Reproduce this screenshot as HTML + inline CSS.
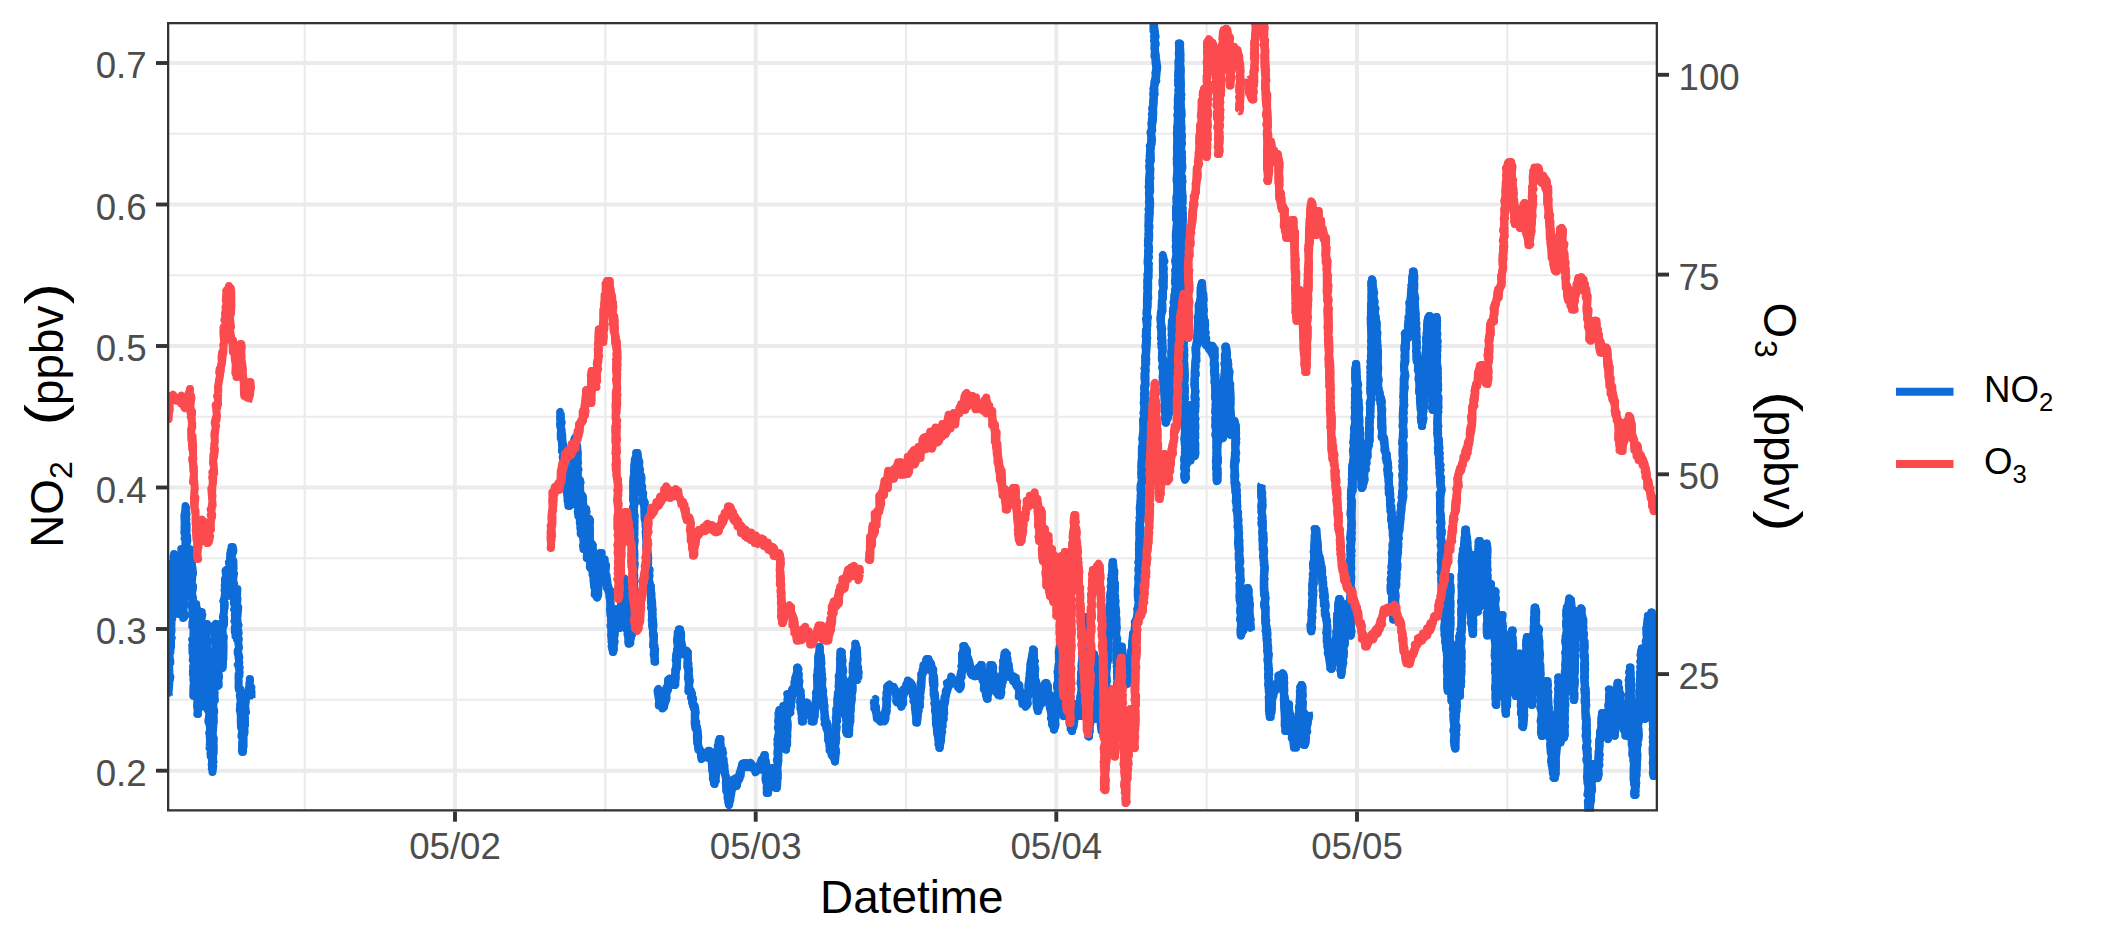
<!DOCTYPE html><html><head><meta charset="utf-8"><title>NO2 / O3 time series</title><style>html,body{margin:0;padding:0;background:#fff}svg{display:block}text{font-family:"Liberation Sans",sans-serif}</style></head><body>
<svg width="2125" height="944" viewBox="0 0 2125 944">
<rect width="2125" height="944" fill="#fff"/>
<defs><clipPath id="cp"><rect x="167" y="22" width="1491" height="789.5"/></clipPath></defs>
<g clip-path="url(#cp)">
<g stroke="#EBEBEB" fill="none">
<line x1="167" x2="1658" y1="133.8" y2="133.8" stroke-width="2.1"/>
<line x1="167" x2="1658" y1="275.2" y2="275.2" stroke-width="2.1"/>
<line x1="167" x2="1658" y1="416.8" y2="416.8" stroke-width="2.1"/>
<line x1="167" x2="1658" y1="558.2" y2="558.2" stroke-width="2.1"/>
<line x1="167" x2="1658" y1="699.8" y2="699.8" stroke-width="2.1"/>
<line y1="22" y2="811.5" x1="304.7" x2="304.7" stroke-width="2.1"/>
<line y1="22" y2="811.5" x1="605.3" x2="605.3" stroke-width="2.1"/>
<line y1="22" y2="811.5" x1="906" x2="906" stroke-width="2.1"/>
<line y1="22" y2="811.5" x1="1206.6" x2="1206.6" stroke-width="2.1"/>
<line y1="22" y2="811.5" x1="1507.3" x2="1507.3" stroke-width="2.1"/>
<line x1="167" x2="1658" y1="63" y2="63" stroke-width="3.9"/>
<line x1="167" x2="1658" y1="204.5" y2="204.5" stroke-width="3.9"/>
<line x1="167" x2="1658" y1="346" y2="346" stroke-width="3.9"/>
<line x1="167" x2="1658" y1="487.5" y2="487.5" stroke-width="3.9"/>
<line x1="167" x2="1658" y1="629" y2="629" stroke-width="3.9"/>
<line x1="167" x2="1658" y1="770.7" y2="770.7" stroke-width="3.9"/>
<line y1="22" y2="811.5" x1="455" x2="455" stroke-width="3.9"/>
<line y1="22" y2="811.5" x1="755.7" x2="755.7" stroke-width="3.9"/>
<line y1="22" y2="811.5" x1="1056.3" x2="1056.3" stroke-width="3.9"/>
<line y1="22" y2="811.5" x1="1357" x2="1357" stroke-width="3.9"/>
</g>
<g fill="none" stroke-width="8.0" stroke-linejoin="round" stroke-linecap="butt">
<g stroke="#0E6CD9">
<path d="M169 696l-0.6 -3.8 0 0.7 0.5 -3.3 0.4 -6.6 -0.1 -2.4 -0.6 -2 1.4 1 -1 -5 1.4 2.3 -1 -2.7 -0.5 1.3 0.5 -3.3 -0.3 -8.7 1.3 -0.7 -0.3 -3.4 -0.1 0.6 -0.1 -1 -0.5 -3 0.4 -6.6 0.5 3.3 0.4 -5.5 -0.4 -1 0.8 0.9 -0.1 -7.2 0 0.1 0.7 -2 -1 -0.3 -0.3 0 1.2 -7.2 -0.4 -4.6 0.3 -3.2 -0.1 4.3 -0.4 -1.2 0.5 -3.8 -0.2 -3.3 0.9 0.2 -0.4 -5.5 0.1 -6 0.5 3.1 -1.2 -0.6 0.7 -6.1 -0.3 -5.5 -0.6 -0.9 1.2 -3.2 -0.9 -1.5 1.2 0.1 -0.7 -5 0.8 2 0 0.3 -0.6 -5.1 0 -4.2 1 -1.5 -1.2 3.2 0.3 -9.3 0.6 -1.7 -0.3 1 0.5 -7.5 0.4 1.1 0.3 3 0 -6.1 -0.8 -0.8 1.4 -0.2 0.2 -2.4 -0.4 -5.6 -0.1 1.2 0.5 -0.4 -0.9 1.8 0.3 3.5 -0.1 3.4 0.2 -0.9 0.5 3.1 1 1.6 -1.2 7.4 0.5 -1 -0.3 3.2 1.6 6.5 -0.8 -1.2 -0.6 -1.3 0.4 4.5 -0.1 6.6 1.5 -5.1 -1.3 6.8 -0.1 2.3 1.8 2.1 -0.8 1.9 0.7 5.6 -0.3 -3.1 1.1 1.5 0.3 5.6 -0.6 0.5 0.8 3.9 1 0 -0.3 -1.1 0 -2.5 -0.3 -7.5 -0.8 -1 0.5 -5.1 0.8 -0.1 -0.4 4.1 1.1 -2.3 -1 -2 -0.2 -8.8 0 -2.3 1.4 1.6 -0.7 -0.2 0.6 -3.8 -0.1 -7.3 0.3 5.3 -0.5 -3.6 0.6 -7.3 0.1 -0.8 -0.6 3.6 1.1 -7.3 -1.4 0.7 0.1 -7.3 0.7 1 1 1 0.4 -8.6 0.1 5.3 0.2 -7.8 0.3 -0.9 -0.8 0 1.2 8.7 0.5 -1.8 0 1.4 -1.2 5.8 0.2 -3 0.6 2.1 -0.3 2.4 1 1.1 -0.8 4.2 0.9 4.3 0 0.8 -0.6 3 -0.9 2.4 0.4 1.4 1.1 -1.7 -0.5 3.8 0.2 7.2 0 -1.4 0.5 4.3 -0.4 -1.8 -0.4 3.5 0.4 6.9 0.5 0.4 -0.5 5.4 0.2 -0.5 0.4 1.3 -0.3 1.7 0.8 2.5 -0.1 4.2 -0.6 0.4 -0.4 0 1.3 -3.9 -1.4 0.4 0.6 -8.7 -0.4 -2.6 0.8 -2.2 0.5 4.2 -0.3 -7.9 -1 2.4 1.5 -0.2 0 -8.2 -0.8 -0.6 0.7 3.2 -0.7 -9.7 -0.1 1 0 -5.1 -0.5 2.6 0.8 -3.7 -0.2 -7.1 0.4 3.3 0.9 -7.2 0 4.3 -1.2 -8.4 0.9 -2.7 -1.1 -0.2 1.5 -0.8 -1.2 1.4 1.3 -8.2 -0.4 1.5 -1.1 -6.5 0.7 3.2 0.9 -7.7 -0.2 2.8 0.2 -7.1 0 -2.4 -0.9 1.3 1.1 -1.3 -1.4 -4.7 0.3 0.1 -0.1 -6 0.1 -2.7 0.2 0.2 0 1.8 -0.2 -4.5 -0.2 -3.6 0 -3.1 1 2.2 -0.1 -7.1 -0.6 4.5 0.6 -3.2 0.2 -5.1 0.7 2.1 -0.6 1.3 0.9 4.8 -0.2 -1 -0.3 5.5 -0.4 -0.6 -0.3 -1 1.1 2.3 -1 3.8 1.3 0.7 -0.2 9.2 -0.7 -3.1 0.4 2.2 0 1 1 3.1 -0.7 8.5 0.9 -4.4 -1.1 2.8 0.1 -0.7 0.3 6.5 0.1 -0.3 -0.4 0.4 0.3 2.9 -0.6 1.7 0.9 6.3 -0.4 0.5 0.7 4.8 0.4 3.7 0.5 1.9 -0.9 -0.6 -0.2 7.6 1 -0.1 0.5 -3.9 -0.2 9.9 0.4 0.8 -0.4 -3.1 0.7 5.5 0.1 5 0.3 0.3 -0.3 3.1 -0.2 0.6 -0.8 -4.7 0.6 -3.1 0.9 -2.5 -0.3 1.9 0.2 -1.7 -1.2 -3.4 1.4 0.5 -0.4 -4.9 -0.8 -0.8 0.4 -1.5 0.1 -8.2 -0.1 3.6 1.5 -2.1 -1 -4.5 0.5 -2.4 0 0.4 -1 -3.4 0.4 -6.7 0.2 3.2 -0.5 -3.9 0.9 -2.8 -0.1 0 1.1 5.9 -0.4 2.2 0.7 0.7 -0.3 1.7 1 2.5 -0.5 5.8 1.3 3 -0.8 -6.5 1 9.5 -1.3 -1.1 1.3 0.1 -0.7 2.2 0 1.6 -0.7 9.5 0.7 1.1 0.4 2.8 0.4 -3.7 -1.6 4.5 0.9 -2.1 -0.3 6.3 0.1 -0.6 0.9 3.8 -0.1 -0.6 -1.1 9.8 1.1 3 -0.8 2 0.2 -2.5 0.4 7.8 -0.2 -3.5 -0.7 1.5 1.4 0.7 0.3 3.8 -1.2 1.9 -0.1 4.6 1.4 1 -0.3 6.8 0.3 0 -0.7 5 -0.8 0.2 0.8 0.3 0 4.3 0.3 2.5 -1 -2 0.2 8 0.4 -1.9 0.8 0.7 -0.9 8.4 0.2 -0.7 0.2 1.4 -0.4 -1.3 1.4 2.6 -1.2 4.9 1.4 5.9 -1.5 -1.9 0 -0.1 0 3.6 0.3 1.3 1.2 5.2 -0.8 3.9 0.2 -0.8 -0.3 1.9 0 -0.6 -0.3 10.4 1 -1.9 -0.2 2.2 -0.5 0 0.1 -6.4 0.4 -1.1 0.7 2.8 -1.4 -2.9 1.2 -9.8 -0.4 5.6 -0.8 -4.9 1.7 -4 -0.1 1.7 -1.1 -0.8 -0.1 -10 0.9 1.5 0.1 1.6 0.1 -4.8 -0.3 -3.9 0.4 -6 0.3 -0.4 -1.1 1.5 -0.1 -6.9 0.9 2.4 -1.1 -6.9 0.9 1.5 -0.6 -3.4 -0.4 -0.3 0.8 -4.8 0.4 3.7 -0.3 -2.9 -0.4 -8 0.9 4.3 -1.2 -8 1.2 -0.5 -0.8 -2.9 1.3 0 -1.6 -6.1 0.7 -1.2 -0.4 0.9 1 -1.2 -0.9 -4.8 0.2 2 -0.1 -3.5 0.5 -5.1 1.2 0 0.3 5 0.8 0.3 -1.3 4 0.4 -0.2 1 6.1 -1 -2.4 1 2.8 -1.6 1.5 0.6 1.5 0.9 9.7 0.2 0.7 -1.2 4 1.1 -4.6 -1.6 7.3 0.7 1.4 -0.1 -0.4 -0.6 0.4 0.7 3.1 -0.4 8.3 0.1 2.3 1.1 -3.3 -0.6 6.4 0 -4.8 0.9 5.1 -1 0.6 -0.6 8.5 1.4 -2.2 -1.4 5.4 0.1 -4.4 0.4 10.2 1.1 0.6 -1.1 -1.5 0.6 7.8 0.2 -4.1 -0.7 2.7 0.8 -0.6 -0.2 9.8 -0.2 -1 -0.8 6.2 0.9 -4.2 1 8.7 -1.2 -3 0.5 2.6 -0.4 6.6 1.1 1.1 0.1 2.4 -0.7 0.2 0.2 -0.4 0.3 3.8 -0.7 0 1.3 -7.1 -1.2 -1.7 0.9 -4.1 0.9 0.4 0 2.9 -1.5 -7.8 0.8 -3.6 -0.1 3.3 0 -6.5 0.6 1.3 0.3 -1 -1.2 -2.9 0.4 -0.6 0.2 -4.6 -0.3 -0.7 0.1 -6.6 1.3 -3 -1 1.7 1.3 -3.9 -1.3 -1.1 0.8 0.5 -1 -0.5 1.4 -6.9 0.2 1.2 -1 -9.4 -0.2 -1.5 0.8 5.5 -0.3 -2.5 0.2 -2.8 0.6 -7.6 -1.1 4 1 -5.4 -0.2 -3 -0.1 -4.7 -0.2 -2.8 0.8 -1.2 -0.6 1.4 0.4 -7.9 -0.2 3.9 0.2 -5.5 0.7 2.2 -0.7 -8.7 0.9 0.8 -0.7 0.1 1.2 -5.6 -0.2 0 -0.3 1.4 1.2 1.3 -0.6 2.2 -0.3 2.6 1.1 6.7 -1.4 -2.3 0.1 5.5 1.3 -4.3 -0.1 6 0.2 2 -1.3 2.7 0.8 -1.8 0.7 7.8 -0.5 -2.8 -0.2 4.7 -0.3 0.2 1.2 5.6 -0.7 -1.5 0.9 8.4 -1.5 -3.3 1.6 9 -1.6 -2 0.6 6.2 0.5 2 -0.8 1.5 0.2 1.8 1.1 -1.2 -1.1 6 0.4 -3.3 0 4.9 0.3 2 -0.3 -1 1.3 7.5 -0.4 -3.9 -0.8 8.7 0.3 3 1 0.1 -0.3 2.5 0.7 0.4 0.3 2.3 -0.2 2.4 0.4 -1.5 0 6.5 -0.4 -2.3 1 0.2 -1.1 -5 -0.1 -2.1 0.6 -5.3 0.1 -2.6 -0.7 1.6 0.1 -1.1 1.3 -1.4 -1.3 -4.2 0.6 -2.3 -0.4 1.8 1.6 -3.1 -0.3 -3.4 0.4 -7.1 0 0.5 -1.4 1.6 1.4 -3.4 -1 -8.7 -0.3 3.9 0.2 -0.9 -0.2 -3 1.4 -5 -1.1 -4.9 0.1 0.4 -0.2 -6.4 1.4 -1.1 -0.1 2.4 -0.1 -6.8 -0.5 0.7 0.2 -5.8 -0.2 2.5 0.5 -0.2 0.8 -4.9 0.3 -6.6 -0.9 2.5 0.3 -3.5 -0.4 4.9 0.6 3.9 0.4 -3.5 -1.1 2.9 -0.2 4.8 0.4 2.9 1.4 0.6 -0.6 1.6 -1.1 -0.2 0.3 -0.4 0.5 7.4 0.9 1.3 -1.2 -1.3 -0.4 6.9 0.7 -3.7 0 3.1 0.4 3.2 -0.6 5.5 0.5 2.5 0.9 -2.3 -1.4 3.2 0.9 0.8 0.3 9.2 -0.9 -2.1 0.7 -1.3 -0.5 7.1 0.2 2.9 0.5 4.8 0.4 -4 -0.7 0.3 -0.5 5.5 1 -1 -0.4 1.8 -0.7 9.7 0.7 -1 0.3 -0.5 0.2 5 -0.8 5 0.4 -2.3 1.2 -0.2 -0.2 8.9 0.3 -4.8 -0.6 8.9 0.1 2.2 -0.5 -2.4 0 2.2 1.4 3.2 0.3 5.4 -1 2.4 0.5 0.8 0.2 4.4 0.3 -2.5 -0.1 4.3 -0.3 6.3 -0.2 1.4 0.5 -3.5 1.5 6.5 -1 2.2 0.2 3.3 1.2 -3.6 -0.2 5.6 0.7 2.5 -0.1 0.4 0.2 4.1 -0.1 -0.2 -0.6 3.4 0.8 -1.1 -0.1 4.7 0.8 -6 -1.6 -1.6 1.7 -2.5 -1.4 0 -0.1 -5.1 1.1 3.8 0.2 -2.1 -0.2 -7.9 0.5 0.5 0.2 2 0 -9 0.1 5.4 -1.2 -9.4 -0.3 -2.1 1.4 4.4 0.1 -4.1 -0.9 -2.2 -0.3 -7 0.2 3.8 0.5 -6.2 -0.3 -4.8 0.9 0.1 -0.7 -1.4 0.4 3.2 0.2 -3.2 -0.3 -9.5 0.7 1.4 -0.1 -3 -0.8 -0.4 -0.2 0.7 0.2 -2.6 0.1 -8.2 0.6 1 0.9 0.2 -0.8 -9 0.6 2.2 -0.5 -4.9 0.6 -0.7 0.3 -3 -1.3 -1.9 0.5 1.5 0.3 -7.5 0.3 -2.4 0.1 3.4 -0.7 -2.8 0.1 -4.2 -0.5 2.2 -0.1 -2.2 0.5 -8.3 0.4 4.1 0.8 -6.9 -0.8 -3.5 0.6 0.6 -0.1 -0.2 -0.6 -5.8 1 -3.9 -0.1 2.3 -0.5 -6.6 0.3 3.3 -0.2 -8 -0.4 4.7 0.2 -8.4 1 2.4 -1.2 -7.1 0.4 -1.4 -0.3 0.3 0.1 -3.9 0.6 -0.6 0.5 6.5 0.5 -5.6 -0.9 2.3 0.8 10.2 -0.5 -0.1 0.4 -2.5 -0.7 1.4 -0.2 4.8 1.5 2.3 -0.5 4.9 0.1 1.7 0.3 -2.1 0.4 4.6 -0.5 6.8 0.7 -0.8 -0.4 1.6 -0.4 1.5 1.3 4.8 -0.3 2.7 0.1 2.8 -0.4 0.3 0.4 -0.8 -0.3 0.2 0.7 8.4 -0.8 0.8 0.5 0.3 0 3.9 0.2 1.1 0.8 -0.6 -0.4 -6.7 -0.4 3.2 1.1 -4.8 -0.8 -6.3 0.5 -1.1 -0.4 4.8 0.2 -9.8 0.3 1.7 -0.1 -2.4 -0.2 0.6 0.8 -6 -0.4 -4 0.2 -0.6 0.5 -4.6 -1.6 -0.1 0.6 -3 0.1 -4.5 0.6 1.4 -0.8 -2.8 1 -3.4 -0.4 4.2 0.6 -8.7 -1 -0.6 1 -4.6 -0.2 3.9 0 -5.3 -0.1 -1.9 1 0 -0.3 3.2 0.5 6.5 -0.7 -0.8 -0.1 3 0.6 4.8 0.5 -0.7 -0.3 5.3 0.1 -2.1 0 2.6 1.1 -1.7 -0.8 4.7 0.6 2.3 0.4 3.3 -0.4 4.3 1 4.5 0 -5.6 0.1 9.7 0.2 -4.7 -0.5 5.4 -0.8 -1 1.7 -7.8 -1.2 3.6 -0.1 -7.2 1.1 -1 -1 -1.1 1.2 2.8 0.2 -8.8 -0.2 1.7 0.3 -1.6 -0.1 -1.1 -0.2 -7.5 0.2 0.8 0.3 -3.1 -1.1 -1.1 -0.2 -5.1 -0.1 0.1 0.2 -2.4 0.7 -2 0.7 -1.7 0 -7 -0.4 2 0.5 -0.5 -0.7 -4.8 -0.6 3.1 1.1 -5.1 0 -7.7 0.6 3.7 0.2 -5.3 -0.9 -0.6 0.1 -2.3 -0.7 1 1.2 -3.3 0.6 -5.6 -0.6 -1.9 0.7 -0.7 -0.5 -5 0.4 -0.2 -0.3 1.5 0.3 -2.1 -0.1 -5.1 1.4 -2.1 -0.2 -0.8 -0.7 -5.1 0.5 -0.6 0.3 0.4 0.5 5.1 0.1 -3.1 -0.2 9.7 -0.2 -5.3 -0.1 1.8 1 10.4 0.5 -0.2 -0.2 4.4 0.2 -0.5 0.1 2.9 0 0.4 -0.4 -0.6 0.6 -2.4 -0.5 -1.4 0 -7.5 1.7 3.1 -0.9 -3.3 0.9 -0.7 -0.8 -4.6 0.4 -4.6 0.1 -2.1 1.1 0.6 -0.6 -7.5 -0.7 -2.4 1 4.7 -0.1 -1.3 0.2 -6 0.2 -6.5 1.4 3 -0.5 1.3 -0.3 -7.3 0.6 0 0.9 -3.5 -0.8 0 1.3 0 0.6 3.2 -0.2 1.9 -1.4 2.6 0.5 7.5 -0.1 2.4 1.2 -4 0.2 8.2 -1.3 2.4 1.2 1.2 0.4 0.7 0.2 0.4 -1.7 6.4 1.2 -4.1 -0.9 9.4 1.2 -2.4 0.3 0.9 -1.3 5.1 1 1.2 0.2 2.8 0.3 -0.4 -0.2 4.2 -0.2 3.4 -0.1 3.4 0.8 0.1 0.1 7.3 -0.8 -1.2 1.3 -2.3 -0.1 8 -0.4 -1.1 0.5 8.1 -0.8 -1.1 1.1 0.7 -0.2 1.7 0.4 4.3 -1 4.1 0.1 -5 0.7 6.1 -0.1 2.9 0.8 0 -0.1 -8.6 0.2 4.7 -1 -4.4 1 0.3 0.3 -3.8 -1.4 -5.2 1.3 -0.4 0 -5.4 -0.9 4.3 0.9 -5.2 -0.8 -3.5 1.1 -4.1 -0.5 2.6 0.7 -8.6 -0.9 3.9 1.2 -3.9 -0.6 0.5 0.2 -5.9 -0.6 -4.3 0.6 0 0.4 0 -0.2 3.2 0 2.6 -0.8 -0.1 0.6 9.9 0.5 -5.8 -0.8 8.3 0.4 0.5 -0.6 1.5 1.8 -2.1 -0.8 9.7 -0.4 -0.5 0.3 4.1 0.7 3.8 0.4 1 -1.6 -2.8 0.3 1.7 -0.2 1.2 1.5 6.4 0.2 1.4 -1.6 6.3 0.7 -0.6 0.2 1.3 0.9 -1 -0.7 3.2 0.8 5.6 -0.9 2.4 -0.4 0.2 1.6 6.8 -1.7 -4.5 0.7 2.5 1 8 -1.5 1.6 1.3 1.7 0.6 0.9 -1.5 -3.1 1.5 8.4 -1.1 1.5 0.9 1.4 -0.7 -2.2 -0.3 3.5 0.1 4.2 0.1 0 -0.2 6.2 0.4 2.5 0.6 0.2 0.9 -1 0.1 2.8 0 7.9 -0.7 -4.4 1 1.8 -0.4 8.8 -0.4 -1.3 0.3 5.5 -0.5 0.3 0 -1.5 1 6.6 0.7 -3 -0.8 3.3 0.3 4.2 -0.3 -1 0.3 8.3 0.4 -3.9 0.9 3.5 0.2 0.3 0 1.6 -1.1 7.6 0.3 0.5 0 0.1 1.5 3.1 0 7.8 -1 -5.9 -0.3 9.3 0.6 0.6 0.5 0.1 -0.7 0 0.7 -1.5 -0.5 -8.1 1.1 4.1 0 -8 -0.3 4.4 0 -5.2 1.3 -5.6 -0.9 2.6 -0.1 -7.8 0.9 2.6 -0.4 -5.1 1 0.9 -0.1 -0.4 0 -4.9 -0.7 -4.8 0.7 2.6 -0.6 -2.3 0.6 -1.4 1.1 -1.9 -1.5 -5.3 0.9 1.6 -0.3 -2.5 1.1 -8.3 -1.1 -0.6 0.9 -2.1 -0.1 -1 1 -1.6 1 3.6 0.3 -2.6 0.5 -5.1 0.5 4.2 0 -6.6 0.3 -1.6 0.4 -5 -0.4 5.9 0.2 -6.2 0.2 2.2 -0.7 2.4 0.6 5.9 -0.1 -4.9 1.5 2.7 -1.1 0.1 0.4 8.2 0.9 -4.1 0 6.5"/>
<path d="M560.7 413l0.1 2.8 -0.7 3.2 1.1 3.7 -1 -5.3 0.7 6.1 -0.7 0.2 0.1 3.2 1.3 3.8 -0.6 1.3 0.3 -1 -0.5 7.5 1.6 2.9 -0.7 -1.8 0.4 6.2 1 -1.8 -0.9 5.6 0.2 -2.7 1.4 3.9 0.1 5.5 0.1 2.2 -0.4 -4.7 0.2 6.2 1.1 6.3 -0.7 -4.2 0.2 5.6 -0.2 1.3 1.1 1.3 -0.4 -1.5 1.4 10.7 0.1 1.9 0.7 1 -1.2 2.6 1.1 -1 -0.3 3.4 0.2 2.4 1.3 0.9 -1 2.8 0.4 1.2 -0.1 6 0.8 -3.8 0.1 0.5 0 8.6 0.1 -1 1 0.7 0.1 -4.3 -0.4 0.3 0.1 -5.9 0.6 -0.6 -0.1 -2.3 0.7 -3.9 0.2 4.6 0.3 -4.6 0.2 -5 -0.2 0 0.4 2 0.1 3.8 -0.1 -0.3 0.8 1.6 0.3 4.9 0.2 -3.3 -0.3 -5.5 -0.2 5.4 0.5 -5 1 -4.6 -0.3 -2.1 -1.2 -3.5 0.7 4.2 0 -9.5 0.7 1.2 -0.9 -5.2 1 5.4 -0.6 -9.4 0.6 -0.5 0.4 0.2 -0.5 -0.4 0.4 -2.9 -0.4 -2.1 0.5 -2 -1 -1 -0.1 -2.6 1.1 -3.2 -0.1 -4.6 1.3 -1.9 -0.5 -1.3 1.2 0.1 -0.2 -4.5 0 3.2 0.3 0.8 0 4.6 0.6 -0.8 -0.2 2.2 1.2 5.8 -0.5 -0.4 0.3 2.2 -0.3 -0.7 0.5 1.9 -0.8 6.1 0.4 5.2 1 1.5 -1.1 3.2 1.3 -2.6 -1.5 -1.6 0.8 7.2 0.5 5.4 0.5 -1.3 -0.8 2 -0.2 3.7 0.4 -0.8 0.6 2.1 -0.7 5.1 -0.2 -3 0.4 4.9 0.6 3.8 -0.7 5.7 0.3 -2.6 -0.5 7.2 0.9 -2 -0.9 -1.1 1 9.5 -1.3 -2 1.1 4.2 -0.3 0 1 0 -1 -1 -0.2 -8.8 0.5 0.9 -0.5 -5.2 0.8 1.8 0.8 -4.8 -1.6 0.3 1.4 -4.2 -0.1 -3.2 -0.6 -5 0.6 5.3 -0.7 -3.8 0.7 -3.8 0.3 -4.4 -0.2 -0.1 0.9 2.4 -1 2.6 -0.4 -1.9 0 7.9 0.2 -3.8 1.2 6 0 2.9 -1.4 -2.8 0.6 8.6 0.2 1.6 -0.1 -2.7 1.2 1.5 -1 6.5 0.1 1 1 -1.4 0.2 6.9 -0.6 0.9 -1 0.4 1.5 8.3 0.2 -3.4 -1.1 6.7 1.3 0.2 0 1.2 -1 -0.1 0.3 4.5 -0.4 -0.3 1.3 -5.9 -0.1 -0.6 -1 -4.5 0.1 -1.2 0.3 3.3 -0.3 -5.9 0.6 -2.5 -0.5 -3.4 1.5 -4.7 -1 -0.2 0.2 -3.7 -0.4 -1.8 0.6 1.6 0.8 -6.8 -0.7 -1.4 0.5 0 -0.6 5.2 1.3 -1.3 -1.1 5.5 1.1 -1.9 0.4 2.4 0.1 0.7 -1.3 4.9 -0.1 1.7 0.3 4.5 0.7 4 -0.6 -2.6 0 4.4 -0.1 4.6 0.9 -1.1 0.4 0.1 -0.1 3.2 -0.6 3.9 -0.3 0.6 1.4 0.3 -0.3 3.5 -0.1 0.3 0 4.4 -0.7 1.7 0.8 4 -0.4 -3.9 1 -3.9 -0.4 -0.8 0.7 3.4 0.3 -2.5 -0.9 -8.9 0.8 -3.2 -0.5 3.5 0.7 -4.5 -0.6 0.4 0.3 -0.9 -0.2 -4.2 1.4 -6.9 -0.3 3.4 -1.1 -8.5 0.4 -1.1 0.5 -1 0.3 -0.4 -0.3 0 -0.1 5.7 0.7 4 -0.5 1.2 0.9 -0.3 -1.2 1.4 1.5 6.6 -1.3 -2.7 1.1 7.3 -0.6 -5 1.1 2.8 0.3 3.1 -1.5 7.1 0.7 1.7 0.8 2.7 -1.2 -1.9 0.6 8.2 0.6 2.1 0.3 0.5 -0.6 1.2 0.5 -2.9 -0.3 6.2 0.1 -2.8 -0.6 2.3 0 -3.6 1.5 -2.7 -0.4 -6.2 0.2 4.2 -0.6 -6 0.3 -6.5 -0.1 1 -0.1 -3.1 1.1 1.4 -0.7 -6.4 0.5 0.4 -0.1 1.6 1.1 -7.9 -0.5 -3.6 0.6 -0.4 -0.5 -0.7 0.5 2.7 -0.1 -1.2 -0.3 6.1 0.7 3.7 -0.9 -3.6 -0.1 4.4 0.2 -0.5 0.8 3.5 -1 4.5 0.7 1.1 -0.5 2.6 -0.2 -0.4 1.4 10.5 0 -6 -0.3 10.3 0 -5.6 -0.5 5.2 -0.3 3.2 1.2 5.6 0.6 -0.4 -1.2 2.4 0.5 0.9 -0.5 -4.5 1.3 -4.1 -0.8 5.1 0.8 -8.1 0.6 3.8 -0.1 -8.3 0.1 3.8 -0.9 -6.7 0.4 2.3 0.6 -6.3 0 -1 0.7 1 -1.3 1.1 1.1 5.1 0.3 4.5 0.5 3 -0.7 -1.5 -0.2 -0.8 -0.3 6 0.2 3.2 1.6 0 -1.6 -1 0.4 5.4 -0.2 4.7 1.6 3.3 -0.7 1.7 0.6 -2.3 -0.4 4.3 0.2 0.6 0.2 3.7 1.2 3.8 -0.6 4.4 1.1 -3.1 0.4 4.7 0.9 1.7 -0.6 -4.9 0.8 -0.9 0.9 3.7 0.2 -3.1 -0.5 -1.2 -0.9 -3.5 1.1 -3.3 0.1 -5.5 -0.1 3.7 -0.2 -4.8 1.2 -4.9 -1.2 -3.8 0.7 1 0.1 -0.5 0.7 -7.5 0.1 0.5 0.1 -1.8 0 -0.7 -0.2 -6.2 0.9 4.8 0.2 -5.6 1.4 0 -0.7 2.4 1.4 4.6 0.4 1.9 1.4 1.3 0.7 1.8 0.3 -0.2 0.1 1.2 -0.6 6.6 0.2 0.6 1.7 2.6 -0.1 3.2 -0.9 4.1 1.3 4.4 0.4 -5.7 -0.4 5.8 0.4 0 1.7 6 0.9 -3.2 -0.6 4.7 0 2.2 0.6 -2.7 0.5 0.2 -0.4 4 0.3 6.7 0.4 3.8 0 2 0.6 2.7 -0.1 -4.6 0.1 3.8 0.2 5.2 -0.7 -2.8 1.1 7.7 -1.6 2.1 0.2 1.1 1.4 1.7 -0.5 1.8 0.9 -1 -1 7 0.5 -2.2 0.3 8 -0.8 -4.3 1.5 2.2 -0.3 2.9 0.4 3.1 -0.8 3 0.8 3.3 0.2 0 0.7 -2.6 -1.3 0.2 0.4 -7.6 1.5 -0.7 -1.3 0.6 1.5 -7.7 -0.6 2.3 -0.2 -3.9 0.6 1.2 0.5 -1.9 -0.3 -9.3 1.2 -0.9 -1.4 1.2 1 -2.9 0 -5.2 0.7 0.5 -0.1 -2.9 0.7 -3.4 0.2 0 -0.6 0.6 2 3.3 -1.2 -1.7 0.5 7.8 0.7 -1.5 0.4 2 1 4.5 -1.4 4 1.1 0 0.7 -1.6 0.2 0.6 -0.1 -4.3 -0.4 -4.5 1.2 1.7 -0.1 -0.9 0.3 -7.8 -0.2 1.7 -0.1 -3.1 0.3 -2.9 0 -6.5 1.4 0.2 -0.7 -0.6 0 -2.3 -0.1 -4.3 0 -1.2 1.6 -5.2 -0.6 1.8 -0.1 -1.1 -0.2 -5.7 0.7 -1 0.6 1.7 0.1 -4.2 -0.1 6.1 0.5 2 -0.5 -5.4 1.6 6.6 -0.3 0.1 0.3 2.8 -0.5 -1.1 -0.2 9.7 -0.3 -3.7 0.6 1.4 0 7 0.1 -0.6 1.4 3.9 -1.1 2.6 1.5 2.9 -1.4 1 0.9 1.2 0.9 5 -1.2 -2 0.9 0.8 0.4 8.4 -0.6 2.6 1.2 -3.2 -0.4 5.1 0 2.5 0.4 -3.4 0.6 2.1 -0.1 4.8 -0.2 4.6 0.6 1.3 -0.3 -2.5 1.7 2 -0.3 -1.6 1.4 -6.5 0.9 -1 -0.7 -4.5 0.5 -3.6 0.4 3.5 1.2 -4.4 -0.1 0.6 0.3 -4.6 0.1 -2.1 -0.6 -1.8 -0.1 -0.9 0.9 -2.5 -0.8 -1.6 1.2 -2.2 -1.3 -5.1 1.2 -1.5 -1.7 -5.7 1.2 0.9 -0.5 0.5 -0.3 -0.3 -0.2 -4.3 0 -8.7 0.7 -1.9 -0.6 2.2 0.4 1.3 -0.4 -9.3 1.4 3.1 -1.6 -7.4 0.3 3.4 0.5 -0.4 -0.3 -5.3 0.2 -0.7 0.8 -6.5 -0.3 -4.1 -0.1 -2.6 0.4 0.8 -0.6 -5.2 0.7 0.9 -0.6 2.7 -0.6 -8.7 0.3 -1.9 -0.4 -2.4 0.8 2.5 0.6 -6.3 -0.8 -3 0.6 -2.7 -1.1 4.2 1 -3.2 -0.9 -6.4 1 -0.4 -0.4 -5.1 -0.4 1.7 0.8 -2.3 0 -5.5 -0.2 -0.9 -1.1 2.4 1.5 -2.2 -0.9 -5.5 -0.8 -4 1.7 -3.9 -0.1 -3.1 -0.3 -0.9 -1 -2.7 -0.2 3.1 1.5 -5.3 0 1.2 -1.5 0.2 1.3 -8.9 -1.3 1.9 0.4 -3.9 -0.3 -2.9 1.6 -5.8 -0.2 0.4 -0.6 -3.9 -0.1 -2 0.1 1 0.7 -4.9 0.4 -2.4 -0.8 1.1 1 -3.3 0.1 3 1.4 -8.4 -0.1 4 -0.6 -7.6 0.9 0 -0.5 0 1.1 0.1 0.4 5.4 -0.6 1.8 1.4 5 0.2 0.8 1.1 3.5 -0.6 0.4 0.7 5.6 -0.5 -2.1 1.5 2.3 -0.8 1.9 -0.2 2.4 0.1 7.5 1.9 -1.3 -0.5 1.2 0.5 -0.1 -0.4 3.3 0.1 0.5 1.5 7.9 -1 2.8 0.8 0.2 0.7 1.7 1 -0.9 -0.1 -0.7 -0.1 9.8 0.3 -1 1 3.1 -0.5 -1 -0.4 6.8 0.2 1.9 0.5 0.6 -0.4 3.5 0.5 1.8 0.3 -1.4 0.6 2.6 -0.2 4.1 -0.3 2.7 -0.5 -0.5 0.8 8.6 0.1 -1.4 -0.4 4.8 1.2 -3.6 -0.2 4.9 0.6 5.5 -1.4 2.6 1.5 -2.2 -1.2 6.2 0.4 -3.8 0.3 1.8 0.4 8.5 0.1 -0.5 -0.5 1.8 1.9 1.8 -0.7 4.9 0.9 0.3 -0.9 4.8 0.7 1.5 0.1 0.8 0.4 0.9 -0.3 2.4 1.3 0.6 -0.5 1 0.9 6.2 -0.3 4.1 0 -1.4 -0.1 6.7 1.4 0.4 -0.6 -1.8 0.4 7.5 -0.9 -1.7 0.7 2.8 -0.1 4.6 0.8 -0.6 -0.5 5.8 0.5 -1.7 -0.6 7 1.1 2.5 0 -3.2 -1 1.7 0.9 3.7 -0.1 4.6 0.4 0.2 0.6 5.6 -0.2 -5.6 -0.1 6.2 0 5.7 1 -1.1 -0.5 2 0.7 2.9 0 3.7 -1.2 -0.2 1.1 4.8 0.5 3.1 -0.8 -3.6 0.6 5.7"/>
<path d="M657.5 690l0.9 -1 -0.9 1.7 1.2 8 0.6 -4.1 0 8 0.7 -3.7 0 6.1 1.2 -0.2 1.4 3.8 -0.2 0 1.6 -1.6 0.4 -3.7 1.2 -5.2 -0.9 0.1 0.4 -1.9 0.9 2.7 0.1 -5.4 0.2 -5.6 0.7 1 1.1 1 -0.3 -1.9 0.2 -8 1.2 1 0.8 -2.4 1.2 1.3 1.3 2 1 2.3 1.5 0.7 -0.4 0 0.8 -0.6 -0.4 -10 0.3 2.1 0 -1.9 1 -4.8 0 -2 -0.1 2.4 0.7 -5.3 0 -2.3 -0.6 -5.6 -0.6 3 0.2 -0.2 0.3 -4.6 0.8 0.8 0 -6 0.2 0.4 0.6 -3.4 -0.7 -5.7 0.2 2.6 0.3 -1.6 0 -9.6 1.8 3.8 -0.3 -5.6 -0.1 -1.5 1.1 0 -0.9 5.9 1.4 -3.5 0.6 2 -0.2 6.2 -0.1 0.3 0.6 4.8 0.1 2 0.7 4.9 0.7 -1 0.3 3.4 2.4 -0.1 -0.7 -3.4 2 0.2 0.7 1.4 0.2 -0.3 -0.1 1 0 7.8 -0.4 1.8 0.1 3.5 1.6 3 -0.7 2.3 -0.3 -3.7 0.4 6.3 -0.6 3.8 1.4 -1.8 -0.5 3.2 -0.6 -2.5 1.5 3.9 -1.2 7.3 -0.2 2.9 1.8 -0.8 -0.8 1.3 1.9 -0.2 0.3 2.6 -0.5 3.5 1 -0.9 0.8 1.2 0.4 1.4 -1.1 3.1 1.1 3.8 1.3 0 -0.6 2.6 1.3 2.1 -0.4 2.5 0.2 -3 0.3 2.7 0 2.4 -0.3 4.1 -0.2 4.9 1.5 -2.4 -0.7 5.1 1.4 -0.2 0.2 2.9 0.1 5.6 -0.5 -4.3 0.1 8.7 0.9 -1.2 0.1 -1.2 0.2 2.6 -0.1 5.3 0.2 -0.5 0.3 4.9 0.2 -0.5 2.1 2.4 0.2 4.5 1.6 0.5 1.1 -3.8 0.1 4.8 1.6 -0.9 0.9 -0.1 0.7 -1.5 1.4 -3 0.1 -1.2 1.2 -0.1 0.8 2.3 1.3 -0.7 -0.6 5.8 0.5 -0.6 1.2 2.5 -1.1 3.3 1.1 -2 -0.8 8.9 1.3 -1 -0.4 4 0.4 2.3 -0.6 3.2 0.9 2.5 -0.4 -2.6 1.3 0.8 -0.2 4.6 -0.4 -0.6 0.1 -5.2 0.4 -3.5 1.5 -0.9 -0.1 3.8 -0.4 -6.9 1 0.5 -0.3 -2.4 0.1 -7.1 0.5 3.6 -0.3 -5.3 0.7 -5.8 -0.7 0.2 1.3 3.5 -0.7 -4.1 1.8 -1.3 0 -1.5 0.4 -2.7 -0.4 -4.3 1 0 -0.2 -5 0 5.5 0.8 3 -0.4 2.1 1.6 1.4 -0.2 -1 1 0.1 -0.8 2.2 0.4 4.3 1.6 2.7 0 4 0 0.7 0.8 1.3 0.1 5.8 0.5 3.6 -1 -2.5 1.6 4.4 -0.1 -0.5 0.6 6.7 -0.2 -0.8 0.3 -1 -0.5 0.8 0.9 9.3 0.3 0.2 -0.2 -0.3 1.5 2.2 -0.8 4.5 0.3 -2.7 0.6 7.6 0.9 1.8 -0.3 0.6 0.6 -5.6 0.6 -2.8 -0.8 -0.9 0.5 4.8 1.2 -8.7 0.3 1.3 -0.4 -3.1 0.4 -3 0.4 3.1 -0.2 -1.7 0.4 -3.4 1 -5 0.1 1.6 2.7 -1.9 0.8 3.9 0.4 1.7 0.4 -4.7 1 -3.6 0.6 1 0.5 1 1.3 -6.4 0 2.6 0.2 -5.7 1.2 -5.3 1.6 1.8 0.2 -1 1.2 -1.3 0.3 2.3 1.4 -1.1 0.6 -0.3 0.9 2.4 1.7 -3.3 0.6 -0.7 0.3 2.4 1.1 2.5 1.4 -1.2 0.5 1.4 1.4 4.2 -0.2 -0.7 1.8 -1.6 0.6 -1.8 1.9 1.4 1.2 0 0 -7 -0.5 1.9 1.7 -3.6 0.1 -0.9 0.5 -0.4 1 -0.6 1.3 -4 0 2.6 0.6 6.2 0.2 0.7 0.6 -1.6 -0.3 5.2 -0.8 -1.7 1.4 4.9 -0.8 4.2 0.5 -3.6 -0.5 8.8 0.2 1 -0.1 -1.6 0.8 2.1 1.2 8.3 -1 -4.8 -0.1 7.3 0.7 0 0.3 -3.8 0.1 -4.1 0.7 0.4 0.2 3 1.6 -9 -0.3 0.5 1.1 -2.4 0.3 -0.4 -0.7 -4.9 1 2 0.9 -3.8 0.1 -2.5 0.1 4.3 1.6 -1.5 -0.7 3.5 0.4 2.9 0.9 0.8 -0.5 4.4 1.3 2.5 1 -2.2 -0.9 1.2 0.8 4.1 0.2 -6.1 0.3 3.9 0.2 -5.3 -0.8 -5 1.3 2.6 -0.5 -2.4 -0.4 -1 0.7 -0.7 -0.6 -7.7 0 2 1 -7.9 -0.6 0.9 0.8 -1 -1 -7.1 0.2 -2.9 0.9 1.7 -0.5 -0.7 0.1 -4.7 0.6 -3.4 -0.6 -0.2 0.7 0.4 -0.2 -7.9 -0.2 3.2 0.8 -0.9 0 -3.6 0.2 -3.1 -0.2 -6.8 -0.1 2.9 -0.9 -6 1.5 0.7 -1 -5.1 -0.1 -2.7 1.7 1.9 -1.1 -1.1 0.4 -4.9 -0.1 3.8 1 3.2 1.2 -5.5 0.4 6.5 -0.1 -5.3 0.7 -2.7 1 2.5 0.3 -6.5 -0.7 0 0.8 0 -0.2 3.3 0.5 -0.5 0.5 1.2 0.2 2.1 -0.4 7.6 0.5 -4.8 -0.4 2.1 -0.7 5.8 1.3 4 -0.5 1.8 0.5 1.5 0.6 -0.4 -0.1 9.1 -0.7 1.9 -0.4 2.4 0.2 -2.4 1.1 1.9 -0.3 4.5 -0.4 -1.1 0.7 3.6 -0.3 -3.1 0.9 -4.1 -0.5 0.7 0.6 -5.1 -0.7 -2.2 0.8 1 0.2 1.5 0.4 -2.5 -0.3 -4.2 -0.8 -8.2 1.2 -2.6 -0.3 4.1 -0.4 -6.3 0.6 -3.2 -0.5 5.3 -0.2 -10.8 1.4 0.6 -0.7 1.8 -0.6 -8.5 1.3 -1.8 0.5 0.6 -0.3 1.8 0.1 -6.2 -1.2 -4.2 0.8 0 0.3 2.9 -0.2 -0.9 1.4 0.6 0.3 8.5 -0.7 4.8 0.2 0.1 1.1 2.5 -0.4 0 -0.7 -5.5 1.3 -1.6 -0.9 -0.7 1.6 1.8 -1.1 -5.6 1.1 1.6 -0.2 -9.6 1.2 2.7 -0.2 -3.5 -0.1 -2.1 0.5 -1.3 1.5 3.9 0.1 0 0.7 -8.1 -0.4 -2.1 1 0.7 0.5 -0.6 -0.8 -4.1 0.3 0.3 0.9 -4.5 0.9 -0.5 0.2 -6.1 0 0 0.1 4 1 -2.7 -1.4 6.3 1.8 -1 -0.9 2.2 0.9 7.2 0.1 0.9 -1.1 -3.1 1.5 9.6 -0.4 -1 -0.3 -1 2.1 2.3 -0.2 4.1 0.4 -0.3 0.1 8.5 -0.6 2.1 -0.3 -4.7 0.3 7.6 1.2 4.2 0.3 -4.9 -0.4 1.9 0.6 1.7 0.3 9.2 0 -5.8 -0.5 6.7 0.9 -1.6 -0.1 -2.5 0.7 -1.3 -1.1 -6.7 0.8 2.1 -0.2 -3.4 0.3 1.1 1.2 -4.3 1.8 1.8 0.7 -4.2 -0.2 1.7 0.7 3.8 0.3 0.1 1.3 7 -0.3 -3.6 1.2 3.4 1.7 4.3 -0.2 2.3 1.8 0 -0.1 -3.3 -0.1 1.5 1.7 -3.5 -1.5 -0.6 0.4 -8.3 1.1 3.5 -0.1 -3.6 0.3 -2.3 0.6 -3.2 0.9 -0.3 0.2 -1.6 -0.2 -4.5 0.7 1 -1.3 -3.4 1.7 -2.6 0.1 -4.4 0.3 -4.5 -0.3 0.2 -0.6 -3.9 0.2 -1.4 0.4 -4.4 0.5 5.7 0.3 -2.6 0.6 -3.1 -1.2 -2.9 0.4 -6.8 -0.2 -4.2 1.4 5.6 -0.1 -7.2 0.3 1.8 -0.5 -2 0.7 -8.5 -0.2 -0.3 -0.1 -0.5 0.2 1.1 -0.5 7.7 1 -1.6 0.6 2.3 0.1 1.2 0.3 4.8 -1.2 -3.1 1.4 4.1 -1.1 -0.2 0.6 6.7 1 4.2 -0.8 -2.6 0.6 6.9 0.3 2.8 -0.7 -2.2 0.9 0.3 -0.6 3.9 0.9 9.1 0.2 -1.1 0.2 2.3 -0.2 1.4 -0.6 0.4 0.2 0 0.4 4.8 0.9 -0.1 0.6 9.9 0.3 -4.1 -1 1.3 0.8 3.3 0.3 5.6 -0.4 2.5 0.7 4 -0.4 1.2 1.1 -0.8 0.5 5 1.4 -1 0.9 5.4 -0.7 0.6 0.2 -3.7 0.3 10.3 1.1 0.1 -0.5 2.3 0.2 -2.5 0.8 9.8 0.7 -0.7 0.2 0.9 -0.1 -0.7 2.2 0 0.1 6.2 1.5 -1 0.2 4.1 0.3 3.4 0.6 -5.5 -0.7 -1.2 -0.3 0.2 1.3 -4.7 -0.7 -1.9 -0.2 2.1 0.1 -7.4 0.3 -0.5 0.3 0.1 -0.7 -0.2 1.5 -4 -1.3 -6.1 0.2 -0.4 1.1 -2.1 -0.9 -5.5 0.1 1.2 0.6 -4.4 -0.6 -3.3 0.8 0 0.3 2.9 -0.5 -10 0.6 3.9 0.8 -1.1 -0.7 -5.6 -0.5 1 1 -1.5 -0.3 -8.6 0.3 3.4 0.3 -9.3 0.6 5.3 -0.4 -4 1 -4.3 -0.2 -2.7 0.7 -4.5 -0.8 -0.8 0.7 3.3 -0.7 -9.4 1 2 0.1 -8 0.2 4.2 0.1 -6.8 0.3 1.1 0.4 -6.4 0 5 -0.5 -3.1 -0.2 -1.8 0.8 -8.4 -0.8 3.9 0.9 -5.9 -0.7 0 0.4 3.8 1.2 0 0.5 5.7 -0.3 0.5 0.6 -1.3 -0.7 4.1 1 4.7 0.3 2 -1.3 3.4 0.2 4.1 0.6 2.3 0.2 -1 1 -0.2 -0.8 3.2 0.7 2.5 -0.3 -0.6 1 3.6 -0.2 0.8 -0.1 4.6 0.7 5.1 -0.7 -1.6 0.7 5.6 1 -1 -1.4 2.2 1 5.6 -0.8 5.5 0.3 -3.7 0.7 5.3 0.9 0.6 0.1 4.5 -0.9 4.8 0.4 2.1 1 -5.8 -1.5 2.7 0.7 3.8 0.5 4.1 1.3 0.2 0.9 0 -0.5 -5 0.7 1.8 -0.3 -3.8 -0.3 -7 0.8 2.8 0.7 -0.8 -1 -0.6 0.7 -6.3 0.9 -6 -1.2 2.3 0.3 -1.1 0.4 -6.3 0.7 0.4 0.3 -6.2 -0.4 2.8 0.8 -1.8 -0.4 -3.7 0.1 -6.6 0.6 3.9 -0.8 -2.5 1.2 0.6 -0.5 -8.7 -0.2 4.4 1.5 -7.1 -1.2 2.2 0.4 -3.6 0.9 -2.8 -0.8 -7 0.2 -1.4 -0.1 -2.8 0.8 1 0 -3 0.5 -5.1 0.2 5.7 0.4 -7.4 -0.7 -1.4 -0.1 -1.7 0.4 -0.4 1.7 -4.9 -0.1 1.4 -0.4 -4.5 0.5 3.6 0.8 2.9 -0.1 -2.2 -0.7 3.2 0.8 7 0.7 2.6 -0.4 -0.8 -0.4 2.9 0.8 -3 -0.3 8.5 -0.3 -3.8 1.4 3 -0.6 0.6 1 4.5 -1 7.3 1 -1"/>
<path d="M874.3 700l1.1 -1 -1.2 9.2 1 -3.7 0.1 1.9 0 3.4 0.7 2.2 0 -1 0.8 2 1.8 6.1 0.4 0.9 1.5 -2.3 0.2 4.1 1.3 -2.2 0.6 -0.4 1.8 2 1 -2.6 -0.5 -6.2 0.6 3.6 -0.1 -2 1.2 -1.4 -0.2 -8.5 0.3 -1.3 0.3 3.3 -1.1 -7.3 1.1 1.7 -0.6 -6.9 0.1 1.8 0.4 -1.7 0.4 -5.5 0.7 0.3 -0.2 -2.5 1.5 -1.6 0.3 0.4 1.4 3.2 1.3 1.8 1.4 0.2 0 -3.2 1.3 3.2 0.1 3.5 0.4 -2.6 1.6 7.5 0.7 1.5 -0.6 2.7 0.8 -0.6 1.5 -0.1 0.9 -0.8 0.9 5.5 -0.4 -6 0.7 1.5 1.7 1.4 -0.8 -6.5 1 -2 0.6 -5.6 0.4 1.4 0.9 -0.5 0.6 -4.1 0.3 1.5 1.5 -7.2 1.2 2.9 0.4 0.6 0.8 2.3 1.4 -2.4 0.9 2.3 0.8 4 -0.3 -1 1.1 7.1 -1.2 -0.7 1.2 0.6 -0.8 0.5 1.9 8.4 -0.5 -5.5 0.3 5.4 -0.1 3.3 1.1 -2.8 -0.4 8.5 0.2 -4 1.3 2.3 -1 1.8 0 8.4 0.9 0 -0.5 -5.8 1.1 -1.7 -0.4 3.7 1.3 -8.1 -0.5 0 0 -5 0.1 5.4 1.3 -8.7 0.6 3.5 -0.5 -5.8 1 -2.5 -0.9 -1 1 -3.5 -0.9 0.2 1.8 -7 -0.1 -3 -0.8 -0.2 0.7 -2.9 -0.4 4.4 0.6 -3.5 0.5 -5.4 1 -5.1 -0.4 -0.6 1.8 -1.4 0.1 1.9 0.5 -5.4 1.6 -6 1.4 3 0.4 -3 0.6 5.7 1.7 0.3 0.3 -1 0.2 -0.1 0.3 3 0 2 1.8 0.6 -0.3 4.5 0.4 1.4 0.4 6.4 0.4 -3.6 0.3 7.2 -0.3 1.4 -0.7 3 0.4 0.7 -0.3 3.8 0.5 -0.5 0.2 4.7 1.1 2.3 -1.2 2.5 1.3 2.7 0 -0.2 0.5 -3.5 -0.6 6.7 0.8 0.2 0.3 6.2 -0.5 -0.4 -0.1 -0.4 -0.2 2.5 0.1 2.9 0.6 6.5 0 -4.4 0.5 8.3 0.6 -0.3 1.2 5.2 -0.4 -2.2 0 7.5 0.7 2.2 0.5 -3.1 -1.2 4.6 1.6 2.3 -0.4 1.4 0.2 -2 0.9 -3.1 -0.9 0.1 0.5 -4.9 0.8 3.3 0.6 -9.7 -0.3 -3 0.4 1.5 -0.9 -2.2 1.6 -1.3 -0.6 0.2 0.9 -7.2 -0.2 0.3 -0.3 0.5 1.7 -1.4 -0.9 -6.3 1.3 0.3 -0.9 -6.7 1 -1.1 0 -3.5 0.4 0.7 0.8 -5.4 -0.5 5.5 -0.4 -4.1 0.9 -1.1 0.2 -5.9 1.3 0.4 0.7 -5.4 -0.9 -3.3 2.2 0.7 -0.1 -1.9 1.8 2.3 1 -4.9 0.2 -1.4 0.4 1.8 2.1 1.9 0.7 -0.6 0.8 1.9 0.6 -1 1.4 2.5 0.3 1.6 1.7 1.4 -0.1 -6.7 0.9 4.2 -0.6 -6.6 0 0.3 1.5 -1.5 -0.3 -5.9 0.4 2.4 0.2 -2.3 0.4 -6.2 -0.4 -0.2 -0.6 1 0.9 -1.2 -0.4 -9.9 1.3 4.3 -0.2 -8 1.2 2.4 -0.2 -4.9 -0.8 -2.7 0.8 0 0.4 0 0.4 5.1 0.5 -2.1 0.5 1.3 1.2 5.7 0.5 0.7 0.5 1.1 1.5 4.7 0.5 2.7 -0.3 2.5 0.2 2.2 0.7 3.5 1.4 1.6 0.5 -2.4 2 3.6 1.8 -0.2 -0.1 -4.8 1.3 -1.2 0.8 -2.3 1.2 0.7 1.3 -3.4 1 0 -1.2 4.8 1.7 4.5 0.2 -2.3 -0.1 7.1 0.2 -2.3 1 3.2 0.9 3.6 -0.5 0 0.2 -1 1.2 8.5 0.2 -0.2 0.9 -0.1 -0.5 4 -0.1 -1.1 1.1 5 0.8 0 -0.7 -8.4 0.6 2 0.9 -3.1 -0.4 -2.2 0.4 3.1 -0.3 -6.2 0.7 -2.8 0 -1.1 -0.2 0.4 0.4 -5.9 1.1 -2.2 -0.9 -0.5 1.2 -4 -0.1 -2.8 -0.1 0 0.1 0 1.8 0 -0.4 2.8 1.1 5.2 0 -1 1.2 7.3 0.8 3.8 0.4 -1.2 -0.4 1.7 1.4 -1 -0.7 4.6 1.8 4.9 0 -0.1 0.5 0.7 2 2.8 0.7 0 0.7 -3.4 -1.4 -7.2 0.2 -1.3 1.4 3.1 -0.6 -7.5 1.1 -1.5 0.9 2.3 0.3 -5 -0.8 -1.5 0.5 -1.5 -0.2 -4.4 1.6 4.4 -1.2 -4.6 0.3 -6.9 1.3 -0.6 -0.1 -4.8 -0.6 3.4 1.6 -4.3 -0.2 -1.6 0.2 2.7 0.6 4.9 0 -2.9 1.2 7.6 -0.2 1.1 0.2 -1 -0.3 -1 1.3 4 0.5 -1.4 -0.2 9.1 0.8 -5 -0.2 6.4 1.2 -0.8 0.9 1.4 0.5 -0.7 1.8 -0.6 1 5.2 0.2 -3.9 0.4 3.1 0.7 0 1.7 6.2 0.2 -1 1.1 4.6 0.3 3.8 0.6 -4 0.3 1.5 0.3 4.1 1.5 -1 -0.2 4.4 0.5 4.6 1.6 -1 1.5 3.6 1 -5.4 0.5 3.8 0.9 -1.5 -0.6 -2 -0.4 1 0.2 -3.6 0.3 -6.6 0.8 3.2 -0.1 -3.5 0.9 -2.1 -0.1 -7.8 -0.3 3.5 0.4 -2.8 1.3 -4.7 0.4 3 -0.7 -6.1 0.4 -2.8 0.6 1.3 0.4 -5.3 0.4 -2.6 -1.2 -1.5 0.3 0.3 0 -2.7 1.2 0.6 -0.5 -4.3 0.7 -3.1 1 -5.5 -0.3 0 0.1 0 0.9 0.7 -1.3 9.4 1 -1.7 0.6 4.5 0.6 -1.2 -1.3 0.8 0.1 7.8 0.9 -3.5 -0.4 3.6 0.7 7.5 -0.2 0.9 0.1 2.8 0.7 -1 0.4 5.9 0.4 2.8 -0.2 -0.9 0 4.3 1 -4.6 -0.2 8.5 -0.6 1.7 1.2 -0.3 0.4 6.7 -0.3 -5 -0.3 5.7 -0.3 -1.2 0.8 4.9 0.2 2.5 0.3 -4.4 1.3 0.3 -0.5 -2 0.9 0.4 1.7 -1.6 -0.1 -9.7 0.4 1 0.5 1 0.7 -4.6 0.5 -6.6 0.9 -1.2 1.3 2.6 0.6 -3.2 0.7 6.2 0.8 -3 -0.4 4.6 0.6 4.3 0.2 -2.4 1 1.7 0.4 1.7 -1.4 0.6 0.7 6.6 0.9 1.7 -0.3 2.3 1.3 5.2 0.9 0.8 -0.1 5 -0.9 -0.2 1.1 -3.8 0.2 10.5 -0.2 -1.4 2 0.9 0.2 3.8 -0.2 1.4 -0.3 -6.7 1.4 -0.7 0.4 -3 0.1 -0.8 -0.8 0 0.4 1.8 -0.4 -4.7 1.9 -1.1 -0.2 -8.7 -0.8 -0.9 1.1 -1.4 0.9 3.1 -0.7 -6.4 0.3 1 -0.7 -3.9 0.9 -1.5 0.7 -5.5 -1.2 -3.1 0.1 -3 1.3 1.7 -0.4 -6 0.2 1.5 0.1 -3.6 -0.8 -5.7 0.5 1.5 0.1 0.8 0.1 -1.5 0.6 -8.8 -0.2 0.5 -0.1 1.3 1.3 -3 -0.5 -4.2 0.3 2.1 -0.9 -8.8 0.6 -3.1 0.7 -2.1 -0.5 0.9 0.5 -1.5 0.9 2.3 -1.4 -0.2 0.4 2.8 0.8 7.7 -0.9 -2.1 0 -1.3 1 9.5 0.1 -4 -0.2 1.3 -0.6 4.7 1.2 5.9 -0.9 0.1 0.5 3.7 -0.5 2.1 -0.1 4.4 0.8 -3.9 -0.5 2 1.7 6.6 -1.2 -0.9 0 5.2 0.6 0.7 0.5 1.2 -0.7 2.4 0.9 -1.1 0.9 10.4 -0.6 -5.9 -0.3 5.7 0.8 3.7 -0.2 3.4 1.1 3.3 -1 -2.1 0.9 2.4 0 -2.1 1.7 -0.2 1.2 -3 0.2 -6.7 -0.5 4.7 1.4 -4.7 -0.5 0.6 1.6 4.6 0.3 0.2 0.3 2.4 0.8 1.4 -1.4 3.7 1.6 -0.8 0.2 9.2 0.8 -4.2 -1.1 7.4 1.4 -0.8 0 3.3 -0.5 -6.7 1.8 0.9 -0.6 3.5 1.1 -3 0 -2.7 0.5 -1.3 0.2 -2.4 0.2 -9 0 0.3 0.7 -3.2 -0.2 -0.4 0.8 -3 0.7 0 0.5 4 0.2 3.5 0.9 0.8 1.4 3.7 0.3 0 0.1 0 0.8 -6.7 -0.9 0.2 0.2 -4.2 0.8 1.6 -0.1 -4.3 -0.4 -4.6 -0.1 -0.9 0.9 -2.2 -0.9 1.2 1.1 -6.7 -0.1 1.6 0.1 -2.4 -1 -5.4 0 -1.5 1 3.3 0.9 -4.9 -1.3 -1 -0.1 -6.4 1.2 2 -0.6 -5 0.3 -4.2 0.9 1.8 0 -1 -0.7 -5.8 1.1 -3.4 -1.4 -3.3 1.4 -1.4 -0.9 3 1.1 -2.2 -1.2 -6.1 0.4 1 1.1 -8.1 -0.9 0.7 -0.1 -0.8 0.3 -7.4 -0.6 1 1.4 -2.3 0 -2.5 -0.8 0.4 1 -7.6 -0.6 3.1 1.1 -5.9 -1.1 4.2 0.6 -5.9 0.2 3 -0.9 -0.2 1.2 2.2 -0.2 4.7 -0.5 -2.2 0.4 3.9 1 2.7 0.2 -0.1 -0.2 3.3 -0.4 2.2 -0.9 3.4 1.4 6 0.1 -2.6 0.4 4.1 -1 -1.6 0.5 3.7 0.4 7.1 -0.7 0.2 -0.5 4.4 1.3 -2.7 0.5 3.8 -0.9 -0.9 -0.8 3.2 0.2 1.2 0.7 4.6 -0.2 3.5 0.5 3.9 -0.6 4.7 0.7 -2.1 0.7 1 0.1 0.7 -0.9 3.5 0.5 4.5 -0.8 -0.8 0.6 8.2 0.6 -5.3 -0.6 5.9 0.4 1.9 0.8 0.6 -0.7 2.2 0.1 7.7 -0.2 -2.8 1 4.5 -0.3 0.2 0.9 0.2 0.2 4.1 -0.1 1.4 -0.7 -0.9 0.9 10.5 -0.1 -0.4 -0.4 0.3 0.9 -0.6 -0.5 6.9 -0.1 1.7 0.8 0.8 -0.4 -1.1 0.4 -3.1 -0.2 -1.8 1 -2.7 -0.4 -5.3 0.6 2.8 0.5 -2.7 -0.8 -2.6 1.2 -3.3 0 -1 -0.4 -4 0.8 3.3 -1.1 -5 0 -2.5 1.9 0.8 -1.2 -4 0.6 -4.2 -0.5 0.9 0.8 -2.3 0.8 -9.5 0 1.6 -0.4 0 -0.5 -0.6 0.3 -1.8 0.2 -10.1 -0.4 -1.8 0.2 2.8 0.4 -6.4 1.3 -1.1 0 3.5 -0.6 -1.5 -0.2 -3.9 1.1 -1 -1 -3.9 1.4 -8 -0.4 2 -0.8 0.5 0.8 -5.4 0 4 0.1 2.9 1 -3.1 -0.3 2.9 -0.8 7.1 0.3 1 -0.2 -2.1 0.3 8.7 0.4 -1.8 0.5 -2.2 0.3 8.6 -1.1 -1.3 1 2.1 -0.5 5 -0.4 0.9 0.7 5.7 0.6 -1.5 0 -0.6 0.2 3.5 -0.8 -0.1 0.4 7 0.3 -0.1 -0.2 0.7 0.7 0.2 0.2 4.5 -0.4 4.8 -0.7 2.8 0.4 3.6 0.9 1.8 -0.4 0 0.9 -0.5 0.1 -4.4 -0.5 2.5 0.8 -9.8 -0.1 1.6 1.6 -4.4 -0.3 0 -0.4 1.2 1 0.4 0.1 2.4 0.2 5.3 1 2 0.4 -2.1 -1.4 3.8 1.2 7.4 -0.4 0.2 0.5 4.4 0.1 1.8 0.7 0.2 0.5 -1.6 -0.1 -4 0.5 -5 -0.7 3.5 1.3 -3.5 0.4 -6.3 -1.2 4.7 0.3 -7.8 0.2 -2.2 0.5 0 0.6 -4 0.8 -1.5 -1 0.9 0.9 -4.2 -0.8 -4.7 0.3 -1.3 1.3 1.1 -0.9 0.5 1.1 -10.9 0.4 1.2 -1 -2.4 1.3 -5.1 -0.8 1.7 0.7 -2.9 -0.4 1.3 0 -8.1 0.1 4.2 0.4 -4.3 0.1 -4 0.1 -4.1 -0.8 3.3 1.6 -6.7 -1.5 3.3 1.3 -5.4 -0.2 -0.3 -0.2 -8.6 0.9 3 -0.1 -6.8 0.2 1.9 -0.3 -6.9 0.2 1 0.3 -3.8 -0.7 -2.1 0.4 0.8 0.2 -1.2 1 -4.4 0 -6.1 0.6 -2.6 -0.3 -2.7 -0.8 0.9 0.7 -2 -0.6 -2 0.5 -1.3 0.3 1.8 -0.1 -7 0.3 2.6 1 -5.1 0 -4.5 -0.3 -1.3 -0.6 -4.2 0.8 -4.4 -0.3 5.3 1.2 -6.2 -1 -3.7 0.6 0 1 1.5 -0.4 -8.5 -0.8 -0.7 1.7 -2 -0.4 -3.5 -0.8 1.5 0.2 -0.3 1.2 -7.9 -0.4 -4.8 0.3 -0.1 0.2 0 -0.5 0 0 2 0.3 1 0 6.1 0.6 5 -0.2 -2.9 -0.2 7.5 0.2 1.4 0.7 4 0.9 -0.9 -1.3 -2.2 1.1 7.6 -0.5 2.4 0 0.3 0.3 1.7 0.1 3.5 0.5 1.5 0.3 0.2 0.4 0.5 -0.9 5.9 0.5 -1.2 0.5 5.7 -0.5 1.1 -0.1 6.9 1.2 3 0.1 2.3 -0.1 -4.4 -1 5.5 0.9 5.6 -0.1 0.6 0.6 -4.4 -1 3.1 0 6.2 1 0.8 -0.3 2.6 0.4 -1 -0.3 1.8 0.4 7.1 -0.8 -3.3 0.4 10.4 0.1 -2.6 0.7 4.6 -0.6 1.7 0.3 1.5 0.9 -1.3 -0.3 9.2 -0.5 2.4 -0.3 0.8 0.9 1.3 0.3 4 -1 1.6 0.5 1.3 -0.2 -2.1 1 6.6 -0.3 2.6 -0.9 -3.9 0.2 5.7 0.6 1.6 -0.2 0.5 1.6 0.4 0.1 5.1 0.7 -4.7 0.1 -1.3 -0.9 -2.5 -0.4 -1.4 0.7 -1.9 1 -6.1 -1.5 1.1 0.5 3 -0.2 -8.6 1.3 -3.7 -0.3 2.1 -0.3 -5.2 0.3 4.2 1 -2 0 -10.1 -0.2 -3.1 0.1 4.8 0.3 -4.6 -0.4 -5.8 -0.2 -1.2 0.7 -2.4 -0.3 0 0.8 3 0 2.8 0.7 4.9 -0.6 -0.9 0.4 5.6 0.3 -5.2 1.4 7.8 -0.5 0.4 0.7 3.5 0.7 4.7 -0.2 -2.3 0.2 5 1 -3.7 -0.3 8.4 0.9 -0.6 1.5 1.7 0 -1.7 -0.4 -5.6 0.6 1.1 1.4 1.9 -0.1 -6.8 -0.9 -0.6 0.3 0.9 0.7 -10.3 0.3 -2.8 1.1 1.3 0.1 -2.2 -0.2 1.1 -0.3 -7.1 0.6 0.1 0.1 -2.2 0.6 -0.7 0.5 -5 -0.4 4 0 -8.1 0.4 -4.3 1.7 0.9 0.6 0.4 -0.4 -0.9 0.2 -5.1 -0.5 -1.4 0.7 -3.9 0 0.1 0.9 -2.9 0.4 -2.5 0.9 -5.6 0.1 4.1 0.3 -7.9 0.2 1 0.9 1 -1.6 -3 1.2 -1.1 0.5 -7.5 0 2.7 -0.5 -7.3 -0.5 -1 0.6 1.3 0 -6 0 3.2 0.1 -2.3 -0.9 -1.5 1 -6.9 0.8 0.2 -0.9 -3.1 0.2 -2 0.8 -1.5 -1.1 -7.2 0.4 1 -0.7 1 0 -2.7 1.4 -3.4 -0.7 -5.8 0.6 -2.3 -0.1 0.6 0 -4 0.4 3.5 -0.9 -2.1 0.3 -6.1 0.8 -3.7 -0.4 -3.6 0.7 3.2 -0.7 -4.6 -0.4 -6.6 1.3 2 -0.1 -5.2 -0.5 -0.1 -0.8 2.5 0.2 -7.6 0.3 -4 0.6 2.8 0.4 -7.5 -1.1 1.3 1.3 0.5 0.3 -7.6 -1.3 3 1.2 -9.5 -1.3 5.2 1.3 -2.8 0.1 -3.4 -0.5 -3.5 -0.2 1 1.1 -2.4 -0.3 -6.9 0.4 1.1 -1 -3.2 0.6 -5.1 0.6 -3.2 -1 4.5 0.9 -3.9 0.3 -7.4 -0.8 3.6 0 -8.2 0.5 3.8 -0.5 -1.8 0.4 -8.6 -0.2 4.8 1.1 -9.5 0 -2 -0.7 -2.3 1.2 3 -0.7 -4.5 -0.1 -5.6 0.9 -0.3 0.1 2 -0.1 -3.8 -0.5 -5.9 -0.1 -0.7 0 1.8 0.2 -5.9 0.7 2.6 -0.3 -5.6 1 1.7 -0.5 -6.4 -0.5 1.5 -0.2 -7.7 0.8 0 0.6 -2.2 -0.6 -5.3 0.2 5.3 0.7 -7.6 -0.8 2.4 0.6 -9.2 0.5 3.4 -1 -2.9 0 -3.5 0.4 -2.8 0.9 2 -0.7 -2.1 -0.5 -1.9 0.9 -2.5 -0.3 -2.7 -0.6 -1.1 1.5 -3.5 0 -6.5 0 -3.6 -0.6 0.1 0.8 -4.6 -1.2 2.6 0.8 -4.3 -0.4 1 0.4 -6.5 0.9 -0.4 -0.4 1.1 -0.9 -7.5 0.8 -4.8 0 2.4 0 1.4 0.1 -7.9 1 -3.8 -0.7 1.5 -0.4 -3.7 0.5 -3.2 0.9 -1 -1.3 -1.2 0 -6.8 1.1 0.5 -0.9 2.7 0.5 -3.2 0.2 -4.4 -0.8 -6.7 1.2 3.4 0.5 -4.8 -1.1 1.8 0.6 -9 -0.6 3.1 0.6 -7.7 0.5 -2.3 -0.8 3.1 0 -3.8 0 -4.6 0.5 3.5 -0.1 -3.1 0.5 -1.4 -0.3 -3.6 0.3 -3.6 -0.5 -1.7 0.9 1.5 0 -6.2 -0.5 -6.1 0.9 -1 -0.6 -4.2 0.6 5.5 -0.8 -3.6 0.8 -6.6 0 -1.6 0.2 -1.8 0.1 -0.2 -0.7 1.5 -0.7 -2.2 0.1 -3.2 0.7 -5.2 -0.1 -0.2 0.9 -7.3 0 0.8 -1.2 -2.7 0.3 0.3 -0.3 -4.9 1.2 -4.2 0 2.3 0.2 -5.1 -0.9 -0.2 0.6 -3.7 0.2 -1.9 -0.7 -0.4 0.3 -6 0 -4.1 0.5 3.5 0.3 -7.2 0 -2.7 -1.1 -2 0.8 -1.2 0.7 -2.1 -1.1 3.8 0.8 -3.9 -0.8 -3.8 1.3 1.2 -1.1 -10.6 -0.2 0.6 1.3 -1.2 -0.1 -5.9 -1.5 0.4 0.5 3.1 -0.2 -8.4 0 -0.8 0.3 -3.9 0.3 1.4 0.2 -4.7 0.4 2.1 0.4 -6.1 -0.6 1.8 -0.4 -5 0.3 -2 0.8 -5.5 -1.3 2.1 1.6 0.6 -0.3 -10.2 -0.1 -0.4 -0.2 3.2 0.6 -5.2 0.1 -5 0.7 -0.1 -0.7 -1.5 0.5 -5 -0.7 -3.4 -0.1 -1.5 0.2 1.5 -0.1 0.3 1.5 -3.7 -1 -6.7 0.6 3.6 -0.2 -0.6 1.3 -7 0.1 -2.7 -1.3 2.8 1.5 -5.3 -0.1 -6 0 3.8 -1.1 -3.7 0.1 1 1.2 -3.7 0.1 -6.4 0.2 -1.3 0.5 -4.5 -0.7 1 0.8 -3.1 0.2 -1.3 -0.3 -3.6 0.1 -4.6 0.9 -1.5 -0.5 3.3 0.3 -3.7 1.1 1 -1.2 -0.9 1.5 -4.3 -0.9 -2.8 1.1 0.8 0.4 -5.8 0.3 -1.4 -1.6 -5.1 0.1 3.6 -0.5 -10.2 0.9 6.3 -1.3 -9.3 0.6 3.9 -0.5 -5.8 -0.7 -1.5 1.3 -3.7 -1 -5.9 1 -1.8 -0.2 -1.8 -0.5 4.4 -0.1 -9.4 -0.5 1.9 0 -5.4 -0.8 3.7 0.4 -1.6 -0.4 -7.7 0.7 -0.5 0.3 -1.2 -0.7 -2.7 -0.6 2 0.1 -9.8 0.2 1"/>
<path d="M1163.7 256l-0.7 0.6 -0.2 3.2 0.7 6.8 0.4 1.9 0 0.9 -0.1 -1.6 -0.3 1.4 0.3 5.8 -0.8 -1.6 0.8 8.2 -1.3 3.6 -0.1 -4.6 1.1 6.9 0 1.6 -0.5 0.9 0 2.3 0 5.8 -0.2 -0.3 0.1 0.7 -1.2 2.8 0.4 0.8 0.1 2.2 -0.5 1.5 -0.1 2.7 -0.7 7.1 1 -6.5 -0.6 5.6 -0.3 3.9 -0.7 -1.1 0.7 4.5 0.9 5.5 -0.8 -3.1 -0.6 2.5 1.5 7.3 -1 -3.7 1.1 6.2 -0.7 0.1 0.9 0.1 0.2 7.8 -0.4 -4.6 0.3 10 -0.9 -2.6 1.1 -1.4 0.2 2.2 -0.5 7.6 0.9 4.2 -1.4 -0.3 0.7 1.9 1 -0.9 -1.4 6.5 0.5 -2.4 0.4 4.6 -0.2 2.9 1 1 0 -0.1 0.5 3.5 -1 7.8 -0.3 -0.8 1.1 0.4 -0.4 4.3 -0.3 -3.2 0.3 6.9 0.9 -0.1 -0.1 7.6 0.3 -3.6 0.5 2.4 -0.9 1.2 1.3 4.7 -1.1 -0.2 0.1 1.9 0.5 4 0.1 6.1 0.1 -0.4 1.1 4.9 0.1 -0.9 -0.6 2.9 1.4 -4.4 -0.1 0.4 -0.2 -3.4 1.6 -4.4 0.2 0 0.1 -0.9 0.2 -2.6 -0.4 -4.6 1.1 -1.1 -1.1 -0.4 1 -0.8 -0.1 -8 1.2 -1 -0.8 0.8 0.2 -5 0.2 -2 0.5 -0.3 0.6 0.4 0.2 -3 -1.3 -2.5 0.1 -7.7 0.7 -0.2 0.2 2.9 -0.6 -5.7 1 2.8 -1.3 -8 0.5 3.6 -0.2 -3.4 0.5 -3.9 -0.1 0 -0.1 -9.3 1.4 4.2 -0.4 -3.7 -0.7 -5.4 1.3 -3.9 -0.6 -2.6 -0.7 0.6 1.4 -1.4 -1.4 -3.9 1 1.3 -0.8 -3.2 -0.1 1.1 0.3 -8.5 0.5 0.9 0.5 -1.8 -0.4 -2.7 0.1 1 0.9 -9.4 -0.7 -2.3 0.7 -1 -0.6 3.6 1.5 -6.6 -1.2 1.5 1.5 -2.2 -1 -4.6 0.5 0.1 0 -6.9 0.1 0.3 1 -2.3 -0.1 -0.6 0.4 -2.6 -0.7 0.5 1.5 -6.4 0.1 2.6 -0.7 -3.1 0.1 -2 -0.5 -8.2 1.1 -2.4 -0.8 -0.2 -0.5 -0.2 1.3 -0.7 0.2 -1.4 -1.3 -6.5 1 1.8 -0.6 -5.7 0.9 -4.1 0 0.5 -0.8 -3.3 0.8 -0.6 -0.7 1.1 0.1 -3.9 0.7 -0.6 -0.7 -5 1 -4.7 -1 2.5 -0.2 -8.6 -0.2 5.7 0.9 -3.6 0 -4.5 0.1 -3.5 0.7 -5 -1.4 -2.1 0.9 2.9 0.2 -1 -1.1 -1.1 0.3 -10.4 -0.1 4.7 1.2 -4.4 -0.5 -5.6 0.5 4.5 -0.5 -6.7 0.1 -1.3 0.9 -4.2 -0.5 2.3 0.1 -6.5 0.1 -0.6 0.2 -3.3 -0.7 0.6 0.6 -3.3 0.4 -2.5 -0.1 -6.9 -0.7 4.1 -0.6 -1 1 -6.8 -0.6 2.1 0.6 -0.7 -1 -10.7 0.9 -2 -0.6 0 -0.3 -1.1 1.4 2 -0.6 -5.4 0.3 -4.5 0.7 -1.9 -0.5 3.3 -1.1 -3.4 0.5 -8.5 0.2 -2.2 0.8 5.5 -1.1 -2.5 -0.4 -8.8 0.1 -1.8 0.5 0.1 0.5 -0.9 -0.4 -3 0.7 -0.9 -0.4 -2.4 0.1 -4.2 -0.3 -2.5 0.3 -6 -0.4 3 1.3 0 -0.1 -2.2 -1.1 -5.5 1 -4.1 -1 4.2 0.4 -11 0.5 0.9 0.5 -4.3 0.2 -0.2 -1.1 -2.2 1.3 -3.6 -0.2 1.6 -0.5 -7 0.8 3.9 -1.5 -0.4 1.7 -7.2 -0.1 -0.7 -1.6 -4.8 0.5 4.1 0.2 -5.7 1.1 -2 -0.1 1.2 0 -8.4 -0.7 -4.4 -0.3 6.2 0.7 -7.4 0.2 -3.4 -1 1.6 0 0.2 0.5 -4.2 -0.4 -6.1 0.8 0 0.6 6.7 0 -2.7 0.3 6.8 -1.1 -1.8 1.3 2.1 -0.6 4.1 -0.4 3.2 0.8 -0.4 0.1 -1.1 -0.5 0.7 -0.7 7.1 0.6 5.3 0 -4.5 0 5.9 -0.5 -3.1 0.1 8.5 1.2 -1.9 0.2 7.6 -1.5 -4 1.1 7.4 -1 -1.3 0.4 2.8 1.4 3.6 -1.6 -1.2 0.1 6.5 0.6 -2 -0.1 9 0.3 -3.8 -0.1 0.8 -0.1 7 -0.2 3 0.8 -4 0.6 5.3 -0.3 -0.9 -0.4 5.7 -0.2 3.7 0.5 -2.6 -0.3 7.8 0.4 -0.3 -0.4 3.4 0.1 -1.6 0.8 5.5 -0.6 6.2 -0.6 -3.8 1 4.9 -0.1 -1.2 -0.5 8.9 0.1 1.7 0.8 -0.4 -0.9 -1.8 -0.5 9.2 0.8 -3.9 0.3 6.2 0.1 3.8 -1.1 -6.1 0.7 2.5 0.2 2.1 -0.6 7.7 0.5 4.2 -0.1 3.1 0.3 -0.8 0.5 -1 -0.9 -0.2 1.1 5.1 -1.5 3.8 1.1 0.4 -0.9 6.8 0.5 1.9 0.1 -0.1 1.1 1.5 -0.1 6.5 -0.4 0.5 -1.2 -3.1 1.2 8.4 -0.6 0.4 1.1 -1.1 -1.6 4.6 0.6 0.5 1.2 -0.2 -0.3 9.7 -0.7 -5.9 0.6 3.2 0.1 8.4 -1.1 2.1 -0.1 -4.8 1.4 9.7 -1.1 -0.8 -0.1 5.3 -0.2 -2.6 0.7 8.1 0.8 0.3 0.3 0.5 -0.1 4 -0.7 -0.3 -0.7 6.4 0.3 0.3 0.2 -1.6 -0.5 8.2 0.2 -2.8 0.6 7.3 0.1 -0.4 -0.3 2.8 0.8 -1 0.3 4.9 -0.1 -1.4 -0.5 6.1 0.1 -0.7 -0.9 -0.8 0.1 4.4 1.1 -0.2 -0.2 8.4 0.3 -2.5 -0.2 7.8 -0.1 -3.2 -0.5 3.7 1.1 0 0.2 6.6 -1.2 -1.9 -0.4 5.3 0.9 0.3 0.7 3.9 -0.4 3 0.3 2.3 -1.4 0.3 1.4 7.7 -1.2 -5.4 1 3.1 -1.1 1.4 0 5.5 0.7 0.1 -0.6 1.7 0.4 2.7 0.3 2.8 -0.1 2.6 1 -0.9 -0.6 8.7 0 0.1 -0.4 -1 0.4 9 0.7 -4.1 -1.2 8.4 0.8 -1.4 -0.4 -1.2 0.6 6.7 0 2.2 -1 0 1.4 -1.1 0.2 9.8 -0.2 -4.9 -0.8 3 1 2.5 0 7.7 0.2 -1.7 -0.6 1.1 -0.6 5.9 -0.2 -0.5 0.2 5.9 0.2 -3.7 0.7 6.7 0.4 1.1 -1.1 4.3 -0.1 0.2 0 -0.4 0.4 0.7 0.6 9.4 -0.8 -5 0.6 6.7 -0.7 -2.9 0.9 7.1 0.4 -2.2 -0.3 3.6 -0.4 4.8 0.1 5.9 0.3 -2.5 0.8 5.9 -0.8 1.6 0.3 1.7 0.6 4.4 -1.3 0.4 0.5 -0.2 -0.1 2.8 0.6 -0.8 -0.1 2.2 -0.5 4.6 0.5 4.2 0.5 4.8 -1.3 0.5 0.4 1 -0.1 4.7 -0.8 -3 1 3.2 -0.8 0.8 -0.1 3.8 0.7 -0.6 0.1 3.8 -0.2 3.9 -0.7 -1.3 0.9 5.5 1 -1.7 -1 -4.7 0.9 -1.9 0.3 -0.7 -1.1 -6.6 0.6 -0.4 0.2 -0.5 0.2 2.9 1.1 -5.7 -0.5 -1.7 -0.3 -0.5 1.3 -9.4 -0.5 2.3 0.4 -6.5 0 0.6 -0.1 -1.1 1.1 0.1 -0.9 2.8 0.2 6.8 0.8 -3.5 -0.3 8.4 1.5 -4.8 -0.4 0.8 0.5 5.9 0.4 0 -1 -1.8 0.5 -1.4 0.2 -2.9 0.1 -1.5 -0.6 -7.9 -0.1 -0.1 1.5 -5.2 0 1.5 -0.6 -6 -0.7 0.6 1.5 -4.1 -0.7 2 0.7 -3.3 -0.4 0.9 0.5 -10.4 -1.1 -1.2 0.5 -2.4 0 1.8 -0.5 -3.3 0.7 0 0.6 -5.9 0.2 3.5 -1.5 -1.8 0.8 -6.6 0.1 1.2 0.7 1 -1 8.1 1.7 -1.4 -0.8 5.7 0.2 -4.9 0.7 6 -0.7 -0.8 -0.3 9.4 0.3 -1.1 0.7 3.4 -0.2 3.8 0.2 1.8 -0.1 -5.2 0.7 2.4 0.1 10.3 -0.4 -0.1 1.1 0.5 0.2 -1.6 -0.3 5.4 0.8 5.6 -0.9 -4.1 0.9 5.6 -0.4 -6.2 1.3 3 -0.2 0.8 -0.1 -9.9 -0.6 3.6 0.2 -0.1 -0.7 -10.2 0.8 -2.1 0.4 2.3 -1.5 -7.8 0.5 6.5 1.1 -8.6 -0.2 -3.6 -0.4 4.8 -1 -4.8 1.1 -2.2 -0.1 -0.8 -0.6 -8.1 -0.2 2.6 0.3 -7.1 0.5 4 0.8 -6.2 -1.3 -0.2 1.1 -2.3 -0.7 -4 1 -0.4 -1.5 -1.6 0.3 -2.8 0.7 -3.2 -0.4 -6.3 0.2 0.5 -0.2 2.3 -0.3 -3.9 0.4 -5.6 -0.5 0.3 0.5 -0.2 -0.5 -5.9 1.2 2.1 -0.7 -5.2 -0.3 1 0.8 -9.4 0.6 -2.7 -0.8 3.6 0.7 -4.4 -0.4 -4.8 0.4 0.8 0.5 0.4 -0.9 -3.9 0.5 -5.5 0.9 -3.8 0.7 2.7 0.1 -2.3 -0.5 -2.9 0.1 -3.8 0.2 3.7 0 -9.2 0.4 1 0.4 -5 -0.2 0.5 0.7 1.5 -1.2 -9.8 1.2 3.2 -0.1 -2.7 0.1 -7.8 0.4 4.9 -0.7 -9.4 0.8 5.5 0.1 -5.9 0.6 -5.2 0.6 4.6 0.1 -4.7 -0.4 -7.2 0.1 4.3 1.2 -8.2 -1.3 2.8 1.2 -7.9 0.4 5.8 0 -6.3 -0.6 5.6 0.2 -0.6 0.1 0 -0.1 3.3 1.2 3.9 0.3 4.4 0.3 -5.3 0.3 6.4 -1.5 1.7 0.3 4.1 0.8 4.7 0 1.4 0.4 -3 -0.2 5.6 0 -1.7 -0.2 6.1 0.6 -2.8 0.1 5.2 -0.5 3.6 1.8 -1.4 -0.1 2.1 -1 2.5 1.6 3.8 -1.2 4.8 1.3 1.4 0.3 0.2 -0.6 2.5 0.1 3.7 0.9 0.4 1.8 -0.2 0.5 3.7 1.1 0.9 0.9 1.9 1.1 -2.9 0.6 -3.3 1.2 4.3 1 -1 -0.5 9 0.4 -4.5 0 3.3 -0.2 5.5 -0.5 3 0.6 3 0.6 1.5 -0.7 -2.3 -0.5 3.1 1.2 6.8 -0.1 -1.2 -0.8 5.7 1.2 -2.6 -0.2 3.8 0.1 1.9 -0.5 0 0.3 5.9 1 4.6 -1.1 2.5 -0.2 -2 0 0.8 1.6 3.5 -1.1 4.5 1.1 -2.2 -0.1 0.2 -1.4 9.4 1.1 3 -0.4 -2.8 0.3 4.1 0.7 4.5 -1.6 -2.7 1.2 6.3 -1 1.1 1.5 -3.1 -0.7 4.8 -0.5 7.7 -0.2 -0.9 1.3 1.5 0 -1.4 0.2 9.5 0.3 0.5 -0.7 1.6 0.5 3.1 -0.2 0.4 -0.6 -1.8 1 3.5 -1 6.3 -0.4 4 0.5 -6.2 1.2 2.4 -1 4.7 0.3 6.6 -0.1 0.2 0.9 0.6 -0.7 0.6 -0.7 4 0.7 -0.8 -0.1 7.5 0.2 0 0.8 -6.2 0 -1.5 -0.4 -3.1 -0.7 -1.3 1 0.3 -0.6 -2.1 0.2 -2.6 0.8 -3.3 -1.4 -3 0.4 1 -0.5 -0.7 0.6 -2.6 0 0 0 -6.7 0 -1.3 0.3 -1 -0.2 -1.9 0.5 -4.4 0.2 0.1 -0.9 -4.8 0.1 -5.1 0.1 -1.6 0.3 2.1 -0.1 0 -0.1 -8.2 1 -3.2 -0.8 1.7 0.8 -0.1 0 -5.7 -0.3 -0.1 -0.1 -7.4 0.1 5.5 -0.5 -5 1.4 -1 -0.8 -5.8 -0.2 -1 -0.2 -4.9 0.7 2 0.9 0.2 -0.8 -6.3 1.6 1 -0.9 -2.5 2.5 -7.5 -0.1 0 0.3 5.6 -0.3 -0.1 -0.5 0.4 0.3 3.3 1.1 -1.6 0.1 6.3 -0.5 -0.4 0.5 2.1 -0.3 1.6 -0.5 5.3 0.3 -2.1 0.7 6.2 -1.1 -0.7 1.2 3.1 -0.3 1.6 -0.9 0.4 0.8 8.3 0 -3.2 -0.1 9.7 0.1 -1.3 -0.6 1.7 1 5.6 -0.5 -2.6 1.2 0.8 -0.7 5 -0.2 0 0.4 -3.4 -0.8 -5.8 0.2 2.6 -0.1 -3.7 0.3 -7.1 0.9 3.5 0.1 0.9 -1.1 -6.4 0.9 1.7 -0.7 -3 0.8 -2.4 0 -7.8 0.3 -3.4 0.3 -0.9 0.1 -2.6 0.1 1.8 -0.7 0.8 0.2 -4.5 0.9 -0.3 -0.4 -3.4 0.6 -6.7 0.2 4.2 -0.2 -7.8 0.1 0.8 -0.6 -1 0.7 -5.9 -0.4 0.2 -0.9 -0.2 0.9 -9.9 0.7 -1.5 0.1 -2.2 -1.2 -1 1 2.6 -0.1 -5.3 0.7 -0.9 -0.7 -2.5 -0.1 -2.6 -0.5 -0.2 1.5 -2.1 -0.6 -1.6 0 -4.5 -0.5 0.8 1 -0.2 0.8 9.2 0 -4.1 -0.2 7.8 -0.3 2.6 0.8 -2.6 0.1 5.7 1 -1.7 -0.6 2.9 0.3 0.6 0 6.5 0.5 1.8 1 -3.7 -0.5 4.6 -0.4 8.2 0.2 -6 0.8 6.1 0.7 -0.9 -1.4 5.4 0.9 0 -0.3 1.3 0.3 8.7 0.3 -3.9 -0.1 1.1 -0.7 7 0.5 1.3 0.6 3.9 0 3.7 -0.7 -4.4 1.2 6.9 -0.7 -3.6 0.2 4.2 0.2 7.4 0.4 1.1 -0.2 -2.1 -0.2 3.1 0.4 3.6 0.4 -1.1 -0.9 2.1 0.4 5.2 1.4 0 0.4 -5.2 0.5 -5 -1.1 -0.5 0.7 3.1 0.2 -2.1 1.4 -4.3 -0.1 0 0.4 0.9 0.7 4.7 0.6 3.6 -1.3 5.5 1.5 2.9 -0.4 -0.8 0.1 1.7 -0.4 -0.8 -0.4 2.6 0.1 5.7 0.4 3.6 -1 2.7 0.6 2.3 -0.6 0.3 0.2 2.7 0.2 2.4 -0.6 -3 -0.6 7.6 0.8 1.1 -0.2 1 -0.2 4.1 0.4 0 -0.5 4.6 0.4 0 0.2 2.9 0.1 -1.3 0.3 8.3 0.9 2 -0.2 -3.3 0.8 -0.2 -1.3 7.7 0.8 1.2 -0.2 3.5 0.7 4.3 0.5 -5.4 -0.8 9.5 1.1 0.6 -1.2 3.6 0.4 1.8 1 1.8 0.5 -0.9 -0.6 2.5 1 5 -0.7 3.6 0.3 0.2 -0.2 -0.8 -0.5 3.2 1.3 0 -0.2 7.5 -0.3 0.8 0.4 1.2 -0.3 -2.9 -0.4 10.9 -0.1 -2.3 1.4 0.3 0.1 0.2 0.2 9.1 0.2 -2.6 -0.8 3.2 0.3 7.5 -0.7 -0.2 0.4 -3.9 1 3.1 0.4 3.5 -1.3 6.1 0.3 2.5 -0.3 0.6 1.3 5 -0.4 -0.8 0.4 2.9 -1 0 1.1 2 -1 4.3 0.6 -0.7 -0.7 0.1 0.2 6.1 0 6.1 1.3 0.9 -0.5 -1.8 0.2 8.3 0.7 -3.3 0 1 -0.9 2.6 0.4 2.3 0.1 7.2 0.6 -4.1 -0.8 7 -0.7 3.3 1.2 -0.1 -0.1 3.8 -0.4 -4.3 0.3 4 -0.2 3.3 0.3 3.5 -0.6 5.3 -0.1 -3.4 0.6 4.2 1 -5.6 -0.9 5.2 1.8 -7.2 0.6 2.5 -0.5 -5.4 -0.1 1 0.1 -9.4 -0.1 1.7 1.1 -4.5 -0.4 1.6 0.6 -7.3 -0.1 -2.1 0.9 1 0.8 -5.7 -1.1 4.9 1.8 -2.8 -0.7 -3.5 -0.2 -0.6 1.9 -9 0.2 -0.6 -1.3 2.7 1.1 -4.4 0.5 0 0.2 1.1 -0.6 6.8 0.1 0.4 1 5.7 0.1 0.5 0.7 -3.6 -0.5 6.1 0.2 4.8 0.1 0.6 0.2 3.7 0.1 -2 -0.7 1.7 1.7 5 -1 4.1 0.8 0.4 -0.1 2.9 0.6 1.6 -0.2 2.2"/>
<path d="M1261.5 485l0.1 5.6 0.3 1.3 -0.7 -3.8 0.2 4 -0.1 3.8 0.8 6.7 0 -3.4 -1 7.1 1.5 -0.4 -0.1 -0.1 -1 6 0.9 -3.8 -0.8 4.7 0.7 2.6 0.4 5.7 -0.7 -1 -0.5 4.6 -0.2 -1.4 0.7 0.7 0.4 2 0.4 1.8 -0.6 4.7 0.3 4.6 1 -3.7 0.2 8.7 -1 -1.9 -0.1 5.8 1 4.6 -1 -1.5 0.8 -0.2 -0.4 8.4 0 -1.3 1.3 4.6 -0.3 -1 0.5 5 -0.9 -3.5 0.6 0.9 -0.6 2.6 1.4 3 -1.1 7.8 -0.2 3.8 0.4 -5.3 -0.4 8.2 0.8 2 -0.3 2.3 -0.4 -4.6 0.8 8.3 -0.5 2.5 0.1 -2.1 0.9 7.3 0.1 -4.1 -0.4 1.2 0.5 4.1 -0.1 6.4 -1.1 -2.5 0.9 4.9 0.5 3.4 0.4 -3.5 -0.7 10.1 0.6 -1.2 0.2 5.8 0.3 -1.6 -1.2 2 0.8 2.6 0.1 0.3 0 1.1 1.2 6.9 0.1 -0.5 -0.5 -0.8 0.6 7.7 -1 -1.1 1 7.3 -0.4 -0.6 0.6 -2.7 0.7 4.8 -0.1 4.5 0.1 1.3 -0.3 1.5 1 -1 -0.7 6.2 -0.8 -1.3 1.2 6.8 -0.8 1.9 1 0.6 0.3 3.6 -0.1 -2.8 -0.2 1.5 -1 7 1.2 1.1 -1 6.3 1.4 -1 0.2 -1.3 -0.9 9.6 -0.3 -4.4 0.6 2.3 1 6.6 0.1 0.9 -0.5 1 -0.3 -1.6 -0.5 2.4 0 9.3 0.9 -2.4 -0.9 4.3 1.3 -1.5 -1 4.8 0.8 3.1 0 -2.4 -0.3 2.4 0.3 -9.6 1.8 1.1 -1.2 -0.3 0.6 -4.3 0.9 1.6 -0.5 -5.6 0.7 -3.7 0.3 -2.8 0 -4.4 0.4 1 0.8 3.4 1.7 -5.3 0.9 1.7 0.6 -3.8 1 -3.1 0.4 -3.6 -0.2 -3.7 0.9 -0.5 0.9 0.9 0 1.8 1 1 2.4 0.3 0.1 -4.3 0.7 3.1 -0.6 5.1 -0.7 1.4 1.2 1.5 -0.8 2.2 0.7 -4.1 0.4 6.9 -0.1 -1.7 -0.5 9.2 1.3 0.9 -0.8 0.8 0.1 -0.1 -0.6 -0.5 0.2 3.6 0.5 7.7 0.4 1.9 0.7 2.4 -0.7 0.5 0.3 -2.1 0.5 2.8 -0.3 -0.2 -0.3 4.8 1.1 4 -1 6.1 1.1 0 -0.7 0 0.3 -2 0.6 -5.2 0.2 0.3 -0.1 1.7 0.1 -4.3 0 -7.3 -0.3 -2.9 0.6 6 0.3 -9.8 0.5 -3 -0.5 -0.5 0.7 0 1.1 3.6 0 -3.3 -0.1 7.4 -0.5 0.9 1.2 1.7 0.3 3.7 1.2 0.7 0 2.3 0.2 6.4 -0.2 -0.7 -0.4 5.4 0.1 -3.4 1.1 4.6 1.2 6.4 -0.5 -2.7 0.3 3 1.2 -1 -0.3 5 0.5 3.6 1.6 0 0.2 -4.9 -0.5 4.9 1.4 -8.5 0.4 -1.5 -1 -4.9 1.3 0.4 -0.1 -3.9 0.7 4.9 -1.5 -2.9 0.5 -5 0.3 -5.4 0.7 3.4 0.1 -4.2 -0.2 -5.5 1.3 -2.8 -0.6 4 1.1 -0.3 -1.1 -9 0.9 -2.3 -0.1 1.4 0.3 -0.5 0.4 -6.4 -0.9 3.6 0.3 -6.4 0.7 0.2 0.6 -1.4 0.1 -1.1 0.9 -5.5 -0.7 -3 -0.2 4.9 1.1 -4.1 0.1 1.8 -0.3 10.1 0 2.3 0 0.3 -0.8 -2.5 0.8 6.9 0.3 -3.4 -0.5 3.5 0.7 7.6 0.5 1.1 -0.6 -0.6 0 2.1 1 5.3 -0.6 -0.3 0.5 0.5 -1.1 1.5 1.6 6.5 0.5 -0.9 -1 5.7 1 2.7 0.3 -3.3 -1 4.9 0.6 1.8 -0.2 3.6 0.5 2 0.5 -6.2 0.4 3.7 0.5 -5.1 -1 -5.6 1 -2.2 -0.4 2.3 -0.1 -2.2 2 -5.7 -0.6 1 -0.5 1 1.1 -3.9 0.9 -3.3 0.4 -1.2 0.3 -1.8 -0.5 -3.8"/>
<path d="M1311 632l0.7 -5.7 0.2 -0.4 0.2 2.1 -0.9 -2.6 0.8 -4.3 -0.4 -6.4 0.5 2.4 -0.2 -4.3 -0.3 1.3 1.1 -2.7 -0.6 -5 0.6 -1.2 -0.9 -4.2 0.8 -1.1 0.7 -4.3 -0.4 0.9 -1.1 -3.1 0.9 -1.4 0.2 -3.2 0.8 -4.8 -0.8 2.4 -0.3 -7.2 0.8 0.7 -0.2 -3.6 0.2 -1.3 0 1.6 0.3 -1.5 0.1 -8.2 0.3 1.5 -0.6 1.9 -0.2 -2.9 -0.3 -3.9 1 -3.5 0 0.7 0.2 -5.5 -0.3 -3 0.8 0.7 -0.5 -8 0.1 5.7 0.6 -8 0.8 -1.5 -1.3 3.3 0.2 -9 0.3 -0.3 1.2 -0.1 -1.5 -6 1 0 -0.1 0 0.5 0.9 0.7 4.2 0.7 7.5 -0.3 -2.8 0.1 -0.5 0.8 8.9 -1.1 -4.6 1.2 8.4 -0.1 -1 -0.4 4.5 0.2 0.9 1.7 3.2 -1.1 -1.5 2.2 5.8 -0.8 1.2 1.1 -0.5 -0.5 8 1.5 -4.6 -0.7 4 0.9 1.1 -0.1 3.9 0.2 6.6 0.1 1.1 1 -1.6 0.1 7.2 0.4 -0.1 0.5 4.2 -0.8 -1.3 0.5 -2.4 -0.7 5.4 0.8 8 -0.3 1.7 1.6 -2.9 0.1 5.1 -0.1 0.7 -0.6 2.1 1.4 5.2 -0.3 -1 0.1 5.1 0.1 -0.8 0.6 4.5 0.2 -1.4 0 2.5 0.5 2.2 0 7.2 -0.7 -2.8 0.6 2.6 0.1 -1.4 -0.7 10.2 1 1.8 0.4 3.2 0.2 -0.4 -1 -0.5 1.5 6.1 -1 1 0.7 0.1 0.1 2.2 0.5 1 1.4 3.2 0.5 3.7 -0.9 4.8 0.9 0.9 0.7 0 0.4 -1.2 -0.2 -0.9 0.4 -2.6 0.5 -1.2 1.2 -3.3 -1.5 -5.4 1.2 3.4 0.9 -4.3 -0.5 0 0.3 -1.2 1 -4.4 -0.4 -5.4 0.1 -2.1 0.6 -0.9 0.8 -3 0.5 -5.5 -0.5 4.4 -0.3 -3.6 1.3 -1.2 -0.5 -5.7 -0.2 -3.7 0.9 3.5 0.3 -5.9 -1 -4.6 1.3 -0.7 0.1 -3.8 -0.2 -1 0.4 1.5 0.9 -2.3 -1.1 -5.5 1.2 1.9 0.1 -5.3 0.4 2.9 0.4 1.9 0.2 -2.7 -1 7.6 0.9 4.8 -1.5 -0.6 0.8 2.4 0.8 1.7 0 -1.8 -1 3.8 -0.2 -0.3 0.8 4.3 -0.6 8.2 0.4 -3.7 0 5.3 -0.3 2.5 0.8 -3.5 -0.7 8.3 1 -3.9 0.5 2.3 -1.4 7.8 -0.1 -0.3 0.6 -0.8 1 9.3 -0.4 1.1 -0.2 0.6 0 2.8 0.7 -0.1 -0.7 1.3 1 5.6 -0.9 -0.9 -0.4 2.7 1.1 1.8 -0.5 0.6 0.1 5 0.3 -4.2 -0.6 2.2 0.3 -4.8 1.1 -0.8 -0.6 -6 0.4 -1.5 1.2 3.1 -0.7 -3.1 -0.1 -5.3 1.5 -2.1 -0.8 -5.6 1 -1.3 -0.4 -1.2 0.5 -4.5 0.4 1.9 -0.3 -2.3 0.6 -0.2 -0.7 -6.4 -0.2 0.8 1.3 0.9 -0.5 -6.3 0.5 -5.9 -0.6 4 1.2 -8.3 0.3 1.2 0.5 -2.8 -1 1.9 0.6 -5.2 0.6 -3 0.2 0.1 -0.4 -6.3 0.1 0 0.4 2.6 0.7 -2.5 -0.9 6.2 1 5.9 0.6 1.2 0.6 1.2 -0.8 -2.8 0.8 3.2 -0.8 2.7 0.5 1.5 0.8 5.9 -0.5 1.6 0.7 2.8 0.7 2 -0.8 -5.9 0.6 -1.6 0.1 -2.1 0.5 -2.2 -0.8 4.2 1.2 -9.5 -0.6 -2 -0.3 3.8 -0.6 -1 1.3 -3.7 -0.1 -0.6 -0.6 -6.4 -0.2 1.5 -0.7 -7.5 0.2 -2.7 0.3 4.4 1.2 -7.4 -1 0.8 -0.1 -7.5 1 -0.5 0 -1 -1.6 -3.6 0 3.5 0.9 -3.2 0.5 -6.7 0.2 -0.9 -0.1 -1.1 -1 1.2 0.6 -4.4 -0.4 -3.9 -0.8 -0.8 1.3 -1.9 -1.2 -6.6 0.9 -3.3 0.6 -1.9 0.2 0.6 -1 0.7 0.1 -7.2 0.8 1.7 -1 0.4 0.7 -10.1 0 3.8 0.3 -1.1 0 -3.8 0.3 -6.7 -1.5 2.7 1 -6.7 0.5 -0.9 -0.8 -2.5 0.9 -0.1 -0.1 -4 -0.5 1.6 0.6 -0.2 -0.6 -4 -0.6 -8.5 -0.1 3.3 0.4 -2.3 0.9 -4.5 -0.1 1.9 -0.4 -5.7 0.7 2.7 -0.7 -6.6 -0.6 -1.2 0 0.5 1.2 -9.2 0.3 -1.5 -1 2.2 1.7 -0.1 0 -4.5 -0.8 -0.8 1 -2 -1.5 -3.3 1.3 -5.1 -0.9 -2.2 0.1 -1.4 0 -2 0.3 0.1 -0.1 -0.3 1.1 -4.9 0.1 -6 0.1 0.9 -0.2 -5.4 0.4 3.7 -0.1 -5.2 -0.2 -4.6 -0.4 3.5 1 -5.9 -0.8 -2.7 1.6 -5.2 -0.9 0.9 -0.3 -2.3 1.5 -5.6 -1 3.8 -0.1 -6.3 0.9 -2.2 0.1 1.6 1 -1.4 -0.8 -5.4 -0.8 -1.6 1.2 -6.2 0.4 -2.2 -1.5 -3 0.7 6.3 0.3 -6.2 -0.4 -6.2 0.8 0 -0.1 1.5 -0.4 -7.7 -0.5 4.4 0.8 -7.3 -1 3.5 0.8 -4.9 0.7 -3.7 -0.4 -6.2 0.3 -0.2 -0.5 1.3 0.6 -7.3 -0.3 2.7 0.7 -1.8 -0.4 -6.8 -0.8 2.8 0.1 -1.3 0.4 -5.9 0.3 6.4 0.6 2.4 -0.8 0.5 0.6 -0.7 -0.2 5.4 -0.3 3.1 0 -1.2 0.4 -0.9 0.7 1.2 -0.2 7.4 0.4 3.8 -0.7 1.3 0 -1 1.6 0.7 -0.4 2.1 0 5.5 0.4 1.1 0.4 6.6 0.4 3.1 0.1 -2.9 -1.1 5.4 0.5 -1.7 -0.6 6.9 1.1 2.6 -0.4 -0.5 0.1 0.3 0.2 5.2 0.9 2.2 -1.4 -3.5 0.4 9.9 0.5 1 -0.6 -3.1 1.2 4.1 -0.1 2.8 -0.8 -1 1.6 3.5 -1 6.4 0.4 -1 -0.2 5 0.5 -1 -0.1 1.2 0.3 6.8 -0.2 -4.1 -0.2 6.9 0.7 0.5 -0.6 2 -0.1 6.8 0.1 2.5 0.9 -0.9 0.2 0.9 -0.4 6.4 -0.2 -5.2 0.8 9.6 -0.3 1.1 0.7 -1.7 -0.3 3.8 1.1 -1.4 -0.7 -5.8 1.4 2.8 0.1 -4.1 0.1 -5.3 0.5 -0.1 -0.6 -2.3 1.3 -2.3 0 0 1 -0.2 -1.2 -4.8 0.6 1.5 0.7 -3 -0.5 -4.5 1.6 -4.1 0.5 0 -0.4 1 -0.6 -0.5 1.2 -7.4 0.9 -5.2 -0.2 -1.2 -0.1 -1.1 0.5 0 -0.3 -2.6 0.8 -4.9 -1 1.8 0.2 0.9 0.4 -9 0.5 -1 -0.6 2.6 1 -5.3 -0.4 -5.1 1.1 -0.6 -0.6 0.8 -0.2 -8.7 0.3 4.5 0.4 -6.1 -0.1 -1.3 0.3 -6.3 -0.9 3.6 1.3 -4.7 -0.5 -3.6 0.1 -1.4 -0.4 -1.8 0.7 2.6 -0.6 -1.5 0 -7 0.1 1.4 -0.3 -3.9 0.2 -3.5 0.2 1.2 0.4 -1.9 0 -7.7 0.3 3.1 -0.2 -3.1 -0.8 -4.1 1 -0.3 -0.6 -3.8 0.4 -1.2 0.9 -6.2 -0.5 1.9 0 -1.6 0.5 -6.3 -0.5 2.5 -0.2 -6.5 0.7 -5.7 -0.5 4.9 0.4 -5.5 -0.5 -1.9 -0.2 -6.5 0.4 -0.1 0 -1.2 -0.3 2.7 -0.7 -9.2 0.9 4.4 -0.8 -5.7 -0.1 -5.2 0.2 4.9 0.7 -7.3 -0.4 0.1 0.8 -1.5 -1 0.9 0 -8.4 0.3 -2.2 1 -4.5 0 0.1 0.1 2.7 -0.4 -9.3 0.1 5.3 -0.3 -4.4 0.2 -0.2 -0.1 -6.4 -0.5 -1.1 1.2 -0.3 -1.5 -2.4 0.9 -3.5 0.7 1.4 -0.2 -0.1 0.2 7.2 -0.7 -0.9 0.5 5.7 0.9 1.3 -0.5 3.4 1.3 3.6 -0.2 -1 -0.4 5.6 0.6 0.9 0.7 2.1 0.7 -0.3 -0.7 2.5 -0.4 4.8 0.5 3.8 -0.1 2.2 1 -4.6 -0.1 3.4 0.7 1.9 0.1 7.1 -0.1 0.1 -0.7 -1 0.1 6.1 0.9 3.4 0.5 4.1 0.1 -0.3 -0.9 0.9 0.8 -1.8 0 7.6 -0.3 0.8 0 5.9 1.1 -4.9 -0.1 7.8 -0.7 4.2 0.2 -5.2 -0.2 5.2 -0.1 4.8 0 3.9 1.1 -4 -0.1 1.7 -0.5 2.6 -0.2 3.9 1.3 5.4 -1.3 3.1 0.5 -5.9 0.3 8.6 0.9 4.2 -1.3 -0.3 -0.3 -0.4 0.9 3.1 1.3 0.7 -0.2 1 1.4 3.3 0.8 2.6 -1.3 3.1 0.3 0.3 0.4 5.6 0.9 -1.1 -0.7 0.9 -0.2 8.4 0.7 -1.8 0.1 0.4 0.4 2.9 -0.1 3.5 0.1 2.3 -1 0.6 0.5 1.9 0.8 -0.9 -0.4 6.8 -0.7 3.8 0.9 0.4 0.9 -1 0.8 1.1 0.6 6.3 -0.5 5.3 0.6 -2.5 0.5 6 1.5 1.6 -0.4 2.4 0.5 -0.1 0.2 4.4 0 0.7 1.2 5.4 -0.6 -1 0.2 -2 -0.4 9.6 0.1 0.8 0.3 1.7 1 1.1 0.3 -2.8 -0.9 6.6 0.7 0.3 -0.5 6.1 0.3 -3.8 0.5 7.3 0.7 3.3 0 -1.3 0.2 0.2 -0.5 6.7 0.6 0.9 -0.5 3.6 0.9 4.9 0.4 1.7 0.3 -4.2 -0.4 5.7 0.8 2.9 -0.8 2 1.5 4.7 0.2 -2.6 -0.9 7.1 0 -5.1 0 4.9 1.2 -0.2 0 0.2 0.3 5.7 -0.2 0.8 -0.6 1.7 1 4.7 -0.4 5.5 0.9 -2.9 -0.8 2.9 -0.4 0.2 0.6 8.8 0.1 1.7 -1.7 -3 0.9 1.3 -0.6 5.9 -0.4 3.8 0.2 1.2 0.5 -1.9 0 2.6 -0.8 7.4 -0.6 -0.5 0.8 -0.6 -0.4 4.3 -0.7 2.2 0.8 0.3 -0.6 5.3 -0.5 1.6 0.2 6.2 0.2 -3.6 1.3 5.2 0.4 -2.5 0 8.3 -0.5 -0.3 -0.2 -0.8 0.2 9.3 1.2 2.5 -1.1 2.4 1.4 -2.3 -0.9 1.2 0.7 -0.4 -0.4 7 0.7 1.8 0.4 -4.4 0.4 -2.9 -0.6 4.1 0.4 -8.9 -0.7 -0.7 1 1.5 -0.5 -6.2 1.4 1.9 -0.5 -5.5 -0.1 -3.4 -0.1 1 0.5 -2 -0.6 -7.2 0.2 1.1 0.9 -1 0.6 -1.5 0 -2.3 -0.4 -3.2 0.8 -5.7 -0.4 5.1 0 -3.2 -0.6 -5.8 1.1 -1.8 0.5 0.5 0.2 -4.7 -1.6 -3.6 1.1 -1.7 -0.5 0.9 1 -9 0.4 -0.8 -1.2 1.1 1.2 -2.6 0.5 -4.9 -1.4 -3.8 1.1 2.6 -0.2 -3.1 1 -1.2 -1.4 -5.8 0.8 0.9 0.3 -3.5 0 2.2 0.8 -3.8 0.8 -5.9 -0.8 -2.4 0.9 -2.7 -0.4 2.3 0.7 -7.3 0.1 -0.2 -0.7 0.7 1.7 -7.6 -1.1 5.2 0.8 -7.9 0 3.3 -0.1 -1.1 0.1 -2.6 1.9 -4.9 0.1 -1 -0.5 -4.2 0.8 -3.5 -1.2 2.8 1.2 -3.4 -1 -7.2 0.3 2.8 -0.2 -0.9 -0.5 -6.4 1.3 -3.7 0 -2.3 -0.6 2.7 -1 -6.7 1.5 -3.9 0.2 5.4 0 -8.3 -1 -0.7 0.8 2 -1 -4.3 -0.2 -7.3 0 -0.8 0.3 0.6 1 -5.4 -1.6 -0.8 1 -5.4 0 -2 -0.2 -2.3 0.2 3.2 0.5 -5.8 0 4.6 0.2 -2.5 -0.7 -7.3 0.4 -1.8 -0.5 -1.4 -0.4 -5.2 0.6 0.3 -0.3 2.7 0.2 -11.1 -0.4 5.6 1 -5.4 -0.5 0.7 1.2 -4.3 -0.6 1.1 0.3 -8 0.1 1.4 -0.5 -2.8 0.1 -1.8 -0.4 -6.6 0.2 0.7 0.3 -4.6 0.3 -1.4 0.3 3.2 0 -6.5 -0.1 -1.8 0.8 -2.2 -0.5 -2.5 -0.6 -3.8 -0.1 -3.5 0 -1.6 1 -1 0.3 -5 -0.1 0.8 0.3 -2.4 -1.2 0 0.3 -3.4 0.3 -0.5 -0.6 -6.9 0.2 4.6 1.5 -8.8 -0.9 -4.1 0.6 1.2 0.6 0.9 -1.6 -6.4 0.8 -0.6 -0.1 0 2 1.3 0.6 3.7 -0.6 0 1.6 -6.6 -0.7 0.7 -0.5 -6.9 1.1 -0.9 0 -3.7 -0.8 4.6 0.9 -7 0.7 0.7 -0.3 -1.6 0.4 -5.3 0.7 -1.2 -0.4 -1.6 -0.1 -1 0.5 -3.8 0.8 -1.3 -0.8 -3.1 0.2 -3.9 0.8 3.8 -0.7 -6 0.5 -5.6 0.2 0.1 0.3 -3.7 -0.4 0.6 1.3 -1.4 -0.6 -6.4 0.7 -3.6 0.1 3.6 0.6 -3 0 -3 -0.7 0 1.6 4.5 -0.8 4 -0.4 -1.8 1.2 5.7 -1.2 -0.1 1.2 1.2 -0.4 6.7 0 3.2 -0.2 -5.5 0.9 10 -0.6 -5 0.4 5 0.9 -1.2 -1.1 6.8 0.6 -2.3 0.3 10.4 0.4 1.5 -0.6 -1 -0.7 3.7 1 -0.9 -0.5 3.2 1.2 -0.9 -0.9 7.7 1.1 0.5 -0.4 -0.7 0.6 3.1 0.2 7.3 -0.7 -1.5 -0.2 1.7 1.2 8 0 2.6 -0.4 -2.3 -0.3 6.1 0.7 1.8 -0.4 -1 0 0.3 -0.1 5.8 0.3 -1.7 1.5 0.9 0.1 10.2 0.1 -2.3 -0.3 3.9 -0.3 0.7 0.7 -0.3 0.5 4.5 0.4 0.9 -0.6 1.1 1.1 7.9 0.1 2.7 -0.4 -4.5 0.7 7.9 -0.5 -3.3 -0.7 5.4 1.5 -0.9 -0.4 6 0.2 1.3 -0.6 0.1 1.3 5.7 0.1 -0.6 0 5.7 0.6 2 0.1 -4.7 -0.2 5.9 -1 4.7 0.1 0.8 0.5 3.5 0 -1 0.8 5.4 -0.1 0 0.6 -4 0.2 -3.2 0.1 1.6 0.5 -2.1 -0.8 -1.5 0.4 -3.1 -0.3 -5 1 2.5 -0.1 -0.7 -0.4 -6.4 0.6 -0.3 0.4 -0.1 -0.7 -7.2 1 -5.3 -0.5 1.3 0.3 -5.6 -0.3 5.4 1 -3.5 -0.1 -3 0.3 -5.9 -0.2 0.1 0.9 -1.4 -1 -2.8 0.6 1.3 0.1 -7.2 -0.7 -3.9 0.6 4.4 -0.4 -2.9 0.1 -5.2 0.8 0.9 -0.3 -5.9 -0.3 -3.8 0.3 2.1 0.2 -7.4 1.2 0.9 -1 -2.7 0.7 3.1 -0.5 -6.8 -0.4 -4.3 1 0 -0.2 -5.4 0.3 -1.6 0.2 -0.6 -0.2 -0.8 0.2 0.2 -0.2 -5.9 1.4 -3.9 -0.5 3 1.8 -0.8 -0.3 -6.6 0.1 1 -0.3 5 0.8 -0.6 -0.5 3.3 -0.5 2.9 0.4 1.4 0.4 -0.5 0.1 7 0.3 0.4 0.6 1.5 -1.7 0.3 1.3 5.4 -0.5 0.5 -0.2 1.9 1.2 6.2 -0.5 -2.4 -0.7 3.9 0.8 4.6 0.7 4.5 -1.1 1.5 1 -5 -0.1 2.2 0 2.8 -1 1.1 0.8 9.6 0.9 -1.6 -1.3 5.2 0.3 1.5 0.3 0.4 -0.2 1.8 0.1 0 0 2.6 0.5 7.5 0.9 -0.6 -1.1 3.2 1.6 4.6 -1 1.1 0.7 2.1 -0.3 -5.1 0.5 8.2 0.5 4.3 0.5 0.3 -0.7 0 0.8 -3.6 -0.2 -5.3 -0.5 -1.4 -0.7 1 1.3 -0.4 -1 -5.9 0.6 2.7 -0.4 -8.9 0 6.1 0.3 -8.1 0.7 3.2 -0.2 -6.7 -1.1 -5.4 1.1 0.9 -1.1 -4.2 0.3 4.2 -0.1 -9.4 0.4 -2 0.7 2.3 -0.2 -4.8 0.1 -1.7 0.1 -4.2 0.6 -3.2 -0.7 -0.3 -0.1 -2.4 0.4 -1.5 0.4 2.5 -0.7 -0.5 -0.2 -6 0.4 -4.5 -0.8 3.9 0.8 -6.4 -0.1 0.1 0.1 -3.4 0.7 -1 0.1 -5.8 -0.4 -4.8 0.2 6 1.3 -6.7 0.7 -5.3 0.3 -0.6 -0.5 0 0.1 -1.5 -0.7 3.1 1.2 1.3 0 4.8 -1.1 1.2 0.8 -0.2 0.4 -1.2 -0.3 2.8 -0.7 3.7 0.9 8.3 0 0.2 0.5 0.7 -0.9 -2.3 0.4 3.6 0.6 3.8 -1.1 0.7 0.8 8.4 -0.6 -2.2 -0.3 4.9 0.1 2.1 -0.2 2.9 1.4 3.2 -1.2 -5.8 1.2 10.2 0 -3.4 -1 4.8 0.4 3.1 0.8 -2.7 -1.1 7.4 0.8 -0.4 -0.7 1.7 1.3 3.6 -1.3 -1.7 1.4 5.7 -1.8 6.7 0.3 -0.9 0 -1.7 1.6 4.8 -1.1 6.4 0.6 1.6 0.4 -5.2 0.2 3.9 -0.1 1 -0.7 5.6 0 -0.8 0.1 7.4 0 4.2 -0.7 1.5 0.9 0.7 -0.5 3.5 0.9 -1.6 -0.7 0.3 0.5 7.5 -1.1 -1 0.7 4.7 0.2 -0.2 -0.1 -0.2 1 1.2 0.3 8.1 -1.3 1.1 1.7 -0.1 -1.1 -1.7 -0.1 3.5 0.9 3.3 0.6 0.3 -1.1 5.4 0.7 -0.8 0.1 4.3 -0.1 0 -0.3 5.7 1.5 2.2 -1.2 2.9 0.1 2.5 0 -2.2 0.4 5.6 0 -0.1 0.2 7.3 0.8 -1 0.5 3.8 -0.5 0.3 0.3 1.2 -1.4 5.5 0 2.4 0 0.3 0.7 2.3 -0.6 4.5 0.1 -3.9 0.1 9.6 -0.2 -1 0.6 3.3 0.4 2.3 -0.3 5.1 -0.9 0.9 1.1 -2.7 0.4 5 -0.9 4 0.7 -3.3 -0.2 1.7 -0.1 3.7 0.5 5.6 -0.9 1.9 1.3 4.6 -0.1 1.9 -0.1 -1 0.7 3.5 -0.5 3.1 -1.1 -4.2 1.5 8.3 -1.1 -0.8 1.1 2.6 -1.3 5 0.2 -2.8 0.1 7.1 0.2 3.5 0 -4.1 0.9 1.7 -0.8 1.1 -0.7 5.4 1.7 0.7 -1 7.9 0.1 -1 0.9 5.5 -0.1 2 -0.2 -0.5 0.3 3.5 -0.6 4.5 1.2 1.4 0.4 -1.9 -0.7 0.7 1.3 4.8 -0.1 -0.9 0.3 5.9 -0.3 -1.1 0.6 7.1 -0.5 -1 0.7 3.9 -0.3 1.6 0 -1.8 0.9 9.2 -1 -6.2 1.1 3.9 0 1.6 -0.6 2.3 -0.3 9.2 0.4 -1.4 -0.2 3.7 0.4 1.5 0.3 4.7 -0.4 -0.5 1.2 4.6 0.3 2 0.2 -5.6 -0.9 5.1 0.7 3.2 0.4 0 -1 -5.8 0 0.5 0.1 -5.8 1.3 -2.9 0.6 -1.3 -0.3 -2.1 -0.2 1.9 -0.8 -3.4 0.7 -3.1 0.8 5.2 -1.3 -0.5 0.1 -1.8 0.1 10.2 0.4 -4 0.5 0 -0.8 8.9 1.1 -4.5 -0.3 9.2 0.4 -3.2 -1.6 6.1 1.2 5.3 0.3 -5 -0.4 6 -0.7 -2.9 -0.4 9.1 0.1 -3.2 0.2 5.7 0.6 4 0.8 2.2 -1.3 3.9 1.1 -3.2 0.3 1.9 -0.5 2.3 0.1 1.5 -0.5 2.4 0.8 6.2 -0.6 0.2 -0.6 -5.5 1.1 -1.5 0 1.9 -0.9 -1 -0.4 -5 1.1 -3.5 0.4 -3.1 -0.6 -2.6 -0.4 2 0.4 -2.4 -0.5 -7.8 1.3 3.2 0.1 -1.9 -0.2 -2.4 -0.3 -0.6 -0.7 -5 -0.1 -4.9 0.5 -3.4 0.4 -0.5 -0.5 2.6 1 -1.7 -0.4 -8.5 -0.9 -2.2 0.3 -2 -0.3 -4.1 1.5 5 -1.4 -1.8 1.4 -9.7 -0.9 0.9 0.4 0.7 -0.7 -5.5 1.1 -4.2 -1.2 4.9 0.9 -8.4 -0.1 -1.8 -0.3 -0.1 0.3 -5.7 -0.5 4.1 1.2 -4.7 -0.8 -1.9 0.3 -2.9 0.6 1 -0.8 -1.1 0.4 -6.9 0.4 0.9 -0.1 -4.9 -0.2 0.7 -0.3 -9.1 0 -1.3 0.9 4.3 0 -6.6 -0.1 4.9 -0.4 -0.3 0.4 5.5 0.6 -2.1 0.5 6.4 -1.1 -1.3 0.1 5.3 0.1 -3.4 -0.4 3.1 0.2 6.4 -0.1 0.9 0.9 -2.4 -0.2 8.2 -0.9 0.7 1.2 1.2 -0.4 4.8 -0.8 0.8 1.2 -3 -1 1.9 0.8 5.7 0.3 4.8 -1 4.4 -0.3 -4 0 3 0.8 7.9 -0.9 -2.1 0.4 6 -0.1 1 -0.1 -2.3 0.3 4.6 0.8 2.5 -1.1 -0.9 0.5 4.8 0 1.6 -0.4 -0.3 0.9 7.2 0 1.9 -0.8 0.6 0.6 5.9 -0.4 -1.9 1.3 1.4 -0.3 2.5 -0.4 -0.3 -0.6 3.5 0.3 2.5 0 5.3 -0.4 3.1 0.6 0 -0.1 0 0 -1.7 1 -7 -0.3 1.3 0 -3.2 0.1 1.7 -0.6 -2 1 -8.3 0 2.7 -0.8 -5.7 -0.3 2.4 0 -9.2 0.5 -0.9 0.1 -1.5 -0.1 -5.3 -0.5 2.1 1.6 -2.4 -0.7 -2 0.8 3.6 -0.7 4 -0.8 -5.3 1.4 7.2 -1.2 -0.1 0.8 6.1 -0.8 -0.4 0.9 2.9 0.6 3.6 -0.1 -3.5 -0.7 4.4 0.7 2.4 -1.3 3.1 0.2 2.5 -0.1 -2 0.7 5.5 -0.5 -1.2 0.7 10.3 0.1 2.9 0.3 1.9 -1.2 -2.9 1.4 0.1 -0.9 6.8 0.7 -2.3 -0.7 7.4 0.5 0 0.1 0 -0.6 -7.1 1.4 2.3 -1.2 -6.8 0 -2.8 0.4 -1.5 0.5 -2.1 -0.6 -2.2 -0.2 -0.7 -0.1 -5.5 1.1 -2.7 -0.3 -1.8 0.3 5.3 -0.3 -7.5 -0.1 -1.1 -0.3 -5.6 0.2 -1.5 -0.2 -0.5 0.3 0.3 0.9 -3.2 -0.3 -2.3 0.5 2.1 -0.5 4.8 -0.7 -3 0.6 6.5 -0.5 -1.4 1.5 1.1 -0.1 4.8 -1 5.6 1.2 -3.4 -0.5 2.2 -0.2 8.5 0.9 -2.4 -0.1 6.1 -1.2 0.8 -0.3 -3.8 0.9 10.1 0.8 1.8 0.1 -3.7 -1.4 2.5 1.5 2.2 -1.2 8.2 0.9 -2 0.2 5.1 -1.2 -1.8 1.3 3.5 -0.1 3.1 -0.6 -1.6 0.1 8.7 0.5 1 -0.2 -1 -0.4 4.4 0.7 0.7 0.3 5.4 -0.5 -2.5 -0.3 3.4 0.8 2.8 -0.5 -0.5 0.8 2.4 -1.3 6.4 0.4 -3.1 1.3 6.7 -1 0.1 0.9 3.7 0.2 -1.5 -0.5 -3.6 -0.1 -3 0.3 2 0.4 -3.1 -0.5 -6.6 1.1 1.8 -1.2 0 -0.1 -8.2 0.6 -2.8 1 2.5 -1.4 -3.4 0.1 -4.1 0.8 -3.1 -0.7 -0.2 1.3 -4.3 -0.5 1 -0.5 -5 -0.5 1.7 1.8 -3.2 -1.6 -2.4 1.3 -7.6 -0.6 -0.9 0.5 2 0.1 -5.5 -0.4 3.4 0.5 -6.9 0 2.1 -0.3 -5.6 0.7 6.2 -0.7 2.7 0.1 -0.1 0.4 -2.6 0.5 5.8 -0.3 0 1.2 -6.1 -0.3 3.9 0.1 -7.8 -1.4 -4.7 0.7 -2.2 0.9 -0.6 0.1 -0.3 -0.9 -1.8 -0.5 -3.5 1.7 -1.1 0 2.4 -0.9 -10 -0.4 4.5 0.1 -9.1 1 -2 0.5 3.5 -0.5 -8.1 -0.9 4.5 1.5 -8.6 -1.6 4.2 1.1 -7.6 -0.4 -1.5 0.2 0 -0.7 0 0.8 4.2 -0.9 5.4 0.2 -2.2 0.2 3.9 1.4 0.2 -0.5 5 -0.8 1.8 1.4 2.9 -0.2 -3.2 -1.1 4.4 1.2 5 -1.1 -2.2 0 5.1 1.5 2.3 -1 -2.2 -0.4 3.8 1.4 5.6 -0.7 1.1 0.6 4.2 -0.9 4.6 1.1 -4.9 0 6 -0.7 1.2 0.5 -5.4 -1.1 -2.5 0.4 -2.2 0.6 0.5 -0.4 2.5 0 -5.5 -0.2 -4 0 -5.6 1 4.3 -0.7 -2.6 -0.4 -4.7 1.5 -3.7 -1 0.9 0.1 -2.7 -0.1 -4.4 0.9 -1 -1.1 2 -0.1 -6.2 -0.1 2.3 -0.2 -6.5 0.9 -2.4 -0.6 -6.2 0.6 2.2 -0.7 -4 0.6 -2 0.4 -4.2 -0.1 -0.9 0 0 -0.9 4.1 1.2 0.2 0.1 5.7 0 1.7 0.3 -3.3 -0.6 6.9 -0.8 3.7 0.6 2 0.8 -1.1 -0.5 -1.2 -0.8 0.8 0.3 10.6 -0.1 -2.6 0.7 6.7 -0.4 1.5 0 -1.4 0.8 3.3 -0.2 2.1 0.7 -0.2 -1.4 -0.5 1.5 8 -1.3 3.8 0.4 1.2 0.1 0 0.3 -1.6 0.4 -1.7 -0.9 0.3 0 -2.3 -0.2 -4 0.2 -2.7 0.7 1.1 0.6 -7.7 -0.4 -4.7 -1.2 2.6 0.2 -3.9 0 2.7 0.8 -5.5 0.7 -6.8 -0.5 1.9 -0.8 -5 -0.2 -1.7 0.9 -3.3 0.5 -0.5 -1 -4.4 0.9 1.2 -0.8 -4.1 0.3 -3.9 0.8 0.1 -0.8 -3.4 -0.2 2.3 1.5 -8.6 -1.2 5.7 0.3 -7.8 0.1 -0.3 0.6 -4.8 -0.1 3.9 0.2 -6.5 -1.1 2.6 0 -4.6 1.1 0.7 0 -7.4 -1.2 -3.2 0.1 -0.2 1.4 -2.7 -1 -1.1 0.5 -5.4 0.7 0.5 -0.8 -5.3 -0.1 0.4 0.1 -4.6 -0.3 1.1 0.6 -4.2 -0.1 3.4 -0.7 -7.6 0.6 -0.6 0.2 -5.8 -0.1 2.3 0.5 -1.1 -1 -8.2 1 2 -0.6 -1.9 0.5 -2.7 0.7 -3.7 -0.1 -1.8 0.4 -3.7 -0.8 0 1.7 0.2 0.5 -0.2 -0.6 -4.8 0.7 -6.2 -0.4 -0.9 0.8 -5 0.5 3.1 -0.7 -6.4 0.8 0 -0.5 3.4 1.6 4.4 -1.1 -0.1 1.1 1.5 -0.1 0.3 0.6 4.4 -0.3 3.8 0.5 0.1 -0.2 2.7 -0.9 -0.5 0.4 4.4 0.1 5.9 0.4 1.1 0.4 -1 0.3 -0.6 0.8 3.4 -1.5 4.9 0.1 -0.5 0.9 3.9 0.4 0.6 0.4 3.4 -0.9 4.3 -0.3 3.6 0.1 -3.2 1 8.7 0.9 1.2 0 -4.5 -0.3 1.6 -0.4 9.2 0.8 3.1 -0.8 -1.3 0.5 2.2 -0.6 -0.9 1 5.5 0.2 -1 -0.3 1.1 -0.1 7.4 0.2 0.9 0.3 5.3 1.4 2.6 -1 2.4 -0.2 -0.4 1.3 4.7 -0.8 -6.3 0.5 2.8 1 9.6 0.2 -3.4 -0.4 3.7 0.1 -6.6 -0.8 1.2 1.1 2.6 -0.1 -1.5 -0.9 -5.6 1.4 -3.5 -0.4 -1.4 -0.5 -3.1 -0.2 -6.2 -0.2 -0.7 1.2 -3.4 -0.1 6.3 -0.8 -3.7 0.3 -2 -0.2 -2.1 0.5 -7.2 -0.5 -2.9 1 2.3 -0.2 0.2 -0.3 -7.9 0.2 -0.1 0 0.8 -0.1 -1.8 -0.8 -6.9 0.8 -3.2 0 -5.1 -0.3 -1.2 1.2 4.7 -0.6 -9.1 -0.9 1.1 0.9 -3.9 0 -1 0.1 -5.4 -0.7 2.7 1.4 -2.6 -0.8 -2.8 0.3 5.8 0.4 -1.1 0 1.6 -0.1 1.6 0.2 5.5 -0.3 1 0.7 0 -0.3 3.1 -0.2 1.7 1.2 4.4 -0.3 -1.6 0.1 5.3 -0.3 3.4 0.1 -3.6 0.6 6.8 0.2 5.9 -0.4 -0.2 -0.3 3.5 0.8 2.9 0.1 -1 0.7 1.9 1 3.1 -1.3 -1.5 0.7 6.6 0.9 1.5 0.9 -4.7 -1.2 0.5 -0.1 -3.6 -0.1 -3.3 1.1 4.4 -1.1 -7.8 1.4 3.3 0 -10.1 0.3 1.9 -1 -3.2 0.3 -6.1 0.6 -0.1 0 -2.4 -0.1 -1.2 0.2 1.2 -1 -3.4 -0.1 -5 0.1 -3.7 1 -0.3 -0.6 -5 -0.6 2.3 0.2 -0.5 -0.1 -1.8 0.3 -0.9 -0.2 -9.3 0 -1.2 1.5 -1.2 -1 -1.7 -0.6 1.2 1.5 -8.2 -1.2 0 0.6 -0.7 0.5 0 -0.5 8.6 0.1 -0.2 -0.2 -2.4 0 3.4 -0.2 6.2 1.2 -1.5 0.5 -1 -0.5 7.4 -0.8 -1.6 1.5 8 -0.2 -5.3 -1.3 3.9 0.1 5.7 1.4 4.4 -1.2 -2.9 1.2 4.3 0 -2.2 -0.6 3 -0.4 2.5 0.4 5.5 1.2 5.6 -0.6 0.5 -0.3 1.4 0.5 0.6 -0.2 1.7 1.1 6.1 -0.2 1.1 -1.3 -1.7 0.8 3.9 0.1 -4.7 0.5 2.7 0.1 -0.8 -1.2 -7.8 0.6 -0.5 1.1 1.3 -0.2 -5.2 -0.3 -0.5 0.8 -4.8 -0.6 1.1 -0.7 -0.5 0.8 -4.2 -0.7 -6.2 1.4 0.1 0.2 -5.8 -1.2 5.1 0.6 -6.1 -0.6 -4.1 1.6 -2.8 0.1 2.9 -0.8 -5.3 0 -6.1 1.1 2.5 -0.6 -6.8 0.7 -0.5 -0.8 0 0.4 0 -0.7 5.7 0.4 0.7 0.1 -0.3 0.6 1.2 -0.2 10.4 0.1 -2.9 0.5 -0.1 -1.1 7.2 0.2 -0.6 -0.1 5.1 0.2 3.8 0.3 1.9 1 -0.5 0.4 5.9 -0.2 -4.8 -0.9 4.7 1.5 2.5 -0.3 -1.7 0.4 6.9 -0.6 1.9 -0.4 -2.4 -0.2 1.2 0.4 -3.7 -0.1 -7.8 0 4.9 0.1 -1.5 -0.1 -2.1 0.9 -4.6 0.8 -2.8 0.2 -5.5 -0.3 0.9 0.4 -5 -0.8 2 0.8 -6.7 0.2 0.9 -0.3 0.7 -1 -3.6 1.1 -1.2 -1.1 -8.8 0.3 -2.2 1.1 3.8 -0.7 -2.8 -0.3 0 0.7 -6.1 -0.1 0 0.6 2.2 0 7.4 -0.3 -2.4 0 2.1 -0.7 4.1 1.2 5 -1.3 1.6 1.2 -2.7 -0.2 7.3 -0.3 3.4 0.1 -4.2 -0.1 2.9 -0.1 6.5 0.5 1.5 -0.1 -4 0.2 9.8 0 2 -1 3.5 0.3 -2.9 0.2 5.2 0.7 1.3 -0.1 -3.6 -0.6 5 0.7 5 0.1 -1.7 -1.1 1 1.6 9.5 0.1 2.7 -0.7 0.3 -0.1 0.3 0.8 5.9 -1.3 -2.4 0.4 3.1 0.9 4.7 -1.5 0.5 0.1 1.4 1.3 2.2 -0.6 3.4 0.8 -2.5 -0.7 7.5 0 0 0.4 -6.2 -0.4 0.9 -0.1 -2.5 0.7 -4.3 -0.3 1.2 0.2 -0.2 -0.3 -7.5 0.8 1.4 0.2 -1.6 0.2 -4.7 -0.9 -0.2 0.8 -6.3 0.6 4.3 -0.1 -2.5 -0.9 -4.3 0.5 -3 0.9 -4.1 -0.4 -2.5 -0.5 0.2 0.6 -6.2 1.3 3.8 -0.8 -7.2 0.9 0 -0.5 6.5 0.8 0.5 0.4 2.8 0.1 -4.8 -1.2 7.8 0.5 4.2 0.5 -2.2 0.2 3 0.6 -2.2 -1.3 6.3 0.3 2 1 1.5 -0.9 5.1 1.5 -2.1 -1.3 5.3 0.2 2 0.8 -2.7 -0.8 2.5 1.5 7.3 -0.3 -3.3 -1.1 2.8 0 1 1.6 8.6 -0.6 0.1 -0.5 -6.6 0.5 -2 -0.3 0.2 0 2.2 0.2 -3.9 0 -2 1.7 -6.4 -0.9 -1.6 1.1 1.3 -1.5 -3.3 1.1 -1.1 -0.4 -3 -0.5 -0.2 1 -4.7 0.5 1.1 -0.6 -8.3 0.1 0.9 1.2 -7 -1.4 1.2 0.7 -1.8 -0.9 0 0.3 8.1 1.5 -1 -0.7 4.1 0.2 -2.2 -0.8 6.9 0.4 -3 0.9 5.5 -1.1 2.2 -0.2 3.4 -0.3 -3.4 1.1 6.4 -0.1 1.2 -0.6 -0.3 0.4 5.7 1 1.5 -0.3 1.9 -0.5 -1.5 -0.5 2.1 0.4 3.4 1 2 -1.1 3.4 0.1 0.2 0.3 8.6 0.2 3.2 -0.3 -0.1 0 3.9 -0.4 -4.1 -0.2 8.2 1 -3.4 -0.3 6.7 0 1.9 -0.7 1.7 1.7 0.5 -1.1 3.7 1.1 2.6 -0.9 0.8 0.8 5.4 -0.3 -3.2 -0.6 2.9 0 6.7 0.3 3.2 -0.6 1.8 -0.2 -2 1.6 6.3 -0.8 -1.2 -0.1 6.6 -0.4 -3.8 1.2 7.7 -0.1 -1.3 -0.1 4.1 -0.3 0 0.3 -5.7 -0.2 4.6 0.4 -6.2 -0.7 -4.3 1.5 2.2 -0.5 -7.3 -1.1 1.3 0.6 -5.2 -0.2 2.5 0.9 -5 0.8 1.2 -1.4 -1.5 0.8 -4.7 0.1 -2.2 -0.6 -3.8 1.3 0.4 -0.4 -2.1 -0.6 0.3 1.1 -5.6 -1.4 -1.5 1.6 -3.5 -0.7 -5 0.2 4.8 0.3 -6.1 -0.1 -2.6 0.1 1 0.6 -1.7 -0.1 -6.6 -0.8 -3.1 0.1 -0.4 1.6 -3.9 -1 3.9 0.4 -9.3 -0.3 0.4 0.2 1 0.4 -4.5 -0.2 -1.2 1.5 -3.5 -0.5 -2.1 0.4 -5 1.6 0 0.7 0 -1 5.9 -0.1 4.2 1.1 -1.5 -1.1 3.1 0.2 -2.8 1.4 10.3 -1.5 -3.7 0.4 5.2 1.3 4.5 -0.2 1.2 0.2 2.1 -0.1 -1.4 0 -1.2 0.6 6.1 -0.9 5.2 0.3 1.5 -1 1.4 0.5 -1.4 1.3 6.5 -0.2 1.5 -1.1 2.2 0.9 -1.3 -0.2 6.7 -0.1 1.6 -0.3 -1.2 0.8 3 0.7 -0.5 -0.3 1.2 -0.3 6.6 0.9 0.9 -1.5 1.7 0.8 5.9 0.6 3.3 0.2 -1.1 -0.5 4.4 0.7 -2.1 -0.9 5.6 0.8 -1.4 0.3 1.6 -0.3 5 0.9 5.4 -0.1 -3.9 0.2 8.4 -0.1 0 -0.4 0 0.3 -6.9 -0.2 -2 0.7 -2 0.6 2.8 0.1 -9.2 -0.8 3.2 1.1 -7.8 -0.9 -1.1 1 -0.6 0.3 3.6 0 -3.1 -1.3 -5.6 0.3 -4.3 0 -3.2 0 -0.4 1.5 -2.4 -0.5 -2.7 -0.8 3.3 1 -5.3 0.2 -0.1 0.8 -8.4 -1.3 4.7 1 -0.6 -0.5 -5.1 1 -7.6 -0.8 4 0.9 -8.2 -0.3 0.3 0.5 2.9 0.4 -8.9 -0.1 3.3 0 -0.1 0.2 -6.2 -0.3 -1 0.9 -5.5 0.9 -1.2 0.5 -1.7 0.4 0 -0.7 0.4 -0.3 7 1.5 -0.1 -0.8 5.8 0.8 -2.9 -1.1 8.5 0.9 -1.8 -0.6 4.6 0.8 3.4 0.7 2 -0.4 1.2 -0.6 -1.3 1 2.9 -0.9 4.2 0.5 4.9 0.3 2.9 -0.4 0 0.3 4.5 -0.1 -0.6 -0.3 0.8 0.5 0.8 -0.4 5.6 0.9 -2.7 0.5 4.7 -0.7 -1.9 0.2 6.5 1.1 5 0.3 -2.3 0.6 3.3 -0.8 -3.2 0.6 -5.1 0 4.9 0.8 -7.5 0.3 1.4 -0.4 -5.7 0.9 -4.9 -0.8 1 0.5 -3.8 -0.2 -2.8 -0.1 -2.6 0.4 1.5 1.1 -6 -0.7 -2.7 -0.5 -0.1 0.9 -0.4 0.4 -4 0.2 1.4 0.9 -3.8 0.8 1.1 -0.8 4.5 0.7 -1.6 -0.9 8.7 0.3 1.5 -0.5 -1.1 0.4 0.1 1.2 1.8 -0.9 8.9 0.1 0.9 -0.2 0.2 0.7 5.2 0.6 -0.7 -0.5 1.6 0 3.9 -0.2 1 -0.1 -1.6 0.7 9.6 -0.6 -6.4 0.6 7.3 0.1 1.5 0.9 6.7 0 -6.1 0 10.5 -0.4 2 0.7 -0.7 0.2 3.8 -0.5 2.4 0.6 2.1 -0.3 3.7 1.1 -0.8 -0.1 3.4 -0.2 0 -0.5 -5.4 1 -0.7 0.1 -4.8 -0.8 -1.5 0.8 -0.8 0.8 1.7 -1.5 -6.6 1 3.4 0.3 -1.7 -0.5 -9.3 0.3 -1.4 0.8 -1.7 -1.1 3.3 1.5 -1.3 -0.1 -7.8 -0.2 2.8 0 -7.5 -0.5 1.4 -0.3 -4.8 1.3 -5.2 -0.4 0.9 0.5 -3.9 0.1 -1 -1 -3.5 0.4 1.3 0.4 -6.3 0.9 0.5 -0.7 -0.4 0.4 -4.4 -0.5 -5 1.3 2.1 -1.2 -2.1 1.1 1.1 -0.6 -8.8 0.8 -3.9 0.2 -0.5 0 2.4 -0.9 -3.6 0.8 -6.9 -0.1 -0.1 0.1 0 -0.5 4.6 0.8 -0.9 -0.5 -0.4 0 6.3 0.2 -2 1.3 9.2 -0.5 -5.2 -0.8 4.8 1.2 0.7 0.6 0.1 -1 4.5 -0.2 8.1 0.7 -5.2 -0.2 3.8 1.2 4.6 -1.5 0.6 1.5 1.8 -1.3 2.7 0.4 0.5 0.6 4.4 -0.1 0.9 1 5.2 -0.8 -3.4 1.6 9.3 -1.1 2 0.1 1.4 0.5 2.1 1.4 3.7 0 -1 0.6 4.8 -0.5 0 0.3 -0.9 0.1 -4.8 -0.3 -4.1 -0.6 -2.7 0.6 3 1 -6.3 -0.7 -1.5 -0.6 -0.4 1.1 2.3 -0.7 -3.1 1.1 -2 -1.3 -1.9 -0.1 -9.3 1.2 -2.8 -0.4 -2.5 0.5 0.5 0.1 -5 -0.7 6 0.8 -7.2 0.3 -3.1 -1.1 4.1 -0.1 -7 0.5 -1.4 0.7 1.6 -0.4 -6.5 0.7 1 -0.7 -2.5 -0.4 -3.7 1.6 -5.1 -1.3 3.5 0.6 -6.6 0.4 -1.1 0.6 -5.5 -0.1 -0.5 0.5 0.2 -0.6 -4.1 -0.5 0.1 1.1 -8.8 0 3.6 -0.9 -1.3 0.9 -1.5 0 -1.6 -0.8 -3 0.9 -5.5 0.2 0 -0.1 5.9 1.1 -3.2 0.1 2.2 -0.2 3.6 -0.7 5.4 0.2 -0.2 0.2 4.1 0.2 2.3 0.9 -1.7 0.6 3.5 -1.1 3.5 0.6 3 1.1 -0.4 0 -5.4 -0.1 -1.2 1 0.7 -1.6 2 1 -0.5 -0.4 7.8 0.3 0.4 -0.3 1.7 1 3.9 0.5 -2.4 -0.6 4.3 0.4 1.9 -0.1 3.9 0 2.2 1 -0.6 -1.1 5.3 0 6 0.4 1.7 0.3 -3.8 -0.5 3.7 1.4 7.4 -0.7 -1 0.6 2 -0.8 4 0.6 -2.6 0.3 2.7 -0.8 5.9 1.4 3.9 0 -0.5 -1.6 2 0.7 2.3 0.4 6.3 -0.6 2.7 -0.2 -3 1.3 -0.8 -0.8 2.1 1.3 5.8 -1.5 0.5 1.3 6.4 0.5 -2.8 0 8.7 -0.6 1.9 -0.7 1.1 0.5 1.7 0 -0.5 1 -0.1 -1.4 8.4 0.1 0 0.3 2.5 0.7 1.8 -0.2 0 0.1 -4.3 -0.3 1.2 0.5 -7.7 0.5 1.8 0 -1.2 0.4 -8.9 -0.4 -2.6 0.9 1.7 -0.5 -5.1 0.6 0.5 0.6 -2.6 -1 -5.3 1.5 -2.9 -1 3.5 0.8 -4.1 -0.1 -3.6 0.5 3.2 -0.3 -4 0.5 -8.2 0.7 3.3 0.9 0 0.6 -4 0.1 0.6 -0.4 -6.3 -0.1 0 0.5 1.1 -0.8 5.4 0.8 -1.6 0 7.1 0.5 0.7 0.3 4.2 -0.9 -0.3 -0.1 6.2 0.4 -3.8 0.8 5.7 0 -2.3 0.4 6.4 0.2 -2.3 -0.5 3.9 0.9 0.9 0.1 6.6 -0.5 1.1 -0.5 2.4 0.1 1.2 1.5 -0.5 -0.6 1.3 0.8 2.6 -1.1 10.7 1.8 -3.4 -1 1.2 1.3 8.9 -0.3 -3.2 -0.4 5.9 0.2 -4.9 1.2 8.4 -0.8 0 0.5 1.7 0.7 -1 -1.4 9.7 1 -1 0 -1 1.1 2.3 0 8.8 -0.3 2.9 0.6 -4.5 0 4.6 1.3 4.9 -0.1 0 -0.4 -4.1 0.4 -2.2 0.8 1.1 -1.1 0.5 0.6 -8.9 0.3 4.6 0.8 -4.3 -0.7 -4.5 0.5 0.6 -0.5 -0.2 0.5 -2.5 0.4 -3 0.5 -4.9 -1 -6.5 1.1 1.5 0 -4.9 -0.6 -3.1 0.8 1.2 0.3 -1.6 -0.7 -0.7 0.1 -3.7 0.3 -2.4 -0.3 1 0 -8.2 1.1 -1.6 -0.9 1.7 1.2 -4.5 -1.1 2.6 -0.2 -2.3 0.5 -1.7 -0.4 -2.6 1.7 -4.5 -0.6 -1 -0.5 -8.2 1.2 4.9 -0.8 -8.7 0 1.4 1.1 -5.8 -0.3 -3.1 -0.3 0.5 0.6 2 -1.2 -3.1 1.5 -1.9 -1 -9.3 1.3 4.3 -0.6 -4.3 0.8 2.5 -1.1 -1.9 1 8.8 -0.4 -3.2 0.4 4.1 -0.7 1.8 0.7 5.4 0.1 -1.4 -0.3 1.2 -0.3 1.5 -0.4 4.3 0.5 1.2 0.4 2.3 0.6 7.3 -1.2 -3.3 1.4 0.3 -0.2 8.2 -0.6 3.5 -0.5 -4.5 1.3 4.3 -0.6 -0.7 -0.3 2.1 0.8 6.4 -0.5 5.7 -0.4 -4.2 0 1.7 0.2 0.5 0.6 7 0.1 4 0.1 0 -0.6 -5.9 1.6 3.4 -1.2 -1.7 0.4 -5.7 -0.2 -1.4 -0.4 -4.6 1.8 4.3 -0.9 -1.2 -0.3 -4.8 -0.3 -7.3 1.6 -0.1 -1 -0.4 0.7 -2.6 -0.1 -4.7 0.1 4.5 0.5 -1.6 0.5 -8.7 -0.7 0 0 4 0.6 -2.3 -0.3 2.2 0.1 1.9 0.4 9.5 0.2 -1.8 0.1 3.5 -0.6 -1.1 1.5 5.1 -0.7 4.6 0.3 -3 0 0 1 8.9 -1.3 -4 0.7 5.9 0.3 -2.4 -0.9 2.2 0.7 -9.7 -0.7 3.7 1.3 -5.9 -0.9 -1.8 1.1 -5.4 -0.4 1.8 0.5 -0.6 -0.7 -4.8 -0.4 2.5 0.7 -3.5 -0.3 -4.4 0.2 1.5 -0.4 -7.8 1.4 2.9 -0.5 -5.7 -0.6 -6.2 -0.2 -0.1 1.5 -0.3 -0.5 -0.2 -0.4 0.2 0 -8.2 0.4 0.4 0.1 -6.5 0.7 5.4 0 -5.2 -0.6 -3.5 -0.5 -0.3 0.6 -3.1 0 -4.8 0.3 -3.3 -0.3 -2.7 0.2 -2.7 0.5 -1.9 0.1 -2.9 0.3 0.4 -1.5 -1.9 0.3 0.9 0.4 -0.9 0.3 -7.1 -0.6 -2.6 0 -2.9 0.5 1 -0.5 -4.7 0.5 -0.4 0.3 -0.5 0.2 -1.4 0.5 -4.1 -1 -5.1 1.2 -3.4 -0.8 5.7 0.3 -2.5 0.7 -1.4 -1.1 -7.6 1.3 -1.4 -1 -1.7 0.1 -5 0.3 1 0.4 1 1.3 -2.6 0.2 -0.8 0.1 -6.1 0.6 -0.1 1.4 0 0.6 6.1 -1.2 0.4 1.2 1.3 -0.6 -2.4 0 5 -0.1 -0.9 -0.2 5.3 0.8 5.2 -0.2 -2.4 0.7 2.5 -0.2 5.8 0.4 2.1 0.3 3.1 -1.1 1.8 0.2 -1.6 0.2 6.5 0.4 3 0.7 -4.7 -0.5 2.4 0.6 4.5 0.1 2.9 0.7 4.7 -0.8 -0.5 -0.1 3.3 -0.1 1 0.4 5.2 0.5 1 0.2 2.1 -0.3 0 -0.3 6.1 -0.3 1.6 1 -3.8 0.3 5.7 -1.3 2.6 1.2 -2.1 -1.2 3.3 1 4.7 -1.2 2.6 1.2 4 0.5 -1.9 -0.2 3.7 -0.8 -1.5 0.7 8.2 0.1 1.7 0.3 -3.9 -0.6 6.4 -0.4 -6.4 0.4 0.2 -0.1 -4.1 -0.1 -1.8 -0.4 -0.4 -0.1 1.9 1.6 -7.7 0.1 -0.4 -0.7 -3.1 -0.2 -0.2 0 1.9 0.2 -3.9 0.6 -6.3 -1.4 3 1.3 -5.2 -0.6 -3 -0.4 -0.4 0.1 -4.4 1.1 1.3 0 -6.4 -0.2 -0.9 0.2 -5 0.5 1.5 -1.1 -5.7 -0.2 2.4 1.1 -2.4 -0.2 -7.6 -0.8 -1.1 0.9 -1.7 -0.7 0.4 0.8 -1.8 0.2 -6.6 -0.4 0.7 -0.8 0.8 1 -5.8 -0.6 -6.3 0.1 2.6 0.8 -2.6 -0.2 -4.5 -0.4 0 -0.5 0.3 0.4 3.9 0.3 2.2 0.2 2.2 0.4 7.2 1 -2.7 -0.6 4.4 0.8 3.8 0.3 -4.6 0.2 7.1 0.5 1.2 -0.1 -0.1 1.3 -1.3 -1.3 -2.1 1.1 -5.7 -0.4 -2.5 0.1 -0.2 0.8 -6 0.1 5.4 0.8 -2.4 0.7 -5 -0.1 -2.7 0.3 -3.1 -0.3 -1.9 -0.6 5.7 0.4 2.8 0.3 -0.3 1 3.4 0.4 0 0.8 -1 0.2 2.9 -0.4 3.4 0.5 2.6 -0.3 1.3 -0.2 1 0 1 0.9 3.6 -0.8 0.9 0.8 5.3 0.3 6.5 0.4 -5.8 -0.4 8.3 -0.1 4.1 -0.9 -5.2 0.9 1.8 0.7 6.4 -1.3 -2.1 0.6 2.4 0.8 9.8 -0.3 -5.8 -0.6 3.5 0 3.4 0 2 0.7 2.7 0.3 4.2 -1.2 -0.3 0.6 4.8 0.2 -1 0.4 8.9 -1 0.1 0.9 0.3 0.4 2.6 0.2 5.1 0.5 -5.2 -0.3 1.9 0.3 6.3 -0.3 6.4 -0.1 -5.5 -0.3 2.5 -0.2 2.2 0.5 1.5 -0.4 2.6 0.1 8.3 1.1 0.4 0 2.7 -0.5 1 -0.4 6.1 1.4 -4.4 -1.1 8.8 -0.4 2.3 1.5 -4 0.1 1.1 -0.1 3.3 -0.4 1.4 0.1 6.3 -0.8 4.8 1.5 0.9 -1 0.6 0.4 4.7 0.7 -2.6 0.2 6.8 -1.4 -0.2 1 -2 0.2 2.4 0.4 3.1 -0.1 1.2 -0.3 6.6 1 -0.3 -0.8 4.5 -0.4 5.5 0.1 3.3 0.1 -6.2 0.6 5.2 0.7 -0.5 -0.3 8.6 -1.1 4.1 1.5 -0.5 -0.7 -2.4 1 2.4 -0.1 4.6 -0.4 0.3 -0.4 6.6 -0.3 -2.1 0.6 5.5 -0.1 -1.7 -0.3 3.3 0.8 3.8 -0.4 -1.3 0.5 -5.6 0.8 4.8 0.4 -9.2 -0.7 4.3 0.7 -3.4 0.7 -4.4 -0.3 -1.1 -0.1 0.2 -0.7 -9.3 1.1 1 0.1 -0.2 1.1 -0.7 -1.2 -7.8 -0.2 0.7 0.3 -6.4 0.8 -0.4 0.6 -3.1 0.4 2.9 0.1 -4.1 0.1 0.1 -0.1 -6.5 0 -0.5 0.4 4.9 0.4 -2.2 1.7 3.3 -0.1 2.9 0.7 0.6 1.8 -1 -0.1 5.5 1 -3.8 -0.6 1.5 0.3 -4.5 -0.7 0.7 0.2 -4.7 0.1 -5.4 1.4 3.2 -1.3 -5.5 0.4 -4.5 1.2 -0.5 -0.6 -0.9 -0.4 -1.3 0.6 -4.5 -0.1 -5 0.6 2.3 -0.8 -5 0.9 -0.1 -0.4 -1.6 1.7 -7.4 0.2 4.3 0 -5.9 0 2.5 -0.4 -9.6 0.5 0.8 -0.2 -0.4 0 -5.5 0.4 -0.6 0.1 -3.6 1.1 0 -0.2 5.2 1 -0.9 0.2 -2.1 -0.2 9 1.2 0.6 -0.4 1.5 0.9 1.7 0 2 1.1 1.7 0.6 5 -0.5 -0.5 1.3 2.8 -0.3 -5.1 -0.3 1.4 0.2 -4.5 0.2 -0.1 -0.2 0.4 1.3 -6.3 -0.6 2.1 1 -1.1 -0.9 -5.6 0.7 -5.5 0 -3.3 -0.8 -0.7 0.5 1.4 -0.4 -7.2 0.5 4.4 0.5 -2.2 -0.4 -9.2 -0.1 3.3 1.4 -6.4 -0.5 -0.4 0.6 -1.1 -1.6 -3.8 0.9 0 0.5 3.5 -0.8 3.8 0.8 -3.8 -0.4 3 0 0.9 0.4 4.7 0.1 -1.5 1.2 8.2 0.5 -1.1 -0.5 -0.5 -0.5 9.3 1 -1 0.3 -0.9 -0.5 4.2 1.6 6.7 -0.4 0 0.5 2 0 2.4 0.6 4.5 0.5 -2.9 0.1 4.7 0.1 0 0.2 -6 -0.5 1 0.5 -0.4 0.3 -6.5 -0.5 0.8 0.7 -7.4 0 -3.7 -0.3 -1.2 1.3 -0.1 -1 0 0.6 -2 0 -8 0.7 4.1 -1.3 0.1 1 -6.4 0 -2 1 -2.8 -0.4 -2.3 0.8 0.8 -0.4 -3.8 -0.1 -6.5 0.9 -0.7 -0.3 0 -0.4 3.8 1.6 1.4 -0.7 4.6 0.6 -2.1 1 2.7 0.1 6.1 -1.2 3.6 0.8 1.8 0.6 -4 0.1 4.4 -0.2 1.3 0.3 7.4 0.6 -5.8 1.1 8.9 -0.4 -1.1 1 -0.6 -0.7 7.8 0.8 -0.1 1.1 3.6 -0.8 -0.8 1.2 5.5 -0.7 -1.1 1.7 1.4 0 3.6 1.2 -2.3 1.3 3.4 -0.2 0 0.6 -7.9 0 2.8 -0.4 -0.3 0.2 -5.8 -0.1 0.9 0.1 -7.8 0.7 3 0.2 -8 -0.8 4.9 0.7 -4 -0.7 -3.8 1.2 -7.8 0 0.7 0.1 2.4 -0.6 -5.4 0.5 -0.1 0.4 -1.4 0 -1.2 0.1 -7.6 -1.2 -4.2 0.7 4.8 -0.3 -1.4 -0.3 -10.1 1.3 5.1 -0.3 -6.2 0.6 -5.7 -1.2 0 0.5 -0.3 0.5 -2.1 -0.3 -2.1 0.6 0 -0.6 2.9 0.6 7.4 0.2 0.7 -0.7 -0.5 1 3.1 -0.2 -0.9 0.5 4.9 0 4.4 -0.8 -0.5 -0.3 0.8 0 2.8 0.8 5.1 0.4 3.2 -0.4 4.3 0.1 -0.9 -0.3 0.9 0.1 0.8 0.3 4 0.4 2.6 -0.1 6.2 -0.4 2.2 0.6 -1.2 -0.2 0.8 1.1 0.3 -0.3 0.8 -0.7 5.9 0.3 2.4 0.9 0.4 -0.6 2.5 0.3 2.8 -0.1 3.5 -0.9 -1.9 0.1 7.1 0.6 0.9 0.2 4.2 -0.2 -4.1 1 4.7 0.4 5.6 -0.4 4.4 0.3 -6 0 4.9 -0.3 0.6 0.6 2.8 -0.4 8.5 0.5 -1.9 -0.4 4.5 0.7 -2.3 -0.2 2.6 0.2 5 -0.3 5.3 0.2 -4.7 0.9 8.3 -1.1 -5.3 1.2 3.7 -1 6.3 1.4 2.6 -0.6 0 -0.2 0 0 -1.6 -0.1 -1.3 0.3 -7.1 1 1.6 -0.3 -4.8 0.2 -4.4 0.3 -4.5 -0.4 5.9 0.4 -6.6 0.7 -3 -0.7 -3.8 0.5 2.1 -1 -5.7 0.1 1.2 -0.1 -1.1 1.6 -1.7 0.2 -5.6 -0.3 0.2 -0.2 -4.8 -0.6 -4.4 0.1 -3.6 1.2 2.8 -0.4 0.1 1 -7.5 0.3 1.6 0.1 -9.3 -0.2 1.4 -0.3 -4.1 0.4 2.6 -1 -2.8 0.9 -4 -0.7 1 1 -2.5 -0.5 -4 1.1 -0.6 0.4 -7.1 -0.1 -0.7 -0.7 -3.8 -0.5 -2.4 0.3 -2.8 0.7 1.2 0.9 -5.9 -0.7 2.6 0 -5.5 0.1 3.6 0.2 -5.9 0.9 -2.2 -0.1 -3.1 -0.1 -5.1 -0.7 -1.7 1.2 -2.5 -0.1 5.1 -1.1 -5.8 1.5 -1.9 -1.5 -0.4 1.8 0.2 -1.6 -5.8 1.2 -1 -0.3 -8.6 -0.6 -2 1.4 3.7 -1 -5.3 0.2 -2.7 0.2 0.4 0.5 -2.7 -0.8 5.9 1.1 -3.9 -0.9 4.2 0.4 1.7 0 6 0.8 0.8 -1.1 0.2 0.2 3.3 1.5 -0.4 0.1 1.6 -1.6 2.1 1.5 1.1 -0.9 10 0.1 -2.7 0 4.8 0.7 0.8 -0.9 0.5 1 5.6 -0.3 -3.6 0.3 9.8 0.8 0.7 -1 -2 0.2 4.9 0.9 -1 0.2 6 -0.7 2.7 0.1 2.5 0.8 0.3 -0.4 4.5 0.7 1.9 -0.6 1 1 0.9 -0.7 -2 1.3 -1.2 -0.6 -4.4 0.3 -0.1 0.5 1 -0.8 -4.8 0.6 -7.9 0.1 -0.7 0.3 1.7 -0.6 -7.6 -0.2 0.4 0.9 -3 -0.4 -0.4 0 -5.2 -0.7 2.4 0.3 -4.9 -0.3 -0.2 0.6 1.6 -0.6 -2.7 1.6 -3.7 -0.9 -5 -0.1 -0.6 1.1 -5.6 -0.7 1.4 0.6 -3.9 -0.9 0.4 0.3 -6.1 0.1 -4.5 0.5 -1.7 -0.6 -0.2 -0.1 -3.2 1.2 -2.1 -0.6 -0.2 0.8 -3.4 -1.4 0.3 -0.2 -1.5 1.3 0.7 -0.5 -9.3 0.2 0.4 0.7 1 -0.1 -2.7 0.3 -7.5 -0.7 1.3 0.9 -6.8 -0.1 5.6 -0.2 -4.7 0.9 -3.4 0.8 5.6 -0.2 -3.1 -0.4 6.1 -0.6 3.5 0.3 -3.2 1.2 7 0 -3.2 -0.1 4.7 0.1 1.3 -0.3 3.4 -0.1 0.4 1.2 4.6 -0.3 -1.5 0 4.6 -0.5 -3.2 -0.1 -5.2 0.3 3.9 0.8 -6.4 0.2 -3 -0.5 0.3 0.8 -0.4 -0.4 0.2 0.6 -3.8 -0.9 -4.1 0.8 -4.6 -0.5 -4.6 0.2 4.8 0.3 -4.6 0.6 -2.8 -0.2 2.4 0.2 -0.1 0.9 2.3 -1.5 3.9 0.1 4.7 1.2 2.3 -0.5 3.8 0.5 0.6 -0.3 2.8 0.3 2.9 -0.6 -2.4 1 6.4 0 -2 -0.4 6 -0.7 -1.9 0.8 1.8 -0.8 3.7 1 -0.6 -1.1 2.6 -0.2 5.3 0.3 1 0.7 6.3 -0.1 -1 0.7 -2.1 -1.5 10.5 1.4 -1.2 0.4 4.8 -0.1 2.7 0.2 -4.6 -0.6 9.7 -0.7 1.3 -0.2 -1.8 1.6 2.6 -1 4.3 -0.4 -1.3 0.2 3.2 0.5 2.8 0.1 1.4 -0.1 2.3 0.6 2.9 -0.4 5.8 -0.5 1 0 -3.1 0.9 2 -0.2 9.2 -0.9 -4.1 0.8 7.2 0.8 -3.4 0 7.6 -0.3 4.3 0.3 1.7 -1.1 -4.7 0.6 5.6 -0.7 -1.2 1.3 7.8 0 -0.5 0 5.8 -0.9 -3.9 0.8 6.4 -1.3 3.8 -0.1 0.8 0.1 -1.1 0.1 4 0.6 3.5 -0.2 3.6 -0.3 3.8 0.7 -5.9 0.7 6 -1.2 -2.1 0.5 4.2 0.4 7.4 -0.5 -3.1 0.4 6.8 -0.1 0 -0.2 -5.7 0.2 -2.9 -0.2 -0.3 1 -1.2 -1.4 -4.5 0.7 -1.7 0.9 0.5 -1.1 0.5 0.5 -7.6 -0.5 4.2 0.3 -2.8 1.1 -0.4 -0.3 -9.3 -0.7 1.6 1 -2.8 -0.6 -2.5 -0.9 -2.1 0.2 0.2 -0.2 -0.9 0.5 -5.1 0.7 -1.1 0.4 -1.7 -1.2 0 0.7 -8.9 -0.2 4.1 0.3 -8.7 -0.8 -1.2 0.8 2.3 -0.6 -1.9 0 -6.7 0.7 2.4 -0.7 -4.3 0.6 -3.7 -0.2 0.2 0.5 -4 -0.2 1 0.3 -5.2 -0.6 -3.7 1.6 -4.9 -0.5 6.2 -0.6 -9.7 -0.2 -0.5 0.5 -2 1.1 -2.3 0.4 -0.1 -1.6 -4.5 1.3 2 -0.6 -1.7 -0.4 -2.2 1.2 -3 -0.1 -3.6 -0.2 -3.1 0.4 -2.1 -0.4 1.2 0.1 -4.8 0.7 -5.6 0.4 -2.4 -0.6 1"/>
<path d="M560.7 413l-0.6 -1 0.5 7.4 0.2 -1.9 0.3 7.8 0.6 -3 -1.5 1.1 1.3 6.5 -0.7 2.7 0.2 -0.6 -0.3 3.8 1.5 -1.6 0.2 7.4 -0.2 -0.5 -0.3 0.4 0.8 7.3 -0.8 2.2 1.6 -2.6 0 6.8 -0.8 1.8 0 0.6 0 -0.1 1.1 2.5 -0.3 1.6 1.2 1.9 0.7 4.6 -0.8 4.5 0.5 -3.2 1.1 1.5 -0.1 7 -0.3 0.9 1.1 -1.2 0.7 0.5 -0.6 5.9 -0.4 -1 1.4 7.5 0.2 -3.3 -1.3 5.3 0.4 2.4 0.8 3 0.7 3.8 -0.3 2.4 0.5 0.9 -0.5 0 1 0.7 0.1 0 1 -0.4 -1.2 -8.8 0.8 1.5 0 -3.8 0.1 -4.1 0.7 1.3 -1 -1.2 0.8 -6.2 0.2 0 -0.1 4.9 0.2 2 1.4 -1.5 0.3 1.5 -0.3 5.1 -0.8 -1.8 1 -2.9 -0.2 -5.3 0.2 1 -0.1 1.7 -0.1 -2.4 -0.2 -3.6 1.2 -3.7 -1.2 0 0.2 -3 0.4 -0.2 -0.2 -3.2 0.7 -1 0.8 -9.2 -0.3 3 -0.8 -5.5 1.1 -0.4 -0.1 -1.3 -0.4 -8.3 0.2 -0.1 0.1 1.2 -0.4 -7 0.4 1 0.3 -3.8 0 -1.9 1 -1.9 0.5 0 -0.3 5.6 1 2.9 0.6 1.7 0.3 0.9 -0.3 -2.9 -0.6 3.7 1.1 1.5 -0.1 4.2 -0.7 -1 1.3 8.5 -1 -5.2 0.6 1.9 -0.6 11.1 0.5 -1.5 0.3 3.5 -0.8 2.2 1.2 4.4 -1.3 -5.6 1.4 8.5 0.3 -1.7 -0.7 4.4 0 -3.1 -0.1 5.2 0.8 1.9 -1.3 2.4 1.3 1.1 -0.8 4.5 1.2 5.5 -1.5 -2 0 1.3 1.1 7.2 -0.1 -2.8 0.7 6.9 -0.9 -3.9 0 6.4 0.1 0.9 0 -2 0.3 -3.3 -0.4 -2.4 0.9 -2.1 -0.5 -4.6 0.9 -1.5 -0.9 -4.3 0.7 6.4 0.1 -8.8 -1.1 0.1 0 -5.8 0.7 -0.6 1 3.9 -0.3 -6 0.3 -1.7 -0.5 -3.3 0.3 1 -0.7 0.8 0.4 2.6 0.4 2.4 -0.5 -0.1 0.9 7.2 -0.6 3.8 -0.6 0.7 1.2 4.9 -1 0.9 0.4 -1.2 0.9 6 0.4 -4 -1.4 2.6 0.6 5.3 -0.7 5.7 1.3 1.8 -1 -3.2 -0.2 5.7 0.2 -1.6 1.7 2.7 -0.8 6.6 0.2 0.4 0.4 3 -0.5 0 0.9 0 0.1 -5.9 -1.4 -3 -0.1 1.3 1.8 -0.2 -1.2 -2.9 -0.3 -4.7 1.5 -3 -1.1 -4.5 0.4 -0.8 0.1 -2.4 0.6 -4.6 0 1.6 0.7 -3.8 -0.6 1.8 0.6 -5.7 -0.5 -1.2 -0.1 1.6 -0.6 3.4 0.1 1.6 1.4 6 -1 -5 0.7 7.1 -0.2 -0.1 0 0.6 -0.5 0.6 0 3.9 0.3 2.2 0.8 3.3 0.3 7.9 -0.2 0.7 0.2 1.7 -0.4 -4.6 0.6 3.3 -0.4 4.3 1 0.4 -1.4 3.3 0.4 3 0.7 0.6 -1.1 4.4 0.9 2.8 -0.6 0 1.7 -1.1 -0.3 -5.1 -0.9 -7.1 1 4.8 -0.7 -8.3 1.1 -2.6 -0.7 2.9 0.4 -2.9 0.2 -5 0.4 -4.5 -0.9 6.4 0.9 -7 0.4 0 0.1 -5.4 0.2 -1.9 -0.3 -0.9 0 -2.3 -0.5 5.8 0.4 -1.4 0.8 -1.7 -1 3.5 1.1 1.7 -0.7 7.3 0.1 0.3 -0.5 2.3 1.7 0.3 -0.4 2.6 -0.3 4.9 0.5 2.2 0.2 1.8 -0.9 -0.2 1 3.6 -1.3 2.6 1.7 1.9 -0.5 -0.4 0 3.3 -0.3 6.5 0.2 -3.1 0.2 5.2 -0.8 0 0.5 -6.1 1.1 -0.6 -0.2 -1.4 0 -5.2 -0.3 2.5 1.2 -8.7 0.1 2.2 -1 -1.2 1.2 -6.1 -0.6 3.1 -0.4 -8.8 -0.2 1.4 0.7 -1.7 0.2 -4.6 0.8 4.6 -1 -3.3 0.5 -5.1 0 0 -0.4 8.4 1.2 -5.5 -0.6 1.6 0.2 11 -0.4 -6.6 0.7 8.9 -0.3 -3.7 -0.5 5.8 0.3 -1 1.2 4.7 0 1.6 -0.7 -0.6 -0.7 3.4 1.2 3.5 -0.7 5.1 0.8 3.3 0 3.5 0.2 -4.8 0.3 10 -1.3 -0.4 0.7 0.8 0.1 0 0.9 -2.3 -1.4 -6.8 1.6 4.3 -0.6 -9.8 0.4 4.7 0.8 -5.2 -0.9 -6.6 1.2 -1 -1.2 1.6 0.6 -2.9 0.9 5.5 0.1 -1.2 -0.3 -0.2 -0.8 9.2 1.2 -0.4 -0.9 3.6 -0.2 -2.1 1.5 3.3 0.1 0.4 -0.6 1.9 0.7 5.8 -0.7 4.7 0.8 -2.7 0.2 5.8 0.2 -2.5 -0.3 6.6 0.3 -1.6 0.1 -0.2 -0.3 6.1 1.1 1.6 -0.2 3.8 0.9 -0.1 0.2 0.6 1 5.6 -0.4 -0.9 0.7 0.4 -0.5 -7.5 0.5 -2.5 -0.1 -3.4 1.3 5.4 0.1 -2.6 0.2 -4 -0.9 -2.7 0.5 -6.3 0.7 5 -0.8 -2 0.2 -6.4 1.1 -0.5 0 -1.8 -0.3 -0.7 -0.1 -2.1 0.4 -2.6 0.9 -7.6 -0.1 3.1 0 -4.8 0.3 2.1 1.4 5.6 0.4 -0.7 1.4 3.2 0.8 -4.1 0.3 5.9 -0.4 5.4 1.5 -5 -0.4 4.2 -0.5 8.3 0 -1.6 1.6 5.6 0.1 -1.7 0.3 -0.3 0 7.7 -0.2 0 0.6 -3.3 2 6.6 0.4 -0.5 0.4 2.1 -0.1 1.9 -0.6 0.7 0.7 7.4 -0.4 -2.7 0.5 2.3 0 0.6 0 4 -0.6 2.3 0.6 6.9 1.2 0.9 -1 -1.1 1.2 4.9 -0.5 0.9 -0.5 -1.6 0.7 5.3 0.2 1.5 -0.3 3.3 -0.3 5.2 -0.1 -0.6 1 0.4 -0.6 6.8 1 1.9 -0.9 2.4 0.3 -0.5 1.1 4.5 0.7 -2.7 -0.7 4.6 0 0 0.8 -6.8 0.4 -1.1 0.1 -2.6 -0.3 -1.5 0.2 -2.5 -0.3 -4.4 0.6 0.5 0 1.9 -0.5 -0.8 0.6 -4.1 0.1 -6.8 0.4 -0.7 0.8 -1.1 -0.4 -2 0.1 0.4 0.7 -2.4 0.7 -8.8 0 5.5 0 -5.7 1 2.2 -0.3 6.3 0.2 -6.2 0.2 3.5 -0.2 5.7 0.8 -2.7 0.3 7.6 1.1 2.6 -0.6 0 -0.1 0 0.6 -4.8 0.9 -4.2 0.2 2.8 -0.6 -5.6 -0.6 -0.9 1.2 -4.6 -0.8 3.9 0.9 -7.5 -0.2 -1.5 0.3 -4.2 0.1 -2.4 0.6 1 0.9 -6.1 -0.5 3.1 0.5 -5.1 0.5 -1.9 -0.9 2.4 0.5 -5.1 -0.1 2 0.2 -10.7 0.9 6 0 -6.1 0.1 4.2 0.1 1.9 0.5 0.6 0.7 4.5 -0.1 0.8 -1 -2.2 -0.1 8.9 0.5 -1.9 0.3 2.9 -0.2 5.4 1.6 1.4 -0.1 -1.6 -0.9 4.1 0 1.2 0 0.3 1.6 1 -0.5 5 0.8 2.3 -0.8 1.7 0.3 2.5 -0.4 6.6 0.6 -4.8 0.5 5 0.5 -1.3 0.1 9 0.1 -2.7 -0.6 1.4 0.8 2.7 0.2 6.2 0.4 0 -0.1 0 0.8 -6 0.6 2.1 1.2 -4.7 0.5 -1.4 0.5 -0.5 1.2 -6 -1 -0.2 1.1 -1.9 0 -1.8 -0.8 -6.2 1.2 1.4 -0.1 -3.4 0.1 -3.1 -0.3 2.6 -0.3 -1.1 -0.7 -7 1.4 -2.2 -0.6 1.3 0.3 -5.1 -0.2 -5.7 -0.7 4.9 0.7 -9.1 -0.2 2.6 1 -3.9 0.1 3 -1.2 -9.6 1 -1.4 -0.6 1 0.4 -7 -1 5.9 -0.4 -8.4 0.4 2.8 1.2 -8.3 -0.8 2.4 0.9 -6.1 -0.4 -1.3 -0.6 0.5 0 0.8 -0.3 -8.6 0.4 -4.2 0.5 5.8 -0.8 -7.4 1 1.9 -1 -6.6 1 -2.7 -0.3 -0.2 0.2 -0.4 -1.4 -3.4 0.4 -1.1 0.7 -0.5 0.1 -3.7 0.3 -0.7 0 -1.6 -0.2 -8.2 0.1 -1.3 -0.4 -0.3 -0.7 -6.4 -0.1 -1.9 1.4 4.5 -0.7 -5.5 -0.1 -3.5 0.5 -0.2 0.5 -6.6 -1.6 -2.7 0.4 4 0.5 -2.9 -0.1 -3.6 -0.2 0.8 0.4 -2.7 -0.9 -1.1 -0.1 -7.5 0.9 -4.6 -0.6 1.7 0 -4.9 0.7 4.4 0 -6.5 -0.1 -2 0 -1.6 1.2 -5.9 -0.1 2.6 -0.8 0.7 0.5 -9.6 0.3 -1 1.5 -0.1 0.1 -0.3 0.7 -2.9 -0.4 -2 -0.4 5.5 1.8 0.3 -0.4 3.4 -0.5 -1.6 0.3 1 1.6 0.3 -0.5 6 0.6 2.1 -0.1 4.1 0.2 4 0.2 -4.3 1.5 9 0.3 -4.5 -0.1 0.6 -0.6 6 0.8 2.6 -0.2 3 1.2 1.5 0.6 1.2 -1 6.4 0 -4 0.4 3.4 0.4 1.7 0.6 3.7 1.2 6.2 -0.1 -3 0.2 3.4 -0.7 -1 0.2 8.3 0.4 -1.8 0.1 0.8 1.4 2.3 -0.4 2.4 0.6 2.2 -0.6 8.1 0.5 2.7 -0.3 1.8 -0.6 -5.1 1.7 9.1 0 -1.6 -1 6.6 1 0.9 -0.9 1.4 0.3 -3.3 0.5 4.2 -0.1 2.9 -0.4 1.9 1.1 1.9 0.5 2.3 -0.6 7.5 0.5 -3 -0.2 4.1 0.8 5.7 -0.8 -3.8 1.6 0.8 -0.7 4.3 0.1 6.6 -0.2 1.9 0.3 -0.6 0.7 6 1.1 2.2 -0.5 -4.1 1 8.4 -0.1 -0.4 -0.6 1.4 0.5 -0.1 0.7 5.1 0.1 5.5 -0.1 -0.7 -0.8 2.7 1 -3 0.7 5.6 -0.9 0.4 0.7 2.3 -0.9 7.1 1.1 -1.6 0.3 5.3 0 -3 0.4 4.7 0 -0.2 -0.5 4.9 0.3 6 -0.3 -4.4 1.1 4 -0.7 0.5 0.3 4.1 -0.7 5.5 0.2 -2.2 1.1 4.6 0.3 4.9 0.6 -3.4 -1.3 1 1 7.8 0.2 0.1 -0.6 2.8 0.5 2.7"/>
<path d="M657.5 690l0.2 0.5 0.9 0.3 0.1 2.6 0.8 9 -0.8 1.2 0.1 2 1.2 -0.6 0.6 -2 2.3 4.6 0.1 -3.7 1 3.1 0.8 -4.2 0.7 -4.7 -1 0.4 1.4 2.4 0.7 -2.6 -0.5 -5.2 0.5 0.8 0.4 -4.9 0.8 -4.4 0.9 -0.3 0.6 1.9 0.2 -7.5 0.5 0 0.4 1.2 2.1 2.1 0.4 -0.4 2.1 3.4 -0.4 -0.3 1.3 -7 -0.2 -1.3 0 1.3 -0.6 -7.4 0.5 4.5 0.3 -6.9 0.5 -4.6 0.6 4.5 -0.4 -6.3 0.4 3.4 0.3 -6.5 -0.6 -1.5 -0.5 -1.8 0.7 -3.9 0.1 -1.2 0.3 0.3 1 -6.3 -1.2 -4.7 1.7 0.2 -0.9 -1.2 -0.1 0.9 0 -2.5 1.8 -4.2 -0.6 -3.1 -0.1 3.1 1.4 -1.4 0.7 2.6 -1.1 3.5 1.1 2.8 0.8 4.3 -0.9 1.6 1.3 -0.5 -0.3 6.6 1.1 -1 0.7 -0.3 1.1 2 1 -2.4 0.1 2.3 1.8 -0.1 -0.4 0.5 0.3 1.8 0.1 2.2 -0.1 5.8 -0.2 4.6 1.2 -3.8 -0.6 5.4 0.8 -1.1 0.2 3 -1 6.9 0.2 0.1 1.3 1.2 0 2.8 -0.9 -0.5 0.2 4 -0.1 2 0.7 -0.7 -0.1 4.8 0.6 -2.3 1.6 4.7 0.6 0 -0.4 1 0.7 8.3 -0.1 -1.5 1.1 2.4 -0.2 1.9 1.3 0 -0.5 0.8 1.1 0.6 0.5 4.7 -0.3 -0.2 -0.6 3.6 0.1 5.1 0.4 -2.4 -0.6 3.9 0.7 5.9 0.3 -1 0.1 0.1 1.5 2.6 -0.4 -1 0.8 1.6 0.7 7.4 0 -1.3 -1.2 6.6 0.4 -2.8 1.2 8.3 -0.8 -5 0.6 6.1 1.1 -0.9 1.4 4.5 0 2.8 0.5 3.1 1.4 -4.1 0.9 2.5 1.6 -1.7 1.2 -2.7 0.4 1.9 0.8 0.3 0.8 2.8 2.1 -2.3 1 0.6 0.1 -4.1 0.7 1.7 -0.7 5.8 1.3 -1.1 -0.9 5.2 -0.2 2.2 1 -1.2 -0.8 1.5 1.3 4.7 -0.6 3 -0.1 -3 0.2 6.5 1 -0.8 0.5 3.8 -0.1 3.4 0.2 -5.5 -0.4 0.4 1.6 2.2 -1.1 -1.6 1 -10.7 -0.4 5.7 1 -7.6 -0.2 0.1 0.1 -0.7 0.2 -1.2 0.1 -5.1 -0.6 0 2 -4.4 -0.1 -2 0.8 -1.7 -0.9 -6.2 1.4 -1.3 -0.9 5.2 0.4 -8.3 1.2 0.7 -0.1 -3 0.9 0 -0.2 4 0.3 1.4 -0.4 -0.8 1.2 6.4 0 6.5 1.6 -3.2 -1.2 2 0.9 7.4 0.2 0.3 0.7 1 -0.2 -1 0.8 7.9 0.7 1.3 0.2 1.5 -0.6 -1.2 1.4 4.4 0.2 0.4 -0.2 4.7 0.7 5 -0.8 -4.3 0.4 8.3 0.9 -4.9 0.7 8.1 -0.1 2.3 0.9 -1.1 -0.6 1.2 0.5 0.7 0.2 7.3 0.2 0.4 -0.5 -3.3 0.2 0.2 1.4 -1 0.3 -1.2 -0.4 -3.1 0.9 -0.5 0.1 -6.1 0.2 -1.6 0.8 0.7 0.4 -4.6 1.1 0.1 -0.5 -4.6 1.8 -1.4 0.1 2.1 1.7 5.4 0.4 -0.8 0.3 -3.9 1 -0.7 0.7 -2.7 0.1 -3 1.7 -5.6 0.4 0.9 -0.2 -0.8 0.3 -0.4 1.5 -5.5 1.2 1.4 0.2 -2 1.5 4.2 1 -4.2 0.8 1.6 1.5 1.8 -0.3 -2 1.6 -1.4 0.7 2.4 1.9 1.1 -0.7 -1.6 1.8 3.2 1.4 0.9 0.2 -2 1.4 3 1.9 -3 0.6 2.6 0.1 -1.2 0.5 -3.9 1.5 -5 -0.4 4.8 0.8 -4.3 1.7 -3.1 0.5 -1.9 0.6 0 -0.2 6 0.2 1 -0.2 4 1.2 -5 -0.3 3.8 -0.4 6.8 1 -3.4 -0.2 2.3 0.5 2.1 -0.9 6.1 1.8 3.5 -0.1 -2.2 0.3 2.3 -0.2 8.1 -0.5 -2.7 1.1 0.2 -0.5 5.1 0.8 0 -0.2 -0.6 0.7 -9.7 0.6 6.1 0.5 -3.6 0.2 -5.2 0.4 -2.8 0.3 -3.5 1.4 4.4 0.1 -5.1 0.3 -4.6 0.2 -0.4 -0.3 5.6 0.6 2.7 0.2 -6.4 1.8 5.2 0 2.9 1.1 -0.3 -1.1 6.7 0.5 2.1 0 1.4 1.2 0.1 -0.2 0 -0.4 -2.8 0.6 -4 0.1 -5.4 -0.6 5.2 0.6 -2.3 0.9 -3.7 -0.3 -4.3 -0.2 1.3 0.1 -3.7 1 -6.6 0 -3.9 -1.3 3.1 -0.2 -0.9 1.7 -3.8 0 -1.8 -0.3 -2.9 0.4 -0.3 -1.3 -7.1 0.7 -1.1 -0.6 -3.3 0.7 2.5 -0.5 -1.5 1 -6.9 0.3 -3 -1.1 -3.1 1 3.4 0.5 -7.3 -0.8 -4.2 1.1 1.3 -0.6 -1.3 1 -1.9 -1.3 -4.4 0 -0.8 0.8 -2.5 0.9 0 -0.2 3.5 2 -2 -0.2 6.5 0.6 0 0 -3.5 1.3 1.7 -0.3 -2.2 0.8 -4.6 -0.4 -3.4 0.1 0 -0.2 5 0.5 2.4 -0.1 5.1 0.3 -2.4 -0.8 -1.5 1.6 2.4 -0.1 9.7 -0.2 -3.2 0 1.2 0.3 5.5 0.6 -1.4 0.2 6.3 -0.4 -2.2 0.6 8.7 -1.1 -3.1 0.8 8.1 -0.1 -4.9 0.4 3.9 -0.4 4 0.5 -5.8 -1 0.5 1.3 -3.6 0.4 4 -0.1 -10.4 -0.8 3.1 0.7 -7.5 -0.9 2.2 -0.1 -2.2 1.4 1.5 0.4 -4.2 -0.9 -7.2 0.9 4.8 -1.4 -5.1 0.9 -3.5 -0.4 -1.8 0.1 -5.1 1.3 -2 -1.3 -2.9 -0.1 5.1 0.6 -10.8 0.5 2.5 0.6 0.6 -0.1 -7.8 -0.5 0 0.4 0 -0.6 7.5 1.7 -0.2 -0.2 1.1 -0.3 5.6 0.8 -3.7 0.7 1.6 -0.5 6.6 0.3 -2.4 0.2 -5.3 0.4 0.4 -0.5 -5.4 1.1 1.8 -1.2 -1.1 0.9 0.2 1.3 -5 -1 -0.4 0.5 -5.3 1 -0.9 1 3.5 -0.3 -2.3 1.5 -1.3 -0.1 -6.1 -0.4 1 0.2 0.5 0.2 -2.9 0.7 -1.3 1 -4 0.5 -2.5 -0.3 -5.9 0.4 -0.2 0.5 3.1 -0.4 0.6 -0.4 4.1 0.8 1.5 0 3.6 0.8 -3.5 -1 4.7 1.8 -0.3 -1.3 6.4 0.8 2.2 0.6 -1 -0.4 4 1.4 2.4 0.1 2.6 -0.6 2.5 1.1 -3 -0.1 2.2 0.7 5.6 -1.1 3.5 1.3 -1.3 -0.3 2.9 -0.4 3.3 0.7 2.3 -0.4 2.2 0.4 3.4 0.9 -3.3 0.2 3.3 -0.4 -3.9 0.9 -2.3 -0.5 0.2 0.8 -10.9 0 4.2 0.6 -3.9 0.7 3.1 1.8 -5.5 1.1 3.3 -0.3 5.2 0.1 -0.2 0.4 0 1.3 4.5 0.4 -0.4 2 -1 0.8 5.3 0.5 2.3 0.4 0 0.3 -4.7 -0.6 -1.5 1.2 -6.6 0.1 6.2 0.5 -5.6 -0.8 -3.8 0.6 -0.6 1.1 0.2 -0.3 -4.5 0.1 -1.9 0.6 -3.4 -0.6 -2.9 1.4 -0.7 0 -4.3 0.1 1.2 -0.3 -7.2 0.9 1.6 -1.2 -7.4 1.4 -0.7 -0.4 -2.5 0.5 -0.9 -0.7 -1.1 1.3 -1.2 -0.5 0.8 0.8 -3.6 -0.4 -2.2 -0.7 -1.7 0.4 -4 -0.2 -2.8 0.9 -4.1 1 2.5 -0.5 -0.7 -0.1 -6.5 -0.1 5.1 0 -3.9 0.6 7.3 -0.4 -2.8 1.4 7.5 -0.6 0.1 0.5 6.4 -0.2 0.3 -0.3 3.6 0.5 -0.6 0.7 -1 -1.1 7.2 0.8 4.6 -0.5 -2.1 1.5 -0.5 -0.3 7.3 -0.2 0.7 1.3 4.6 -1.1 -4.1 0.9 8.5 -0.2 -0.2 -0.4 4.7 0.8 -1.2 0.4 -1.3 0.1 3.4 -0.5 7.6 1.4 3.7 -1 -3.1 0.9 5.1 0.3 5 -0.1 -1.3 0.4 -2.1 0.4 2.8 0.2 4.7 1.4 -0.3 0.5 4.3 0.6 5.5 -0.8 -2.9 1 6.4 -0.2 4.3 1.6 -1 -0.5 -0.5 -0.3 1.8 1 8.6 -0.4 1 1.2 -0.7 0.7 5.4 0.4 1.1 1.1 -1 0.6 -0.2 0.4 3.7 1 3 -0.8 -5.1 0.3 -3.7 1.4 -0.5 -0.5 1.9 -0.3 -7.6 1.1 5.7 -0.9 -2.7 -0.1 -4.5 0.6 -2.3 -0.8 -2.7 0.5 -5.4 0.2 0.3 0.4 -3.5 -0.2 -0.5 0.5 -4.2 0.4 0.3 -1.1 -2.2 1.1 -4.7 0.5 1 -0.5 -2.1 -0.5 -3.3 0.3 -2.6 -0.2 -4.4 0.6 -0.7 1.1 1 -0.6 -7.2 0.8 -4.4 0.3 -0.5 -0.3 -2.5 0.4 1.8 0.5 -0.3 -0.2 -5.9 -0.1 -2.4 0.3 -3 -0.7 1.6 1.3 -7 0.3 -4 0.3 0 -0.1 -3.3 -0.7 3.3 1 -4.9 -0.3 1.2 0.7 -2.7 -1.1 -1.6 0.8 -6.9 -0.8 -0.8 1.6 -2.6 -1.2 -2.6 0.7 -2.6 0.9 0.4 -1.3 3.2 1 1 0 1.1 0.5 5 -0.7 0.4 0.1 3.8 0.5 3.1 -0.2 4.8 0.3 -0.8 -0.1 -1.3 0.9 6 0.1 1.6 0.5 3.4 0.7 -2.6 -1 10 1.1 -4.6 0 1.6 0.7 4.3 -0.6 0.7 -0.5 2.2 1.4 7.6 -0.3 0.4 1 -0.9 -1.1 2.1 0.1 3.1 -0.3 5.3 1.6 4.1 -0.2 3.6 -0.5 -5.3 1.3 2.2 -0.2 6.5 0.2 3.6 -0.9 4 0.7 -3.2 0.2 4.4 0.1 1.2 1.3 0.2 -0.1 -4.4 -0.3 1.7 0.2 -0.7 1.6 -5.7 -0.4 -4.3 -0.6 -1.8 1.6 1.5 0.3 -3.9 -0.6 -1.3 0.5 -3.8 -0.8 2.8 0.4 -3.5 -0.1 -5.1 0.4 2.3 1.2 -6.7 -0.4 -2.1 0.6 -0.5 -0.4 -3 0.8 -2.6 0.4 -4.2 -0.2 -4.1 0.3 2.4 -1.3 -5.4 0.7 3.3 1 -6.6 -1 0.7 0.8 -2.3 0 -7 -0.4 2.8 0.5 0.5 0 -5.2 0.5 -2.7 1.1 -2.7 -0.8 -2.6 0.1 -3.3 1.2 -1.9 -1.3 3.8 1.5 -3.6 0.3 -3.1 0.2 -5.7 -0.3 2.5 -0.1 -4.7 0.6 2 -0.7 6.7 1 -6 0.7 2.7 0.4 9.4 -0.8 -4.1 0.4 5.6 0.5 -1 -0.8 1.8 0.2 2.9 1.6 8.1 -0.3 0.6 -0.7 -0.3 0 -0.1 0.5 1.2 0.6 5.8"/>
<path d="M874.3 700l-0.5 2.5 1.1 2.1 -0.5 -0.4 1.7 2.9 0 5 -0.1 -0.1 0.2 0.2 0.6 6.2 1.2 -0.7 1 2.3 0.2 -2.9 1.9 0.9 0.9 1.6 1.7 -0.3 1.4 0.9 0.3 -1.6 -0.2 -4.6 -0.1 -1.1 0.8 -2.8 -0.2 -1.2 0.9 1.3 -0.2 -0.8 0.3 -5.3 -0.3 0.9 0.5 -2.8 0.6 -2.9 -0.2 -6.5 -0.6 -0.7 1.6 -2.8 -1.3 -2.6 0.8 -0.7 1 2.3 0.5 0 1.7 -0.3 0.9 0.7 1.1 1 1.9 0.3 0.1 0 -0.3 -1 0.6 3.6 1.6 -0.8 -0.8 9.2 0.9 -3.8 1 4.8 2 0.5 0 -1.2 1.3 5.3 -0.1 -2.1 1.3 -4 0.7 0.8 -0.4 -2.2 0.7 -4.1 -0.2 -5.5 2 2.6 0.3 -1.9 0.4 -4 0.2 -1.8 1.1 -0.5 1.7 -0.5 1.4 -1.1 1.1 3.3 0.5 3.1 0.5 -2.5 -0.3 6 1.1 0.3 -0.6 0.4 1.6 1.6 0.4 4.1 -1.3 2.6 1.7 -1.3 -0.4 5 0.3 0.1 0.1 1.8 0.1 1.4 0.7 3.1 -0.5 -0.7 1 6.5 0.1 0.9 1.1 1 -0.6 3.5 0.3 -4.1 0.4 -2.2 -0.1 -2.2 0.1 -4.6 0.8 1.4 -0.8 0.6 0.6 -6.2 1.4 -1.1 0 2 -0.2 -6.1 0.2 1 -0.4 -4.4 0.5 -1.2 0.1 -3.8 0.5 -2.6 0.5 1.1 -0.2 -3.2 0.7 -4.6 0 -4 -0.3 -3.7 0.9 1 0.9 -3.6 0.7 0.1 -0.3 -6.5 0.4 5.4 1.3 -6 1.2 -4.9 1.7 0.5 0.5 -1.6 1 4.9 0.6 -2 1 2.1 -0.3 6.4 1.6 -2.6 -0.8 3.7 1.9 3.3 -0.4 -0.8 -0.4 4.4 0.1 3.5 1.1 -5.8 0.3 8.3 -1.1 0.7 1.2 -2.3 -0.4 8.7 0.2 2.1 0.8 -0.6 0 4.3 0.3 -2.8 0.2 7.9 -0.1 0.8 0.9 -1.3 -1.2 8.7 1.1 -0.7 -0.7 0.5 -0.1 1.1 0.8 3.5 0.3 4.9 -0.4 4 1.1 2 -0.8 -1.7 1 -2.1 0.4 2.7 0.8 3.2 -1.3 5.9 1.3 4.1 -0.3 -3.6 1.2 6.4 0.1 -0.3 0.4 7.1 0 -0.7 -0.3 1.1 0.6 -6 -0.4 4.9 0.2 -2.2 0.2 -2.3 0.8 -4.7 -0.8 -6 0.9 -0.1 1.2 0.4 -1.3 0.6 0.2 -4.3 0.2 -7.9 1.3 5.3 -0.1 -5.7 0.4 -2 -0.6 -1.3 1.7 -3.5 -0.1 -6.2 -0.1 -1.8 -0.5 -1.3 0.8 -3.2 -0.2 6 0.5 -7 0.1 -2.8 1.7 -1.9 -0.1 -4.5 -0.3 1 0.6 0.8 0.8 -2.9 -0.3 0.8 2 -4 0.1 -4.2 1.8 0 0.4 -5.6 0.8 1.6 0.2 3.5 2.4 -0.7 0.2 2.5 1.2 -0.3 1.7 4 -0.2 -4.2 2 6.3 0.5 -1.6 1.1 -2.9 -0.5 2.7 -0.7 -7.6 0.7 -5.6 -0.3 1.5 1.6 -4.1 -0.8 2.5 1.3 -8 -0.1 4.9 -0.3 -5.9 0.6 -0.5 -0.1 -5.8 -0.2 -4.5 -0.1 -0.5 0.8 2.8 0.8 -5.8 0.1 0.8 -0.7 0.2 0.8 -5.7 -0.2 1.5 1.9 4.6 -0.2 -4.3 1.5 2.3 0 5.9 0.1 3.3 1.8 3.2 -0.5 3.9 0.5 -5.3 0.8 6.6 1.1 0.3 1.1 3 0.1 4 2 -1.4 0.5 2.6 1.1 0 1.4 -7.2 0.5 1 0.4 1 1.1 -2.3 1.8 -3.7 0 0.4 1 0.6 0.1 9.6 -0.1 1.7 0.4 -5.3 0.4 8.3 1.4 -2.2 -0.5 4.4 0.5 1.1 -0.2 5.5 1.3 -3.9 0.5 4.8 0.4 5.1 0.5 -3.6 -0.7 2.7 1.2 4.5 0 -3.9 -0.2 -0.2 0.7 -0.9 0.4 1.1 0.8 -3.5 -0.1 -4.1 0.7 -6.8 0.2 5.9 -0.5 -6.3 -0.3 -5.9 0.1 0 0.1 -2.7 1.6 0.8 0.1 -4.4 -0.3 2.6 0.1 -5.4 0.2 5.3 1.4 -0.3 1.2 -3.5 -0.2 6.5 0.4 0 0.4 6.9 1.3 -3.9 -0.5 8.6 0.4 -1 -0.3 0.5 2.4 2 -0.9 6.1 1.3 -0.2 0.5 3.1 2 0.4 1.1 -2.2 -0.6 -6.3 -0.4 6.3 1.5 -6.8 -0.2 1.4 0.3 -4.5 1.1 -1.3 -1.1 -2.3 0.7 -5.9 0.9 1.7 -0.3 -3.6 -0.3 -4.2 1.3 -3.8 -1 -2.7 1.7 1.5 -0.7 2.8 0 -7.9 0.4 -4.1 1.2 3.8 -0.1 -4.8 0.8 3.9 0.7 -2.5 -0.9 5.1 0.3 4.5 1.2 -5 -0.1 6.4 1.2 -1 -0.9 8.1 0.8 3.2 -0.2 -1.8 0.9 3.6 0.1 0 0.5 -1.9 0.9 0 1.2 1.8 1.1 4.2 1.3 -2.6 0.6 -0.9 0.9 0 -0.2 6.7 1.5 2.6 0.8 -1 1.4 -1 0.2 4.2 -0.9 7.1 1.4 -4.3 0.5 4 1.2 -0.1 0.5 2.4 1.3 2.1 0.4 2.6 0.8 1 1.1 2.6 1.1 -1.6 -0.5 0 1.3 -7.9 -1 5 1.5 -7.1 -0.1 1.3 0.8 -2.5 -0.7 -3.1 0.1 -5.5 1.2 3.4 -0.9 -6.3 -0.1 3.4 0.8 -7.4 -0.4 0.6 1 -3.9 -0.6 -0.5 1 -6.4 -0.2 2.9 -0.1 -3.1 0.8 -6.7 1.2 -2.8 0.2 2.3 -0.2 -3.1 0.9 -6 -0.2 0.4 -0.2 2.7 0.4 -5.3 0.7 0.8 0.4 6.3 -0.9 -1.4 0.7 3.1 0.6 3.7 -0.9 1.8 1.1 3.5 -1 2.7 1.5 -1.7 -1 2.1 1.1 -1 -0.4 2.1 -0.2 6 0.8 2.6 0.6 1.8 -0.6 -1.2 0.8 7.6 -0.5 1.2 1.4 0.4 -1 3.3 -0.1 2.1 1.6 3.2 -1.5 2.9 0.5 3.9 0.4 -5 -0.4 6.7 1 4.1 0.3 0 0.9 -6.7 -0.6 6.4 0.7 -9.6 1.1 -0.5 1.6 -5.3 -0.7 4.4 1 -4.7 0.7 -0.8 0.3 -0.5 1.7 -0.6 0.4 -5 -0.2 -1.7 1.6 -3.4 0.3 5.7 0.1 -4 1.2 6.9 -0.4 -2.4 -0.2 9.2 1.9 -3.2 -0.4 5.2 -0.5 -0.3 0.9 5 0.6 -0.1 1.2 -1 -0.5 1.7 0.5 7.7 0.7 -0.4 0.3 0.8 0.8 3.8 -1 6.2 0.8 2.5 -0.2 -2.7 0.2 0.7 1.2 5.2 0 -4.8 1.2 1.9 0.3 -2.2 0.1 0 -1.3 -8.1 0.8 0.4 -0.3 1.2 0.7 -2.5 1 -4.7 0.3 -4.1 -0.9 1 1.7 -2.5 -0.6 -5.1 0.3 0.8 -0.8 -4.2 0.5 -2.5 1.3 -5.1 -1.2 -2 0.7 3.3 -0.5 -2 0.5 -2 0.5 -2.3 -0.4 -7 0.5 -4.3 0.8 -2.5 -1 -0.5 0.4 -1 -0.6 2.7 1 -7.3 0.7 -0.7 -0.2 -1.9 -0.4 -1 -0.2 -4.2 1.4 -5.1 -1.3 2.9 0.6 -0.7 0.8 -6 -0.4 -1.4 0.4 0.4 0.1 6.6 -0.9 -3.3 0.9 7.5 0.7 -1.3 0.2 3.9 -0.2 -1.1 -1.1 9.4 0.6 -4.8 0.3 3.3 -0.9 0.3 0.2 2.1 1.3 4.4 -1.1 4.4 1.6 2.4 -1.5 5.5 0 -0.2 0.5 3.7 1.2 0.1 -1 0.6 0.4 2.7 0.5 -1 0.2 6.8 -0.4 -3.2 -0.1 3.9 0.4 0.6 1.3 8.9 -0.8 -0.1 1.3 -0.4 -1.2 0.4 0.5 7.5 0.6 0 0.3 0 0.7 -7.6 1.6 4.8 0.1 -4.2 0.4 -3.5 0.9 -1.5 0.1 6.2 0.7 -5.2 -0.1 4.6 0.9 7.4 0.8 -2.1 -1 -0.2 0.2 9.3 0.7 0.2 1.5 -3.5 -0.8 7.8 1.1 -2.4 -0.1 4.9 0 0 0.4 -8.7 0.2 2.4 0.7 -0.3 0.4 -7.2 0.7 -3 -0.5 5.3 0.9 -9.4 -0.5 -1.7 0.5 0.1 0.9 -0.6 0.3 -3.9 1.4 0 0.5 4.4 -0.3 4.2 0.7 -3.1 1.5 4.6 0.2 1.9 -0.3 -5.6 1 -3.2 -0.3 6.1 -0.2 -5.3 0 -4.6 -0.1 -5.1 0.2 2.1 -0.2 -1 1.5 -4.2 0.2 -3.7 0 -4.2 0 6.5 0.2 -1.9 -0.2 -6.7 0.1 -5.1 0.2 -2.3 -0.3 3.2 -0.5 -2.1 1.1 -1.9 -0.3 -3.8 -0.4 -5.8 0.4 2.1 -0.7 -3.7 0.7 -7 1 5.1 0.1 -8.3 0.1 -1 -0.3 -1 -0.2 -0.8 -0.8 -6.7 0 5.4 1.7 -4.9 -0.6 -2 0.4 -1.5 -1.1 -6 1 -2 -0.4 -3.1 0.1 0.1 1.2 -0.6 -0.2 -3.2 0.3 -4.9 -1.4 3.4 0.7 -9.8 -0.7 0 1 0 0.6 0 -0.2 4.3 -0.9 2.2 1.6 6.6 0.1 -2.7 -1 4.3 1.1 -2.9 -0.9 1.5 0.6 4.8 -1.1 2.7 0 2.2 1.7 4 0.1 2.9 -0.7 1.3 -0.9 2.2 0.9 -0.1 0.8 4.2 -0.9 3.7 0.5 4.7 0 -6.1 -0.2 4.2 0.9 5.1 0.2 3.1 -1.4 0.9 1.4 2.3 0.3 -0.1 -0.6 -0.2 0 3.6 0 2.3 0.7 1.7 -0.6 8.8 0.1 -4.6 0.7 2.5 -1.3 8 1 -4.1 -0.9 3.1 -0.1 1.5 0.9 5.1 -0.5 5.4 0.4 -5 1.1 1.8 -0.4 8.7 0.9 4.2 -1.2 -1.5 -0.2 3.6 1.6 4 -1.1 -0.4 1.4 3.4 -0.5 3.3 0.9 -2.9 -0.2 2.6 -0.7 5.1 1.3 0.4 -0.9 3.7 0.6 0 0.1 -3.6 -0.7 -3.7 1.5 2.3 -1 -4.3 0.2 -2.3 0 -0.1 0.1 -5.3 1.7 -0.1 -1.3 -0.5 1.2 -7.1 0 -2.6 -0.8 -2.6 0.7 5.5 -0.5 -7.2 1.1 1.6 -0.7 -2.3 0.9 -4.1 -0.2 -3.2 0.3 -5.6 0.3 2.5 0 -0.5 -0.4 -4.4 0.2 -2.8 0.9 -2 -0.6 -1.7 -0.1 0.3 1.5 -1.5 -1.2 -7.9 -0.1 1 0.9 -2.6 -0.4 0.3 -0.1 -2.5 0.8 -4.3 0.2 -3.5 0.5 -2.5 -1.1 0.8 0.6 -4.4 0.5 -1.5 0.7 3.6 0.2 3.3 -0.6 3.4 0.4 -6 0.5 10 -1.4 -1.9 0.2 2.7 0.1 0.4 1.5 7.1 -0.6 2 0.7 2.7 -0.9 -2 -0.3 1 0.3 6.9 1.1 -1.5 -1.4 3.8 0.2 2.4 0.3 1.1 0.7 4.7 0.4 -0.8 -0.5 6.2 -0.4 0.3 0 4.5 0.6 -0.5 -0.4 -2.8 0.1 4.8 1.6 3.3 -0.1 4.3 -1.2 -0.6 0.7 2.6 0.5 -6.3 0.5 1.2 -0.3 -3 1.5 0.8 0.1 -3.9 -0.1 -3.8 0.3 0 -0.6 5.6 1 1.4 0.6 -4 -0.2 10.3 0.5 -5.4 1.1 1.6 -0.7 7.4 0.1 -2.7 -0.2 1.6 0.5 6.6 1 2.1 -0.1 2.5 1 -6.3 -0.5 3 1 -7.5 -1.1 0.9 0.6 0.6 -0.4 -6.6 1.5 3.8 -0.1 -1.4 0.7 -7 -0.6 -5.5 0.3 4.9 0.7 -2.8 0.5 -6.7 -0.6 -0.4 0.6 -6.4 -1.1 -2.4 0.3 -2 0.5 2.5 1 -2.2 -1.4 -4.3 1.7 2.8 0 -1.6 -1.3 -6 1.6 1.2 -1.3 -7.3 0.6 -5 0 -0.6 0.9 -1.2 -1 -1.6 0.7 -0.6 0 -6.9 -0.2 -0.3 1.4 3.3 -0.1 -5.9 0.1 -2.9 -0.9 -1.4 1.2 -4 0.1 2.8 -1.1 -1.7 0.9 -9.3 -0.2 1 -0.2 -1.4 0.9 -5.3 -0.9 2.5 0.4 -6.2 1 -2.7 -0.7 -4.6 -0.3 4.8 1.8 -5.5 -0.4 2.7 0 -4 -0.9 -5.6 0.1 -1.5 1 -5.8 0 5.1 -0.4 -5.7 1.6 -1.3 -1.4 1.1 0.9 -6.6 0.1 -4.6 0.9 -0.1 -0.4 0 0.3 -7.2 0.2 0.7 -0.4 -6.7 0.2 0.7 0.8 -0.6 -0.9 -2.1 0.8 -2.6 0.2 -6.2 0.2 2.4 0.4 -1.2 -0.7 -7.5 0.7 -0.6 -0.3 3.3 0.4 -5.7 -0.8 4.8 1.1 -2.6 0.5 8.1 0.5 2.2 0.1 -3.4 -0.6 1.3 -0.7 2.6 1.2 3.3 -0.9 5.5 1.6 -0.8 -0.1 4.4 -1.2 5.9 1.4 -6.3 -0.8 9.1 0.8 2.2 0.1 -2 -0.2 3.7 0.1 4.8 -0.5 0 -0.1 -2 1.7 8.7 -0.1 2.4 -1.3 -0.9 0.9 6.3 0.4 -0.7 0.4 -1 -0.5 5.2 0 0.2 -0.6 7.7 1 -4.4 -0.2 6.7 0.1 2.6 -0.3 -2.7 0.2 3.2 0.3 3.9 0.8 -0.9 -1.2 3.8 0.6 0.2 0 1.7 0.1 2.8 -0.4 2.1 -0.3 9.6 1.5 -1.8 -1.2 4.4 0.9 -1.9 0.7 6 -1.4 0.4 0.9 -2.3 -0.5 9.7 0.9 0.6 -0.9 -4.1 0.1 6.6 0.8 -1.3 0 2.5 -0.9 9.8 0.2 -4.5 1.2 4.2 -0.4 2.4 0.2 4.3 0.9 -1.9 0.4 3.6 -0.7 -1.9 1.4 1.1 -1.2 -3.8 0.2 -3.9 0.2 1.1 0.7 -9.7 -0.1 1.3 0.3 -0.1 0.7 -5 -0.5 -4.2 0.5 -3.5 -0.3 -1 -0.8 2.2 0.9 -7.7 -0.5 2.4 1.5 -4.7 -1.3 0.5 0.2 -2.5 -0.4 -7.5 1.9 4.7 -0.4 -7.2 -0.3 0 -0.3 4.7 1.6 4 -0.8 -5.9 0.6 8.4 -0.4 -3 2 9.1 -0.1 -1.7 -0.1 2.8 1.3 3.7 -0.5 -1.2 1.3 4.9 0.1 4.9 -0.3 -1.3 1.1 5 0 -1 0.4 4.2 1.1 -4.2 0.2 -2.5 1 -2.7 0 -1.6 0.5 -2 -0.8 0.6 1.2 -0.7 0 -4 -0.8 -5.5 0.7 -5.3 1.1 2.5 0 -4.4 0.6 -0.3 -0.5 -3.1 -0.6 1 0.9 -3.1 -0.1 -0.2 0.3 -7.2 0.3 0 1.3 -6.8 -0.7 -1.5 1.8 4.4 0.4 -5.5 -0.3 -2.1 1 -1.3 -1.2 -6.5 0.8 3.1 1.2 -3.1 -0.5 -2.7 0.5 1.9 0.6 -6.6 0.3 -4.8 0.3 1 -0.5 -1.1 0.5 -1.4 -0.1 0 1.1 -9.9 0.1 -0.4 -1.1 1.3 0.9 -3.6 -1.1 1.2 -0.1 -7.4 0.4 -0.1 0.8 -4.3 -0.8 4 0.5 -6.1 -0.2 -1.8 0 -5.6 0.4 4.4 -0.8 -1.8 1.7 -9 -0.7 0.6 0.2 -5.6 -0.8 -1.6 1.4 0.6 -1.5 -1.4 1.8 -5.3 -0.8 3 -0.3 -6.3 -0.1 -4.7 0.3 5.1 1.1 -2.1 -1.1 -3.6 -0.3 -4.4 0.5 -4 0.3 0.3 0.7 -6.4 -0.9 1.9 0.3 -1.1 -0.1 -5 -0.1 -1.2 0.4 -2.9 0.6 2.2 -0.5 -2.2 -0.7 -1.5 1.2 -3.2 0.3 -9.6 -0.3 0.5 0.1 -4.8 -0.5 3.2 0.9 -5.1 -1.4 2.9 1 -7.8 0 -0.4 -0.2 -3.9 1 0.1 -0.7 -0.1 1.1 -1.6 -1.3 -8.7 -0.1 5.2 1.7 -8.7 -1.4 2.9 1.6 -5.9 -0.3 -3.6 -0.6 -2.2 0.5 3.9 0.7 -6.8 0 2.1 -1.4 -5.6 0.2 -4.1 0 -2.5 1.2 1.3 0.2 -8.1 -0.5 4.9 -0.6 -0.6 0.1 -10.8 1.3 -1.2 -1.1 2.2 1.1 -0.5 -0.7 -4.4 1.4 -4 -1.6 -0.2 1 -3.7 0 0.1 0.4 -6.5 0.1 0.4 0.5 2.1 -0.2 -8.2 -0.7 -3.2 0.4 0.4 0.6 -6.2 0.1 -0.7 0.1 1.2 -1.1 -1.3 1.2 -1.9 0 -4.9 -1.1 -3.2 0 -0.5 1.6 -3.5 -0.3 2.3 -1 -6.4 0 -1.1 1.3 0.1 -0.8 -8.4 0.2 1.8 -0.5 -0.7 1.2 -1.6 -1 -7 0.2 -3 0.1 0.8 0.4 -6.3 -0.5 -1 0.9 1 0.2 0.6 -0.4 -7.2 0.3 -0.8 -0.4 -0.4 0.9 -2.3 0.4 0.1 -0.4 -3.1 0.6 -8.6 -0.4 3.2 -0.9 -4.8 1.6 -4.5 -0.9 1 0.2 1.7 0 -7.4 0.4 -0.7 -1 -0.2 1.3 -1.9 -0.6 -0.7 1.2 -9.3 -0.1 -0.8 -0.2 3.5 -0.3 -7.9 -0.4 0.3 1.4 -2.1 -0.7 -2.1 -0.5 -3.5 -0.2 1.4 1 -5.6 -0.8 2.4 1 -2.5 -0.6 -10.3 1.1 -1.4 0.1 2.4 -0.7 -7.7 -0.5 5.1 0.7 -5.4 0.3 -3.7 -0.7 2.6 -0.3 -8.1 1.1 0.9 -0.8 -6.9 0.9 1.6 0.5 -6 -0.4 2.3 -0.4 -1.4 0 -2.7 0.3 -0.9 -0.2 -8.4 1 -2.1 -0.8 -2.1 0 3.7 -0.3 -8.6 0.1 1.2 0 1.5 0.9 -1.1 -0.5 -8.7 -0.4 1 0 0.7 0.7 -4.3 -0.7 -0.8 0.9 -8.5 -0.5 -1.2 0.5 0 0.5 -3.8 -1.1 -0.3 0.1 -1.2 0.2 -8 0.4 1.3 -0.6 -3.6 0 3.1 1.3 -4.9 -0.3 -3.7 0 -2.9 0.6 -4 0 5.6 -0.8 -4.6 0.6 -2.7 -0.5 0.2 -0.5 -7.2 0.9 -2.6 -0.1 -4 0.3 -2.6 -0.6 -0.6 0.6 3.5 -0.1 -8.8 0.6 0.2 -0.7 -3.6 -0.1 -0.1 -0.2 -0.7 0.4 -0.9 -0.7 -6.9 0.7 1.4 -0.1 -3.6 0 -5.3 0.1 4.7 0.5 -7.8 -0.4 -4.4 -0.4 5.6 0.6 -9.3 -0.4 -1.4 1.2 0.4 0.3 -5.5 -0.3 1 0.4 -1.7 0.1 -5 0.6 4.7 -1.5 -7.8 1.4 -2.2 -0.1 -1.7 -0.2 0.2 0.7 -6.3 -0.3 0.1 0.1 -3.3 0.6 0.2 -0.3 -1.3 0.5 -0.8 -1.1 -2.9 0.7 -0.7 0.7 -8.1 -0.2 -3 0.3 -3.3 0.2 4.4 0.2 -4.4 -0.5 -5.1 0.2 0.5 -0.2 -1.6 1.4 1.3 -1.4 -5.4 1.5 -4.2 0.2 -0.2 0.3 -1.8 -0.3 -2.6 1.1 1 0 -5 -0.5 1 0 -1 0.3 -6.4 1.1 -1.6 0.2 1 -1 -9.5 -0.5 3.6 0 -6.9 0.1 -0.4 -0.7 -3.6 -0.7 3.8 0.6 -6 -0.6 -4.9 0.7 0.4 0.5 -2.3 -1.6 -2.2 0.8 -5.5 0.2 -2.5 -1 3.3 1.2 0.1 -1.6 -7.7 0.2 -1.2 -0.4 0.9 0.4 -5.1 -0.1 0.7 -0.7 -8.5 0.5 0.5 0.6 -2.4 -0.5 -2.8 -0.1 -0.8"/>
<path d="M1163.7 256l-0.9 -1 1.1 4.8 0.5 1.4 -1.6 0 0.1 3.8 -0.1 1.1 0.2 10.1 1 1.4 -0.2 -1.7 -0.3 5 -0.1 0.8 0 -2.3 0.4 7 -0.8 3.8 0 -0.2 -0.5 3.2 -0.4 -1.3 0.1 5.4 0.7 -1.3 -1.2 8.2 0.2 2.9 0.5 -2.8 0.2 6.4 -0.6 1.6 -1.2 0.2 -0.1 1.3 0.3 5.4 -0.5 -0.2 0.1 3.7 0.4 -0.7 -0.3 -1 0.6 6.9 -0.2 -1.3 -0.3 -0.4 1.5 3 -0.5 3 -0.9 6.2 1.4 3.3 -1.2 2.1 1.1 -4.1 0.2 10.2 0 -6.3 -0.8 2.9 1 4.8 -0.7 1.7 0.3 5.7 -0.4 -1.1 1.3 1.3 -0.3 -0.2 0.3 4.6 -0.2 1.7 0.1 4.5 0.9 3.6 -0.6 -2.4 -0.8 6.5 0.5 -2.1 -0.3 4.7 0.9 0.4 1.1 7.5 -1.4 3.1 0.9 -5 -0.6 6 1.5 2.1 -0.7 2 0.4 0.9 0.1 7.9 0.3 -3.3 0 3.9 -0.8 1 0.5 5.5 0.2 -4.1 0.8 3.6 0.3 0.5 -1.2 7.3 0.7 3.5 0.3 0.1 0.1 -1.3 0.6 -6.1 1.7 1.9 -0.4 -1.5 1 -1.4 0 -4.3 -0.6 -3.3 0.3 2.1 0.5 -8.6 0.4 2.5 -0.3 -4.8 1.2 1 0.5 -3.7 0 -7.5 -0.4 4.3 1.1 -5.8 -0.7 -1.2 0.9 0.4 -0.4 -8.9 -1.2 0 1.6 2.7 -0.6 -2.5 -0.7 -4.1 0.4 -1.3 -0.3 -0.8 0.3 -7.8 0.2 0.9 0.4 -3.6 0.1 -4.2 -0.1 -3.4 0.2 3.1 0 -7.4 -0.2 5.8 0.9 -7.9 0 3 -1 -5.6 0.8 -5.3 0.1 -1.9 -0.4 -2.2 0.5 2.4 -0.1 -5.2 0.4 3.1 -1.3 -6.2 0.4 -5.5 0.9 -1.6 -0.3 1 -0.6 -1 0.9 0.9 -0.2 -2.7 1.5 -4.2 -1 -1.9 0.3 0 0.5 -7 0.9 -3.1 -1.2 -0.5 1.4 -3.4 -1 3 1.6 -3.5 -0.3 -8.8 0.3 6 0 -5.8 0.4 1 0.3 -7.7 -1.3 0 -0.1 -3 0 2.2 0.3 -2.2 0.9 -9.5 -0.2 2.2 -0.2 -4.5 1 -1.2 -0.1 -1 -0.9 -2.1 0.4 -6 -0.9 2.6 1.2 -5 0.6 -2.9 -0.4 0.3 0.2 -5.5 -1.2 -0.8 0.1 -1.3 1.4 -2.1 -1.3 -2.8 0.3 0.9 0.9 -3.5 -1 -5.1 0.8 -3.6 0.5 -2.5 -0.1 -2.3 -0.2 4.3 -0.6 -0.4 0.4 -4.7 0 -8.5 -0.4 3.8 -0.4 -5.7 0.2 -4.4 -0.2 -2 0.9 0 -0.6 1.5 1.3 -0.3 -1.3 -6.4 0.7 -1.8 -0.8 -1.7 1.1 -6.1 0.5 -0.2 -0.4 0.1 -0.3 -0.1 0.3 -6.2 -0.8 -4.9 1.1 -2.3 -1 2.5 -0.1 0.1 0.4 -8.3 0.5 3 0.3 -0.3 0 -4.1 -0.3 -2.6 0.4 -0.3 -0.2 -6.3 -0.5 -2.4 0.9 -0.6 -1.3 -2.4 0.6 -4.6 -0.2 3.2 -0.3 -8.5 0.5 -4.5 0.4 1.2 0.7 -5.6 -1.3 4.9 1 -5.7 -0.9 -5.3 0.6 -1.1 0.5 2.4 -1.4 -5.7 0.7 -4.5 -0.1 -2.3 0.3 4 0.1 -4.8 -0.1 -4 1.1 2.7 -1.6 -3.5 1.5 -1.1 -1.3 -5.5 1.2 -0.1 0.1 0.5 -1.1 -8.9 1.3 4.3 -1.4 -4.6 0.9 -7.2 0.4 5.3 -0.2 -5.6 0.5 -3.1 0.1 -2.2 -0.7 -2.5 0.4 2.8 -1.2 -7.1 0.5 -2.4 -0.3 -2.3 0.6 -2.2 0 1.5 0.5 -2.8 0.4 -3.5 -1.1 0.4 -0.1 -7.6 0 0.5 1.6 -4.8 -0.8 -1.2 0.7 -3.3 -0.5 -0.1 -0.5 1 1.3 -9.8 -0.2 4.8 -0.4 -4.8 0.1 4.9 -0.6 -4.2 0 7.7 0.5 1.2 0.7 5.2 -1.1 -3 0.9 3.9 -0.2 -2.4 -0.3 3.1 1.2 7.7 -1 -3.7 1.1 5.9 -0.2 5.6 -0.1 -4.4 -1.2 6.8 0.9 -0.2 -0.6 0.2 -0.3 4.2 1 1.5 0 1.6 0 7.8 0.4 -2.4 -1 6.7 1.5 1.6 -1.3 3 0.3 2 0 -2.7 0.7 6.1 -0.6 -3.6 1 6.1 -0.3 2.4 0.4 -0.5 -0.4 5 0 -0.8 -0.1 4.1 -0.2 0.6 0.1 7.8 0 -4.6 0.6 2.6 0 2 -0.5 4.5 1 3.3 -1.3 2.3 -0.1 -0.3 1.4 5 -1.1 -2.9 0.5 2.7 -0.7 8.7 0.5 2.1 0.4 -0.4 0.6 5.8 -0.6 2.6 0.4 2 -0.3 -1.3 -0.8 -0.1 0.2 3.5 1.2 -1.9 0.1 4.1 -1.2 4.8 -0.3 1.3 0.4 3.6 -0.1 -2.8 1.3 6 -0.2 0.4 -0.8 4.2 0.3 1.7 0.2 1.6 0.5 6.1 -0.5 -0.8 -0.1 -0.2 -0.5 8.8 -0.3 -5.1 0.6 3.8 0.1 4.9 0.3 6.1 -0.5 1.2 0.5 -3.4 0.4 0 0 5 0.3 4 0.2 -0.6 -1 9.2 -0.7 -1.4 0.8 2 0.6 4.2 0.5 1.5 -1.2 -3.9 1.1 7.5 -0.2 -0.4 -0.5 6.6 0.5 1.2 0.2 1.9 0 -3.3 -0.6 6.2 0.2 -1 -0.1 4.2 -0.4 6.5 0.9 -0.8 -0.4 2.5 0.8 3 -0.9 -2.6 -0.7 8.8 0.6 1.9 0.7 -3.2 0 6.8 0.1 2.8 0.2 4.4 -1.4 -6.1 0.5 7.5 1.1 -0.6 -0.9 1.4 0.5 8.7 -0.9 -1.1 0.4 4.1 0 3.6 0.1 -2.9 0.6 6.9 -1.2 -0.5 0.5 -1.8 0.1 7.3 0.2 -1.1 0.7 -0.8 0.3 4.8 -0.7 7.7 0.3 -0.6 0.5 -2.6 -0.7 7.1 0 3.1 -0.1 3.4 -0.6 -2.4 0.4 2 0.4 2.5 -0.4 4.8 0.7 0.9 -0.9 7 0.9 -6.1 -0.3 6.1 0.5 4.7 -1.2 -1.8 1.4 2.4 -0.3 0.9 0.5 3.4 -0.5 -0.9 0.2 4.7 -0.5 4.4 0.1 6.2 0.4 -0.8 -0.1 -0.8 0.8 7.8 -0.7 -2.4 -0.9 4.4 0.9 -1.5 -0.2 7.6 0.3 1.6 0.7 2.4 -1 -2.4 0.8 -0.3 0.2 6.4 -0.8 -1.6 -0.4 8.9 1.3 -0.5 -1.2 4.3 0.3 -0.9 -0.5 2.2 0.9 6.4 0.2 1.8 -0.5 -5 -0.1 3 0.9 7.7 0 -4.6 -1.3 2.4 0.2 10 1.3 -0.5 0.1 -2.8 0.1 4.8 -0.7 6.1 0 0.6 0.3 -2.4 -0.9 6.9 0.8 1.1 -0.5 2 0.7 1.5 -0.5 1.1 0.7 0.1 0.5 9.1 -1.1 -0.8 0.4 1.4 -1 4.1 1.6 1.1 -0.6 1 -0.9 8.2 0.4 2 0 -1.7 0.2 0.2 0.2 5.5 0.3 -2.8 -1.2 5.5 0.8 2.6 0.9 -3.3 0.2 0.7 -1.3 -5.9 0.3 -4.4 -0.1 5.3 0.1 -4.1 1.8 -8.3 0 4.5 -1.1 -6.6 1.2 2.7 0.1 -7.2 -1 1 0.3 0.9 0.4 -5.2 1.1 -3.6 -0.4 -2.1 -0.1 0 0.4 3.5 1.3 4.1 -0.1 3.6 0.4 -0.6 0.3 -0.1 0.8 1 -0.5 5 0.5 0 -0.2 -4.7 0.1 -2.4 -0.2 -5.6 0.7 0.8 0 -5.2 0.2 5.6 -1.1 -8.3 0.9 -3.3 -1 2.8 0.1 -2.3 -0.3 -1.5 0.7 -1.3 0.2 -2.2 0.5 -9.1 -1.3 3.2 0.2 -7.4 0.8 0.1 0.7 -0.6 -0.6 -3.2 0.8 -0.3 -0.8 -0.2 -0.7 -7 0.2 -3.4 0.6 0 0.3 1.9 0.1 -1 0.8 9.1 0 2.1 -0.4 -1.2 1 -1.4 -1.5 5.3 1.4 6.2 -0.8 0.4 0.9 -3.1 0 3.5 -0.1 6.7 1.1 3.2 -1.4 3.7 1.5 -2.3 0.1 1 -0.3 0.3 0 10 0.5 -6.1 0 3.1 1 8.7 -0.3 0.5 -0.2 0.4 0.3 -2.9 -0.5 -1.2 0.2 -4 0.5 -5.2 -0.7 3.2 0.7 -1.1 -0.4 -4.5 -0.9 -5.7 0.5 4.3 0.2 -3 0.8 -1.9 -1.2 -8.5 -0.1 1.2 0.6 -6.2 0.9 -1.5 -1.6 4.5 1.2 -4.2 -1.2 -7 1.3 -1 -1.1 -3.1 0.6 3.2 -0.6 -3.9 0.5 -5.9 0 1.3 0.6 0.6 -0.1 -3.2 -0.1 -5.7 0.5 -3.2 -0.5 -0.7 0.2 0.9 -1.2 -7.6 0.9 -0.9 -0.5 -2 -0.2 1.7 0.6 -7.2 0.7 -3 0.1 2.3 -0.7 -5.1 0 -0.3 0.8 -2.4 -0.3 -3 -0.2 2.7 0.6 -10.2 0.1 -0.6 0.6 4.3 -0.6 -6.7 -0.6 -5.4 0.7 5 0.5 -8 0.3 -2.3 0.5 -2.5 0.3 3.9 -0.9 -1.7 0.5 -7.6 0.4 -4.6 0.8 -1.4 -0.5 1 -0.3 -5.3 1 -2 -0.6 0.6 0.6 -1.8 -0.7 0.6 0.4 -5.3 1.3 -5.7 -1.1 3.3 0.1 -2.1 0.2 -8 0.6 0.7 0.9 1 -0.8 -3.3 0.9 -0.8 0.8 -8.9 0.1 0.2 0.4 -5.8 0.1 0 -1.3 0.5 1.1 -3.6 0.3 -1.3 0.5 5.9 -0.5 -5.3 0.7 10.3 -0.7 -2.7 -0.1 6.5 0.7 -2.6 0.8 4 -0.4 3.4 0.5 2.7 -1.1 -2.3 1.2 7.7 -0.2 -4.2 -0.3 4.1 0.9 -0.6 -1.1 3.5 0.6 3.3 -0.1 6.3 0.6 -1 1.1 -1 -1 5.2 0.6 5.2 0.2 -1.9 -0.6 4.3 1 5.3 0.9 -1.2 -1.2 2.6 0.8 2.5 1.1 0.6 -0.3 2 0.5 -2.2 2.6 2.6 0.3 4 1.1 0.7 1.6 1.7 -0.3 2 1.4 -4.4 1 6.7 -1.7 -2.9 0.5 4.6 0.6 -3.7 -0.6 9.9 1.4 -1.1 0.3 2.2 -1.4 5.5 1.2 -3.9 -0.3 1.6 -0.6 6.3 1.5 -0.1 -0.6 7.8 -0.5 -6 1 1.9 -0.2 6.2 -0.1 4.3 1.1 1.2 -0.8 -0.9 -0.5 4.6 1 -1.1 0.3 5.1 -1 0.6 0.8 5.6 0.4 1.1 -0.9 3 0.9 -0.9 -0.4 3.9 -0.3 -2.6 0.7 6.6 -0.5 0 0.4 6 -0.5 2.4 -0.5 -2.3 -0.3 5.6 1.5 2.6 -0.3 -1.5 0.6 2 0 6.5 -1.6 -1.5 1.6 5.9 0.1 3.7 -0.9 -4 0.4 9.6 -0.4 1.9 0.6 -4.9 0.2 7.4 0.4 2.4 -0.4 3.6 -0.4 -3.2 -0.1 -0.1 -0.1 4.7 -0.4 6.2 0.5 -1.4 0.7 1.5 0.3 4.4 -0.1 3.9 0.3 3.3 -1.2 -0.5 0.5 1.3 0.3 -4.7 -0.8 1.5 0.8 1 -0.6 -11.1 0.1 3.4 0.5 -2.5 -0.9 1 0.5 -10.7 0.2 5 0.9 -5.9 0 2.8 -0.4 -3.1 -0.3 -6.2 0.1 -5.3 0.2 -3 -0.8 1.4 0.7 -0.9 0.9 -1.9 -0.9 0.6 1.1 -5.2 -1.2 1.5 -0.1 -8.7 0.7 4 0.6 -8.8 -1 3.6 0.2 -4.9 1.1 0 -1.2 -1.5 -0.1 -10 1.1 2.3 0.2 -2.6 -0.6 -3.5 0.6 -1.2 -0.6 -1.4 0.9 -4 -1.6 -1.6 1.8 1.9 -1.1 -3.8 -0.4 -2.9 0.7 -3.6 0.5 -5.4 1.1 -1.4 0.9 1.9 0.6 -4.1 0.7 1.5 -1.2 1.6 0.6 6.7 0.4 -4.8 0.3 2.1 -0.4 5.4 0.2 5.3 -0.5 3.9 0.8 -4.5 -0.2 8.9 0 -5 -0.2 2.8 -0.3 8.3 0.8 2.9 -0.8 -1.1 1.3 0.4 0.1 4.4 0.1 3.3 -1.1 -2 -0.2 0.6 0.5 7.3 -0.1 -2.4 0.2 2.8 1.1 4.9 -0.8 1.7 0.9 -2 -0.7 0.1 -0.6 -4.4 0.3 -2 0.2 -7.1 0.3 -1.6 -0.6 1.5 0.6 1.8 0.4 -7.4 -0.3 -4.3 -0.4 1.9 0 -6 1 4.4 0 -2.1 -0.2 -4.8 0.1 -4.4 0.9 -3.6 -1.2 0.5 1.3 1.3 0 -8.2 -0.6 4.2 -0.9 -7.2 1.1 0.7 0.2 0 0.2 -2.4 0.5 -3.8 0.1 -4.8 -1.2 -0.5 0.9 0 -0.4 -7.4 0.6 -2.9 -0.1 2.9 -0.9 -6.6 0.6 0.5 0.9 -4.8 -0.8 1.3 -0.4 -1.6 0 -1.6 1 -3.8 0.6 -4 -0.5 3.3 -0.2 -6.6 -0.3 0 0.5 7 0.5 -1.6 -0.5 1.7 0.7 2 -0.4 2.2 1.8 6.3 -0.1 -3.6 0.3 7.1 -0.5 3.2 1 -2.2 -0.4 5.7 0.5 -0.4 -0.6 -0.7 1 6.2 -0.7 3.5 0.2 2.5 1 -0.4 -0.8 0.3 1.2 1.1 0.5 7.3 0 3.3 -0.6 -3.7 0.3 1.9 0.5 2.8 -0.1 7.1 -0.9 3.4 0.6 1.9 0.3 1.6 -1.1 -0.4 1.1 5.3 -0.2 -4.1 0.8 3.8 -1.5 1.5 1.5 8.3 -0.3 -5.3 0.4 1.7 -1.1 4.9 1.2 4 -1.3 2.3 0.8 1 0.3 -0.7 1.4 0.3 0 -2.8 0 -2 1.6 -3.6 0.2 -5.2 0 0 -0.6 3.1 1.4 4.1 0.6 -2.8 -0.1 6.7 -1 0.5 1.4 0.3 -0.7 7.6 0.5 -1 -0.8 5.1 1.1 -2.3 -1.2 5.5 0.7 4.6 0.5 0.7 -0.8 2.5 -0.5 -2.6 1 7 -0.8 3.2 -0.4 -3.6 -0.7 5.7 -0.3 1.4 0.7 1 0.2 0.5 0.7 7.6 -1 -1.4 0.2 1.7 -0.3 6.8 0.6 -2.9 0.8 3.2 -1 1.3 0.7 6.7 0.4 -2.6 -0.2 0.8 1.4 0.7 -0.9 7.8 -0.4 3.4 1.4 0.3 0 4 0.1 -4.7 -0.3 4.9 0.6 4.9 -0.7 -0.3 0.7 5.6 0.1 -1 0 0.3 -0.2 5.6 0.9 0.4 -0.3 3.9 -0.3 2.4 1.3 5 -0.4 1 -0.6 -4.8 1.2 4.2 -0.4 5.5 0.7 1.9 -1.3 1.4 0.1 6.4 0.6 -0.8 0.5 5 0.1 2.6 -1 -1.1 0.4 -1.9 -0.2 3.9 1.4 4.8 -0.2 1.4 -0.6 0.6 -0.3 4.7 1.1 2.9 0.5 -1.2 -0.3 6.5 -0.3 -0.6 0.2 1.8 0.8 3.7 -1.3 2.3 0.6 4 0.1 -1.5 -0.4 2.5 0.9 2.6 0.2 5.4 -1.7 0.2 0.1 3.8 0.7 2.4 0 -1.5 0.9 4.8 -1 3.5 0.2 2.9 0.4 -1.9 0 -1.3 -0.6 3.4 0.8 -0.2 0.2 2.4 0.1 7.4 0.2 -0.8 -0.3 7.3 0.5 -3.6 -1.1 4.4 0.2 0.5 0.9 3.6 -0.6 2.4 0.4 -4.6 -0.2 -3 0.8 0.9 1.2 -3.6 -0.2 -0.2 -0.6 -6.6 0.2 -1.7 0.7 0.1 0.4 1.4 0.5 -7.9 0.3 5.2 0.8 -9.3 -0.3 0.8 -0.2 -5.8 1.1 3.8 -0.2 -4.2 0.4 -6.1 -0.3 1.2 0.4 0.5 0.4 -6.4 0.7 0.6 0.2 -2.6 0 4.3 0.2 -0.7 1.1 -1.7 -0.1 4.8 0.4 6.3 0.2 1.6 -0.2 -1.7 -0.1 4.1 1.1 -0.8 -0.9 9.4 -0.2 -1 0.9 2.5 -0.9 -2.7 0.1 9.8 1.4 -1.8 -0.6 0.5 0.3 7 0.4 -3.7 0.1 5.8"/>
<path d="M1261.5 485l-0.4 0.4 -0.1 7.3 0.2 1.5 0.7 3.6 0.4 -4.8 -1.1 2.7 1.3 7.8 0 -5.1 -0.7 6.1 0.7 -2 -0.1 3 -1 4.9 1.1 6.9 -1.2 0.9 0 0.1 0.7 1.7 0.9 2.6 0 2.5 -0.5 -0.1 0.3 2.8 -0.5 4.7 0.9 0.5 -0.7 0.2 1.2 6.2 -0.3 -2.5 -1.1 2.4 0.4 1.1 1.6 10.4 -0.9 -5.3 0.8 7.9 -1.1 3.1 1 -2.5 -0.5 2.4 0.5 3.1 -0.2 1.1 0.7 7 -0.3 -2.8 0.2 2.2 -0.4 6.3 0.6 -2.4 -0.6 -0.3 0.4 3.9 -0.5 3.9 0.8 0.3 -1 5.5 0 5.3 0.3 -3.2 0 4.5 -0.1 -2.2 0 6.1 1.1 2.8 -0.1 2.9 0.8 -2.4 -1.6 5.6 0.1 3.6 0.8 0.5 0.1 0.6 0.4 6.5 -0.5 2 0.3 2.8 -0.1 1.7 -0.1 -2.4 1.2 6.8 -0.5 0.6 0.9 0.5 -1.1 3.7 1.6 -0.8 0.3 5.6 -1.4 -0.7 0.7 3.3 1 2.2 -0.9 4.4 0.7 0.8 -0.1 -0.5 -0.5 6.3 0.5 -1.9 0.3 5 0.2 0.8 -0.4 -1 0.7 9.7 -0.7 -3.5 -0.2 -0.4 0.9 7.1 -0.2 2.2 0.8 5 -0.9 -4.7 1.2 4.7 -1.2 0.1 0.6 2.6 -0.2 7.8 0.4 0.5 0.2 2.1 -0.1 -1.6 0.1 2.8 0.4 0.6 0.8 7.3 -0.8 -3.1 0.4 6.8 -1.2 -2.9 1.1 6.6 0.2 2.4 -0.7 -1.8 0.3 4.8 1 7.8 -0.3 0.1 -0.2 0 0.8 0 -0.5 -6.4 1.3 2.2 0.2 -3 -0.3 -2.1 0.8 -8 -0.7 2 0.2 -5 0.8 -3.8 0.8 3.3 0 -3 -0.4 -3.2 1.3 2 1 -7.7 0.4 0.3 1.3 1.4 0.7 -3.4 -0.1 1.9 1.9 -2.8 -0.7 -5.2 1.2 -0.5 0.3 0.9 2.3 -3.7 0.6 0.8 0.3 0.8 -0.8 2.4 0.6 2.3 -0.2 -1.4 0.3 6.4 1 -1.8 -0.9 3.7 0.2 -0.3 0.2 5.9 0.3 4.6 -0.8 -4.7 1.5 5 -0.7 6.6 0.4 3.5 0.4 -0.7 0.1 4.2 -0.9 -4.3 0.4 4 0.2 7.9 -0.3 -4.5 0.8 2.1 -0.5 0.2 -0.2 9.5 0.6 2.4 0.3 1.1 0.8 -4.4 -0.7 6.5 -0.5 -4.7 1.6 -0.8 0 -1.8 -0.6 -3.3 0 -4.6 0.6 5.8 -0.5 -3.1 1.1 -4 0.6 -6.3 -0.5 1.1 0 -3.8 0.6 -1.5 1 2.2 -0.3 3.8 -0.5 -2.5 1.2 3.2 0.8 4 -0.2 3.3 1.1 -0.4 -0.2 0.8 0.6 6 0.2 -1.4 -0.1 8.2 0.5 2.3 -0.3 0.6 0.2 4.6 -0.2 -0.5 1.2 1.8 0.2 -0.9 0.7 8.5 0.8 0 1.3 0 0.4 -1.5 0.7 -0.5 -0.9 -8.2 1.2 2.5 0.4 -1.2 -0.1 -4.2 0.5 -3 0.1 -4.2 -0.4 -1.6 0.5 4.3 0.2 -1.9 0.6 -3.9 -0.7 -4.2 0.7 -0.2 0.5 -8.4 -0.8 5.8 0.3 -9.7 -0.3 0.2 0.9 1 0.9 -3 0 -5.9 -0.9 1.8 0.7 0.9 -0.7 -11 1.8 3 -1.5 -7 1.2 3.8 -0.8 -1.2 1 -5.1 -0.1 2.5 1 -0.5 -0.3 8.1 0.3 1.6 0.4 -0.3 0 -2.2 -1 5.3 1.2 3.1 -0.2 3.4 -0.6 2.5 0.5 3.2 -0.7 -3.7 0.6 1.9 0.3 2.6 0.5 1.8 -0.4 5.7 0.7 5.6 0 -3.1 -0.4 3 0.8 0.4 -0.9 4.9 0.2 0.9 1.3 4.3 -0.4 6.7 0.6 -5.4 -1.1 7.7 0.9 0 0.4 -0.6 -0.6 -3.3 1 0.8 -0.3 -5.7 0.9 -4.3 0.4 -2.5 0.8 2.3 -0.6 -2.4 0.3 -4.3 0 0.1 0.4 -0.4 1.2 -8.2 -1.1 1.2 0.6 -5.2 0.6 -0.5"/>
<path d="M1311 632l-0.7 -6.5 1.1 5.9 -0.1 -9.4 -0.5 4.2 0.7 -7.4 1 -0.9 -0.6 -2.6 -0.6 -4.6 0.1 4.7 1 -10.1 -0.7 6.4 0.4 -8.2 -0.1 -0.3 0.9 -0.7 -0.7 -8.3 0.9 2.3 0.4 -5.5 -0.8 1 -0.6 -3.7 0 -1.6 0 -2.6 0.8 -2.2 1 0.8 -0.1 -2.9 -1.1 -5.3 1.2 3.4 0.1 -5.7 0.2 -5.5 -0.6 -0.3 0.8 -3.7 -1.3 4.7 0.3 -4.3 0.6 -3.1 0.2 -2.6 0 2.3 0 -9.8 -0.6 1.8 1.5 1.1 -0.8 -5.3 0.3 -4 -0.2 2.7 1.3 -3.4 0.3 -7.3 -0.5 3.5 -0.2 -2 0 -8 0.3 0 1 0.8 -0.2 3.8 -0.3 -1.7 -0.3 8.7 0.7 -5 0.6 4.1 0.7 8 -0.3 -0.1 0.3 0.1 0.2 2.3 0.9 5.3 -1 -2.4 1 2.1 -0.1 8.1 1 -6.3 0.4 2.4 0.5 3.9 -0.5 3.4 0.5 4.7 1.2 -0.6 0.3 -0.3 -0.2 5.7 0.9 1.8 -1 0.2 0.3 1.9 0.9 2.3 -0.5 7.9 1.6 -0.7 0.2 2.8 -1.3 4.2 1.7 -1.7 0.2 2.9 -1.2 3.8 0.4 -0.7 1.5 4.3 -0.3 2.7 -0.7 2.2 0.1 5 1.3 2.9 -0.4 -2.3 0.2 1 1.2 4.3 -0.1 -0.2 -0.2 7.9 0.1 2.3 -0.7 1.9 1.2 -1.9 -0.8 6.7 0.7 -0.5 0.1 -1 -0.6 4.4 1.1 3.8 -0.5 1.9 0.7 -3.6 0.2 10.8 0.3 -4.7 -0.8 0.4 0.8 6.4 -0.1 -1 1.3 9.4 0.2 0 0.9 -3.1 -0.3 4.4 1.1 3.9 1 -6 -0.7 3.9 1.4 -6.8 -0.5 4.6 0.8 -7.1 -0.6 -0.6 1.4 1.5 0.3 -8.5 0.4 3.2 -1 -1.2 0.1 -3.5 0.4 -7.7 0.4 -1 0.6 -0.3 0.5 0.8 0.5 -9.7 0.2 -0.9 0.5 -1.5 -0.4 1.3 0.7 -5.5 0.1 -4.1 -0.5 2.1 -0.5 -3.6 1.1 -1.5 -0.3 -3.3 0.7 -0.4 -0.2 -5.5 -0.1 -2.6 0.5 2.6 0.5 -2.6 0 -6.1 0.7 0 -0.3 4.2 -0.4 0.7 0.8 5.7 -0.4 0.8 0 3.4 1.3 -0.1 -1.4 1.7 1.3 4.3 -0.3 0.5 -0.5 -3.5 -0.1 4.7 -0.1 6.4 0.1 -2.7 1.3 1.4 -1.4 0.9 0.5 8.8 -0.2 -2.2 -0.1 5 1 0.6 -0.3 -1.7 -0.7 3.4 0 8.1 1.8 -3.3 -0.9 0.9 0.3 8.1 -0.2 4.6 -0.3 1.4 1.4 -2.3 -0.7 2.5 0.5 6 -1.4 2.8 1.7 -2.8 -1.3 2.2 1.2 1.1 -0.6 4.4 0 -1.6 0 -5.6 0.6 -1.7 0.3 -4 0.5 2.7 0.3 -2.7 0.3 -5.6 -0.7 -1.8 -0.2 1.3 1.5 -0.3 -0.7 -3.2 -0.1 -7 1 -1.8 0.1 -2.1 0.8 2.5 -0.5 -4.6 -0.2 0 1.3 -2.4 -1.4 -2.9 0.9 -3.3 -0.2 -6.9 0.5 5.4 0.8 -1.6 -0.4 -6.3 0.4 -4.8 -0.1 -2.6 0.5 0.8 0.5 -0.2 0 -0.5 -0.5 -8.9 0.1 2.8 0.3 -4.1 0.4 0 -0.7 1 0.6 2.8 0.6 2.7 0.6 7 -0.1 -0.9 0.2 2.8 0.4 6.1 0.5 1 0.4 -0.6 0 5.4 0 1.2 0.1 2.3 0.8 0.7 0.8 -4.1 -0.6 1.4 -0.1 -5.7 -0.6 -2.2 -0.2 0.9 0.9 -7.7 -0.6 0.7 1 0.3 -1.4 -2 0.8 -1.2 -0.8 -0.7 -0.1 -7.4 0.7 -2.7 -0.2 -0.9 1 0.5 -0.8 -3.7 0.2 -0.2 -0.6 -3.9 0.8 -2.7 -0.2 -6.1 -0.1 2.1 0.7 -1.3 0 0 -1.5 -3.2 1 -3.2 -0.4 -4 -0.2 -3.5 -0.3 -2 0.7 1.5 -0.2 -5 0 1 0.9 -1.2 -0.8 -10 0.7 2.6 -0.2 -4.1 -0.7 -3.7 0.5 -0.8 -0.8 -3.4 0 -4.3 1.3 5.4 -0.7 -7.3 0.2 -1.3 -0.9 -3.7 1.7 0.7 -0.6 0.3 -0.3 -8.6 1 1.2 -0.5 -1.1 0.1 -3.5 0.5 -4.8 -0.6 4.7 0.4 -7 -1.1 -5.8 1.1 3.2 -0.2 -5.2 0.2 3.5 0 -5.8 -0.6 1.1 -0.2 -7.9 1.2 -1 -0.6 -4.2 -0.2 1 -0.5 -5 0.6 -0.5 -0.2 1.4 -0.3 -2.9 0.6 -5.2 0.5 -4 -0.3 -0.3 1 -2.8 -0.1 -1.3 0.4 0.7 -0.2 -1 -0.5 -5 -0.3 1.8 0.1 -9.8 1.5 0.5 -0.2 2.6 -0.7 -2.2 0.3 -5.6 1.1 -2.1 -0.6 -5.7 -0.6 -2.3 0.8 1 0.1 -3.7 0.7 -5.1 0 -2.4 -0.6 0.3 -0.5 2.4 0.4 -5.5 1.1 0.3 0.3 -7.1 -1.1 -2.8 0.6 -2.1 -0.1 4.6 0.5 -6.7 -0.4 1.4 0.6 -5.4 -0.6 -3.7 1.1 3.2 -0.7 -6.2 0.1 -1.5 0.6 -4.3 -1.1 -4.9 1.7 -1.2 -1 -2.4 0.1 0 0.5 0.3 -0.9 -0.8 0.8 -1.1 -0.5 -4.7 -0.6 -3.5 0.7 0.4 0.4 -4.1 -0.5 -2.8 -0.1 -1.1 0.5 -0.6 -0.8 -2.1 0.1 -10.1 0.1 1.9 0.1 -1.9 0.9 -4.8 -0.2 0 0.5 5.9 -0.2 -5.4 -0.5 10.2 1.3 2.1 -0.3 0.9 -0.7 -1.5 0 0.3 1.3 9 0.4 -2 -0.2 3.3 0.6 -2.1 -0.9 4.3 0.3 3.2 -0.3 4.8 0.5 1.5 0.2 1.5 0.7 -0.2 -0.3 1.2 0.4 3.4 -0.1 2.2 0 3.7 -0.1 3.3 0.7 3.9 -1.2 -4.1 1.4 6.4 0 4.3 -0.2 -1.4 -0.7 4.2 0 3.1 0.9 0.9 0.8 1.9 -0.3 4.2 0.2 0.1 -0.2 2.4 -0.4 3.6 0 0.3 0.5 6.6 0.9 -1.1 -0.7 1 0.1 -1.2 0.3 5 0 5.2 0.7 -1.7 -1.1 6.5 0.5 3.4 0.3 -4.8 0.1 6.3 -0.4 3.4 -0.3 4.2 1.3 -5.7 -0.3 3.1 -0.3 2.7 0.4 3.7 0.3 0.3 -0.6 6.6 0.5 1.1 0.3 0 1.2 -8.3 -0.3 1.4 0.8 1.1 0.5 -2.6 0.5 0 -0.8 -5.5 0.9 -4 0.1 -0.6 0.5 -0.1 -0.3 -8 1.1 0.9 0.2 -0.4 0.2 1.1 -0.4 -3.8 1.4 -2.4 -0.8 -2.5 0.5 0.1 0.2 -5.2 1.2 -3.2 0.3 -0.9 -1.2 0.2 1.1 -5.3 0.9 1 -0.2 -8 -0.1 1.8 0.5 -6.8 -0.7 -0.5 -0.4 -5.3 0.3 6 0 -2.4 0.5 -4.2 -0.7 -2.7 1 -2.9 0.4 -5.1 -0.6 -3.5 0.8 -2.4 -0.2 1 0.7 -5.7 -1.1 5.6 -0.4 -2.8 1.4 -4.3 -0.2 -1.1 0.4 -7.7 -0.9 3 0 -5.7 -0.3 0.8 0.7 -1.6 -0.1 -5.3 -0.1 -2.7 -0.4 -1.4 0.8 -4 -0.8 -0.6 0.7 -1.9 -0.6 -3.6 1.5 -1.1 -1.5 -4.3 0.7 -2.4 0.1 1.2 0.4 -0.4 0.6 -1.2 -1.3 -2.2 0.9 -8.5 0.3 4.6 -1.1 -3.8 0.7 -4.7 0 -0.5 -0.7 -2.3 0.6 -3.7 0 -2.4 -0.5 -5.5 0.5 2.7 0.9 -3.9 -0.7 1.8 0.4 -4.6 -0.3 1.1 -0.9 -6.7 -0.1 0.3 0.3 -6.3 0.8 3 -1.1 -4.7 1.7 -5.2 -1 -3.1 -0.4 -0.9 1.2 -3.5 -0.9 0.9 0.3 0.8 -0.5 -3.5 0.3 -7.9 1 -1.9 -1.3 1.2 0.3 1.1 0.7 -2 -0.9 -2 0.2 -2.5 0.5 -4.6 0.8 6.3 -0.8 -6.1 0.8 10.4 0.3 -2.2 0 -0.6 1.1 5.3 -0.4 -1.5 -0.2 6 0.4 3 0.7 2.5 0 -0.8 -0.9 5.8 1.1 1.7 -0.5 2.1 0.4 1.5 0 5.1 0.3 -3.2 -0.2 6.6 0.8 -2.3 1 3.8 -0.2 6.2 0 0.5 -0.5 1.7 1.5 1.5 -0.7 6.7 0.1 1.5 -0.9 1.6 1.7 3.4 -0.1 0.8 -1.2 1.1 0.5 -0.8 0.1 5.2 0.5 -3.1 -0.4 6.6 0.5 3.2 0.2 3 0.3 4.6 -1.3 1.3 0.4 1 -0.1 3.5 0.7 -2.4 0.4 -0.7 -0.9 10 0.2 -4 0.7 2.4 0.2 0.2 -0.6 9.1 0 0.9 0.3 2.5 -0.4 -3 0.8 5.7 1.2 -0.4 -0.4 6.4 1.7 -1 -0.5 4.9 0.6 2.8 0.8 -3.3 -0.7 7 0.6 -1.5 0.5 2.3 -0.5 7.3 -0.8 1.1 0.6 -1.4 -0.1 1.8 -0.1 6.2 -0.3 -4.4 0.1 7.2 1.2 4.6 -0.3 -4 -0.4 8 0.7 -0.8 0.1 1.9 1.1 2.4 0 -0.4 0.4 1.3 -0.2 1.4 1.6 6.4 -0.7 2.1 1.9 2.9 -0.9 4 1.3 -1 -0.7 4.5 1 1.9 -0.1 -3.7 0.9 3.9 -0.4 3.2 -0.6 2.9 0.7 -1.7 0.5 8.9 -0.5 -3.1 0.9 7 -0.1 -3.8 0.4 10.9 1.1 1.7 -1.2 -5.9 -0.2 9.9 0.8 -4.3 0.2 7.6 0.5 -3.5 0 5.3 0.2 2.5 0.6 -1 -0.9 4.6 0.7 5.5 -0.4 0.7 1 -1 0.7 4.8 -0.3 -0.1 -0.8 5.4 1.3 -1.7 0.5 -0.1 -0.7 6.8 1 1.1 -0.5 0.8 0 5.4 1.2 0.7 0.2 5.2 -0.7 -0.6 0.3 2 0.5 -0.8 -0.4 1 -0.1 7.2 -1.2 -2.9 0.1 6.8 1 -0.3 -1.4 3.1 0 0.9 0.7 3.4 -0.3 -0.1 -0.1 7.3 -1.2 1.8 0.4 1.7 0.5 2.2 -0.3 1.8 0.5 2.9 -0.7 3.6 -1 1 0.8 -2.1 -0.4 6 -0.2 0.7 0.1 1.6 -0.1 3.6 0.6 1.3 1.2 0.5 -0.4 10 0.3 2.1 -0.5 0.2 1 3 -0.9 -2.8 0.8 3.7 0 3.2 0.5 -0.8 0.7 8.7 -0.1 -1.1 -0.3 1.7 -0.7 0 1.3 -3.6 -1.1 -7.2 1.8 5.8 0.2 -8 -0.4 -1.2 -0.9 -1.5 0.9 2 -0.8 -6.2 1.4 -4.4 0 4 0.4 -2.8 -0.7 -4.4 -0.2 -3.6 0.4 0.7 -0.1 -1.8 0 -8.4 0.8 1 0.3 -1.3 -0.4 1.2 -0.3 -3.4 1.2 -9.6 -0.7 1.5 0.5 -1.4 0 -1 0.4 -5.2 -0.3 -0.7 0.9 -3.7 -0.4 -2.1 -0.3 -4.8 1.3 3.2 -0.9 -3.8 0.9 -1.7 -1.2 1.2 0.8 -9.9 0.2 1 0.3 -6.4 -0.7 0.9 1.1 -4.3 -0.2 4.7 0.8 -6.8 0.3 2.4 -0.3 -3.3 1.2 -6.8 -1.1 1.4 0.1 -1.4 1.3 -1.6 -0.3 -1.3 1.2 -7.8 -0.5 -4.2 -0.5 0.3 1.8 -3 0.1 -3.1 -0.1 -0.1 -1 -1.7 0.3 0 0.3 -6.4 0.9 1 -0.3 1 0 -4.8 -0.4 -4.1 1.2 -5.2 0.3 0.1 -0.2 -4 0 4.7 -1.4 -5.1 1.4 0 -0.1 -7 -0.3 -3.9 -0.9 -2.4 1.4 1.9 -0.3 1.3 0.4 -9.4 -0.5 -0.9 -0.6 0.7 0.8 -3.1 0.2 -3.9 -1.1 4.2 1.1 -5.8 -1.5 -2.2 0.2 -1.6 0 -0.4 0.2 -4.4 1.2 -1.2 -1.1 -1.4 0.6 -4.2 -0.3 -4.6 -0.6 0.1 0 -0.4 0.6 -4 0.8 -0.8 0 -2.9 -0.7 -2.2 0.8 -3.1 -0.5 0.6 -0.3 -4.1 0.5 -5.9 -0.3 -2.6 0.6 -2.7 -0.8 -1.2 0.5 -3.7 0.3 5.9 0 -6 0.9 -4.9 -0.8 2.4 0.9 -3.5 -1.2 -1.6 -0.1 -6.7 0.9 1 0.9 -4.1 -1.4 0.3 0.8 -2.3 0.3 -0.4 -0.8 -3 -0.2 -6.3 0.4 -1.9 -0.2 -1 1.2 0 -0.6 -3.3 0.7 -5.2 -1 -2.7 1.1 -0.7 -1.1 -0.4 1.3 -6.4 0.1 5.7 -0.6 -3.7 -0.5 -1.9 0.7 -9.2 0.3 2 -0.4 -2.5 0.4 1.5 1.6 3.5 0.5 0 -0.4 -3.9 0.5 0 0.3 -4.2 0.3 2.2 0.6 -8.4 -1.1 -0.2 0.5 -4.4 1.2 -3.4 -1.4 1.4 1.5 0.7 -0.7 -8.4 0.5 2.9 0.5 -3.5 -1.1 -5.9 0.8 5.7 0.3 -6.4 0.2 -2.2 0.9 -5.7 0.1 -0.9 -0.4 0.8 1 -4.9 0.4 -0.4 -1 0.3 1.2 -2 -0.6 -2.2 0 -5.2 0 0.2 0.4 -1.9 0.9 -6.6 0.1 0 0.2 0 0.7 8 -0.7 1 -0.3 3.3 0 -0.7 0.8 5.2 -0.9 2.3 0 -1.8 1.4 6.8 -1.2 -4.9 1.2 5.4 -0.8 -1.7 0.4 8.3 -0.3 -1.6 0.6 2.4 0.5 0.8 0.1 4.9 0.3 3.1 -0.5 1.3 0.8 -1 -0.7 8.2 -0.6 -2.7 1.6 7.6 -0.7 1.3 1 -3.5 -1.6 8.3 1.6 -3.4 -0.8 3.9 -0.5 0.3 1.7 4.5 -0.9 5.7 0.9 -1 -0.8 0.8 0.5 7.3 -0.5 1.7 0.5 0.4 0.1 2 0 1.8 0 5.4 0.6 0 0.8 -1.6 0.2 9.2 -0.3 -1.7 0 0.3 1.1 7.1 0 -0.5 0.4 -0.3 -1 5.4 1.3 3.7 -0.6 -3.9 0.3 9.6 0.4 -0.1 -0.8 1.2 0.9 4.8 0.4 0.5 -0.3 -0.7 0 -0.8 0.5 2.6 -0.3 4.8 0.8 4.3 -1 -3.1 0.5 7.3 0.7 2.4 0.9 -2.9 -0.4 3.1 0.2 4.8 0.1 4.4 -0.9 0.3 1 -0.9 -0.1 5.5 0.1 -4.6 0.8 0.3 0.3 -4.9 0.2 1.9 -1.5 -2.4 0.3 0.5 0.6 -5.5 1.1 -5.2 0.3 0.7 -1.4 -1.1 1.1 -3.3 -0.8 -2.9 0.2 1.6 0.4 -2.6 -0.1 -6 0.2 -3 0.4 2.8 1.1 -9.8 -0.5 3.4 -0.8 -3.8 1 -2.1 -0.4 -6 0.9 4.5 -0.9 -4.8 0.3 1.8 0.3 -3.8 0.2 -9.2 0.4 2.6 -0.9 -3.1 1.6 2.1 -0.1 -2.4 -0.5 -3.5 0 -6.4 0.8 -3.9 -0.9 -0.3 0.8 0 0.5 -0.6 -0.5 -2 0.2 -0.6 -0.2 -1.5 0.1 -10.1 0.5 5.2 -0.2 -6 0 -2 1.2 -6.2 -0.6 -0.8 -0.3 -2 1.4 -4.5 -0.6 1 1.3 -1.5 0.5 0 0 0.3 -0.3 5.3 -0.3 5 -0.1 2.5 0.6 0.1 0 1.2 0.1 5.9 -0.6 -3.9 0.8 4.8 -0.8 4 1.5 4 -1.1 -1.8 0.7 0.9 -0.8 0.4 0.6 10.9 1 0.6 -0.3 -1.4 -0.5 -0.8 0.7 9.2 -0.3 1.9 -0.4 0.9 0.4 4.3 -0.1 -4.9 -0.6 2.5 0.8 1.2 -0.4 2.8 1.2 4.7 -0.7 3.4 -0.5 6.4 0.7 1 0.2 1.1 0 -2 0.7 5.2 -0.6 4.4 1.4 2.9 -0.8 -6.3 0.1 3.7 1 1.4 -1.2 10 0.7 -5.4 -0.2 7.6 0.5 0 0.5 -0.7 -0.5 -6.4 -0.5 4.5 0.6 -6.7 0.9 -5.4 -0.6 -0.6 -1.1 3.8 1.1 -3.6 0.3 -0.5 -1.2 -9.3 0.6 4 -0.2 -4.8 0.6 -1.7 -0.5 0.7 -0.1 -2.2 0.1 -3.1 0.9 -1.2 0.2 -8.8 -0.1 4.3 -0.9 -6.6 0.6 -4.2 -0.5 -1 -0.1 1.1 1.3 -7.5 -1.1 -2.6 1 -0.4 -0.2 -1.5 -0.6 -2 -0.4 1.9 0 -6.4 0.4 0.6 0.5 -3.7 0.6 1 -0.2 -2.8 0.4 -3.9 0.8 -7.1 -0.5 -1 0.4 2.3 -0.1 -5.3 0.4 2.6 0.6 -2.4 0 -1.7 0.1 -4.7 0.7 3.8 -0.9 1.5 0 5.1 -0.3 0.1 -0.1 3.1 0.8 -0.1 0.5 4.6 0.2 -1.1 -1 4.8 0.7 0.4 -0.3 5.7 0.8 -3.9 -1.3 8.7 1 -3.1 -0.5 7.3 -0.1 -5.4 0.8 2 -1 3.5 0.4 6.7 -0.5 1.6 0.7 -3.6 -0.2 9.7 0 2.7 0.6 -2 -0.1 0.3 0.3 9.1 0.4 -0.8 -0.7 3.1 0.1 -4.2 0.6 7.7 -0.2 -2.9 0 2.7 -0.8 8.5 -0.5 -5.3 0.2 6.8 1.6 2.5 -0.1 3.7 -1.3 2.8 1.4 -4.3 -1.1 10.2 1.1 -1.3 -1 -0.3 1 4.1 -0.5 -1.8 -0.4 6.3 0.2 -0.8 -0.6 5.7 0.7 3.5 -0.3 -1.1 -0.2 4.7 0.5 2.1 -0.3 -3 -0.3 2.2 0.2 3.8 0.6 4.6 -0.3 2.8 1 0.3 -0.7 -1 0.1 3.4 0.3 1.7 -0.5 8.2 1.1 -4 0.1 3 -0.3 4.9 0.9 1.1 -0.7 -1.2 -0.1 7.1 1.7 1.2 -1.1 -0.9 0.2 6.3 -0.2 1.8 0.7 3.2 0.9 4.8 -1.2 -4.9 1.3 1.8 -0.9 4 0.7 3.7 -0.3 -1 1 6.6 -0.4 -0.4 -0.8 8.2 -0.8 -4.9 0.2 2.9 0.2 5.3 0.3 3.5 0.1 1.1 -0.1 0.6 -0.4 3.1 0 -1 0.1 5 0.4 5 -0.1 -4.2 0.8 8.9 0.1 -2.1 0 2.3 -1 6.9 0.6 0.2 0.9 3 0.2 -2.8 -1.7 0.9 0.4 6.9 0.7 0.2 0.1 3.8 -0.4 2.5 1.1 -1.6 -0.1 7.4 0.1 4.3 -1.5 -1.7 0.5 5.8 -0.3 -0.2 0.9 -0.1 -1 2.8 0.6 1.4 0.8 7.3 -1.6 1.4 1.3 3 -0.4 -6 -0.2 10.1 -0.2 -1 0.4 1.6 -0.1 6.4 0.9 -5 0.3 5.9 -0.7 2.5 0.6 3.8 -0.2 -0.5 -0.4 0.7 1.4 5.6 -0.7 -1.1 0 -0.1 1 6.2 0.6 1.6 -0.4 1.1 0.2 2.9 0.1 0.3 0.9 -0.3 -0.5 9.2 0.8 1.4 0.1 -1.6 -0.4 1 -0.8 6.4 0.2 3.5 0.3 -3.7 1.4 6.8 -1.4 1.8 1.3 0.5 -0.1 -1.2 0.2 6 0.1 1.2 -0.8 -0.1 0.7 1.8 1.1 8 -0.7 0 -0.3 -4.6 1.3 2.8 -0.8 -0.9 0.8 -7.6 -1.1 -2.6 0.2 -3.7 0.4 -2.9 0.2 6.4 0.5 -8.1 -0.4 -0.8 -0.5 0 1.4 5.9 -1.7 -2.1 1.5 8.5 -0.9 -1.6 0.3 -1.6 -0.2 3.3 1.1 1.7 -0.4 7.8 0.1 0.5 -0.8 1.8 1.1 4.5 -0.8 -3.6 0.4 7.3 -0.1 -3.5 -0.4 8.4 0.7 -1.3 -0.9 3.9 -0.3 2.8 1.3 0.5 -1 0.9 0.3 4.9 0.8 6.4 -0.3 -0.5 -0.6 -0.5 0 4.5 1 -2.2 -0.6 5.3 0.9 -4.4 -1.5 1.1 1.3 -2.6 0.2 -4.8 -0.8 -0.3 -0.7 -5 1.5 0.6 -0.6 -2.2 0.6 -2 -0.6 -0.7 -0.8 -6.8 1 3.5 0 -5.2 -0.7 0 1 -4.5 -0.2 1.2 0 -2.8 0.2 -2.2 -0.5 -0.7 0.2 -2.7 0.5 -5.2 -0.6 -3.4 -0.2 -2.9 -0.3 0.5 0.2 -3.3 0.7 -5.6 -0.8 0.5 1.1 -5.4 -0.1 2.3 -0.1 -5.2 -0.3 -2.2 -0.4 -2.4 -0.1 3.5 0.2 -6.2 1.4 1.7 -1.2 -2.1 0.6 -6.1 0.2 0.7 -0.2 -6.1 0.4 -2.4 -0.5 -1.2 0.2 1 -0.1 -8 0.9 2.9 -0.3 -5.2 0.3 -5.3 -1.2 4.8 0.8 -7.2 0.7 -3.6 0.2 -2.4 -0.6 0 -0.4 2.4 0.3 -2.1 -0.3 9.6 1.3 -1.5 -0.3 6.8 0 0.5 0.3 -3.3 -0.3 8.8 -1.4 -4.5 0.4 8.4 -0.2 -4.8 1.1 7.2 0.1 -3.1 0.3 4 -0.5 3.2 0 7.4 -1 -3 1.6 4.9 -0.5 -0.6 0.1 1.8 0.2 4.5 -0.5 -0.7 0.1 1.7 -0.6 1.2 1 2.6 -0.6 4.7 -0.4 -0.5 0 10.1 1 0.2 -0.2 -1.5 0.6 4.3 -1.1 -1.4 0.7 5.6 -0.5 -0.4 -0.4 7.2 -0.1 -4.4 0.6 6.4 -0.8 6.4 0.2 -1.9 0.2 -0.3 0.6 5.2 -0.5 5.3 0.8 -0.1 0.1 1.7 -1 -0.7 -0.3 1 0.3 7.7 0.6 0 0.2 -2.3 0.6 -4.4 0 -2.1 -0.4 2.2 -0.9 -3.2 0 -1.4 1.6 -8.3 -1.6 2.4 0.8 -4.6 -0.1 -2.2 0.2 -0.3 -0.7 -3.3 1.1 0 0.3 -3.2 -0.3 2.7 0.3 -6.3 0.4 0.6 -0.6 -5.3 -0.8 1.7 0.2 2 0 -0.6 0.9 2.4 0.5 6.3 -1.5 0.8 0.9 5.2 0.8 -1.6 -1.5 0.8 1.6 8.2 -1.6 2.3 1.1 -3.3 0 6.4 0.3 1.3 -0.3 4.8 -0.1 -1.4 0.3 1.5 -1.1 -0.1 0.9 9 0.6 1.1 0.1 -3.7 -0.7 4.1 -0.1 3.1 -0.3 5.7 0.5 -1.1 0.1 2.1 -0.7 -4.2 1.3 2 -0.5 -8.4 0.4 1.8 0.5 -5.3 -1.4 2.5 0.8 0.4 0.3 -4.5 -0.3 -5 0.7 -5.9 -1.3 3.5 1.2 -2.6 0.3 -6.2 -0.9 2.3 0.8 -3.6 0.2 0.5 -0.5 -7.2 0.4 3.5 -1 -9 -0.2 4.5 0.9 -6.1 -0.8 0 0 5.4 1.7 -0.9 -0.9 2 0.6 2.9 -0.6 -0.7 1 2.5 -0.1 10.1 0.1 -2.2 -1.3 5 0.6 -0.9 0.3 -0.3 -1 7.4 1.3 0.9 0.1 4.8 -1.2 0.6 0.9 1.8 -0.8 -0.5 -0.1 2.2 0.8 4.7 -0.4 5.1 -0.2 -3.7 0.6 7.5 -0.8 1 1.5 3 -1 -1.1 1.3 2.8 -0.8 -1.4 0.5 9.2 -1.1 -6.4 0.3 6.1 0.5 0.4 0.2 6.3 -0.8 3 0.6 -0.6 -0.6 -0.3 1.8 6 -1 -1.6 -0.1 5.2 0.3 5.5 0 1 0.6 2.7 0.4 0 -0.1 -2.6 -0.2 -1.3 0.5 -2.5 -0.2 -5.9 0 4.3 -0.7 -4.5 0.2 -1.9 1.6 -4.6 -1.2 -1.3 0.4 0.5 -0.4 -5.4 -0.1 -3.6 0.5 0 0 -2.4 -0.1 -1.3 0.5 -6 -0.9 -1 0.8 0.1 -0.5 -3.9 1.5 2.1 -0.3 -8.7 -1 4.7 1 -3 -0.2 -5.3 -0.4 -3.3 0.9 0.5 -1.2 -5.6 1 -0.5 -0.3 -2.1 -0.5 0 0.5 0.8 0.9 7.9 -0.7 3.3 0.8 0 0.3 -5.3 -0.6 2 0.5 -7.5 -0.1 2.3 0.2 -4.1 0.2 0.3 -0.2 -6.2 -0.6 4 1.5 -3.3 -1.3 -7.8 0.6 4.1 0.6 -4.2 -0.5 -4.2 0.8 3.3 -0.8 -7 0.1 -4.6 -0.7 3.2 1 -2.2 -0.4 -2.8 0.8 -6.6 -0.2 3.6 -0.9 -2.9 1 -0.4 -0.3 -5.7 -0.7 6.5 0.6 1.5 0.6 -5.7 -1.2 7.6 0.9 -0.7 -0.4 7.9 1.3 -6.2 -0.3 3.4 -0.5 1.3 0.2 7.1 -0.6 5.5 0.6 -4.1 0.3 1.2 -0.5 6.8 -0.1 -1.6 0.2 4.2 -0.4 -1.9 1.4 8.7 -0.9 -3.3 0 4.6 -0.7 3.3 1.8 5.9 -0.5 -1.4 -0.3 1.4 -0.5 -2.3 0 1.1 1.4 -9.7 -1.6 4.4 0.5 -2 -0.3 -3.1 0.6 -0.5 0.2 -5.1 -0.1 -6.7 -0.7 2.1 0.7 -1.4 -0.4 -0.5 0.3 -4.6 -0.4 -5 0 -0.5 1.2 -4.2 0.3 2.7 -0.9 -1.9 -0.6 -8.8 1.6 3.3 -1 -0.8 0.7 -2.1 0.2 -4.1 -0.3 -5.9 -0.2 2.7 0.3 -1.9 0 -7.2 -0.3 0 0.3 4.3 -1.1 -2.1 1.3 3.9 0.3 4.8 -0.7 2.8 0.1 -2.4 -0.4 7.3 1.1 -4 -0.3 8.9 0.2 2.5 -0.3 -1.2 0.4 1.6 -0.1 -0.4 -0.7 6.1 -0.6 -3.9 1.2 9.9 -0.3 1.9 -0.2 -2.6 -0.3 2.8 0.4 1.6 -0.5 0.6 1.3 8.9 -1.1 -5.6 0.5 6.3 -0.1 -2.1 0.2 0.3 0.2 -6.5 0.1 1.4 0.6 -7.7 -1.4 0.4 -0.1 -2.5 1.5 -3.6 0 -2.4 -1.1 3.4 -0.3 -1.2 1.7 -6.6 -0.2 -3.2 -0.3 -0.1 0.3 1.3 -0.2 -8.4 -0.1 -1 -0.6 1.6 -0.2 -7.2 1.5 -3.1 -1.4 4.1 -0.1 -8.8 1.2 2.6 -0.8 -3.3 0 -4.5 -0.4 0.3 1.4 0.7 0.3 -6.4 -0.6 2.2 -0.1 -5.7 0.1 -6.3 0.5 0.3 0 0.1 -0.9 -5.3 0.2 -2.1 0.2 0.5 0.4 1.7 -0.6 -5.2 -0.4 -1.1 1.7 -3.5 -0.1 -6.6 -1 -0.7 0.1 -1.1 0.2 2.7 -0.6 -7.3 0.8 3 -0.5 -1.7 0.6 -8.2 0.6 2.9 -1.4 -2.7 0.9 -5.3 -0.6 0.1 1 -5 -0.4 -5.9 0.8 1.8 -0.2 2.7 0.2 -5.7 -0.6 -3.1 -0.5 -0.4 0.2 -4 1.6 -5.2 -0.9 4.4 1.4 -4.3 0.1 0.1 0.2 -4.3 -0.7 -0.2 0.7 -7.2 1.4 2.8 -1.1 -8.3 0.4 0 0.7 -2.8 0.5 6.4 -0.5 0.5 0.6 -0.1 0 4 -0.5 -0.7 1.2 0.5 -0.1 6 -0.7 4.2 0.5 2 1.3 -2.2 -1.2 2 1 7.5 0 -2.1 -0.1 2.4 -0.3 -1 1 5.7 0.5 5.7 -0.1 1.8 -0.3 0.5 0.2 -2.8 -0.4 8.7 -0.2 -4.2 1.3 9.1 -1.2 -3.2 0.6 6.2 1 -1.8 -0.4 1 -0.9 9.6 0.1 -1.1 0.1 2.4 1 1.7 0 1.7 0 4.5 1.1 -3.6 -0.3 6.8 0.6 0.8 -1 2.5 1 1.5 -0.3 2.1 -0.2 0.7 0.3 2.6 0.6 5.1 -0.2 -4.1 0.8 2.1 0.4 4.5 -0.1 5.6 0 2.9 0 0 0.5 -0.1 -0.1 -8.2 -0.8 4.8 1.1 -6.4 -1.1 2.8 0.5 -6.1 -0.5 -1.4 1.2 -4 0 -3.5 -1.3 4.4 0.3 -2.7 0.4 -9.3 0.3 5.7 0 -8.8 -0.8 1.8 0.6 -0.1 0.4 -9.4 -0.7 1 -0.4 1.2 1 -7.5 -1 -3.4 0.3 3.3 0.4 -7.4 0.2 0 0.5 -5.4 -0.2 -2.7 -0.7 3.2 1.3 -5.4 -1.2 2 0.9 -7.8 -1 -2 0.7 2.9 -0.8 -2.1 1.6 -5.5 -1.1 1.1 0.3 -4 -0.6 0.6 1.1 1.6 0.2 2.4 -1.1 2.9 0.2 -0.4 1.5 8 0.1 1.1 -1 2.3 0.5 -0.7 0.9 5.3 -0.6 4.7 0 2.1 0.8 0.1 0.2 3.3 -0.8 2.3 1 3.6 -0.7 2.1 0.3 -1.8 0.4 6.3 0.1 -0.8 1.1 3.5 -0.3 0 0.1 3.4 0.9 2.5 0.2 2.2 0.2 -6 -0.7 0.3 1.2 0.6 0 -2 -0.7 -6.8 -0.6 -1.8 0.2 1.7 0.7 -0.6 0.6 -5.8 0.1 -3.3 -0.4 1.3 -0.2 -1.2 0.4 -6.2 0 -4 0.4 -2.8 -1.1 5.3 0.8 -7.7 -0.4 3.4 0.1 -6.8 0.7 -5.2 -0.2 2.6 -1.1 -0.6 1.1 -7 -0.3 -3.3 -0.4 0.9 0.5 -6.1 0.4 -2 -1.1 4.6 0.9 -4.1 -0.5 -2.7 1.2 -5.3 -0.8 0 -0.6 4.6 0.5 -2.9 -0.4 4.2 1.1 6.3 -0.5 -3.1 -0.2 0.9 1.3 2.9 -1.4 4.8 0.5 5.4 0.8 -5.6 0.2 8.6 0.2 -3.6 -0.4 2.7 0.2 9.5 0 -3.2 0 3.4 0.6 2.6 -0.9 3.8 0.6 2.1 0.1 -2.3 -0.9 5 0.7 2.1 0.6 1.8 0.2 3.8 0 -2.6 -1.5 8.4 1.7 -1.8 0.1 0.9 -0.1 0.2 -0.5 6.1 0.3 0 -0.1 -4.3 -0.3 -3.3 0.2 0.9 -0.5 -3.3 1.7 1.3 -0.3 -8.7 0.1 0.3 0.2 -5.4 -0.3 0.3 -1 -0.6 1.3 -3.4 -0.4 -5.4 -0.4 1.2 0.2 0 0.6 -4.9 0.5 -5 -1 -3.7 0.9 4.8 0.5 -2.7 -0.1 -2.3 0.4 -6.7 -1 2.4 -0.1 -1.5 0.9 -2 -0.3 -5 0.8 0 -0.7 6.5 0.1 2.9 -0.6 3.1 1.2 -5.1 -0.2 6 0.4 0.6 -0.3 8.3 0 0.3 0.3 -0.5 -0.2 5.5 0.8 -4.8 0.4 9.7 -1.3 -2.5 0.3 -0.3 0.2 6.6 0.8 1.1 -0.5 2.6 0.9 -0.5 -0.5 1 0.1 6.5 0.8 -2.1 -0.4 -3.4 0.4 -0.9 0.3 -2.1 -1.4 -1.9 0 1.2 0.6 -10.2 0.5 3.3 0.1 -7.3 0.2 3.4 -0.6 -3.2 -0.3 -6.9 0.7 -1.6 0.2 2.4 -0.3 -1.9 0.5 -6.6 -0.3 3.6 1 -8.2 -0.4 -2.6 -0.3 0.4 -0.3 2.3 1.3 -2.9 0.2 -2 -0.8 -5.2 -0.7 4.8 0 -2 0.7 1.8 0.8 3.3 -0.3 7.1 0.3 -1.7 -1.5 -1.8 0.9 9.5 0.3 1.9 -0.5 -0.6 1 4 -1.2 0.2 0.1 1.1 0.1 6 0.1 -0.3 1 -2.1 -0.3 7.5 0.4 -0.9 -1 3.5 0.6 -1.6 -0.1 7.6 -0.3 -2.5 -0.8 5.1 1 -1.6 0.3 2.9 0.2 3.2 -0.8 3.1 0.7 2.5 0.3 4.3 0.1 -0.3 -0.1 1.3 -0.2 7.7 -1.1 -3.2 0.6 3.1 -0.3 7.9 0.4 -0.4 1 -3.2 -1.6 3.5 -0.1 1.4 0 6.4 0.4 3.4 0.5 0 0.7 -4 0 -3.7 0.2 5.4 -1.1 -8.5 -0.1 2.8 1 -6.5 0.1 1.9 -0.4 -5.2 0.8 -0.3 -0.4 -1.3 0 -2.6 0.4 -7.7 -0.7 -3.2 0.5 6.3 1.1 -2.7 -0.7 -6.2 1 -3.8 0.1 3.1 -0.3 -8 0.7 1.2 -0.2 -0.2 -0.4 -4 1.1 -4.3 -0.3 5.4 -0.4 0.9 0.9 -0.7 0.2 2.9 0.6 6.7 -1.3 -3.3 1.4 0.6 -0.4 6.8 -0.5 2.4 0.6 -0.2 0.1 0.8 0.2 0.3 0.1 6.9 0.6 3.4 -0.6 0.9 -0.2 -0.3 -0.4 7.2 0.7 -4.9 0.6 2.5 0.1 9.2 -0.2 -1.6 0 0.7 -0.2 5.1 0.4 0.3 -0.5 -4.9 0.8 -3.9 -0.6 3.7 0.6 -3.2 -0.5 -6.2 1.6 3.4 -0.5 -6.5 0 -1 0 -3.2 -0.3 -3.8 0.5 -2.1 0.2 1.7 0.2 -4.9 0.7 -1.2 -1.4 -3 0.5 -1.5 0.8 1.3 -0.3 -1.1 0.4 -4 -0.2 -4.6 -0.7 0 1.5 8 -1.5 -2.5 1.4 0.7 -0.2 3.6 -0.8 5.2 -0.1 -3.4 0.1 3.8 0.8 4.3 -0.7 2.4 -0.4 5.7 0.7 1.2 -0.7 1.8 1.7 -4.3 -0.8 6.2 0.7 -1.7 0.1 4.9 -1 0 1 9 -1.5 2.4 1.4 1.2 -0.2 3.1 -0.4 -4.1 -0.8 1.9 1.1 6.1 -1 4.9 0.8 1.9 -0.3 1.3 0.8 -0.2 -1.3 0.9 1.2 1.9 0.6 0.1 -0.8 6.2 0.4 -1.7 -0.6 6.5 -0.5 4 1.4 -2.6 0.1 1.7 0.1 8 -0.6 2.1 0.3 -3.2 0.3 7.3 -1.6 1.9 1.3 3.1 -1.2 -0.4 0 -0.9 0.7 0.5 0.5 2.2 0.5 2.4 -1 8.7 -0.4 1 0.6 0.9 0.2 0 -0.8 -6.5 0.4 -2.2 0.3 1.2 0.1 -5.4 1.1 1.3 -1.4 -1.4 0 -0.9 1.2 -10.1 -0.9 2.7 1.2 1.1 0 -8.7 -0.3 -2.9 -0.1 0.7 0.6 -5.7 0.4 0.8 -1 -5.6 0.5 5.2 0.7 -8.8 -0.5 -2 0 1.2 -0.4 -4.6 0.6 -0.1 0.3 1.5 -0.2 -5.8 0.6 -6.2 -0.5 3.4 0.8 0.5 -0.8 -6.1 1.1 -5.6 0.3 3.1 -0.2 -8.5 -1 1.9 1.8 -2.9 0 -3.6 -0.1 1.2 0.4 -3.9 -1.1 -1.6 0.7 -1.7 1.2 -1.1 0.8 -3.9 -0.4 1.6 0 3.8 0 3.5 0.6 1.9 0.8 1 -0.4 0.4 0.5 4 0.3 5.4 -0.5 1.4 -0.9 -0.5 0.2 0.2 0.5 0.9 -0.6 3.4 1.1 2 0.4 4.7 -0.7 2 1 2.3 -0.9 0.8 0.8 6.2 -0.7 -1.8 0.7 -0.7 -0.5 8.6 1 1.5 -0.3 -3.1 0.5 1.9 -1.5 4.6 0.4 0.5 0.4 8.6 -0.3 -6 0.5 5.9 0.3 4.7 -0.3 -2.8 0.9 6.6 0.2 -2.5 -0.6 3.3 0.9 3.1 -0.4 1.4 0.1 3.8 0.8 4.4 -0.1 0 -0.6 1.4 0.1 0.7 0 6.6 -0.1 -0.7 0.8 3.7 -0.1 -3 -0.6 -3.5 1.4 -3.7 0.4 2.3 0.2 -6.6 -1 4 0.1 -5.3 0.6 2.3 -0.5 -9.7 0.5 0 0.7 -0.7 0 -4.1 -0.2 1.3 0.6 -2.1 -0.4 -1.3 -0.8 -8.8 0 -2.1 0.7 -1.2 0.4 0.1 0 -1.6 0.5 -1.8 0.3 -3.7 -1 2.3 0.7 -3.5 0.1 -0.8 0.5 -8.2 0.8 -0.3 -0.4 -4.2 0.4 2.4 -1.2 -2.6 0.9 -0.8 0.9 -8.6 -1.4 -1.2 0.9 1 1.2 -2.9 0.3 -0.1 -0.1 -3.6 0.6 -2.8 0.8 0 -0.5 3.3 -0.5 1 -0.1 6.7 0.9 -0.5 -0.2 3.8 0.9 -1.6 -0.2 8.9 0.4 1.6 -1.2 -5.2 -0.2 4.9 1.1 4.4 0.4 2.2 -0.3 2 0.3 3.8 -1.2 4 0.3 -1.1 1.2 4.2 -1.3 1.8 0.3 -3.4 1.3 9.8 -0.2 0.8 0.2 0 0.3 1 -0.8 4.4 0.4 -1.9 -0.1 4.5 0.3 1.8 1.7 -1 0 5.2 -0.2 0 -0.3 -9 1.1 3.6 0.3 -1.2 0 -3.6 -0.1 0 0 -4 -0.2 -6.2 1.4 -3.7 -0.8 4.1 1 -1.8 -0.3 -9.7 -0.3 1.3 -0.3 -4.7 1.1 3.1 -0.4 -4.2 0.4 -6.1 0.1 1.6 1 -1.9 0.4 0 0.4 4.8 -0.3 -1.6 -0.8 5.1 0.3 1.9 0 0.5 -0.4 7.7 0.3 -3 1.5 7.3 -0.9 -2.3 0 3.2 -0.1 -0.2 0 8.8 1.1 2.1 -0.3 2.4 -0.3 -3.3 -0.5 4.1 0.6 4.8 1.1 2 -1.1 0.5 0.5 1.6 -0.3 6.2 0.8 -1.4 0.4 -2.5 -1 11.1 0.6 -0.1 -0.4 -1.6 1.2 3 0.3 0.9 -0.5 2.3 0.8 4.1 -0.9 4.3 1 0.7 0.5 -3.3 -0.5 -3.7 0.5 3.8 0.5 -5.8 -0.5 -0.3 -0.6 -2.6 0.4 -3.7 -0.1 -2.3 0.9 -6 0 -1.1 -0.9 -2.6 1.4 3 -0.3 -2.2 0.4 -8.8 -0.2 0.8 -0.3 1.3 0.5 -8.2 0.3 -1.5 0.3 1.6 -1.2 -3.6 0.9 -1.8 0 -1.4 1 -5.5 -0.3 3.3 -0.4 -9 -0.3 4.8 0.8 -4 0.6 -7.1 -0.7 1.8 0.4 -1.6 0.5 -5.2 0.2 -0.9 -0.2 2.1 0.1 -6.6 0.4 -4.7 -1.2 -1.1 0.4 1.7 0.2 -2.8 -0.4 -2.9 0.9 -3.4 0 -0.5 0.4 1.2 -0.2 0.6 0.6 2.5 0.1 2.4 -0.4 3.2 -0.7 6.6 0.1 2.6 0.2 -5.3 1 5.6 -0.1 5.2 -0.4 -4.2 0.4 1 0.2 7.4 0.2 -0.2 0.2 -0.3 0 4.5 0.6 2.6 -1.2 2.8 1.1 1.6 -0.1 3.2 0.5 -0.6 0.7 3.2 0.3 4.1 -0.9 -0.6 0.1 4.8 0.4 1.6 0.2 6 1.2 2.7 -0.8 -2.2 1.5 4.5 -0.5 1.5 0.7 -5.9 -0.7 1.5 1 -4.6 -1.3 -2.3 -0.1 3.2 -0.2 -3.6 0.1 -3.7 0.9 -0.9 -0.5 -6.1 1.5 -2.8 -1.7 1 0.4 -5.2 0 1.9 1.5 -7.8 -0.3 2.8 -1.2 -7.1 0.8 3.1 0.9 0.7 -0.9 -10.3 0.3 -2.1 -0.4 6.2 0.3 -8.2 0.7 1 -1.1 -6.8 0.6 1 -0.4 -3.2 0.4 1 0 -6.3 1.3 -2.1 -0.8 1.4 0.2 -8.5 0.6 -0.4 -1.4 3 1.7 -9.4 -1.1 2.5 0.9 -5.4 -0.4 1.8 -0.2 -6.4 0 2.3 1.2 -4.5 0 0.6 -0.5 -8.7 0.6 1.3 -0.1 -1.4 0.3 0 0.8 8.7 -0.8 -2.7 0.3 0.1 0 6.9 0.7 -1.3 -1.1 6 1.1 3.3 0.5 1.5 -1 1.7 0.9 -3.5 -0.7 3.1 1 4.6 0.9 -1.9 0.6 -5.1 -0.5 0 0.9 0 -1 6.6 0.4 0.4 0.6 0.8 0.1 5.3 0.3 -1.2 -0.9 -0.1 0.4 7.1 0.6 -2.5 -0.2 8.7 0.5 -3.3 0.1 6.7 -0.5 0.7 0.4 1.7 -0.8 1 0 3.5 1.3 -0.2 0.2 0.6 0.2 8.2 -0.6 0.6 0.2 3.9 -0.7 -2.3 1.3 8.3 0.3 -3.6 -0.2 6.3 -0.8 3.1 0 -1 0.6 0.1 0.5 4.1 -1.2 1.7 0.8 -0.2 0.7 10.6 -0.1 -0.6 0.1 -3.5 -0.9 7.4 0.9 -2.8 -0.3 2.5 0.3 1.9 0.7 2.3 -1.6 8.8 1.7 -4.6 -0.2 9.6 0.1 -0.9 0.1 4.5 -1.3 -1.9 1 4 0 4.7 0 0 -0.7 -4.7 1.8 -2.8 -0.4 -3.7 -0.1 6.1 0.4 -2.8 -0.3 -6.4 -0.1 -5.4 1 -2.2 -1.1 3 0.2 -4.3 0.7 -0.6 -0.1 -2.3 1 0.6 0.5 -3.8 -1.3 -5 1 -1.7 0.5 -1.4 0.2 -0.5 -0.4 -4.2 0.1 -5.2 1.4 -0.7 -0.2 -4.6 -0.4 2.7 1.9 -5.1 -0.6 0 -0.5 4.6 0.6 4.1 0.9 -4.9 -1 3.9 1.4 3.3 -0.6 -0.3 -0.9 4.8 0.6 -1.7 0.9 8 -0.1 -3.8 -0.7 8.6 0.9 -0.5 -0.6 2.9 0.8 3 -0.5 4.7 -0.1 -4.6 0.6 6.2 0.3 0.7 0.5 2.6 0.1 -1.2 0.2 1.8 -0.7 8.9 0.1 -0.2 0.7 3.5 0 -2.7 1 6.9 -0.1 -1.5 0.1 3.1 -0.6 3.4 -0.2 -1 0.6 9.2 1.3 -0.1 0 -0.4 0 0.9 -0.1 5.5 0.1 1.3 -0.4 5.1 1.4 -1.6 -0.7 4.9 0.2 -0.5 0.3 3.3 1.4 6 -0.7 0.8 1.1 0 -0.5 -3 0.9 -2.3 0.8 1.7 -0.2 -6.5 0.3 2.2 -0.2 -7.5 -0.2 -3.8 -0.5 5.5 0.8 -7.3 0.2 -2.2 -0.9 -4.3 0.3 -2.6 0.1 2.1 1.3 -3.9 0.2 1.2 -1 -0.4 0.6 -9 -0.6 3.5 -0.1 -6 0.5 1.9 0.9 -5.6 -0.3 -1.7 0 -6.2 0.9 0.3 -0.4 -4.5 -0.6 2.1 1.3 0.5 0.2 -6.7 -0.5 -0.1 -0.7 -3.7 0.8 -5.5 -0.2 1.6 0.7 -2.2 0.1 -4.6 -0.8 0.6 0.9 -3.1 -0.6 -0.9 0.2 -4.8 -0.1 0.9 0.3 -3.9 0.5 -1.4 -0.6 -4 -0.4 -2.4 0.6 2.5 1 -6.9 -0.6 0 -0.6 0 1.4 5.5 -1.4 0.6 0.5 4.7 0.9 2.4 -0.8 -4.7 0.9 9.4 0.1 -2.8 -0.5 2.8 -0.5 3.8 0.1 2.2 1.4 0.2 -0.4 3 -0.4 1.5 -0.7 4.4 0.8 3.1 -0.7 2.7 0.2 -2 1.3 2.6 -1.1 6.6 0.1 -2.3 -0.4 7.3 1.8 0.3 -0.3 -0.9 -0.8 2.3 -0.2 2 -0.2 3.2 1.4 5.9 -0.8 1.1 0.4 0 -0.7 -1.8 1.8 -5.7 -0.4 -1.1 -0.8 3.2 0.9 -2.4 -0.8 -1.8 1.4 -5 -1.1 1.1 -0.4 -10 0.8 -0.3 0.9 2.3 -0.4 -6 0.6 -0.6 -0.4 -4.2 0.4 1.5 0.1 -0.9 -0.4 -6.8 0 0 0.1 0 0.8 0.8 -0.3 4.1 0.4 5.7 -1 1.2 1.5 -0.3 0.3 5.1 -0.5 0.6 0.5 -1 -0.1 9.8 -0.8 -5.4 1.6 6.4 -1.1 -0.8 0.5 7.2 0.1 0 -0.3 0 1.1 -2.5 0 -4.7 -1.3 -3.6 1.2 -0.6 0.4 1 -0.2 -2.1 -0.5 -1.4 0.5 -3.3 -0.5 -8.3 0.8 -1.8 -1 5.2 -0.3 -5.5 0.6 -3.1 0.2 -1 -0.1 -6.5 0.4 0.8 -0.3 1 -0.1 -1.8 -0.3 -1.9 1.6 -7.1 -0.1 -3.6 -0.4 -4.1 -0.9 4.1 1.5 -0.7 -0.7 -4.1 -0.1 -1.8 -0.6 -5.2 1.1 -2 -1 -0.6 1 -4 0.3 3.5 0.1 -4.3 0.1 -0.1 -1.2 -2.3 1.5 -5.9 -1 -2.1 1 -7 -0.8 4 0 -0.8 0.5 -5.8 -1 -6.5 0.5 2.2 0.3 -2.1 0.8 0.3 -0.3 -8.8 -0.7 5.3 0.7 -5.7 0.1 2.4 0.2 -6.9 -0.9 -5.9 0.3 -0.1 0.9 -2.2 0.2 1.9 -1.2 -6.8 1.5 4.1 -1.4 -7.4 0.8 -0.1 0 -2.6 1.3 -3.6 0.1 0.4 -0.1 -1.2 0.7 -4.1 0.2 -1.7 1.8 1.6 0 0 -0.7 8.3 1.1 -1.3 0.1 1.6 0 -1.2 0.4 1.2 -0.2 4.7 0.4 3.5 -0.9 3.5 0.8 -1.6 0.2 5.8 0.4 4.3 -1 -0.7 1.4 0.7 0 -0.1 -0.7 6.1 0 2.3 0 3.1 -0.2 -1.1 1.1 2.9 -1.1 3.5 1.3 4.1 -0.4 0.5 0 -1 -0.8 7 0.5 3.4 1.2 -1.9 -1 0.1 -0.2 9.5 1 -1.7 -0.8 4.8 0.5 -4.3 -0.4 2.3 -0.1 5.9 1.4 4.5 -0.3 -3.2 -0.7 7.8 0.6 -2.7 -0.7 -0.1 1.3 2.7 -0.3 4.2 -1 2.6 0.7 4.7 -0.2 -3.3 0.2 8.7 0.1 0 -0.6 -1.4 1 -0.2 -0.6 -6.8 -0.2 2.6 -0.1 -0.9 0.9 -8.6 0.3 0.4 -0.1 -6.4 -0.8 4.4 -0.1 -8.1 1 -2.3 0.1 0.5 -0.3 -6.5 -0.1 -1.5 0.6 -2.3 0 4.7 -0.3 -5.7 -0.6 -3.4 -0.1 1.7 -0.1 -2.1 0.2 -5.4 0.6 -4.4 -0.8 -3.2 0 4.5 1.4 -2.6 0.1 -7.6 -0.3 4 -0.7 -9.6 0.7 6.1 0.1 -5.3 0.2 -6.5 -0.8 0.6 1.1 2.2 -0.9 -9.1 0.2 0.3 -0.1 -1.8 0.2 0.1 -0.1 -7.6 -0.9 4.9 0.9 -6.7 0 2.6 0.6 -2 0.9 9.9 -0.9 -1.8 0.3 5.8 0.2 0.5 0.4 4.3 1 -2.6 -0.3 7 1.3 -0.8 -0.5 2.1 0.3 -0.9 0.1 -0.1 0.1 -2.4 0.2 -1.6 1.1 -1.4 -1 -8.2 0.1 2.4 0.4 -4.1 1.1 -2.6 -0.4 -6.5 1.1 -0.1 -0.8 1.9 0.7 -4 -0.5 3.6 1.4 -2.9 -0.3 6.2 0.7 0.1 0.2 4.6 -0.3 5.9 0.8 -5.2 -0.6 1.8 -0.1 2 0.4 8.2 0.3 3.7 0.9 -3.1 -0.9 5.7 0.2 0 0.8 2 -0.6 4.6 1.1 3.9 0.2 -3.4 -0.8 0 -0.5 10.4 0.5 -0.3 1 -0.5 -0.1 4.7 0.4 2.8 -0.8 -1.2 -0.4 4.8 1.3 -3.1 -1.1 10.6 1 -4.4 -1.1 0.9 0.4 3.4 -0.3 0.4 0.2 7.5 -0.1 -2.5 0.6 9.1 0.9 -0.2 -0.8 1.5 -0.5 3.1 0.8 0.7 -0.4 4.9 0.1 -4.4 -0.5 7.6 0.4 -0.5 1.3 3.4 -1 -1.3 1.2 1.8 -1.1 3.3 0.9 8.5 0.1 0 -0.2 -2.7 0.7 5.6 -0.8 2.8 0.5 -1 -0.1 5.3 0.1 -0.7 0.3 3.8 -0.6 8.1 -0.3 -1.4 0.7 4 -0.2 -3.2 -0.1 1.5 1.3 1.7 -0.9 4.7 -0.7 0.8 1.8 2.3 -0.4 4.1 0.2 1.8 0.4 2.2 -1.2 5.1 -0.2 -0.7 1.1 2 -0.1 7.8 -0.1 -1 -0.4 6 0.7 -0.6 -0.5 -0.8 -0.4 2.4 1.7 5.8 0.1 -2.4 -0.4 6.1 -0.2 -2.5 0.4 2.5 -0.2 5.8 0 -0.2 0.8 6.2 -0.3 4.2 -0.7 -0.3 0.6 -0.2 -0.9 -0.5 0.7 9 0.9 -2.2 -1 5.3 0.6 0.4 0.3 -1.6 0.9 -3.3 -0.4 -3.5 -0.8 3.6 0.7 -5.9 1.3 -2.9 -1.3 0 1.4 0.2 0.1 -10 -1.2 1.5 1 -2.1 1.1 0.9 -0.7 -1.7 0.1 -9.8 0.3 2.2 0.9 -0.9 -0.3 -3.3 0.5 -1.9 0 -5.7 0.4 -2.4 -0.9 -0.8 0.7 -0.3 -0.1 -2.3 1.7 2.4 -0.4 -0.6 1.2 4.2 1.2 0.8 -0.3 -0.5 0.1 5 1.3 2.7 0.4 -4.7 -0.4 0.7 0.6 -3.2 -0.5 0.9 1.2 -8.4 -0.6 -2.2 1 -2 -1 4.3 0.3 -4.3 -0.3 -7.1 0.2 3.3 0.6 -6.1 0.1 -0.2 -0.2 0.9 -0.1 -6.6 1 -3.9 -0.1 0.6 0 -4 0 -4.5 1.6 2.8 -0.8 -2.1 0.1 0.1 -0.2 -2.4 1.9 -5.5 -0.6 -3.5 -0.5 -2.2 0.8 -1.2 -0.1 0.4 0.8 -4.9 1.1 0 0.3 0.9 -0.4 6 0.2 -1.4 -0.5 6.2 1.4 3.3 0 2.9 0.4 -0.9 1.1 5.8 0.8 -2.8 -0.2 2 0.8 4 0 -4.7 0.2 -3.9 -0.8 -0.7 1 2.5 -0.6 -3.7 -0.2 0.9 0.7 -9.1 0.1 -0.8 1.1 3.9 -1.3 -8.4 0.3 -1.1 0.7 -4.4 -0.4 -2.1 0.8 -2 -1.2 -0.1 0.3 1.2 0.3 -6.1 0.3 -2.1 -0.3 -3.4 0.4 1.9 0.3 -6.6 0.2 2.9 -0.2 -3.6 0.3 1.4 0.8 1.3 -0.1 3.3 -0.3 4.2 0.1 -2.7 0.1 7.2 0.3 -3 1.1 7.3 -1.2 2.5 1.1 -2.6 -0.4 2.5 0.5 4.1 1.2 5.5 -0.1 2.3 -0.7 -0.6 0.4 0.8 0.2 4.1 0.6 5.2 1.3 -1.2 -0.1 3.9 -0.1 0.7 0.9 -6.4 -1.5 1.6 1.8 -2.4 -0.6 -2.7 0.8 -1.9 -0.7 0.8 -0.5 -7.1 1.4 -1.7 -0.1 -1.9 -0.1 2.9 0.4 -5.9 -0.2 1.8 0.5 -4.3 -0.8 -8.2 0.3 4.3 0.2 -4.6 -0.2 -2.1 1 0.6 -0.6 -8.9 0.4 1 0.9 1.1 -1 -1.9 0.5 -7.1 0.5 0 -0.5 4.8 0.3 3.4 0.7 -4.2 0.1 9.1 0 -4.5 0 6.2 1.9 -2.5 -0.6 6.8 1.1 3 -0.5 0.2 0.9 -1 0.5 1.5 0.3 6.8 -0.7 6 0.1 -5.7 1.3 7.2 -0.8 4 0.9 -1 0.4 -1 1 5.6 -0.8 0.8 1.9 4.2 -0.1 3.4 0.1 -0.8 1.2 -2.2 1.3 3.3 0.2 -5.7 0.5 4.3 -0.9 -6.4 0.8 2.9 0 -6.1 0.2 -6.6 0.1 2.4 -0.4 -5.8 0.6 -2.1 -1.1 -2.2 0.6 -2.2 -0.1 -1.8 0 3.6 -0.3 -10.2 -0.1 5.8 0.9 -6 -0.7 -5.4 1.2 1.9 -0.7 -0.7 1.3 -5.8 -0.6 1.2 -0.4 -8.3 -0.4 -2.3 0.2 0.7 1 -1.2 -0.1 -5.2 -0.6 -3 0.9 -1.5 0.5 1.8 -0.4 -2 -0.2 -2.7 0.7 6.2 -0.3 1.5 0.4 -0.2 -1 3.2 1.4 0.9 -1.5 4.1 1.5 1.2 -0.7 -0.2 1 0.5 -1.3 7.1 0.8 -0.6 -0.6 4 0.7 1.4 -0.2 5.2 -0.5 2.7 0.7 1.7 0.1 0.5 -0.5 3.1 0.8 0.3 -0.1 -1.5 -0.7 8.1 1.3 3.4 0.5 -5.2 -1.4 2.8 1.5 9.1 -1.1 -1.4 0 0.6 0.5 4 -0.1 5 1 -2 -0.3 4.9 -0.4 1.5 -0.3 5.6 1.5 -3.2 -0.3 -1.1 0.2 6.3 -1.1 6.5 1.5 -4.8 -1.4 6.1 0.1 -2.2 1.3 3.5 0.1 1 0 4.8 0.3 4.7 0.3 3.6 0.2 0.3 -0.6 0.2 0.5 -1 -0.6 3.1 -0.5 5.1 0.6 4 1.1 3.4 -1.4 -4.8 1.6 6.8 -0.9 4.1 -0.3 2 0.1 1.6 0.8 0 -0.2 -4.1 1 0.4 -1.1 -6.4 0.3 -2.9 1.3 1.1 -1.2 -1.4 0.9 -3.2 -0.2 0.9 0.1 -7.6 0.8 3.4 -0.8 -8.5 1.1 -2.8 -0.1 -2.5 0.3 3.3 -0.5 -7.3 0.2 -0.9 -1.1 -1.3 0.2 -4.9 0.2 2 0.8 -2.3 0.3 -5 -0.8 -1.9 0.8 3.2 0 -5.5 0.2 -0.3 0.8 -2.3 -0.4 -8 0.9 4.6 -1.5 -7.2 0.9 -1.5 -0.6 -3.2 0.9 -0.1 -0.7 -0.1 0.2 -4.4 1 2.3 -0.3 -5.5 0.8 -6.3 -0.8 -2.8 0.6 4.6 -0.5 -6.5 1.3 -3.5 -0.8 -1.2 0.9 3.1 -1 -7.9 0 -3.7 1.4 -1.9 -0.6 1 0.1 -1.3 -0.2 -2.7 0 -6.7 0.4 -1.7 0.9 3.3 -0.5 -2.3 0.2 -3.5 0.5 1.6 -0.7 -9.8 -0.1 3.6 1.1 0 0.1 -10.9 -1.5 1.9 0.6 -0.6 0.3 -0.4 0.5 -2.3 0.5 -5 -0.3 1.2 -0.1 -5.8 0.8 0 -0.6 2.4 -0.9 4.5 0.2 6.4 1.2 1.3 0.2 0.2 -1.3 1.8 0.9 0.6 0.5 3.8 0 5.3 0.4 0.6 -1.7 -3.2 0.5 3.4 -0.3 4 0.4 2.8 0.3 -0.4 0.4 5.9 -0.6 2.3 0.7 -1.2 0.5 2.3 -0.5 -0.3 -0.8 5.4 0.9 3.5 0 1.2 -0.2 6.7 0.4 -2.8 1 3.8 0.6 3.1 -0.5 -0.2 0.6 6.4 -0.5 -2.6 0.6 3.2 -0.5 0 0.7 -5.9 0.7 0.3 -1.5 -5.5 1 1.3 -0.2 -7.7 0.2 1.7 0 -3.7 0.1 3.1 -0.5 -5.5 0 -3.5 1.1 -3 0 1.2 -0.9 -2.5 0.1 -2 0.2 -4.1 -0.6 0.4 1.2 -4.7 0 2.6 -0.2 -8.8 -0.3 -2 0.1 1.5 1 -0.4 -0.4 -8.6 -1.1 -3.3 1.2 5.3 -1 -7.4 1.3 2 -1.1 -1.6 1.5 -8.3 -0.4 0.6 0.5 0.1 0.1 -6.8 -0.3 -1.5 -0.1 -4.3 0.2 -0.6 0 0.4 -0.5 -3.1 0.1 -1.5 -0.6 -4.8 1.8 -2.1 -0.2 -3.9 0 0.2 0 -2.9 1.1 0 0.3 1.3 -0.7 -5 -0.6 0 1.5 3.5 -0.7 5.8 -0.1 -0.6 -0.2 4.6 1 -3 -1 8.8 1.8 -5.6 -1.5 5.9 0.3 2.5 0.5 3.5 0 4.3 0.3 -0.9 0.3 1.4 0 -2.1 -0.1 -0.4 0.2 -8.4 0 -2.3 0.9 4.8 -0.5 -6.8 -0.3 -1.3 1.5 -0.1 0.1 -4.8 -0.8 2.2 -0.5 -1.3 0.2 -3 0.6 -7.7 -0.1 -2.3 0.5 0 -0.5 0 0.4 7.1 0.5 -2.5 -1 1.6 1.4 1.2 0.1 2.1 0 9.7 -1.3 -5.8 1.1 6.2 -1.2 -1.2 0.1 1.6 1.2 10.7 0 0.4 -1 -2 0.2 0.9 -0.4 2.3 1.3 3.4 -0.6 4.3 0.7 1 -1.3 3.4 1.6 0.7 -0.6 1.9 -1 -0.3 0.4 8.3 0.3 -2.9 1.2 9 -1.2 0.5 0.5 2.1 0 -0.6 -0.7 3.9 0.4 -2.6 -0.5 10.4 0.1 0.8 0.9 3.9 -0.7 -1.4 0 4.4 1.1 -4.9 -1 2.2 0.5 7 -0.5 -2.5 0.9 8 -0.5 -0.4 1.1 2.1 0 3.6 -0.5 6.1 0.3 -0.1 -1.2 -0.8 0.3 2.9 0 3.6 0.8 -0.6 0.3 0.6 -0.2 6.7 -0.6 1.4 0.8 -1.1 0 4.4 -1.1 4.1 1.2 4.1 0.2 -3.6 -0.4 8.7 -0.8 -4.5 1.1 3.8 -0.6 1.5 -0.6 6.3 0.3 -1.2 0.7 0.9 0.6 6.2 -1.2 5.2 0.7 -5.8 -1 4.6 0.6 5.4 -0.5 3.5 -0.1 0.9 1 0.6 -0.1 2.1 -0.2 0 0 -0.8 1.2 -2.4 -0.2 -8.6 -0.8 3.6 0.9 -7 -1.3 -1.7 -0.1 2.1 1.1 -7.4 0.5 4.1 -1.5 -4.7 0.9 0.6 -0.4 -5.1 -0.2 -5.6 0.6 3.2 1 -6.7 -1.2 1.8 0.8 -0.9 -0.4 -7.6 0.6 -3.1 -1 -2 0 0.6 1 -6.4 -0.6 4.1 1 -7.3 -0.3 -1.9 -0.7 3.6 0.1 -1.7 0.5 -8.4 -1 -3 1 1.9 0.2 -0.5 -0.3 -7.9 -0.4 4 0.5 -4.9 0.3 -1.2 -0.9 -0.2 1.2 -5.1 0.1 -0.8 -1.1 -3.2 1.4 0.2 -1 -7.2 0.5 3.3 -0.1 -5.2 -0.2 -4.4 1.3 0.3 -1.3 -4.7 1.6 2.8 -1.1 -3.4 0.4 -2.1 -0.3 -5.7 -0.2 -3.8 1.7 -0.6 -0.3 -0.8 -0.6 -4.5 -0.1 -0.5 0.4 -0.7 0.3 -2.5"/>
</g>
<g stroke="#FB4B4F">
<path d="M168.5 418l0.1 1 0.6 -10.6 -0.8 2.5 0.2 -2.1 0.9 2.7 0.3 -2.9 -0.7 -7.1 0.7 -3.7 0 2.3 -0.3 -4.1 1.3 3 0.2 -2.2 1.2 -1.4 0.8 -0.7 0.2 3.1 1.6 2.4 1.2 -2.9 1.6 3.5 0.6 -2.7 0.8 0.2 1 1.7 1.5 -4.5 -0.1 8.1 1.6 -0.6 1.6 5.1 0.9 -5 0.5 2.9 0.1 -7.1 0.2 4.9 0.5 -2.6 0.2 -4.5 1 -1.7 1.5 -3.7 0.3 0.6 0.2 -2.9 -0.8 6.2 0.4 0.2 0.6 4.4 -0.2 2.4 0.9 -7 0.6 2.9 -1.4 8.7 0.9 2.6 -0.7 3.1 1.7 2.1 -1.2 2.4 1.3 -5.3 -0.6 5.3 0.4 2.2 -0.3 1.8 0.7 2.4 -0.8 6.7 0.5 -6.7 0.3 4 -1.2 1.7 0.2 10.6 1.4 -3.5 -0.5 5.8 1 4.7 -0.5 -6.7 0.4 11.5 -1.2 -9 0.3 6.8 0.7 1.2 0.4 8.9 -1.1 0.8 1.1 3.8 -1.1 -5.4 0.8 4.4 0.3 7.6 0 -0.3 0.6 -3.3 0 9.2 -0.1 1.9 0.4 4.3 -0.5 -6.3 -0.7 5.8 0.8 -2.7 0.4 2.1 0.6 7.5 -0.4 1.7 -0.2 4.8 0.8 2.7 -1 1 -0.1 -1.4 1.5 0.2 -1 10 -0.5 -5.6 0.9 8.8 0.2 -1 0.5 0.2 0.1 5.5 -0.1 6.5 0.1 -4.3 0.4 7.8 -0.2 -0.8 0.8 5 -0.6 -2.3 -0.3 1.8 0.5 6.6 0.2 3.6 0.5 -8 0.2 12.8 -0.4 -9.1 0.6 12.2 0.2 -6.9 -0.5 6.6 0.3 7.3 0.5 2.2 -1 -1.6 1.3 3.9 -0.6 0 -0.5 -5.4 0 -2.6 0.3 5.4 0.7 -9 0.6 -4.2 0.6 -0.4 -0.9 2.8 0.1 2.1 0.6 -7.7 -0.2 1 0.8 -10 0 7 0.3 -12.1 -0.1 7.6 1.1 -2 -0.3 -10.5 0.4 1 1.2 -2.2 0.8 2.1 0.4 0 1.1 0 -0.2 10.8 -0.5 -4.9 0.5 6.7 0.7 0.5 0.3 6.7 1 -4.2 0.9 5.5 0.8 0 0.6 -7.6 -0.5 2.1 0.7 4.8 1.3 -5.9 -1.4 0.9 0.2 -12.5 0.7 4 1.4 1.1 -0.3 -4.8 0.3 -4.1 0.7 -6 -1 0 1.1 1 0.2 1.2 0.2 -2.5 -1.5 -5 1 0 0.2 -5.1 0.8 0.8 -0.6 -6.3 -0.1 -2.3 -0.7 -8 1.2 7.1 -0.7 -0.5 0.4 -4.7 0.1 -3.9 1 -9 -0.3 5.4 -0.8 -6 1.1 -4.4 -0.1 -1.8 -0.9 1.4 1.2 2.3 0.7 -1.5 -0.2 -2.7 -0.5 -7.5 -0.5 0.5 0.4 -8.5 0.8 -3.6 -0.3 6.4 1.1 -8.2 -0.5 -1 -0.7 0 0.9 1.4 -0.5 -5.6 0.7 -3 -0.5 -7.7 0.4 -2.5 -0.5 4.4 0.6 -1.4 0.7 -6.5 -0.9 -5.3 1.4 3.3 -0.8 -1.9 1.3 -4.4 -1.5 1.4 0.9 -3.8 1 -0.4 -0.9 -8.6 -0.4 -3 1.5 3 -0.1 -3 -0.5 1.7 1.4 -1.9 -0.1 -8.6 -0.8 0.2 0.8 1.6 0.4 -9.8 -0.1 5.2 -0.2 -6.4 1.1 -6.6 -0.1 -0.4 0 1 1.1 -5.9 -0.9 -2.4 0.4 -3.6 1.1 2.3 0.4 -6.8 0.1 1.2 0.3 -1.3 0.5 -2.3 -0.5 -5.8 0.4 7.6 0.8 -8.9 -0.7 -2.5 1.4 -2.3 0.1 -2.7 -0.1 5.3 0.1 -6.9 -0.3 -1 1.2 -2.4 -0.7 -4.9 -0.4 -6 0.7 9.3 -0.5 -13.6 1.5 2.5 0.4 -5.5 0.2 -0.4 -0.7 -3 -0.5 -0.8 0.9 -3.2 0.2 1 -0.5 -4.1 0.8 -4.3 0.4 5.8 0.4 -0.8 -0.6 -2.7 -0.5 -4.7 1.4 -3.7 0.1 -5.5 -1.2 3.2 0.6 -9.1 -0.2 -0.9 1.1 1.8 -0.3 -3 1.8 1 0.2 -5 1 3.9 0.3 -1.6 0.5 0 0.4 2.1 0.2 10.6 -0.4 -1 0.2 7.6 -0.3 0.1 0.3 1.9 0.3 -5.7 -0.5 9.9 -1.1 2.9 0.3 -4.1 -0.1 -1.2 0.6 2.9 -1 2.2 1.3 10.2 -0.5 -1.7 -0.7 -1.4 0.2 6.4 0.8 4.9 0.5 4.4 0.1 -0.2 0.5 1.9 1.1 -1 -0.1 1.5 -0.3 2 0.2 8.1 0.7 -0.5 0.4 -4.1 0.7 3.3 -0.1 1.5 0.2 5.5 0.6 4.9 0.2 -1.3 0.7 7.3 -0.4 -4.8 -0.5 9.5 1.4 -2.5 0.1 -2.4 -0.2 6.4 -0.1 2.6 0.5 0 0.7 -3 0.3 1.4 -0.7 -4.4 2.1 -7 -0.4 1 0.1 -5.8 1.2 6.2 -0.2 -12.4 0.4 -1.2 -0.8 8.1 -0.3 -7.1 0.6 -4.9 0.8 -3.5 -0.8 -0.4 1 0 0.3 0 0.5 3 -0.7 6.3 0.1 1.7 0.1 2.9 0.3 0.2 -0.2 -4.5 -0.3 4.5 0.2 10.5 0.6 -7 1 7.3 -0.3 -1.4 0.5 8.5 -0.6 -1 -0.5 -1 0 0.4 1.2 2.3 0.7 7.9 0 4.2 0.5 4.2 -0.6 -6.6 0.2 7.3 0.2 2.3 0.3 0 0.5 -7 0.7 7 1.3 -6 0.9 0 1.7 -2.5 -0.2 -5.5 1.1 0 0.5 6.2 -1.4 2.4 0.1 1.7 0.9 -4.4 -0.6 6.9 0 0.2 -0.5 -1 -0.1 2.5 -1.4 5.5"/>
<path d="M551 547l-0.3 1 0.2 0 0.2 -10.6 0.3 -0.3 -0.6 0.9 0.5 -0.7 0.1 -1.1 -0.7 -5.4 1.4 -7.7 -0.4 1.7 0.9 -6.6 -1 -1.9 0.1 6.6 0.3 -11.7 -0.6 8.3 0.6 -8.5 0.2 1 0.4 -4.1 0.5 2.3 -0.2 -2.6 0.5 -2.5 -0.1 -8.6 -0.2 3.7 0.4 -7.8 0.8 2.1 1.7 -4.9 1.1 -3.7 1.3 -2.9 0.6 1 0.5 5.9 1.2 -7.9 -0.1 1 0.1 -11.8 0.6 -2.2 1 5.6 -0.3 -4.6 -0.3 -3.5 1.7 -0.8 0.6 -2.5 0.5 -1.2 -0.4 1.7 0.5 -1.4 1.4 -7.3 1.5 0 -0.4 -0.5 2.3 -4.1 0.6 0.4 1.3 4.1 0.4 -1.4 1.5 -2.6 0.8 -2.7 1.2 0 0.3 0 0.5 -7.3 1 -0.9 1.3 -6.8 -1.1 1.9 1.3 -0.7 0.5 -8.7 0.5 6.3 0.8 -8 -0.3 1 1.2 -2.1 0.8 -0.5 1 -2.9 0.1 1 -0.4 -2.7 0.4 -5.3 1.6 -2.1 0.3 5 0.2 -9.9 -0.7 0.1 0.8 -3.6 0.3 -5 -0.1 3 0.2 0.9 0.3 -10.1 0.1 -0.8 0.9 0 0.9 0 -0.7 0 1 3.6 0.8 4.4 1.7 3.8 0.3 1.2 0.4 0 0.1 -8.6 -0.4 0.3 0 0.6 0.2 3.8 -0.1 -7.8 0.1 -8.2 0.9 7.2 -0.3 -5.6 -0.2 2.2 0.7 -4.7 -0.2 -6 -0.3 5.9 -1.1 -6.3 0.9 -4.8 0.3 0 0.5 9.7 1.3 -7.4 -0.3 6.7 0.7 -1 -0.1 8 1.5 0 0.9 0 -1 -1.5 1.2 -9.9 0.5 5 -1.1 -6.2 0.3 -0.2 1.1 -8.5 -0.2 2.5 -0.5 -4.2 0.3 -3 0.9 1 -0.1 -3.1 0.7 -0.5 -0.5 -1.9 0.2 -7.3 0.2 -0.6 -0.9 1.2 0.9 -2.2 0.7 -9.5 -0.9 -0.8 0.7 3.9 -0.2 1.1 -0.3 0.3 0.1 -7.1 0.2 -5.9 0 0 1.3 6.8 -0.1 2.6 0.7 -7.3 0.3 6.3 0.9 2.6 0.9 1.4 -0.2 -7.8 0.8 7.8 -1 -13.1 1.2 9.2 -1.1 -6.4 1.4 -9.3 0.2 6.2 0.4 -0.3 -0.6 -8.5 0.6 5 -0.4 -8.7 0.2 1.1 0.2 -1.4 0.7 -0.8 -0.8 -5 0.1 -8.4 -0.4 2.2 0.2 1.6 0.5 -8.7 0.1 8.7 1.2 -2.1 0.5 -11 -0.5 2 -0.6 -10.2 1.3 6.5 0 -5.6 0.1 -4 1.5 0 0.9 0 0.5 0 -0.1 0.6 0.3 7.4 0.3 -1 1.1 7.5 -0.5 -1.4 0.8 8.9 0.5 -6 0.1 5 0.1 -1 0.8 8.9 -0.2 -7.5 -0.9 7.5 0.4 1 0 8 1.4 3.5 -0.8 1.4 1.6 0.5 0.1 -4.3 -0.5 2.4 0 -0.3 0.7 5.7 -0.3 5.8 -0.1 -1 1.3 5.4 0 8.2 -0.5 -4.9 1 8.3 -0.3 -6.2 0.9 6.1 0.4 1 0.2 2.3 -0.3 -1.3 0.4 6.7 -1.6 1.3 1.1 1 -1.2 5.5 0.9 1.9 0.5 1.7 -1.1 1.7 1 2.6 -1.1 7.6 0.3 -0.4 -0.5 -1.6 0.4 0.6 0.4 5.1 -0.1 -3 0.5 6.2 -1.3 2.9 -0.2 6 0.2 4.1 0.4 -9.5 0.8 7.3 0 6.2 -0.1 0 -0.9 -5 0.6 11.6 -1.2 -7.9 0.3 4.2 -0.1 11.4 1.5 0.8 -0.9 -1 -0.2 -1 -0.1 9.4 -0.4 2.4 0.5 -5.6 -0.5 12.6 -0.2 -10.6 0.2 11 0.3 4.7 -0.4 -6.9 -0.1 4.4 1.2 -2.6 -1 12.7 0.3 -2.2 0.5 -1.4 0.2 4 -1.2 2.7 0.9 -1.7 -0.3 12.3 -0.6 0.8 1.2 4.5 -0.2 -10.1 -0.7 8.4 0.6 2.7 0.4 6.7 0.5 3.8 0.3 0 0.5 -1 -0.3 1.3 -0.3 0.1 1.1 4.6 0 4.8 -0.2 0.3 -1 -0.6 0.9 4.7 -0.7 0.2 0 5.6 0.5 0.2 -0.8 0.2 0.4 3 0.3 2.3 0.6 3.4 -0.7 5.3 0 1.9 -0.4 2.2 1.5 -0.2 -0.6 1.9 0.2 1.3 0.4 3.9 -0.5 1.6 -0.4 2.5 0.2 3.1 -0.3 2 -0.3 -0.5 1.3 6.4 0 0.7 -1.5 3.6 0.6 -2.3 -0.2 5.6 1 4 -0.4 0.3 -0.9 -0.8 1.1 6.6 -0.6 2 0.6 2 -0.6 1 1 3.4 -1.1 2.7 -0.2 -1.4 1.2 1.5 -0.3 2.3 0.1 4.9 -1.2 2.1 1.1 -0.6 -0.6 2.3 1.1 4.1 -1.5 5.7 1.6 0.2 -0.9 -0.7 0.9 5.2 -1.2 3.2 0.5 0.4 0.3 -4.8 0.8 2 -0.2 -0.9 -0.3 -5.3 -0.4 -2.8 1.3 1.3 -0.3 -2.3 -0.6 -6.6 1.2 -3 -1 3.2 0.2 -3.8 1.5 -2.2 -1.1 -3.8 0.8 -2.9 0.2 -0.3 -0.1 -3.8 -0.1 -1.3 0.3 -1.7 0.6 -4.5 -1.1 0.5 0.7 0.3 -0.2 -7.9 0.6 -2 -0.4 2.9 0.1 -1.8 1.6 -7.9 -1.6 2.8 1.6 -4.3 -1.1 -4.4 0.7 -1.3 -0.3 1.3 0.9 -5.1 -0.8 -0.5 0.7 -3.1 0.6 -1.7 0.1 -5 0.4 -1.3 1 -3 0.9 0.2 -0.1 -2.2 1.1 0.7 0.5 0.5 0 4.8 0.6 1.4 -0.5 4.4 1.1 -1.9 0.3 5.1 -0.3 3.9 1.4 -0.5 0 4.4 0.2 4 -1 -1.2 2 5.4 -1.3 -2.6 0.3 2.3 1.7 2.9 -0.6 3.9 0.3 0.5 -0.6 5.6 1 2 0.5 3.4 -0.4 2.5 -0.8 0.6 0.5 2.1 -0.6 0.1 1.8 4.1 -0.7 -0.1 0.1 5.7 0.6 3.1 -1.4 -0.1 1.7 0.9 -1.3 2.7 0.5 3.6 -0.6 1.9 1 1.9 0 4 0.5 -2.1 -0.7 6.8 0.8 -3.1 -0.3 2.7 0.5 4.3 0.4 4.5 0.4 2.4 0.2 -0.6 -0.5 0.2 0.4 3.2 0.3 1.1 -1 6.9 0.3 1 1.2 -0.5 -0.2 2.4 -0.1 1.8 0.2 3.6 1.9 2.1 -0.3 -2.1 1.6 -0.7 -0.5 -1.2 0.2 -0.9 0.1 -7.1 1.9 2.2 0 -0.8 0.3 -7.1 -0.6 -0.4 -0.3 -3.7 1.3 0 0.2 0.2 -0.1 -3.5 -0.6 -5.3 1 -0.3 1 -3.9 -0.9 -1.7 0.8 -0.8 -0.6 -2.6 1.1 1.3 -0.1 -7.3 0 -2.3 0.7 -0.8 -0.3 0.5 1.7 -4.6 -1.1 -3.1 0.5 2.5 0.4 -5.8 0.3 -1.4 0.8 -3.9 -1.2 0.2 1.4 -2.8 0.8 -1.7 -1.5 -4.3 1.3 1.5 -0.7 -2 0.7 -4.9 -0.4 -1.3 0.4 -5.3 0.9 -0.5 0.1 -1.9 -0.2 -0.4 0.5 -1.8 -1.1 -1.6 0.3 -3.8 -0.2 -0.6 1.7 -3.3 -1.6 -6.5 0.7 -0.3 -0.5 -1.9 1.4 -4 -0.6 0.1 1 -2.5 1.9 -2.4 0.1 -0.1 0.9 1 0.2 -7.4 2 4.3 0.4 -3.9 0.7 0.9 1.1 -6.7 1.3 0.8 0.8 3 1.7 -2.7 0.1 -6.5 0.7 5.8 1.5 -4 1.1 -2.3 0.5 -5 0.1 -1.7 0.9 0.4 1.6 -2 0.4 0 1.4 5 0.1 -1 0.5 1.6 0.5 4.1 0.9 0 1.7 -1.8 0.1 -5.2 0.8 3.3 1 2.1 1.4 -3.2 0.6 -2.9 1 4.2 1 -2.2 0.4 -1 0.3 6.6 1.3 1 1.7 3 -0.4 2.6 1.7 -2.5 0.7 5.2 0.1 0.9 0 0.7 1.3 4.8 0.8 -2.2 0.1 0.3 0.3 6.2 0.4 2.4 1.1 -0.8 1.6 -1.6 0.9 3.2 -0.1 -0.8 0.6 5.4 -1 4.6 0.1 -0.9 1.1 0.9 0.5 0.9 0.2 7.3 -1.1 2.5 0.2 -5.4 1.8 5.8 -1.3 -2 1.6 5.3 -0.5 5.4 -0.5 -2.6 1 3.5 0.7 -0.3 -0.6 5.1 0.8 0 0.7 -1.1 -0.6 -8.8 0.7 1.2 0.1 -1.2 1.1 -6.6 0.2 1 -0.1 -4.2 1.3 -1.9 0.7 0.9 0.4 -1.5 0.7 -3.3 0.2 0.3 0.9 2.8 1.4 -2.3 1.6 -3.3 0.6 1.6 1.3 2 0.9 -2.5 0.4 -3.6 0.8 0.6 1.2 3.6 1.7 -2.1 0.3 1.5 2 -3.4 -0.1 1.8 2.5 4.9 0.3 -2.6 1.8 -2 -0.8 5.1 1.1 -2.4 1.1 -3.2 1.4 -0.3 0.8 -1.8 0.5 1.1 0.9 -4.1 1.4 0.8 1.2 -5.5 0.5 -3 1.4 2.4 1 -2.2 0.7 -7.7 0.4 0 0.8 0 1.3 0.4 0.5 1.6 1.4 4.5 0.9 5.8 1.7 -2.4 0.1 0.1 1.5 5.3 0.4 -1 0.9 4.9 0.4 -4.6 0.4 4.6 1.8 -0.3 0.5 7.6 1 -1 1.2 1.1 1.2 1.1 1 -4.7 0.3 4.6 1 0.3 0.7 3.5 1.4 -2.4 1 -2.4 1.3 4.2 0.3 -4.7 1.6 4.7 1.2 0.6 0.5 -0.8 1.4 -1.4 0.3 7.4 1.1 0.9 1.9 -3 1 1.2 0.6 -2.7 1.8 0.2 1.4 4.7 0 -2.5 1.6 2.1 1.7 1.3 0.9 4.3 1 -0.7 1 -1.9 0.1 3 1.7 1 -0.3 -0.7 2.3 -2 0.5 3.3 1 2.6 1.3 -1.2 1.4 3.5 0.5 -2.3 1.1 1.2 0.1 2.8 -0.8 0.4 1.7 4.9 -0.9 5.7 0.4 -5.8 -0.7 1.2 0.5 8.2 -0.6 3.2 0.8 -1 0.6 4.4 -0.6 1 -0.4 1.2 1.3 4 -0.5 -4.5 -0.1 2.7 0.1 0.7 0 9.1 0.4 -1 0.6 10.6 -1.2 -7 0.8 6 -0.2 -3.2 1.1 12.7 -1.3 -2 1.5 -1.2 -1.4 7 1.1 7.5 -0.4 -10 0.1 1.7 0.3 8.3 0.7 0 1 -3.8 -0.1 -8.1 0.2 2.6 0.9 -1.7 0.8 1 0.8 0 1.2 -5.3 1.6 -2.4 0.6 2.7 1.2 -1 -0.2 4.3 1.7 4.5 -0.1 0.2 0.9 7.4 0.8 -2.1 -0.7 2.2 0.1 -4.3 0.9 3.1 -0.3 10.7 1.2 -1 0.6 -1 0.7 9.4 2.1 0.1 0.1 0 0.7 -1.6 0.2 -5 1.7 6.2 -0.1 -7.1 0.3 1 1.9 -4.6 1.6 -2.5 0.7 11.1 0.7 -6 1.7 1.2 0.3 0.1 0.1 -2 1.2 8.7 1.8 1.4 0.5 -6.2 1 6.8 0.6 -0.6 1.1 -4.4 0.8 1 0.7 -4.7 1.7 -3.1 -0.5 2.2 1 1.1 1.3 -2.8 0.2 1.4 1.4 -6.6 0.6 13.7 1.8 -6.4 0.6 7.6 1.3 -7.6 0.4 7.7 1.3 0 -0.1 -3.5 0.5 -6 1.7 3.2 -0.2 -2.2 0.3 1 -0.4 -9.5 1.8 6.1 -0.4 -5.8 -0.6 -4.5 1.9 0.9 0.1 1.7 0.1 -7.6 -0.4 1.5 1.5 -1.8 0.2 -10 -1.3 3.1 1.1 -3.1 0.3 -2.5 1.3 5 1.2 0 0.8 -2.5 -0.2 0 1 -6.4 0.3 -1.7 0.9 -4.9 0.7 2.9 0.3 -1.9 0.3 -5.3 2 1 0.1 -8.6 2 0.8 -0.1 6.3 1.6 -9.2 0.1 1 1.8 -3.2 -0.1 -0.7 0.6 -3 2.1 -3.1 0.8 0 0.4 0.5 1 7.7 2 -6.4 0.4 2.2 0.9 -1.7 1.8 0.6 0.3 3.6 0.4 5.7 1.6 -6.2"/>
<path d="M869 559l0.3 -5.7 1.1 -5.3 -1.2 10.6 0.2 -1.5 1.4 -12.6 0.8 0.6 -1.3 -6.9 1.5 -2.2 0.2 0 0 1 0.1 1 0.5 -12.8 0.9 10.3 1.1 -4.2 -0.2 -4.9 0.6 -2.4 -0.4 -10.2 1.6 9.9 0.7 -12.1 -0.3 3.6 0.3 3.7 1.1 -8.3 0.6 1 0.8 0 -0.2 -15.5 0.6 4.8 0.5 4.7 1 -1.7 -0.5 -4.4 1.2 -5.5 1.5 -1.9 -0.7 2.9 1.8 -11.1 -0.1 -3 1.6 4.9 0.7 -4.9 0.7 -5.5 0.6 -4.7 1.4 7.4 1.9 -3.5 0.5 2.3 0.9 -2.5 1.2 -5.3 1.7 5.3 0.4 -4.9 0.9 -4.3 1 6.4 0.1 -9.3 1.4 7.4 1.4 -7.6 1 12.7 0.8 0 1.3 -6.2 0.6 0.4 1.8 4.2 0.9 -7.9 0.5 -8.5 1.6 0.6 0.6 4.6 1.1 -8.1 0.8 3.9 0.7 -5.9 1.1 -1.7 2 12.4 0.8 -5.6 0.7 1 0.8 0 1.4 -6.6 1.2 6.6 0.5 -10.6 0.9 0.6 0.4 -8.3 1.4 -2.4 1.5 -0.3 0.2 3.6 2.5 -4.2 0.4 5.6 1.7 -5.3 0.5 7.9 1.2 -2.1 -0.3 2.8 1.3 -2.4 0.9 -0.1 1.3 -5.8 0.7 -4.6 0.7 -1.3 2.4 6.3 -0.4 4.7 2.3 -5.5 -0.4 -3.3 2.1 3.4 0.6 -6.3 1.5 -0.9 -0.1 -5.2 0.7 0.1 2.2 4 1.5 -7.9 -0.5 6.5 1.7 -6 0.5 7.5 1.3 -13.6 1.7 7.5 1.3 -4.6 0.7 -2.4 -0.1 3.5 1.9 -5.7 0.7 -0.6 0.8 1 0.5 0 1.7 -9.2 0.5 3.5 2.2 -6.9 0.3 1 0.3 -5 1.2 -3 1.2 -1.1 1.1 13.4 1.9 -6.4 0.3 -3.9 1.7 0 1.1 8 -0.6 0 1.8 -1 1.5 6.2 1 -7.8 0.2 0 1 7.8 1.1 -3.1 1.6 3.1 1.1 -3.1 1 3.1 0.5 -4.2 1.5 -5 0.5 7.9 1.1 -2 1.1 -4.1 0.5 4 1.6 0 -0.3 0 1.5 6.2 1.2 1.5 0.7 3.1 -0.3 8.6 0.6 -4.9 0 1.9 0.9 2.3 0.8 -1 0.4 3.2 0.1 9.5 -0.1 1.4 0.9 0.2 0.2 -0.5 0.8 -4.9 -0.7 13.6 0.5 -1 -0.2 3.2 1.4 5 0.2 6.6 -0.5 -10.4 0.2 10.1 1.3 2.9 0.1 4.7 -0.2 -1.4 0.9 0.9 0.5 3.4 -0.6 -1 0.1 3.8 0.4 5.8 0 -3.8 0.4 -4.1 -0.2 6.3 1.6 3 0.5 7.6 -1.3 -7.1 0.7 1.5 0.7 8 0.1 -1 1.1 1.5 1.4 -1.5 -0.1 9 -0.4 -0.3 0.8 5.9 0.9 -2.1 0.1 2.9 0.6 5.1 1.5 -4.2 0 0.7 0.6 -2.2 -0.6 0 1.5 -5.8 0.8 -1.2 0.4 -5.6 1.3 -1.9 0.7 -1.3 1.2 0 0.4 8.8 0.2 2.4 -0.5 -4.8 1.5 -3.7 0 1.6 -0.6 13.5 0.3 -5.4 -0.1 4.6 1.1 4.5 0.2 -2.2 -0.5 0.6 0.6 7.1 0.7 5.3 -0.3 -2.8 0.8 9.6 0.6 -3.3 -1 5.9 1.8 -1.7 0.2 -3.7 -1.2 14.7 0.6 -8.2 0 9.8 0.4 1.4 0.8 0 -0.2 0 1.4 -9.2 -0.3 -4.2 0.3 3.8 -0.1 -7.3 0.5 5.4 0.8 3.4 0.2 -8.9 0.3 -7.9 0.1 2.2 0.7 -3 -0.2 3.3 0.8 -2.7 1.2 -3.1 0.1 -3.2 1.4 -4.7 -0.8 -5.2 0.5 6.3 1.5 -0.1 0.4 -6.9 1.3 2.2 0.8 -6.4 0.9 2.4 1.5 1.5 0.6 4.3 0.9 -6 0.8 7.6 0.5 -0.4 1.7 -0.6 -0.3 5.4 0 3.4 -0.1 -5.3 1 8.4 -0.9 -5.1 0.2 4.2 0.8 10.3 -0.8 0.2 1 1.6 -0.6 -4.7 1.1 0.2 0.5 10 -1.5 3.8 1.2 2.7 -0.3 0.5 0.3 -4.7 -0.1 5.5 0.1 -8.3 -0.3 -2.3 0.7 0.8 -0.3 -5.7 0.2 -1.8 0.9 8.9 -0.7 -6 -0.4 0.9 0.2 -2 1.4 -10.6 -1.1 2.9 0.6 -4.7 0.5 -2.2 -0.3 -0.9 -0.3 5 1 6 0.2 -8.8 -0.4 7.5 -0.1 -4.8 -0.5 3.4 1.3 10.9 0.4 -0.1 -0.5 -5.1 -0.3 2.9 -0.4 11.2 -0.1 4.2 1.1 1.1 0.2 -7.6 0.4 9.8 -1.3 3.6 0.3 1.3 1 -1.4 0 2.6 -0.5 6.2 -0.5 -3.5 0.3 -1.6 0.7 8.2 1 -2.8 -0.1 2.8 0.2 -3.8 -1 -4.7 -0.1 3.2 1.1 -8.5 -0.4 -4.3 1.1 3.1 -0.6 -10.4 -0.3 0.1 0.8 8.4 -0.1 -11 -0.2 4.8 0.3 -1.2 0.1 -7.7 -0.1 0 0.1 4.4 1 2.3 -1.6 2.6 0.2 -0.2 0.3 1.7 0.7 3.4 -0.5 0.8 -0.4 1.9 1.8 5.2 -0.6 3.1 0 -0.8 -0.5 6.2 -0.3 -1.9 0.6 3.9 0.9 5.2 -0.6 -0.2 1 2.2 -1.5 3.4 0.2 2.8 -0.1 -2.2 1.4 5.1 0 2.3 -0.6 3.8 0.7 -2.5 -0.4 4.5 0 -1.1 0.2 -4.3 0.7 -0.9 -0.2 0.3 -0.3 -7 -0.6 -2 0.1 -2.5 1.2 -0.5 -0.3 1.1 -0.2 -4.9 -0.6 -3.6 -0.1 -2.6 1.2 -1 -0.4 -2.7 0.5 0.8 -0.6 -6.1 -0.4 -0.2 0.3 -1.8 0.1 -0.1 0.5 -5.4 0.1 -0.8 0.9 -4.7 -0.6 0 -0.4 3.1 0.9 0.9 0.4 0.9 -1.1 2.5 0.3 5.9 1 -2.4 -0.4 7.2 -0.9 0.9 0.2 -0.8 0.9 5.5 -0.3 -1.9 -0.2 3.6 0.1 3.7 0.7 -0.1 -0.7 6.5 -0.1 -2.8 1 3.9 0.2 3.4 0.7 4.3 -0.4 -2.3 0.3 6.2 -1.2 3.2 0.2 -1.7 0 5.1 1.5 -1.7 -0.9 3.5 0.2 3.4 0.2 -5 0 -1.6 -0.2 -1.8 0.4 -1.8 0.7 -1.6 -0.6 -1.4 0.6 -4.5 0.4 -1.8 -1 -3.3 -0.2 -2.1 -0.3 -0.4 0.8 -4.5 0.1 -1.8 -0.7 -1.3 1.2 -3.2 -0.8 1.6 -0.1 -1.8 1.4 -7 -1 1.7 0.1 -1.4 0.5 -4 0.7 4.2 -0.5 1.2 0.3 0.2 0.6 5.4 -0.3 -2.1 -0.9 2.8 0.1 5 -0.1 1.9 1.2 -0.6 -0.4 4 0.8 0.4 -0.2 6 -0.9 2.6 0 1 0.2 -1 1.6 4 -0.8 2.9 0.9 0.6 -0.4 5.7 -0.8 -3 0.2 4.4 0.5 4.8 -0.6 0.6 0.8 2 0 -3.4 -0.7 0 1.3 -4.5 -0.7 1.5 0.5 -6.2 -0.6 -0.7 0.6 -2.1 -0.2 -0.7 0.9 -0.7 0 -6.7 0 0.9 -0.7 -1.3 0 -5.3 0.8 -3.5 0.4 -2.7 -0.1 -0.6 -0.3 1.7 0.7 -2.9 -0.5 -2.2 0.5 -4.2 -0.4 -2.4 -0.4 2.7 0.7 4 0.2 1 -0.2 2.5 -0.6 -0.2 0.8 2.6 -0.9 5.8 1.8 -1.7 0 4.6 -0.9 -1 1 4 -0.5 3 -0.1 4.4 0.3 1.7 0.3 0 -0.7 2.5 0.7 2.7 -0.6 0.6 0.2 1.8 0.4 3.8 0.4 2.1 0.2 -1 -0.8 7.1 0.8 2 0.6 2.8 -1.1 2.2 0.4 0 -0.8 -0.3 0.8 -1.3 -0.4 -2.8 1.2 -1.4 -1.2 -6.8 1.1 2.2 0 -3.6 -1 -4.5 1.7 1.5 -1 -3.1 -0.6 -2.1 0.5 -6.8 1.3 0.4 -1.4 -2.8 0.3 1.2 0.5 -2 0.2 -3.9 -0.3 -3.5 0.1 0.7 -0.2 -6.5 0.1 2.6 -0.1 -5.4 0.3 1.1 0.4 -4.9 0.6 5.1 -0.2 1.8 -0.2 -1.4 -0.4 3.8 0.7 3.9 -1 3 1.6 1.4 -1 1.3 0.8 1.3 -0.2 0.3 -0.8 3.6 1.6 1.4 0 5.9 -0.3 0.1 -1.1 3.8 0.9 0.9 -0.3 1.9 0.4 -0.8 0.6 2.1 0.3 3 -1.4 6.3 1.3 0.9 -1 -1.4 1.2 3.7 -0.7 5.8 0.3 -1.6 0.3 4.4 -0.7 3.5 0.5 -1.5 -0.8 2.3 -0.1 4.6 1.8 4.4 -1.5 1.5 0.3 -1 0.6 2 -0.1 3.7 -0.6 -2.4 1.2 0.5 -0.5 -4.1 0.2 -4.3 -0.5 -1.9 -0.3 -1.1 1.5 -1.3 -1 -0.9 -0.1 -1.7 -0.2 -5.5 0.6 0.3 0.6 -3.4 -1 -4.2 -0.1 1.8 1.7 -3.4 -0.2 -4.4 -0.6 -1.8 -0.2 0.4 0.7 -5 -1 0.5 1.3 -5.1 -0.4 -1.1 -0.5 -2.2 0.3 -1.4 -0.1 -0.4 0.2 -4.5 0.3 0.2 -0.8 -8 0.6 3.2 -0.3 -3.2 1 -4.2 -1.3 -4.2 0.3 2.4 0.3 -3.4 0.5 -1.1 0.1 -4.6 -0.4 -4.1 -0.5 0 1.5 0 -0.8 -4.4 -0.5 0 1 6 -1 -1.3 1.3 1.4 -1.2 5.1 1.1 2.1 -1.4 1.1 1.2 1.2 -1.1 2.3 0.9 3.6 -0.3 3.8 1.2 1.8 -0.8 2.6 -0.8 -1.6 1.1 3.5 -0.3 3.5 0.4 1.8 0.2 2.3 -0.1 1.8 -0.3 1.3 0.1 3 -0.3 5.6 0 0.3 -0.4 4.1 0.9 0.9 -0.2 2.5 -0.7 1.7 0.3 1.9 -0.1 1.5 0.6 0.3 -0.7 1.1 0.6 4.9 -0.1 2.5 0.3 4.7 -0.4 2.2 1.1 0.4 -0.2 0.1 0.2 0.3 -1.5 5.6 0.5 3.5 1.2 -2 -0.5 3.9 -0.2 1.8 -0.6 1.1 0.6 6 0.5 1.9 -0.3 1.7 -0.6 -0.8 0.5 6.6 0.2 0.9 -0.5 0.9 -0.2 4.3 1.1 -2 -0.1 5.9 0.2 -0.4 -0.5 4.8 0.6 3.5 -1 0.3 -0.3 2.9 0 3 0.6 -2.2 0.7 6.5 -0.6 2 0.1 0 0.3 0 0.6 -7.2 -0.5 -1.7 -1 -0.1 0 -2.3 1.3 0.7 0.3 -4.9 -1.2 -1.9 1.3 -2.3 -0.4 -4.5 -0.2 -3 -0.4 -2 -0.7 -2.2 1.4 0.4 0 -4.5 0.5 1.4 -0.8 -5.5 -0.1 -2.2 -0.5 -2.6 0.1 0.6 -0.2 -4.8 1.3 -1.4 -0.3 0.8 0.6 -5.8 -1.2 -0.6 -0.4 1 1 -6.9 -0.1 -1.9 -0.4 -2.6 0.6 1.9 0.7 -2.6 -0.8 -5.9 -0.5 -3.4 1.3 -1 -0.7 1 -0.5 -6.1 0.4 -1.1 -0.7 0.7 0.1 -2.6 0.5 -1.7 0.1 -3.8 1.1 -0.2 -1 -4.2 -0.1 -3 -0.5 -2.9 -0.1 1.5 1.5 -5.9 -0.7 0.5 1 -2.6 -0.4 -5.5 -0.9 2.1 -0.1 -4.9 1.4 -3.7 -1.6 -0.2 0.7 -3.8 -0.1 -1.5 0.6 -2.2 0.6 1 -0.1 -4.1 -0.7 -3.1 -0.3 0.3 0.3 -4.3 0 -1.4 0.3 -1.5 -0.2 -3.8 0.5 3.9 -1.2 -0.1 1.5 2.1 0 4.3 -0.6 1.8 0.1 2.3 -0.8 3.1 1.5 0.8 -0.9 1 1 3.5 -1.3 4.4 1.2 0.6 -1.2 2.2 1.2 1.1 -0.4 3.5 0.2 1.8 0.4 3.8 0 -2.7 -0.1 2.1 -0.6 5 -0.2 2.4 0.4 -0.6 -0.5 1.9 1.2 2 -1.5 2.8 0.1 7.3 0.7 1.2 -0.2 1.9 -0.2 3 0.1 -1.7 0.9 2.1 -1.1 2.8 0.3 5.4 -0.4 2.8 1 1.6 -0.5 -0.2 0.7 4.1 -0.9 -2.2 -0.1 6.9 0.5 -0.5 0 2.2 -0.2 2.6 0.9 2.1 -0.8 2.5 -0.3 -0.1 1.3 6 0.1 1.9 0.2 1.1 -1.2 1.7 0 4.7 0.3 -0.1 -0.4 0.8 0.6 6.8 -0.6 1.9 0 -2.8 1.5 4.9 -0.2 0.1 -0.7 4.7 -0.2 1.8 0.6 1.9 -0.5 0.9 0.7 1 0.1 4.7 -0.4 2.2 0.4 3.4 -0.7 3.6 -0.2 0 0.4 4.2 -0.4 2.3 1.5 -2.1 -0.9 5.5 0.3 1.1 0.8 -3.1 -0.3 -3.9 -0.8 0.9 1 -4.3 0.1 -0.8 -0.7 -3.8 -0.4 2.3 -0.3 -3.1 0.5 -2.8 0.1 -4.7 0.8 -3.5 -1 0.6 -0.2 -1.3 1.3 -1.5 -1.2 -2.9 1.2 -5.7 -1 1.7 0.6 -3.5 0.1 -4.2 -0.1 -0.2 -0.6 -4.5 0.9 -0.3 -1.2 -2.7 0.7 -2.6 0.3 -3.3 -0.1 -0.2 -0.4 -2.8 0.4 1.5 0.2 -5 -0.1 -0.4 -0.6 -2.5 0.7 -1.3 0 -3.5 -0.4 -5.1 0.1 -1.9 0.4 0.5 -0.4 -3.3 1.1 -4.9 -1.4 -1.9 1.6 -0.2 -1.2 0.8 0.7 -7.6 0 2.9 -0.9 -3.3 1.1 -1.5 -0.8 -5.1 0.2 1.8 0.1 -7.3 0 -2.8 0.1 0.1 -0.2 -1.1 1 -3.2 -0.9 -1.3 -0.2 -1.7 -0.3 -4.5 0.4 1.7 0.5 -7 -0.2 0.2 0.1 -1.5 0.8 -3.3 -0.1 -2.6 -1.1 0.7 1.4 -3 -1.6 -5 0.5 1.9 0.7 -4.3 -0.3 -2.8 -0.5 2.9 0.6 2.2 0.1 2 -0.9 4.4 0.1 -1.3 1.1 0.6 -0.9 3.9 0.3 0.5 1.1 7.5 -1.5 -1.4 0.4 3.8 0 0.8 -0.5 3.7 0.9 3.3 0.6 3.1 -0.4 -0.3 -1 1.1 1.6 4.3 -0.1 0.5 0.2 0.4 -1 6.4 0.6 2.8 0.5 2.2 -1.3 -1 -0.1 2.1 -0.1 5.1 1.6 1.3 -1.6 -1.4 0.5 4.8 0.8 4.4 0 0.9 -0.1 2.7 -0.3 1.5 -0.4 -0.2 0.9 4.9 -0.7 3.7 0.1 0.6 -0.3 -0.8 0.9 3.7 -0.8 2.8 1.3 1.4 -0.8 3.8 0.8 1.3 -1.4 -0.7 0.8 5.6 0.7 0.6 -1.2 3.1 0.4 1.8 -0.9 5.1 0.2 -2.2 0.4 3.1 0.2 5.9 0.3 -1.5 0.6 2.8 -0.5 0.8 0.1 3.8 -0.2 4.2 0.9 0.5 -0.9 4.4 0.7 -0.1 0 5 -0.3 0.6 -0.1 2.9 0.7 -2.2 -0.3 6.7 -0.5 -1.6 -0.1 6.9 0.5 0.6 0.5 2.8 -1.1 -2.2 0.7 2.9 -0.4 4.4 0.1 -3.4 0.4 -2.5 -0.1 1.5 -0.8 -6.8 0.6 1.8 0.2 -6.4 0 -2.5 -0.1 1.5 -0.7 -5.2 -0.1 -0.1 0.4 -3 0.1 -4 -0.2 0.1 0 0.3 0.6 -1.6 -0.5 -3.5 1.4 -5.8 -1.5 -2.9 1.4 1.4 -1.1 -2.7 0.5 -1.2 -0.9 -5.1 1 1.8 0.2 -4.5 0.6 -1.5 -1.6 -2.1 0.2 -3.7 -0.1 0.5 0.6 -5.1 0.4 -3.2 -0.6 -2.8 0.3 2 -0.7 -5.9 0.5 -3.1 0 -1.8 -0.3 2.7 0.4 -5.9 0.9 1.3 -0.1 -6.7 -0.4 1.8 0.7 -6.5 -1 -1.2 -0.3 -0.7 0.3 -3.4 -0.2 -3.7 0.6 3.1 0.6 -3.5 -1.1 -5.3 0.7 -1 -0.5 -3.1 0.6 1 -0.7 -3.9 0.9 0.3 0.6 -2.5 -1.2 -3.2 -0.3 -6.4 0.3 -1.4 0.3 1.6 -0.3 -6.6 1.4 0.7 -1.6 -4.7 1.5 -0.1 -0.8 -0.3 0.6 -3.3 0.4 -4.8 -1.1 2.1 1.1 -3.8 -1 -0.6 -0.3 -5.8 0.6 1.4 0.1 -6.9 -0.2 0.4 0.4 -3 -0.1 -1.6 0 -1.8 0.3 -4 -0.6 1.7 0.2 -7.2 0.2 -1 0.3 -0.4 -0.3 -4.1 0.7 -0.2 0.4 -3.5 0 -3.2 -0.4 -2.2 0.7 -3.7 -0.4 2.8 1.3 -6.3 -0.1 1 0 -2 0.7 -6.5 0.1 2.4 0.2 -3 -0.8 -3.8 0.9 0 0 3.6 0.1 2.8 0.3 0.6 -1.2 2.8 0.4 1.8 0.4 2.9 0.7 1.3 0.4 3.5 -0.3 4.1 0.4 1.6 0.4 4.1 0.2 -1.3 -0.1 5.7 -0.8 -2.6 0.5 5.8 0.8 -0.6 -0.8 3 0.3 2.5 1.2 2.4 -0.5 0.9 0.4 4.1 0.7 4.5 -1 0.7 0.8 2.4 0.7 -0.2 -0.7 6.7 0.3 -0.1 -0.1 2.2 0.2 3.8 -0.6 -1 0.2 4.7 0.9 4.2 0.3 1 0.2 2.4 0.2 2 -1.1 2.7 0.8 1.6 0 2.9 0.7 -0.6 0.1 1.1 -0.4 4.8 0.6 -0.3 -0.2 1.3 -0.4 7.2 -0.2 -0.6 0.8 2.6 -0.6 2.7 0.2 2.7 0.7 1.7 0.5 1.4 0.6 2.8 -0.8 3.2 -0.4 3.5 1.5 2.3 -0.4 -2.9 -0.8 7.3 1.3 0.2 -0.5 3.5 0.5 2.9 -0.4 0.4 -0.1 3.7 0.9 -1 -0.8 1.1 0.9 3.9 -0.2 1.6 0 4.9 0.3 1.1 0.4 4.5 -0.5 -1.6 0.9 5.5 0.3 -1.3 -0.3 6.2 0.5 -2.9 0.3 4.1 -0.5 2.2 0.1 0.7 -0.1 3 0.3 3.7 0.9 1.9 0.1 1.7 -0.2 3.7 -0.1 1.6 0.3 1.1 -0.5 1.1 1.3 6.9 -0.8 -2.8 1.1 5.5 -0.2 3.9 -0.8 2.1 1 1.1 0.3 1.8 0.8 4.6 -1.3 -0.3 -0.1 5 1.4 0.1 -0.4 2.3 0.3 1.6 -0.5 -2.8 0.2 -3 0.7 -1.7 -0.8 -1.2 0.5 -3.6 1.1 -0.3 -1 -3.3 -0.2 -3.9 1.2 -2.3 -0.3 -2.4 0 2.8 0.3 -1.9 -0.2 -6.9 0 0.2 -0.5 -0.8 0.9 -4.3 -0.2 -1.4 0.5 -0.6 -0.8 -0.8 0.2 -4.3 0.4 -2.2 0.7 -3.4 -0.6 1 1.2 -3.8 -0.7 -3.1 0.8 -3.2 -0.8 -0.8 0.7 -1.4 -1.1 -3.1 -0.1 0.2 0.1 -2.5 0.7 -5.1 -0.8 1.1 1.5 -5.9 -0.9 -3.5 0.7 1.2 0.1 -4.4 0.5 0.8 -0.6 -7.2 -1.1 -2.2 0.8 -2 0.1 2.9 -0.7 -2.9 0.7 -4 -0.1 -3.1 1 -3.1 -1.2 1.2 0.7 -7.1 -0.6 1.4 0.6 -0.4 -0.3 -6 1.3 -3.2 -0.9 -1.5 -0.4 1.1 -0.2 -4 0.1 0.3 0 -5.7 1.4 -2.8 -0.9 -3.2 0.8 3.2 -0.4 -5.1 0.7 -4.6 0.3 -2.2 -0.2 -0.9 -0.8 -3.1 -0.1 -0.7 1.6 -0.8 -1.2 0.2 0.3 -5.8 0.6 -3.7 0.1 -0.7 -0.9 -3.4 1.2 -2.4 -0.3 -1.9 0.2 0 0 2.5 0.9 4.2 -0.5 1.1 0.4 1.5 0.5 3.6 0.2 2.7 0.5 0.4 0.3 -4.9 -0.1 0.3 0.7 -2 0.5 -2.3 0.3 0.1 -0.8 -5.2 0.2 0.9 0.6 -6.5 0.3 0 1.4 -0.9 0.6 1 0.6 -0.5 0.5 3.7 -1.1 -0.6 1.3 5.6 -1.1 -1.9 1.4 5.3 -0.9 1 -0.1 1.4 0.4 3.6 0.1 2.6 1.1 1.7 -1 2.7 1 1.7 -0.5 0.2 -0.1 4.2 0 1.7 0.8 1.2 -0.4 1.3 -0.6 4.3 1.4 -0.8 -0.3 5.1 0.6 -0.5 -1.1 6.9 1.6 1.6 -0.9 -2.2 -0.4 5 1.3 2.5 -0.4 1.4 0.1 5.6 0.3 -3.4 -0.9 7.6 -0.1 1.3 0.9 2.5 -0.1 -1.2 1 5.2 -1.2 0.5 0.3 5.2 0.5 -2.8 -0.1 4.4 -0.3 4.7 0.6 -2.3 -0.8 3.6 1 1.6 0.6 5.2 -0.2 1.8 -0.1 0.6 -0.3 2.2 0.9 5 -1.4 -1.5 -0.2 1.1 0.8 1.3 0.1 5.4 -0.3 3 -0.3 1.7 0.6 3.4 -0.6 2.7 0.3 0.6 0.2 4.3 0 0.3 0 2.9 -0.2 -0.4 1 5.2 -0.4 -1.5 -0.1 6.2 -0.7 1.7 0.8 -0.6 -0.5 0.4 0.7 2.7 -1 2.1 1.4 6.2 -1.3 0.8 1.6 1.6 -1.6 0.2 0.6 3.2 -0.1 6 1 -0.9 -0.2 0.2 -0.7 7.6 -0.4 -1.7 1.5 4.7 0 0.2 -0.2 3.5 -0.2 -0.6 -0.9 4.8 1.2 2.4 -0.1 1.8 -0.4 3.7 0.5 0.3 -1.2 4.9 0.4 2.5 0.4 1.9 -0.1 0.5 -0.6 -0.8 0.4 3.6 -0.1 0 0.6 4.7 0.5 3.2 -1.2 0.2 -0.1 6.1 0.8 -2.4 -0.3 3.6 -0.4 -0.1 0.9 5.1 0.7 0 -0.4 -6.2 0.7 -3.1 -1.4 2.1 1.1 -3.8 -0.2 -5 -0.7 0.7 -0.1 -4.2 1.4 -2.6 -0.1 3.2 0.2 -2.9 -0.9 -4.4 0.2 -1.6 -0.2 -1.9 1.4 -1 0.3 -1.4 0.1 -5.1 -0.8 -3.8 0.7 -1.3 -0.7 -1.9 -0.5 -3.6 1.7 2.5 -0.8 -4.7 0.9 -4.3 -1.3 1.2 1.5 -1.8 -1.1 -1.7 0.5 -3 1 -2.7 -0.4 -3.1 0.7 -3.5 -0.2 -1.2 -0.3 -1.6 -0.6 -0.2 1.3 -7.2 -0.4 1.9 0.6 -4.8 0.7 -2.8 0 1.5 -0.9 -3 0.5 -3.7 0.2 -4 0.8 -1 0.8 -1.8 0.4 0.2 1.1 -4.4 0.4 0.4 -0.3 5.3 -0.4 2.7 0.7 -1.1 -0.2 5 0.1 3.5 0.3 1.4 0 2 -0.5 1.3 0.4 1.3 0.2 2.3 0.9 0.6 -1.5 3.2 1.6 3.9 0 2.6 -1.3 -2.5 0.5 6.6 1.1 3.4 -1.3 -2.1 0.2 4.8 1.1 3.6 -1.1 -0.2 1.1 2.4 -0.2 2.6 0.9 1.9 -1.3 4.6 1.1 -3.2 -0.2 4.3 0.6 0.9 -0.6 5.6 0 0.4 0.4 -4 -0.8 -1.9 0.1 0.7 1.7 -4.7 -1.4 -0.9 0.5 -0.7 -0.4 -6.3 1.1 -1.6 -0.3 1.6 0.1 -5.9 0.8 0.7 0.4 -1 -0.9 -5.2 0.5 -2.3 0.2 -3 0.5 -0.4 -0.1 -1.6 0 -2.3 -0.1 -2.5 0 -2.7 -0.2 0.1 0.8 -4.2 0.7 -4.4 0.4 0.1 -0.7 -3.2 0.2 1.4 0.1 -3.2 -0.3 -1.2 0.8 -2.4 -1.1 -2.5 0.9 -1.6 -0.6 -5.7 0.6 -1.8 0.2 -4.4 0.3 0.5 0.1 0.6 1 -4.3 -0.6 -4.8 0.5 1.2 -0.5 -3.1 0.7 -2.2 0.8 -5.7 -0.7 3.4 -0.2 -4.1 0.9 -3.3 0.7 0 -0.1 6.5 0.1 1.5 0.2 2.5 -0.9 -0.3 0.2 4.8 0.1 -1.4 -0.4 3.3 0.9 0.5 0 3.2 -0.4 4.3 -0.4 0.4 0.1 1.8 1.6 4.6 -0.6 1.8 -0.5 4.6 1 -0.8 -0.3 1.3 0.3 1.5 -0.1 5.8 -0.2 3 0.3 0.3 -0.1 -0.6 0.5 3.6 0 3.4 -1 0.4 1.7 1.1 -0.7 5.2 -0.5 3.9 -0.2 3 1.3 1.8 0.6 -1.8 -0.1 3 0 3 -1 1.9 0.6 2.1 -0.1 0.5 0.2 3.8 -0.6 5.5 0.1 -0.4 0.8 0.2 0.1 4.1 -0.4 2.8 0.9 1.8 -0.8 4.5 0.7 2.5 -1.1 1.8 1.1 0 0.7 -1 -1.4 3.5 1.1 1 -0.2 3 0.7 5.1 -0.9 0.7 1 4.3 -0.7 -0.2 -0.6 1.7 0 3.5 1.4 2.6 -0.8 1.4 0.3 1 1.1 3.6 -0.1 1.7 -0.6 2.7 0.5 2.5 -0.4 1.9 0.9 -1.4 -0.4 -2.9 0.2 -3.1 -0.1 -2.2 -0.2 -1.8 -0.3 0.5 0.2 -6 0.6 2.5 -0.4 -7.3 0.4 0.1 1.2 -2.9 -0.2 -4.2 -0.7 2.8 0.6 -4 -0.1 -4.3 0.8 0.5 -0.4 -0.6 -0.5 -2.8 0.7 -5.9 0 0 0 -2.4 -0.5 -4 1.3 2.1 -0.1 -5.7 0.2 1.1 0.3 -3.1 -0.9 -6.1 0 -1.1 1.6 0.7 -0.8 -3.2 -0.2 -3.8 0.8 0.1 -0.2 -2.3 -0.7 -5.2 1.6 -3.3 0.2 0.1 -1.2 -3.4 0.3 -1.1 -0.5 -2.6 1.7 0.5 -1.1 -4.2 1.4 -1.9 -0.7 -2.2 0.9 4.6 -0.9 -0.9 0.7 3.7 0.7 2 -0.7 1 0.3 3.6 0 2.8 0.3 0.3 0.2 4.4 0.4 -1.5 0.7 2.7 -0.6 3.3 0.4 0.7 0.2 3.7 0.7 3.1 -0.5 -0.8 1.8 5.4 -0.5 0.9 -0.1 -3.6 -0.5 1.8 0.3 -4.5 0.7 -4 -0.3 1.2 0.6 -2.1 -1.4 -1.6 1.4 -5.8 -0.9 1.1 0.4 -6.7 0.1 1.2 0.7 -1.4 0.2 -5.1 -0.3 -2.5 -0.3 -2.6 0.4 -1.2 -0.1 -1 -0.6 -5 0.8 -0.9 -0.5 -2.1 0.2 1.1 0.3 -4.6 0.4 -2.2 0 -2.1 -0.7 -2.1 -0.9 -1.9 0.2 -5.6 0.9 3.2 -0.2 -3.4 0.3 -2.3 -0.2 -3.3 0.3 -3.1 -0.3 -4.2 -0.2 0.6 0.4 -4.4 0.3 -2.7 -0.2 2.5 -0.7 -3.3 0.7 -4.7 -0.6 -1.1 0 -0.7 0.4 -5.5 -0.2 1.7 1.6 -3.7 -1 -1.1 0 -2.9 0.5 -1.2 0.5 -5.1 0 1.7 0.1 -6 0.1 -1.3 -0.9 -0.3 0.8 -3.2 -0.6 -4.3 1 1.8 -1.2 -2.5 0.5 -4.5 1.9 -0.1 0.3 -4.4 0 -3.7 2 -1.1 0.7 -1 1.3 -0.6 0 -4.6 -0.6 -3.8 0.8 -0.2 1.2 -5.6 -0.7 -2 -0.7 2.7 0.4 -2.6 1.5 -1.9 -1.2 -5.4 0 -3.5 0.5 0.4 0.7 -3.8 0.6 0.6 -1.1 -5.9 1.7 -1 0.2 1 -0.4 -5.7 -0.5 -0.9 0.2 -1.9 0.5 -4.9 -0.5 0.2 0.9 -2.8 0.7 0 -0.6 -3.3 0.1 -7 0.6 -1.1 -0.2 3.1 0.6 -0.5 0.4 -4.8 -0.4 -1.3 1.1 -5 -1 -1.5 0.8 -0.3 0.3 -3.2 -0.1 -3.7 -0.2 -2.1 0.4 -1.3 0.5 -0.7 -0.1 -5.4 -1 -0.8 0.1 0.2 0.1 -6.6 0.6 2.9 0.1 -1.8 0.5 -5.7 -1 -2 0.4 -5 -0.5 -1.2 1.6 -1.8 -0.7 -3.6 0.2 -3.1 0.5 2.4 -0.9 -2.5 0.2 -1.3 -0.3 -0.3 0.9 -8.3 0.3 3.5 -0.7 -6.1 0.8 -3.5 -0.1 -1.5 -0.7 -1.4 0.3 -0.5 -0.1 -3.9 -0.7 -5.7 0.3 2.8 1.5 -4.3 -1.2 -0.1 0.5 -4.6 -0.2 -2.6 1 -1 -1.1 -0.8 1 -0.3 -0.1 -1.5 -0.8 -7.5 0.7 -1.2 -0.7 -1.5 0.1 -0.3 1.1 -4.5 -0.6 1.1 0.5 -2.4 -0.3 -2.6 0.7 -3.2 -0.3 -6.8 1.2 4.7 -1.3 -4.4 0.7 -3.3 -0.2 -5.9 0.6 0.9 0.7 -0.4 -1.1 -2.7 0.5 -6.7 0.8 2.6 0.7 -1.8 -0.1 -0.4 -1.2 -5.3 0.5 -3.4 0.1 -4.5 1.1 -0.7 0.5 0.7 -0.6 -2.8 0.9 -3.6 0.5 -1.8 -0.7 -1.2 0.6 0.8 -0.7 5.1 0.7 1.3 -1.1 0.1 1.8 2.7 -1.3 0.1 0.4 8.5 -0.3 -4.2 1.4 6 -0.3 1 0.5 -0.2 -0.9 8.7 0.8 -2.1 -0.7 6.1 0.1 -0.6 -0.4 -1.6 0.9 5.3 -0.7 4.8 1.7 -1.5 -0.2 0.3 -1.2 5.7 1.3 4.9 0.1 -4.8 0.2 6.3 0.1 2.2 -1.3 0.1 1.6 5.6 -0.7 3.7 0.7 -3 0.1 0.2 -0.1 9.9 0 -0.3 -1 4 0.4 -0.6 0.7 0.5 0 5.8 -1 -4.3 1.3 4.2 -0.4 5.3 -0.1 1 -0.5 1.4 0.6 1.1 0.9 3.2 -0.5 2.7 -0.8 3.6 1.6 4.3 -0.4 2.8 0.7 0.4 -1.4 3.1 0.7 2.3 0.5 -4.2 0.8 2.2 -0.7 6.1 0.2 -0.9 0.1 -0.2 0 -3.4 1.2 -0.5 -0.6 -4.9 -0.6 -2.2 0.2 -5.2 1.5 2.5 -0.7 -6.4 0.6 2.9 0 -10 0.8 3.2 -0.2 -3.9 0 0.1 1.6 -3.1 0.2 -0.3 -0.4 -3.6 -0.5 -4 1.4 -3.8 0.2 -1.3 -0.5 1.6 1 2.5 -0.6 1.3 0.4 5.5 0.9 -3.2 -0.5 1.9 0.9 4.5 -0.9 5.2 -0.1 1.3 1.5 2.8 -0.9 -3.5 0.3 6.1 1.7 1.2 0.3 -0.5 0.5 -5.6 -0.6 3.2 0.4 -6.8 1 0.4 0.1 -4.4 0.6 1.3 0.1 -0.5 -0.1 -3.5 0.9 0.3 0.1 -5.1 0.3 -2.5 -0.1 0.7 0.9 -7.4 -0.7 -1 1.6 3.2 -0.9 -5.2 1.3 -6.8 -0.5 3.5 1.1 -5.7 0.5 -1.5 -0.5 -1.3 -0.3 -1.5 1.2 -2.7 -0.4 -5.6 1.6 -0.3 0.8 -1 0 -5.9 0.1 1 -0.7 0.3 1.5 -6.2 -0.7 -3.3 0 -1.3 0.1 3.2 0.4 -8.9 -1 2.3 0 -2 1.4 -7.9 -1.3 4.9 0.2 -4.5 1.6 -6.4 0 -1.2 -1.4 -3.6 1.3 4.4 -0.9 -3.3 0.3 -4.8 -0.2 -2.6 -0.3 -0.4 1 -4.9 0.1 1.1 0.4 -3.7 0.4 1.4 -0.3 -4.3 -0.4 -5.1 0.3 0.4 -0.8 0.9 0.1 -2.6 -0.2 -5.9 0.9 -2 -0.3 -4.8 -0.3 2.6 0.7 -7.3 -0.2 0.1 0.6 2.2 0.8 -4.4 -1.1 -7.3 1.1 0.5 -0.5 -1.3 0.6 -1.2 0.6 -3 -0.5 -1.9 -0.8 -1 1.2 -5.3 -0.3 0.1 -0.5 -5 0.9 0.4 0.5 1.1 0.1 -7.4 0.6 1.7 -0.4 -0.7 0.6 -2.5 1.1 -1 -1.4 -6.6 1.3 -4.3 0.2 3.7 0.3 -3.5 -0.1 -3.9 0.9 0.3 1.2 1.6 0.3 4.1 0.2 5.4 -0.4 -2.5 0.5 7.4 0.9 -5.1 0.3 7.2 -0.1 2.5 -0.5 -0.3 -0.7 1.3 0.5 1.8 0.1 4 0 1.8 0.2 -0.6 0.3 7.8 1.5 -3.3 -0.3 8.2 -1 -2.2 0.9 4.6 -0.6 -0.1 0.8 -1.2 -0.1 -1.5 0.8 -6.8 -0.1 -3.1 -0.2 2.8 -0.8 -4.3 0.4 -5.3 0.6 2.7 -1.3 -5.7 1.1 -0.4 -0.4 -2.6 -0.2 -4.7 -0.1 0.7 1.3 -6.6 0 0.6 -0.6 -2.5 -0.5 1 -0.4 -8.5 1.2 -1.9 -0.7 2.4 0.3 -7 0.7 4 -0.1 -5.1 -0.5 -5 -0.8 1 0 -2.4 0.8 -1.1 -1.3 -6.7 1.3 0.8 -0.1 1.5 -1.1 -4.4 0.1 -1.2 0.8 -3 -0.3 -3.4 0 1 0.4 -4.7 0.2 -3.9 -0.6 -0.7 0.2 -1.2 1.1 -6.3 -1 -0.2 0.8 -4.3 1.1 1.7 -1.3 -4 1.1 -4.5 0.6 -2.2 0.3 1 -0.6 -3.2 -0.5 -2.5 1.3 0.2 0.1 -5.4 0.6 -2.9 0.2 2.8 0.5 -3.4 -0.5 -3.8 -0.3 -0.8 1.1 -2.8 -0.1 -5.4 0.6 1.7 -0.4 -0.4 1.3 -2.1 -1 -7.9 1.1 0.9 -0.5 0.1 0.8 -1.6 0 -2.5 1.1 -1.2 -0.5 -8.8 0.7 1.9 0 -2.1 0.8 -4.8 -0.8 2.2 0.9 -7.1 0.5 0.9 0.2 -0.3 -0.8 -5.8 0.9 -2.6 0.2 -3 0.5 -3 -0.4 1.7 0.5 -4.8 -0.3 -4.2 0.4 -0.6 0.6 -2.1 -0.5 -1.5 1.5 -5.6 -0.9 1.1 0.2 -3.5 1.1 -2.6 -0.3 -3.9 0 -1.9 -0.8 1.5 0.1 -0.7 0.2 -2.1 -0.1 -5.7 1.7 -2.5 -0.3 -0.8 0.5 -4.5 -1.1 -0.7 1.3 -4 -0.1 -1.3 -0.7 1.8 0.3 -5.1 0.1 -2.8 -0.2 -4.1 0.1 3.1 1.9 -6.5 -0.5 0.1 -0.2 -5 0.6 2.9 0 -4.3 0.6 -2.4 0.5 1.7 0.1 5 -0.1 -0.1 -0.3 3.8 0.4 0.7 -0.5 3.5 1.2 0.6 0.4 3.2 -0.8 -0.3 -0.4 5.3 0.8 1.5 0.8 2.5 0.1 2.6 -0.7 1 0.1 0.9 -0.8 0.7 1.6 2.2 -1.2 7 0.8 1.6 -0.1 -1.1 -0.1 6.3 -0.6 1.9 1.5 -1.4 -1 4.9 0.5 -0.1 0.1 5.1 -0.8 -0.5 0.2 3 1.5 4 -0.4 1 -0.2 1.5 -0.4 -4.6 1 1.3 -0.8 -5.5 0.7 0.7 -0.6 -2.5 0.9 -2.4 -1.3 -2.4 1.6 -1.9 -1.3 -0.5 1 -3.1 -0.2 -0.3 -1 -4.3 1.2 -3.9 -0.9 -2 1.4 0.6 -0.5 -2.9 -0.2 -3.6 0.3 -4.9 -0.4 1.6 0.9 -5.8 0 1 -0.9 -4.2 0.4 -3.2 -0.4 0.3 -0.2 -3.4 0.6 -1.1 0.5 0 -0.4 -3.1 -0.1 -4.7 0.6 0.2 -1.5 -6.5 0.5 3.5 1 -5.6 -1.1 0.2 -0.3 -3.9 0.5 -3.2 -0.5 -0.2 0.7 -2.6 -0.5 -3 1.4 -2.2 -1.3 -2.4 0 -2.7 0.3 -1.2 -0.7 0.1 0.7 -4.6 -0.3 -4.8 0.3 2.4 0.1 -3.2 0.9 -3.6 -0.4 -4.9 -0.1 -0.3 -0.3 -1.9 1.4 -2.5 0.6 0.6 0.9 2.1 1.3 3.3 0.7 -3 0.9 2.7 0 3.2 1.7 1.8 0.8 3.6 -0.4 -1.7 0.6 2.8 -0.3 4.4 -0.4 2.1 -0.6 3.2 1.8 0.4 -0.8 1.2 0.5 5.4 0.6 -0.6 -1.2 2.7 0.8 3.5 -0.4 2 0.4 -1.2 -0.8 4.1 1.2 4 0.2 -1.7 0.3 5.7 -1 -0.7 0.4 5 0.6 2.9 -1.1 1.9 0.8 1 0.9 2.1 -1.6 3.8 0.3 -2.2 1.3 4.3 0.2 3.5 -1.4 1.3 0.3 3.8 -0.1 1.4 0.5 -1.4 0.9 4.5 -0.2 2.4 0 3.4 -0.7 -0.8 1.3 6.9 -0.4 0.1 0.5 -0.7 -0.6 6.8 0.6 -3.1 -0.1 3.4 -0.1 2.1 -0.3 2.3 0.6 2.2 0.2 2.4 0 5.5 -0.5 0 -0.2 0 1.2 -2.8 -0.6 -4.3 0 1.4 -0.6 -4 1.2 -4 0.3 -1.2 -0.4 -0.3 0.2 -6.6 -1.3 -1 1.1 1.8 -0.8 -7.2 1.3 -0.9 -0.9 0.1 0.2 -5.6 0.3 2.1 0.8 -3.8 -0.3 0.1 -1 -5.3 1.4 -2.5 -1.1 -0.9 0.1 -3.7 0.9 -3 -1.2 1.2 0.8 -3.6 0.2 -5.1 -0.7 -1.1 0.1 2.1 1 -3.1 0 -5.3 -0.3 -2.1 -0.4 -2.9 0.9 1.7 0.9 -5.3 0 0.3 -1.1 -0.8 0.7 -7.6 0.2 -1.7 0.4 0.9 -1 -1.5 0.5 -6.6 0.3 0.1 -0.1 -3.1 0.1 -2.9 0.1 0 0.3 -1.9 0.2 -3.9 0 -1.3 -0.4 -3.4 0.1 -1.3 1.2 -1.8 -0.4 -0.4 -0.3 -4.8 0.3 -3.5 0.6 1.6 0.1 -1.4 0.3 -3.9 0 2.3 1.4 0.2 1.3 -3.7 0.8 1.1 0.2 1.1 0.3 4.1 1.7 1.3 0.5 1.6 -0.8 4.1 0 -1.2 0.5 1.3 0.7 4.5 -0.3 -0.4 0.3 7.2 0.1 2.5 -0.2 -2.8 -0.6 5.7 0.2 3.5 -0.3 0.7 1 0 0.3 3.7 -1.3 -0.6 0.3 5.1 0 3.1 -0.1 2.3 0.5 3.1 0.2 -3.3 -0.6 7.6 0.7 -3.6 -0.6 5.1 0 0 1 -5.1 0.2 -1.5 -0.4 -3.4 -0.7 1.5 0.6 -2.4 0.1 -6.3 0.6 3 0.7 -4.4 -0.4 -3.1 0.9 -2.2 -0.6 -1.7 0.6 0.5 0.5 -2.9 0.9 -5.1 -0.3 -3.3 0.9 1.5 -0.3 -3.7 1.7 3.3 1.1 2.2 -0.1 1.2 1.5 0.9 0.1 3.2 0.6 2.1 0.5 3.9 0.1 1.1 0.3 2.2 0 3.5 0.4 -0.1 -0.2 2.5 -0.3 0.1 0.3 4.7 0.5 2 -0.1 2.2 -1.1 2 0.6 0.4 0.6 3.9 -0.4 1.6 -0.2 1.5 0.1 6.7 -1.3 -1.1 1.2 3.8 -0.1 2.7 -0.5 -2.1 -0.7 7.6 0.4 0.2 0 1.8"/>
<path d="M1248.5 80l0.9 -0.5 -1.3 4.1 1.8 2.5 -0.6 4.6 0.5 -0.2 -0.3 3.5 0.7 1.4 1.6 3.7 1 0.5 0.7 0 -0.6 -6.1 -0.3 -3 0.9 2.7 -0.3 -6.5 -0.2 -2.7 1.1 1.3 -0.4 -3.3 0.7 -0.6 -0.2 -6.1 -0.2 -0.3 -0.6 -1.9 0.8 0.5 0.5 -3.4 -0.1 -6.6 -0.1 2.2 0.1 -2.2 0.4 -2.6 -0.8 -5.9 1.2 2.7 -0.5 -6.8 -0.9 -2.3 1 -1.6 0.1 -1.2 0.4 -1.1 -1.2 -0.6 0.7 -4.2 0.2 0.9 0 -4.9 0.1 -3.3 0.6 -2.2 -0.3 -1.8 0.1 -3 -0.5 -2 0.5 2.1 0.4 -6.4 -1.2 0.8 0.6 -6.7 0.8 1.6 -0.9 -1.8 0.6 -3.3 0.8 3.1 0.9 -2.6 0.8 2.2 1.5 -2.3 0.4 0.1 1.6 1.4 1 -1.9 0.9 -0.6 0 4.4 0.1 0.3 0.2 3.5 -0.3 2.2 -1 4.7 1.5 1.7 -0.2 3.8 -1 1.6 1.4 -2.9 -0.6 6.6 -0.7 0.2 0.4 3.6 0.3 2.3 1.3 -1.2 -0.4 2.4 -0.2 4.2 -0.3 -1 1.1 4.6 -0.6 10.3 0.5 1.6 -0.3 -3.4 -0.9 -3.7 0.2 12.1 1.2 5.8 -0.6 -1.7 -0.2 0.9 0.8 -7.5 0.5 15.3 -1.4 -9.9 0.2 1.3 0.7 8 -0.4 2.7 1.2 -2.1 -0.8 1.8 -0.2 2.6 0 10.2 -0.3 -8.8 0.9 8.6 -0.1 -1 0.5 2.9 -0.6 5.2 -0.3 -3.7 1.5 2.1 0.1 8.9 0.4 3.3 0.2 7.6 -0.6 1.8 0.6 -0.9 -1.2 -3.6 0.6 -2.3 0.5 4.7 -0.1 6.5 -0.8 8.3 1.4 -0.1 -1.1 3.6 -0.2 -6.1 1.4 8.2 -0.2 7.4 -0.8 0.4 0.1 -11.3 1.3 8.1 -1.7 5.3 1.2 8.1 -0.9 -9.9 -0.1 14.7 1.5 -6 0.1 1 -0.9 5.2 -0.8 -6.9 0 13.5 0.5 -4.1 -0.3 3.3 0.8 12.3 -0.9 -1 0.6 -1 0.7 -2.1 -0.4 4.1 -0.3 0 0.7 -3.3 0 -2.6 0.5 -1.9 0.4 -2.3 -0.1 -3.1 -0.4 -11 0.3 13 -0.4 -10.6 0.2 -7.5 -0.1 4.3 0.3 4.7 0.4 -10.2 0.5 -0.5 1 1.1 0.1 -9.7 1.5 9 -0.5 2.3 0.6 6.6 1.5 -8.5 -0.2 4.1 0 7.1 0 -3.6 0.7 3.6 1.9 -6.8 0.4 -1.2 0.8 0 0.5 7 0.7 -1 0.7 6.4 -0.8 -2.9 0.4 7.9 0.4 -8.2 -0.9 10.6 -0.1 -4.6 1.1 11.1 -1.1 -9.1 0.5 10.7 -0.5 -3 -0.1 -1.4 0.2 2.3 0.2 9.9 0.6 8.7 -0.7 -3.9 1.3 -2.1 0.2 8.7 0.4 -8.6 0.3 1.6 0.1 10.3 -0.1 1.1 0.9 4.1 1 -3.8 1 3.2 0.3 0 -0.4 0 0.8 5.2 -1 11.9 0.9 -14.1 1 12.8 -0.6 1.8 -0.2 3.9 0.6 -1 0.9 -1 1.5 9.5 0.7 -1.8 0 1.8 1.2 0 -1 -11.9 0.9 9.4 0.4 -10.3 -0.3 3.1 1.3 -3.3 0.7 1 1.4 -6 0.2 0 -0.5 0.7 0.9 1.1 -0.1 12.8 0.3 -8.2 -0.5 5.4 1.1 3.7 -0.9 4.6 -0.2 -5.9 0.8 0.3 0.6 14.5 0.3 -2.5 -0.6 -6.8 0.1 0 -0.2 3.7 0.6 9.6 -0.4 9.3 0.6 -10.3 0.2 8.7 0.5 -1.5 -1.4 8.3 0.2 2.7 0.1 0.9 -0.2 -6.5 1 0.8 -0.4 12.5 0.3 3.3 0.4 -0.4 -1 -1.3 0.9 0.7 -0.3 -0.5 -0.5 10.8 0.8 -2 0.2 5.5 -0.8 -1.8 0.1 -2.2 0.6 17.4 -0.1 1 0.1 -7 -0.6 10.8 1.6 -4 0.1 -4.4 -1 5.7 0.1 7.5 0.7 -6.2 -0.1 9.6 -0.2 0.6 0.4 -8.5 -0.5 7.3 -0.4 -8.4 0.6 -7.6 1.3 10.5 -0.9 -6 0 -0.2 0.4 1.3 -0.1 -15.8 0.9 10.7 -1.4 -11.7 1.3 3.5 0 3 -0.1 -9.1 1.4 5 0.6 -5 0.1 3.3 1.1 7.5 0 3.5 0.1 -7 0.4 4.1 -0.5 3.7 1.5 6.2 -0.6 -2.6 1.1 2.4 -0.2 -0.1 0.9 11.1 -1.6 -12.1 1.2 7.7 -0.4 -1 0.8 5.2 0 3.8 -0.5 9.7 -0.5 -9.8 0.8 3.3 -0.7 6.8 1.4 3.2 -0.8 -3.5 -0.1 4.2 -0.2 -2.5 0.2 11.9 1.1 -9.7 -0.8 15.3 -0.1 -5.4 0.7 4.4 0.9 -1 0.1 8.9 0.2 -3.6 -0.5 4 0.2 5.2 0.9 4.9 -0.2 -0.1 0 0.1 -0.8 0 0.9 -2.7 -0.5 -0.7 0.2 -7.8 1.1 2.1 -0.4 4.7 0.3 -2 -0.2 -6.7 -0.9 -10.5 1.3 -5.1 -0.9 2.7 -0.1 3.6 1 1.8 -0.2 -2.5 -0.9 -8.2 0.4 -9.2 0.4 9.6 0.4 -12.3 0.5 8.5 0.2 -9.8 -0.2 -0.6 -1.2 5.2 0.2 -8.2 1.4 -6.9 -0.5 3.8 -0.5 -5.7 -0.1 3.1 0.9 -11 0.4 -1.4 -1.3 5 0.6 -1.3 0.8 -11 -0.7 1 0.3 -9.6 0.5 10.6 -1.4 -9.2 0.3 6.3 -0.3 -7.3 1.8 -0.2 -0.3 -13.1 -0.9 -2.7 0.8 3 -0.4 4.4 -0.5 -7.5 0.9 -0.8 0.2 -7 -0.8 11.3 0.7 -8.9 0 4.5 0.5 -10.1 -0.2 -5 -0.4 -2.1 0.9 -6.8 -0.8 3.6 -0.5 -3.3 0.3 1.8 1.4 -7.4 -0.7 1 0.9 -4.5 -1.4 4.8 0.4 -1.7 0.8 -15.7 0.4 14 -0.6 -6.7 0.2 -6.9 0.1 -5.9 -0.3 1.1 -0.1 7.1 0.9 -4.8 0 -12.5 0.6 -2.4 -0.5 -0.7 1 -1.2 -0.7 -4.4 -0.6 11.2 0.7 -10.2 1.6 -2.4 0 1.4 0.2 0 -0.3 8.4 0.4 -5.8 0.7 5.6 1 5 -1.2 7.2 0.1 -0.5 1.8 0.1 -0.9 -9.3 0.5 17.4 0.3 -10.4 0.2 12.7 0.7 -2.1 -0.3 2.1 0.8 0 -1.1 -4.2 1.5 -10 0.1 7.1 -0.8 -4.5 0.9 5.7 -0.6 -7.7 -0.5 -3.7 0.9 -6.1 -0.6 -0.6 0.8 0 0.6 0 1.3 0 0.1 7.1 1.1 4.4 -0.1 -1 1.1 6.7 -0.1 -7.7 -0.3 12.5 2.2 -4.4 -0.4 3.4 0.9 -1 1.5 7.4 0.1 -1 0.2 0.2 0.9 10.2 -1.5 -7.3 1.5 -3 -0.3 18.1 0.2 -4 -0.7 2.7 1.8 7.7 -0.2 0 0.1 0 -0.3 -1 -0.3 -0.1 1 6.9 -0.9 -7.8 0 4.8 1.1 10.5 -0.8 -7.9 0.5 11.8 0.6 1.7 -0.7 -5.5 0.7 4.4 -1.2 10.5 1.5 0.8 -0.8 -8.2 0.4 8.9 -0.1 -4.7 -0.6 13.4 1 0 -0.1 -1 0.3 -1 -0.5 5.2 0.4 -4.2 -0.5 10.5 0.3 7.8 -0.8 -7.2 0.9 2.7 0.9 -4.3 -0.8 2.9 0.5 9.8 0.1 -4.1 -1.4 10.1 1 4.7 -0.7 -5.1 1.3 -1.8 -1 11.6 0.3 0.6 0.7 0.4 -1.2 3.2 1.5 9.4 -0.5 -11.8 0.5 10.1 -0.8 -6.2 0.4 12 0.5 9.1 -1.1 -4.8 0.5 -5.9 1.2 9.2 -1.2 -6.4 0 1.7 1.4 4.2 -0.4 0.3 -0.6 8.4 1.2 2 -0.3 5 -0.9 3.9 0.6 -6.2 -0.7 10.7 0.9 -1 0.4 -1 -0.1 0.2 0.4 0.1 -0.9 13.1 0.9 -1.9 -0.1 5.4 0 0.4 0.6 6.6 -0.7 -0.4 -0.8 0.7 0.6 5.9 -0.4 -8.6 0.9 5.3 0 0.8 -0.5 2.7 1.2 2.1 0.1 3.9 0.1 8.2 -0.3 -9.6 -0.5 5.3 -0.1 3.3 0.8 11.6 -0.1 1.4 -0.1 -1 0 0 -0.1 9.7 1 -2.6 0 -7.7 0.5 16.2 -0.5 3.7 0 0.1 1 -12.5 -0.3 9.8 1 3.2 -0.3 4.9 0.3 -5.9 1.2 12.1 -0.2 0 -0.2 -1 -0.3 1.4 0.9 5.6 0.6 -5 -0.3 2.4 0.7 7.8 -1.1 -0.3 0 5 0.8 4.9 0.4 2.9 0.7 -2.4 0.1 -3 0.1 2.8 0.3 2.6 -0.9 4 -0.2 5.3 0.1 -3.7 1.5 9.5 -1 2.6 0.7 -1.1 0.3 6.3 0.3 2.3 0.3 -6 -1 11.4 1.3 -3.4 -0.8 3.3 0 2.8 0.8 4.7 1 -2.7 -0.6 3.5 0.1 2.1 0.2 -1.7 0.3 2.4 0.4 7.4 -0.8 -3.1 1.5 6 -0.4 5.2 0.1 3.8 -0.5 -1 1.2 5.9 -0.4 -5.7 0.1 5.7 0.9 2.4 0.1 4.3 1.2 0.2 -1.3 3.6 1.1 1.8 0.3 4.5 0.2 0.2 0.3 3.5 1.4 -3.9 0 4 0.5 3.4 0.7 4 2.1 2.4 -0.5 -0.7 2.3 0.7 0.3 0.7 1.9 0.8 -0.4 2.1 1.6 6 1.3 2.6 -0.3 -0.2 0.5 2.4 1.6 2.6 -0.6 2.2 1.5 1.7 0.7 3.7 -0.3 6.3 0.7 0.7 0.5 2.6 0.8 -1 -0.1 -1 0.9 0.5 -0.4 5.2 1.4 5.2 -0.4 5.2 1.2 -1.8 -0.3 -3 0.8 6.1 1.3 0.7 0.3 5.9 1.6 0 1.6 -3.8 0.8 -1.4 -0.1 -1.4 0.6 -1 1.9 -3.1 0.3 -1.6 1.5 5.2 2 -7.4 1 2.2 -0.2 -3.9 1.7 2.7 -0.2 -5.4 1.6 -2.3 0.8 -2.7 0.4 -2.1 -0.3 2.3 2.1 1.4 -1 -4.8 1.4 -3.9 1.1 -6.3 1.7 -0.3 0.6 1 1.5 -1.3 -0.2 -1.1 1.7 0.1 1 4.2 1.6 -4.2 0.2 4 1 -4.1 1.7 -2.8 0.9 2.9 1.2 -0.1 -0.2 7.8 1 -1.3 -0.7 1.3 0.4 -2.2 1.4 6.8 0 2.8 0.7 -1.5 2 2.1 0 2 0.5 6.1 1.1 3.1 0 1.7 0.2 2.8 -0.9 -2.9 1.6 2.5 -1 4.7 0.6 7.8 1.1 -3.6 0.4 6.6 0.7 -1.2 -0.5 2.4 0.3 4.1 1 3.7 2.1 -3.8 0.1 1.4 1.2 3.2 0.3 -2.8 0.7 -2.6 0.7 -4.6 1.6 1 1.2 -2.6 1 -6.7 -0.8 4.3 1.6 -4.2 1.6 -1.1 0.5 -2.7 -0.1 -3.8 2.3 -1.2 0.5 1 1 2.6 0.3 -2.2 1.1 -1.2 2.3 -4.3 0.3 -0.3 1.7 2.7 -0.3 -7.1 1.5 1.8 1.6 -6.6 0 5.8 1.1 -6.4 1.6 -0.8 1 -5.4 0.5 -0.6 1.5 0 1.3 0.1 0.7 -0.1 0.1 -2.3 0.2 -3 0.3 -2 -0.3 -3 0.9 -4.3 -0.3 2.8 1.1 -4.2 1.2 -5.8 -0.9 1.7 0.8 -2.4 1.1 -0.4 -0.2 -2.3 0.1 -3.8 0.9 -1 0.6 -4.8 -0.7 -1.6 0.6 -3.8 1.7 3.2 -0.8 -5.4 -0.1 1.3 1.2 -4.9 0.2 -3.5 0.2 -5.2 0 1.2 1.8 0 -0.5 -5.4 0.6 4 -0.4 -5.6 1.1 -3.5 -0.3 -6.6 1.8 -0.2 -0.4 -2.6 0.9 -0.9 -0.1 1.1 1.1 -2.8 0.7 1 -0.7 -0.9 -0.2 -8.1 0.8 -3.7 1.1 3.2 0 -6 0.3 -2.4 0.3 -2 -0.8 -3.5 1.2 2 -0.2 -2.6 0.3 -2.7 1 -1.8 0.5 -1.4 0.3 -0.9 -1.1 -3.4 0.5 -6.2 1 2.4 0 -3 0.6 1 -0.1 -6.8 -0.4 -4.6 0.5 1 -0.2 2.2 0.2 -2.7 0.4 -5.1 0.9 -2.5 0.5 2.8 -1 -7.1 -0.3 -0.2 1.4 -6.3 0 1 1 -0.6 1.1 -3.3 0 -1.3 0.9 -3.5 1.9 -4 0.9 -3 0.2 1 0.1 -6.5 1.3 5.5 -0.2 -6.8 1.4 -1.9 -0.1 -0.3 0.9 -0.1 -0.4 -1 1.6 -6.9 -0.3 3.8 0.7 -6.1 -0.1 1 -0.2 -4.6 0.4 -5.4 1.4 -1.5 -0.3 3.4 -0.4 -2.7 1.4 -3.7 0.2 -4.2 -0.6 3 -0.1 -8.2 -0.1 3.5 0.6 -4.4 -0.2 -6.9 1 1 0.7 -2 -0.3 -3.9 1 3.5 -1 -2.6 0.9 -2.2 0.6 -2.6 -0.2 -7.6 0.7 -2.7 0.9 -3.7 -1.2 7.2 0.9 -6.4 0.7 -1.3 1.1 -1.5 0.2 -4.9 0.2 -3 -0.3 -1.4 1.1 -0.9 1.2 -6.1 -0.1 7 1.5 -3.6 1 -4.3 1.1 6.7 -0.4 -6.7 1.2 7.4 0.1 -1.2 0.4 3.8 0.1 -1 1 9.4 0.5 -3.1 0.9 3.7 -0.8 -0.7 1.6 -2.9 0 -1 -0.8 -6.5 0 0.1 0.1 -4.4 1.1 3.8 -1.4 -4.2 1.5 -7.7 0.2 1.2 -1.4 -6.2 1.3 1.1 0.3 2.7 0.2 -8.5 -1.5 -1.4 0.8 4.5 0.2 -4 0.1 -4.9 -0.7 -4.7 0.4 -0.9 0.7 0.7 0.3 0.5 0.3 -2.2 0.4 -10.6 0.5 6.2 -0.3 -3.4 -0.6 -4.8 0.6 -2 1.1 -0.6 1.3 -2 0.3 -3.8 0.6 2 0 -3.1 0.6 -6 -0.3 -3.8 0.3 2.9 0.5 -4.4 0.6 0.9 0.5 -4.3 0.9 -3.9 -0.3 0.7 2.2 -1.1 -0.8 -7.8 0.9 0.8 0.5 -2.3 0.1 0.7 1.9 -7 0.2 0.1 -0.1 -2.3 -0.5 -0.4 0.9 -4.6 0.2 -2.4 0.6 -4.9 0 1.7 0.4 -1.9 -0.7 -3.8 0 -2.8 0.5 -0.4 0 1 0.6 -9 -0.7 4.5 -0.1 -1.1 1 -3.3 0.1 -7 -0.8 2.9 0.8 -5.3 -1.1 -2 1.8 -4.4 -0.3 -3 0.4 -4 -0.2 -1.5 -1.1 2.7 1.2 -2.1 -1.3 1.4 1.1 -3.1 -0.6 -8.4 0.5 -2.1 0.2 -0.2 -0.4 -6.7 0.3 1.1 0.7 -3.7 0.7 0.8 -0.5 -8.8 0.2 -2.1 0 9 0.5 -5.7 0 -2.1 -1 0.3 1.2 -2.1 0.3 -4.1 -0.8 0 1.1 -11.2 -0.7 0 0.9 1.9 -0.9 2.6 0.9 -11 -1 -5.9 0.9 1.5 -0.7 0 0.8 -1.8 0.9 -1.6 0.4 -4 1.2 -0.4 0.5 0 1.5 4 0.2 -1 -0.6 6.9 1.2 -5.2 -0.8 12 0.9 3.2 0.8 -1.8 -0.6 -0.3 -0.4 6.7 0.7 -2.8 -0.4 10 1.2 -4.1 -0.5 -2 0.3 7.4 -0.7 1.4 0.1 -2.4 0.3 7.7 1.1 2.4 -0.9 7.1 0.9 -0.3 -0.3 5 0.8 0.2 -0.2 0.7 -0.6 4.3 1.5 -3.1 -1.2 -0.5 0.7 6.5 0.3 -1.8 1.3 1.8 -1.2 -10.3 2 0 0.4 0.4 -0.5 -2.5 0.7 -2.6 1 6.7 -0.7 -6.7 1.5 4.1 -0.8 7 0.5 3.4 0.5 -3.3 0.2 2.2 0.7 5.6 0.1 0 1.2 -1.4 -0.9 1.4 1.5 -2.4 -0.2 -0.5 -0.1 -14.3 0.7 8.2 0.6 -7.5 0.4 1.7 -0.7 -9.3 1.2 -0.9 0.1 0 0.6 5.9 -0.3 -0.6 0.8 1.8 -0.8 -1.6 -0.1 7.9 0.4 3.1 0.2 -1 0.6 -1.4 -0.7 8.8 0.9 -6.8 -0.5 11.7 0.2 -7.8 0 1.6 0.1 7.3 0.8 3.1 -0.3 -1 1.8 8.7 -0.4 -3.4 0.2 3.4 1 2.3 1 -6.8 -0.2 -3.3 -0.4 -2.1 1 -3.1 0.2 5.2 0.3 -1 -0.6 -1.1 0.5 -8.8 -0.1 1 0.7 -3.3 0 3.9 0.6 -9 -1.6 -3.3 0.4 6.8 0.7 -8.5 0.9 4.4 -0.3 -2.4 -0.8 -4.5 0.9 -6.1 0.7 -4.1 -0.6 -1.2 0.7 -1.2 -1.3 -0.5 0.2 -5.4 1.4 -1.7 -1.4 -2.1 0.6 -0.5 0 -6.1 0.3 -5.8 -0.4 1.4 0 3.8 1.8 -1.4 -0.8 -6.2 0.7 -4.5 1.8 5.8 0.6 -0.2 0.8 -5.6 0.9 7.9 1.1 -0.1 -1 -3.9 1.4 3.6 1 3.3 0.1 3.9 1.5 -0.2 1.7 0.9 -0.1 -5.5 2.4 3.3 0.4 2.3 -0.3 2.4 -0.2 5.6 1.2 2.2 0.6 -5.6 0.1 5.4 -1.3 5.6 0 4.9 1.1 -7.2 -0.1 9.8 0.5 0.1 -0.8 0.7 1.2 4.7 -0.6 -3.6 -0.2 8 0.8 0 -0.1 -1 0.1 1 0.8 9.3 0.1 -2.9 -0.1 -2.1 -0.5 7 1.4 6 -1.3 -5.6 1.2 1 0.4 4.3 0.7 8.1 -1.3 2.7 1.4 5.2 0.1 0 -0.4 -1 -0.1 2 1.1 7.6 0.5 -5.4 0.1 -0.3 -0.7 5.2 1.1 4.9 1.1 5.1 0.5 -5.3 0.9 8.1 -0.2 1.5 -0.5 -3.3 1.6 3.3 -0.5 -2.9 -0.1 -9.5 0.8 0.7 -0.5 -3.2 1.5 -1.9 -0.1 0.4 0.7 -1.3 0.4 2.3 -1.5 -13 1.1 2.5 0.3 1.6 -0.3 -9.8 0 -0.1 1.3 -3.2 -0.5 1 0.3 1 1.7 -6.8 0.2 -1.2 0 6.9 0.7 -2.2 -0.1 -2.2 0.6 -0.2 -0.3 6 0 -1.9 -0.1 6.2 1 4.4 1 -1 -1 4.2 0.2 5.7 -0.3 -0.5 1.4 2.5 -0.6 6.7 0.3 -7.6 -0.7 2.4 1.4 4.2 0 3.1 -0.2 5.3 -0.4 -0.1 0.5 0.3 1.3 7.1 -0.8 -4.3 0.1 12.5 0 2.5 1.7 1.1 -0.1 -3 -0.3 3.6 0.1 6.4 0.9 3.9 0.6 -5.3 0.7 6.3 0.7 -1 0.9 -1 -0.6 6.3 0.6 -4.2 0.9 8.5 1.2 0 0.1 -7.5 1.6 7.5 -0.9 -3.6 1.2 -6 0.1 0.4 -0.4 -2.1 1.2 -8.3 0.2 1 0.3 -1.3 0.1 -5.3 0.9 4.1 0.9 -6.1 0 -3.1 0.2 -1.3 1.8 6 0.7 -6.7 1.4 8.4 -0.9 -5.3 1.5 1 0.5 3.6 0 6 1.3 -0.7 1.2 -0.3 0.4 5.8 0.3 1.8 0.6 -0.7 -0.1 -2 0.4 0.5 -1.3 12.6 0.6 -2.1 -0.5 4.5 1.4 4.6 -0.5 2.7 0.6 0 -0.9 0.8 1.1 -6.2 -0.1 7.7 0.9 5.8 -1.1 0.7 0.6 -1.6 0 3 1.7 -1.2 0.2 9.1 -0.9 -6.3 0.9 11 0.4 0 -0.2 0 0.7 -1.8 1.5 -2.4 -0.6 -7.2 1.2 -2.1 -0.3 1 1 -5 0 -2.2 1.3 0 1.1 6.3 -0.7 1.1 0 -2.8 1.5 7.5 0.8 -3 -0.9 6.1 0.9 -1 -0.3 0.9 1 -0.3 0.9 7.1 -0.4 3 1.4 -4.3 0.5 1.8 -0.7 9.4 1 0.1 1.5 -1.4 1 -1.8 0.1 -1.5 0.4 2.1 1.6 -2.5 0.5 0 0.3 0.5 0.3 12.1 0.8 -4.1 -0.2 -2.3 0.3 7.2 0.7 2.1 -0.8 5.9 0.6 -1 -0.4 -1 0.3 10.2 0 -3.3 0.5 5.9 0.3 0.3 1.1 6.3 0.2 -8 0.2 8.9 0 0.2 -0.2 5.8 1.8 -6.8 0.2 13.2 0.1 -4.2 0.3 -2.5 1.2 5.1 -0.1 3.9 1.2 -1 -0.3 6.1 0.8 8 -0.2 -0.6 1.2 -1.4 -0.4 0.9 0.5 4 0.3 -1 -0.5 3.2 0.8 -0.4 0.5 2.7 0.6 4.8 0.4 3.5 -0.4 4.1 0.9 0.8 -0.4 2.3 0.2 7.7 1 -0.6 -0.7 5 2 -0.6 -0.8 0.4 0.7 1.1 1.3 0 -0.3 -6.5 0.5 -3.1 0.3 2.7 0.8 -4.1 1 -8.5 0.4 -1.7 -1 2.1 0.1 -4 1.8 4.7 -0.2 -1.7 -0.7 -1.3 1.1 -7.6 1.6 1 -0.4 0 1.3 -7 -0.2 3.3 1.4 -2.4 0.3 2.8 0.2 6 0.8 2.6 0.1 -4.9 0.4 8.6 0.7 7.2 0 0 0.5 -0.7 1 1.1 0.5 8.5 -0.6 -2.7 0.3 -0.6 0.6 4.2 1.6 -0.9 0.9 -2.8 0.5 1.5 0.2 3 1.8 6.2 1 -1 1.6 10 0.9 -0.9 1 -0.1 0.3 4.8 -0.1 2.8 1 2.2 -0.3 3 0.6 -7.5 1 8.7 0.6 3.6 -0.5 5.3 0.4 0 1.6 -2.4 -0.1 4.5 1.3 -1 -0.6 0 1.9 8.3 0.5 0.7 -0.1 3 0 6.2 1.2 -7.2 0.4 11.1 0.5 0.9 0.9 -1 0.1 -1 1.9 5"/>
<path d="M551 547l0.3 -7.5 0.3 0.5 -0.9 1.4 -0.1 -8.9 1.1 -2.5 0.4 5.7 -0.8 -6 -0.1 2.6 1.2 -9.1 -1.7 2.5 1.7 -1.4 -0.7 -8.3 0.6 0 0 -5 -0.6 4.7 0.3 -4.7 0.9 -0.9 -0.8 -9.8 0.3 1.5 -0.1 2.8 0.4 -1.5 -0.4 -10.6 1.4 7.9 -0.2 -8 1.3 -5.4 1.2 2.6 0.8 0 1.3 -4.2 0.9 -1.4 0.4 -1.1 1.3 -0.9 0.2 -5.6 0.3 1.3 0.6 3.4 0.3 -7.4 -0.1 -3.7 0.2 -6.4 1.1 6.1 -0.4 0.4 1 -3.1 0.5 -3.5 0.5 -9.5 1.1 1 1.5 -4.5 -0.3 7.8 1.5 -2.2 1.3 -5.3 0.3 -1.4 1.3 -5.3 1.5 4.3 0.9 -0.2 0.4 0 0.5 -3.6 1 -3.7 1.1 -0.9 0.5 -8.5 0.2 7.7 0.2 -4.1 1.6 -5 -0.8 5.3 0.4 -11.4 0.9 1 0.9 -4.2 1.9 -0.9 0.2 -0.4 -0.4 -7.4 0.5 6.7 0.4 -7.7 -0.1 -0.8 0.6 4.6 1.6 -3.4 -1 -3.9 0.7 -5.6 0.8 -0.5 -0.2 -3.6 -0.2 1.2 0 1.4 1.4 -3.2 -0.1 -7.3 0.7 0 1 9 0.6 -3 -0.3 2 0.8 2.2 1.2 2.8 -0.5 -1 1 -7.9 -0.6 5 0.5 0.7 -0.7 -0.9 1 -10.8 -0.9 6.3 0.2 -2 -0.1 -11.9 1.4 -2.1 -0.9 5.7 0.7 -8.2 -0.6 5.2 0.5 -1.2 -0.3 -8.9 1.2 8.1 0.6 -3.2 -1.3 5.1 1.3 -1 -0.1 -0.2 1.9 6.5 0.3 0.7 0.5 0 -0.5 -11.1 0.3 9.5 0.2 -6.4 1.4 -9.3 -0.3 1.3 -0.5 5.6 0.5 -9.8 0.9 2.2 -1 -0.5 0.9 -6.5 0.4 -0.4 -0.5 -3.5 1.2 -2.2 -1 -0.5 0.9 -5.9 -1.2 6.4 0.8 -14 -0.7 1.9 1.4 -5.2 -0.4 5.3 0 -4.2 0.4 -7.5 -0.6 7.8 0 -5.2 0.1 -5.2 1.1 4.5 0.1 -4.5 1.3 5 -0.3 3.4 1.7 -1 0.1 5 -0.4 -4.6 1 2 -0.9 -7.5 1.6 -1.6 -1.3 1.9 1 3.8 -0.9 -13.7 0 5.6 1.7 -3.6 -1.4 0.5 0 -8.9 0.1 -6.2 0.1 3 1.2 -0.7 -0.2 -2 -0.4 -1.4 0.5 -5.5 0.4 -0.5 -0.3 -7.7 1.6 10.2 0.1 -6.4 -0.6 -9.3 1.1 -4.1 0.3 10.1 -1 -11.4 0.7 1 1.4 -4 0.2 0 -0.1 1.5 1 -1.5 1.2 9 -0.5 -1 0 8.1 1 0.7 0.7 -2.8 0 8 0.5 0 0.1 -1 1 4.7 -1 -1.9 0.1 9.9 0 -4.9 0 2.2 1.7 5.3 0.2 -0.7 -1.2 0.8 1.2 10.5 -1.1 -9.8 0.3 11.4 0.1 1.8 1.7 3.3 -0.6 -1 0.5 8.7 0.3 -4.5 0.2 -0.2 0.2 6.9 0.3 -0.1 0.7 -2.7 0.1 7.8 0 9 -0.7 -4.2 1 5.6 0 2.5 -1.1 0.2 1.5 1.5 -0.5 3.2 -0.6 -4.1 0 12.6 -0.6 -6.6 1.1 -0.3 -0.7 0.7 0.8 8.1 -0.4 4.3 -0.2 -3.7 0.6 11.9 -0.3 -3.7 -1 8 0.5 2 -0.5 -3.4 1.5 1.6 -1.1 -1.7 0.4 7.1 0.5 3.4 -0.7 5.6 -0.7 -4.9 0 4.6 0.2 3.1 0.2 -3.3 -0.5 7.2 0.1 2.4 0.5 1.3 0.8 7.5 -1.6 -0.9 -0.1 6 1.2 2.5 0.1 1.7 0.1 -8.4 -0.7 9.2 0 -5.1 -0.6 10.7 1.6 -3.5 -1.1 6.6 1 6.2 -1.2 -10.5 0.6 9.2 0.1 -4.6 -0.5 11.1 -0.1 3.7 0.1 -6.2 0.2 3.7 -0.4 11.2 0.8 -7.8 0.3 -0.9 -0.6 9.1 0.4 -1 -0.2 7.1 1.6 4.4 -0.1 -1 -0.4 -0.3 0.2 7.3 -0.2 -3.2 0.1 2.6 0.6 5.5 -0.6 -1.4 0.6 5.7 -0.6 1.4 -0.4 2.7 1.5 4.1 -0.4 2.5 -0.4 -0.8 -0.2 0.5 0.8 5.2 -1 4.1 0.6 -0.1 -0.5 3.4 -0.1 -1.8 1.1 4 -1.4 1.4 0 6 1.3 -0.7 -0.6 2.4 0.4 2.7 0 -0.6 -0.6 2.3 0.1 2.5 0.8 2.5 -1 5.1 0 -0.5 1.1 3.3 -0.5 1 0.5 3.4 0 3 -0.5 1.3 0.7 5.2 0.1 -1.2 -0.9 1.5 0.8 5.9 -0.9 1.2 0.9 3.1 -1.2 1.7 1.1 -0.8 0.2 5.3 -1.6 1.2 1.1 1.5 0.6 4.7 -0.1 1 -1.2 2.3 0.2 1.1 0 0.7 -0.4 1.8 1.6 2.6 -0.8 4.2 0.5 -4.3 -0.7 0.9 0 -3.6 1.5 -2 -1.5 -4.4 1 1.4 0.3 -0.3 -0.1 -3.2 -0.2 -5.9 0.3 -0.2 0.5 -4.4 0.4 2.6 0.7 -3.7 -0.4 -4.6 0 1.9 0.3 -6.8 -0.4 -0.4 0.3 -2 -0.7 -3.2 1.4 -4 -0.3 -1.2 0.1 -3 -0.2 -1.8 0.2 -2.1 0.7 -2.2 0.1 -1.5 -1 -2.3 1.3 -2.4 -0.6 1.2 0.9 -2.1 -0.9 -4.8 0.1 -3.4 1.3 1.6 -0.4 -3.8 0 -3.1 0.7 0.9 1.1 -6.9 0 2.8 0.5 -6.7 0.6 0 1.1 0 -0.6 4.6 1.1 1.4 1.2 5.2 0.3 0.3 -0.7 2.3 0.7 1.2 -0.2 0.6 1.2 2.4 0 1.5 0.1 1.8 0.1 2.2 -0.5 7.6 0.3 -0.6 0.9 1.7 1 5.6 -0.5 -0.3 0.6 5.2 -0.5 -3.4 0.1 7 -0.5 1.3 -0.1 1.6 0.6 2.2 0.6 1.3 0.7 4.7 -1.2 -2.2 0.6 3.9 0 2.7 -0.4 1.5 0.1 2.4 1 1.6 0.2 1.5 -0.8 5 1.4 4.5 -0.8 -0.3 -0.6 4.6 1.3 2.5 0.3 1.6 -0.6 0.7 0 1.7 0.7 1.5 0.3 1.7 -0.3 0.9 0.9 3.3 0.2 3.5 -0.2 1.6 0.1 2.3 -0.1 3.1 -0.7 3.6 0.6 1.8 0.1 0.4 0.9 4.2 -0.5 -0.4 0.9 -1 2.1 1.6 0.2 -1.3 -0.6 -1.6 1.1 -2.2 0.7 -1 -0.4 -5.8 0.2 1.1 0.5 -5.2 -0.6 -1.4 1.5 -3.1 -0.2 2.3 0.1 -4.7 0.1 0.8 -0.6 -2.5 1.1 -4.6 0 -0.7 0.4 -5.2 0.5 -1.5 0.7 -0.5 -0.3 -3.8 0.1 -4 0.9 -1.3 -1.1 -2.9 0.3 0.8 0.4 -3.2 0.1 0.5 1.3 -1.6 -0.7 -2.5 0.9 -4.1 0.5 -3.5 0.3 -2.6 -0.1 1.2 -0.4 -1.6 1.1 -6.7 -0.3 0.2 -0.1 -2 0.5 -0.5 0.2 -3.3 0.4 -2.2 0.4 -4 0.8 -1.1 -0.7 -1.6 -0.7 -1.1 0.2 -5 0.5 -2.4 0.7 -1.5 -1.1 -1.2 0.5 -1.7 0.6 -2.5 0.5 -4.1 -0.2 -0.2 -0.6 -3.6 0.5 -0.9 2.3 -3.1 0.2 -1 0 -5.4 1.5 1.8 0.6 2.6 1.4 -5 1.9 -2.3 -0.4 1.7 1.6 -4.4 0.5 2.9 0.6 -5.3 1.7 -3.3 1.7 -1.8 0.3 3.1 1.4 -0.4 0.4 -1.2 0.9 -3.5 -0.1 -3.5 1.2 -3.6 0.8 1.6 1.3 4 0.2 0 1.4 3.2 0.5 2.5 0 0 1.7 -2.6 -0.4 -4.3 1.3 3.2 1.6 -0.4 1.3 -4.5 0.1 0.9 0.8 3.2 1.2 -1.2 0.6 4.3 1.6 2.4 -0.2 -0.1 1.8 4.8 0 -0.3 1.2 -1.4 0.8 4.9 0.7 -1.6 -0.8 1.7 1.4 3.4 0.8 -1.1 -0.4 7.7 0.8 0.9 0.9 0.1 1.2 1.7 1 -1.8 0.8 3.2 0.2 1.1 0.6 1.4 -0.3 -0.7 -0.3 6 0.6 1.4 -0.5 3.5 0.6 2.6 0.1 -1.9 1.1 0.7 -0.4 3 -0.3 2.9 0.6 5.6 0.1 0.3 1.1 6.9 -0.6 -2.3 0.7 4.2 -0.5 0 0.1 -3.7 1.6 -4.7 -0.8 1 0.3 0.2 0.2 -7.6 1.3 3.6 0.3 -4.3 -0.1 -4.5 1.8 0.4 0.1 -4.2 0.9 3.2 0.3 -4.9 1.3 2.9 1.2 -1.6 1.2 -0.1 0.4 -0.7 0.6 -1.4 0.2 1 1.2 0.2 1 0 1.5 -6.6 1.9 1.3 0.5 2.1 0.7 -2.1 2 5.1 -0.2 -1.5 1.1 1.6 1.4 -0.9 0.4 -2.6 1.2 0.2 0.5 3 1.7 1.5 0.8 -4.9 0.9 0 1 -3.3 0.6 -5.4 1.8 2.1 0.5 -2.9 0.2 -4.1 2 2.1 1 -6.7 0.5 4.6 0.3 -6.4 0.6 0 0.6 4.3 2.3 1.7 0.5 0.5 0.7 -1 0.4 7.8 0.9 1.4 2.6 -1.5 0 1.1 0.4 5.7 2.1 0.6 0.9 -0.4 0.4 0.3 1.1 -0.6 0.1 5.6 0.7 -1 2 5 0 -3.7 1.1 3.7 0.9 -1.6 0.4 -3 2.2 3.3 0 -1.6 1.4 6.9 1.4 -1.7 0.9 -1 0.3 -0.4 1.3 6 1 -2.6 1.7 0.6 0.4 1.7 1.7 -1.6 1.3 1.6 1.2 -4.3 0.8 2.6 0.8 -1.5 0.4 6.6 1.9 -2 1.7 3.8 0.4 -5.3 1 3.8 0.1 -0.6 1.5 4.3 1.2 1.7 1.2 -4.9 0.8 9.2 1.7 -1.9 1.2 2 0.4 -3.1 1.7 2.4 0.7 -2.3 0.6 2.3 0.5 5.9 0.3 -2.3 -0.9 8.5 -0.2 0.8 0.6 4.1 0.1 0.5 0.2 3.1 -1 -5.6 0.9 4.6 -0.7 9.3 0.4 -7.5 0.9 12.1 -0.7 -8.5 1.2 12.8 -1 -3 -0.2 0.5 0.5 2.9 0 -1 0.9 10.5 -0.4 1.9 0.4 0.6 -0.7 -4.9 -0.3 2.1 1.1 6.8 -1 7.1 1.2 2.6 -0.5 -9.4 -0.3 4 1 9.1 0 0 1.4 -7.4 -1 -1 2.1 -1.1 0.1 -1.3 0.1 -0.2 1.6 -4.3 -0.6 4.6 1.8 -4.6 0.3 2.1 1.9 -1.8 -0.1 1.5 1.8 7.5 0 -3.3 0.9 2.3 -0.3 9.2 0.5 -1.5 1.6 5.7 -0.5 -11 1.6 12.9 0.3 0.4 -0.3 0.3 0.1 -1 1.3 9.4 1.8 -8.7 0.3 8.8 1.3 -1.8 -0.8 -6.7 0.5 0 1.5 1 0.4 -3.6 1.8 0 1.4 -2.5 -0.2 9.5 1.8 -4.4 0.5 1.1 0.5 0.5 1.9 7.4 0.4 -1 0.2 4.5 1.9 0 1.2 -2.5 1.6 -6 0.1 1 0.8 -2.6 0.7 -1.1 1.1 -4.9 1.2 -3.2 -0.4 0.4 1.6 5.1 1.1 -2.3 1.2 2.1 0.4 2.9 1.3 -0.6 0.5 0 1.6 7.7 1 -3.4 0.5 3.4 0.6 0 0.3 0 0.4 -5.1 0.6 -3.4 0.3 1 1.2 -4.7 0.1 -3.7 -0.3 -0.8 1 0.9 0 -10.8 -0.8 -0.8 1 3.1 -0.3 -9.7 1.5 -2.5 -0.1 1.1 0.6 7.7 -0.3 -8.8 1.3 -2.5 -0.3 5 1.4 -5 1.2 2.5 1.2 0 -0.1 -7 0.8 6.3 0.4 -7.8 0.1 -4.3 0.6 0.8 0.3 -5 2 0.7 0.3 -0.5 2 1.5 0.6 -3.2 0.6 -8.5 0.2 1 1.9 -8.2 0.3 9.2 1.2 -6.6 1.2 -4.4 0.6 0 0.2 -0.8 2.3 1.4 0.6 -2.7 0.7 6.1 0.5 2.8 1 -6.5 2.4 5.1 0.8 -4.7 0.3 5.3"/>
<path d="M869 559l1.2 -0.9 -1.3 1.9 1.2 0 0.4 -7.5 -0.7 2.3 0.2 -17.9 0.8 10.8 1.1 -11.7 0.2 8.6 -0.1 -7.6 -0.3 -2.3 0.6 -7.3 0.8 -1 1.3 6.7 0.7 -1.8 -0.1 -7.3 0.3 1 1.4 0 -0.6 -9.8 1.2 2.8 -0.3 -5.1 1 -2.3 0.5 1 0.1 -1.6 1.7 -2.5 -0.3 -5.1 0.9 -4 0.5 -5.4 -0.7 8.4 1.3 -7.4 0.1 1 1.6 -9.9 0.4 9.9 0.6 -14.1 1.8 0 0.3 0 1.2 7.2 0.3 -10.4 1.2 0.4 0.3 -5.3 1.1 -1.6 1.9 3.2 0.7 1.6 0.5 2.9 1.1 -3.7 1 -7.5 1.9 3.9 0.5 -8.4 2.1 11.6 0 -8 1.7 -1.6 0.8 7.3 0 -0.8 1.5 -2.7 0.3 5.5 2.3 -1.9 1 1.1 0.8 -1.5 1 -10.2 1.3 2.4 0 -7.4 2 7.2 1.7 -13.6 -0.4 14 1.9 -7.6 0.2 -5.2 1.4 -4.8 1.9 0.4 -0.6 2 1 3.9 1.6 -5.3 0.4 2.9 0.9 -3 2.5 -6 0.5 4.5 0.4 2.6 1.7 -7 0.7 -4.4 1 -5.8 1.9 17 0.6 -1.7 0.3 -7.4 0.8 -9.4 1.3 6.7 0.6 -9.6 0.7 15.3 1.6 -8.6 1.7 -2.8 0.1 1 2.1 1.9 0.5 -10.2 0.7 6.4 1 0.9 1.8 1.5 -0.2 1.5 1.9 -4.3 -0.1 -9.5 1.2 -5.8 1.4 6.3 1.1 3.6 0.7 -8.1 1 5.2 0.8 -8.7 1.7 11.5 0.5 -7.1 0.7 -3 1.5 -1.8 1.2 -2.7 0.1 -2 1.1 0.8 2.2 -1.4 -0.3 1.5 1.7 -6.8 1.3 8 0.1 -6.7 1.9 -7 1.4 1.9 -0.5 3.9 1.8 -6.1 0.3 0 2.3 0 -0.4 4.4 1.8 2.6 1.3 -3.5 0.9 -2.2 0.1 2.4 1.4 6.9 1.1 -0.5 1.7 1.5 -0.4 1.6 2.7 -0.5 0.2 -3.7 1.1 6.4 0.4 -5.4 1.9 -8.4 0 16 1.3 -7.8 1.8 5.7 -0.5 -0.4 1.5 0.9 0.5 -1 1.3 0 -0.2 7.8 -0.3 -4.8 1.7 11.5 0.1 -1 0.3 -1 0.7 7.2 0.5 -5.5 0.1 6.8 -0.4 9.5 0.8 -2.7 0.8 7.2 0.1 0 0 -1 0.2 8.9 0.8 -9.9 0.3 15.6 -0.8 -13.7 1.7 14.7 -1.3 1 1.9 6.6 -0.1 -6.3 -0.3 8.1 -0.4 -12.1 1.1 11.1 0.9 -1 0.3 9.2 0.1 -0.6 -0.8 3.4 1.6 -9.2 0.5 11.3 -1.4 -3.7 1.6 12.6 0.7 0 -0.6 -1 0 5.3 1.9 -2.5 -0.4 -1.9 1 7.1 0.9 5.3 0 -6.3 -0.2 12.5 1.7 -2.3 -0.4 2.3 1.1 -9.2 0.6 4.8 0.8 -8.1 -0.1 2.6 0.6 -1.6 1.7 -4.9 -0.1 5.5 1.6 -10.6 1.2 6.8 0 -6.8 0.4 8.8 0.9 -8.8 -0.9 1.9 0.6 4.4 0.2 10.4 0.3 -5.5 -0.9 -1 1.2 9.7 1 -6.1 -0.7 5.1 0.1 0.3 0.4 7.8 -0.1 1.2 0.7 6.8 1 -1.8 0.2 2.3 0.2 3.1 -1 7.2 1.5 -9.6 -1.1 11.9 0.8 0.9 1.4 -0.9 -0.7 5.9 0.5 0 0.3 0 1.1 -1.4 0.3 -6 -0.6 2.9 1.3 -6.8 0.3 -6.7 0.1 7.3 -0.2 -6.3 0.7 1 0 -5.5 0.9 -1.2 0.9 -0.6 -1 -4.7 0.4 0.1 1.1 -3.5 -0.2 -1.9 2.2 -6.8 0 0.7 -0.4 0.8 1.4 -3.4 0.8 -4.2 0.8 0.8 1.4 1.6 0.5 2.5 2.2 -8.4 0.3 5.7 0.6 3.8 1.9 -3.2 0.5 6 0.3 -0.3 0.5 8.9 -1.2 -1.5 1.1 -2.3 0.4 1.5 -0.1 7.1 -1 5.8 0.5 1.3 0.2 0.2 -0.3 -4.4 0.6 9.8 0.2 -4.2 0.5 8.6 0.4 -5 -0.6 10.9 -0.2 -8.8 0.2 8.8 -0.4 0 0.3 -9.2 0.8 7.4 -0.8 -11.3 -0.2 6.4 1.2 -12 -0.7 8.3 -0.2 -5.3 1.5 -10.6 -0.4 6.3 0.7 -0.7 -1.1 -9.9 0.9 -0.4 -0.1 0 0.8 3.8 -0.7 -3.8 0.3 4.2 0.8 4.5 -1.5 4.2 1.1 2.4 0.2 1.5 -0.7 -5.8 -0.1 14 0.3 -0.3 -0.1 -6 0.9 4.1 0.4 11.3 0.3 -7.4 -1.1 1.3 0.4 7 0.6 8.1 -1.1 -2.4 0.5 2.3 0.8 1.8 0 -0.7 0.7 6.9 -0.8 0 -0.1 0 -0.5 -2.9 1.3 -6.3 -0.9 -3.1 1.5 -0.6 -0.6 -0.4 0.1 1.3 0.3 -10.9 0.8 4.6 -0.9 -3.7 0.8 -3.6 0.5 3.3 -1.6 -9.7 1.1 3.6 0 -3.6 0.4 2.5 -0.7 0.1 0.1 4.2 0.3 2.5 0.3 2 -0.8 0 1.1 4 -1 1.5 1.5 0.5 -0.7 3.6 -0.1 5.2 1.2 -2.3 -1.3 7.3 -0.1 -1.8 0.5 6.3 0.3 -1.8 0.3 2.4 -0.2 5.7 1 -0.7 -0.8 4.4 0.3 2.9 0.1 -0.9 0 2.3 0.1 3.9 0.7 1.5 -0.8 1.7 0.2 0 0.6 -5.2 -1.1 1.4 -0.1 -6.5 -0.1 -3.4 1.1 2.4 0.2 -1.8 0.2 -3.7 -1 -2.5 1 -3.6 0.5 -2 -0.3 0.1 0.3 -1.5 0.2 -5.4 0.1 -2.8 -0.3 1.8 0.3 -4.6 0.2 0.5 -1.5 -2.8 -0.1 -5.2 0.7 -1.2 1 -0.1 -0.6 -3.9 -0.1 2.7 0.2 -0.7 0.6 6.9 -0.8 -1.7 0 2.1 1.4 6.3 0 -1.2 -0.3 3.4 0.2 1.9 0.3 0.1 -0.9 7.1 0 -0.3 1.2 3.8 -0.2 0.8 -1.1 4.1 1.5 1.4 -0.6 -0.2 -0.4 3 0.6 4.2 -1 -0.2 1.6 1.5 -0.2 1.3 -0.3 2.1 -0.4 2.7 1.1 1.9 -1.3 2.8 0.9 4.2 0.4 0 -0.6 -3.1 0.8 -5 0 2.1 -0.3 -7.4 -0.3 -1.2 -0.4 -1.2 1.7 -0.7 -0.3 -2 0 -6 -0.2 -0.6 0.5 -0.8 -0.5 -3.2 -0.1 -1.4 0.7 -4.5 -0.2 0.3 0.6 -4.5 -1 0.6 -0.2 -3.3 1.4 -5.1 -0.5 0 1 3.2 -0.4 3.3 0.5 -0.9 0 5.5 0 2.4 0 1.6 0.4 1.1 -1.7 2 1 4.3 0.5 2.2 0.3 1.4 -0.1 -0.1 -1.1 4.3 0.5 2.8 0.8 -2.8 0 6.9 -0.2 0.9 -0.8 0.5 0.3 4.2 0.8 2.8 0.5 0.1 0.3 0 -0.2 5.7 -0.4 1.6 0.2 0 -0.6 -6.1 0.2 -0.8 0.9 0.5 -0.1 -6.3 0.5 2.2 -1.5 -5.1 1.8 -1.1 -0.6 -4.4 0.1 0.8 -0.4 -1.7 0.2 -3.1 1.1 -4.2 -0.9 -3.4 -0.7 -0.6 1 -3.6 0.6 1.4 0.3 -3.6 -0.9 -4.8 0 -1.2 0.3 -0.9 0.7 2 -1.4 4.1 1.2 -0.3 -0.8 0.5 0.9 2.6 0.6 4 0 5.2 -0.8 -0.3 0.8 -0.2 -0.4 7 -0.5 -0.3 0.1 2.5 0.8 0.4 -0.7 4.4 0.4 3.9 0 -1.5 0.8 2.8 -0.1 0.6 0.4 4.4 -0.6 4.2 0 -0.9 0.8 6 -0.2 -1.4 -0.6 1.9 1.2 1.9 0.2 6.4 -0.8 0.1 -0.7 -5.2 0.4 3.8 1.3 -2.2 -1.3 -4.8 0.8 -1.6 0.1 -1.1 -0.5 -3.1 0.3 -4.5 -0.1 2.1 -0.2 -5.1 0.5 -1.7 0.3 -1.3 0.4 -2.6 -0.6 -0.4 0.7 -3.7 -0.1 -0.5 -0.1 -4.8 0.6 -3.6 -1 0.3 -0.2 -1.2 0.1 -5.1 1.5 -3.7 -0.5 0 -0.2 -2 0.1 5.1 -0.1 -1.4 -0.2 4.8 1 -0.9 -0.8 0.8 0 6.1 -0.3 3.5 0 -0.7 0.6 0.2 1 5.7 -1.1 1.1 0.4 2.4 0 0.6 -0.4 6.7 0.8 1 -0.2 -1.3 0.9 7 -0.4 2.1 -0.9 0.3 1.2 2.5 0.2 0.7 -0.2 5.4 0.3 0.9 -0.1 3.7 0.3 -2.4 -0.5 6.7 -0.2 -3.4 -0.6 4.8 1 0.8 -0.2 2.9 0 5.9 0.3 0.4 0.8 3.7 -0.8 -1.7 -0.1 5.2 0.2 0.8 0.4 -1.5 0.2 -0.6 0.2 -4.4 0 -3.3 0.1 -3.5 -0.7 2.2 0.2 -3.7 0.5 -3.4 0.3 0 -1.4 -2 0.4 -1.1 1 -5 -0.2 -2.6 0.2 -2.5 -1.1 -3 1.2 -0.4 -1.5 -4.8 0.1 -2.2 0.5 -1.3 0.7 1.4 0.4 -1.8 -0.9 -5.2 0.7 -3.2 0.4 -3.5 -1.5 2.7 0.3 -4.2 1.4 -4.7 -0.6 -1 0 0.6 -0.8 -5.1 1 -3 0.6 -1.6 -0.9 1.5 0.1 -5.3 -0.1 -4.2 -0.7 1.4 0.6 -1.6 -0.4 -6.6 0.5 1.8 0.3 -3.3 0.8 3.1 -0.7 0.7 0.2 5 -0.7 1.6 -0.3 1.2 0.8 -0.7 0.7 6.2 -0.2 -1.3 0.4 4.3 -1.1 0.2 -0.4 4.8 0.7 -0.5 0.1 4.5 -0.8 -0.6 1.3 3.1 -0.1 3.4 0.5 4.7 -1.4 -0.1 -0.1 1.9 0 3 0.4 -1.4 0.8 5.8 0.1 -0.7 -0.9 5.3 -0.2 1.3 1.5 0.6 0.1 5.2 -0.6 1.3 -1 1.1 0.7 2.4 -0.4 -0.3 0.2 7.8 1.2 -3.2 -0.7 2.1 0.3 6.4 -0.3 1.1 0.2 -0.9 -0.5 7.1 0.9 -2.9 -1 2.8 1.2 3.7 0.1 2.4 -1.5 0.3 1 1.6 0.3 4.1 -0.7 3.3 0.8 0.6 0.1 4.4 -1.1 0 -0.4 5.5 1.3 -1.8 -0.2 2.9 -0.2 5.1 -0.7 -1.2 0.8 3.8 0.2 3.5 -1.1 -1 0.3 6.7 0.1 -2.5 0.9 2.3 -0.9 3.4 0 0.7 1.2 2.4 -0.5 4.4 -0.4 -0.2 -0.1 -5.1 0 -4.1 0.5 1.3 -0.8 -5.4 0.5 1.9 1 -6.9 -0.9 3.1 0.2 -3.9 -0.6 -3.8 0.3 1.5 1.4 -7.7 -1.1 -1.6 1 2 0 -7 -1.4 1.7 1 -4.2 -0.6 -4.2 0.2 3.5 0.7 -4.1 -0.2 -1.3 -1 -3.4 0.5 -3.9 1 -0.7 -1.2 -5.8 0.6 0.3 0.4 -0.1 0.5 -5.1 -0.7 -2.6 0.6 2.2 -1 -5.9 1.1 -0.1 -0.6 -2.7 -0.2 -5.1 0.9 -1.8 -0.4 -3.3 -0.5 1.4 0.2 -1 -0.1 -3.4 -0.6 -2.7 -0.1 -0.9 0.3 -3.7 -0.2 -5 1.5 1.3 -0.2 -6 0 3.2 -0.3 -5.5 -0.1 -4.5 0.7 -2.1 -0.5 0.9 -0.6 -0.5 0.5 -4.7 0.4 -0.6 -0.2 -2.5 -1 -1.7 1 -2.9 -0.3 -4.5 1.1 -0.4 -0.3 -0.4 -1.3 -6.6 1 -2.5 -0.8 -0.3 0.5 -4.1 0 0.3 0.2 -2.1 0.2 3 -0.2 4.1 0.3 -2.3 0.6 1.7 -0.7 6.5 -0.1 -0.8 0.4 5.6 -1 -2.4 0 2.6 0.2 5.4 1.2 3.1 0.2 1.5 0 -1 -0.9 3.2 -0.5 0.8 0.5 4 1.2 2.3 -0.9 1.9 0 5.6 0.7 -3.2 -0.5 6 -0.8 2.4 0 1.4 1.1 2.9 0.3 2.9 -1.2 3 0.1 2.2 1.2 0.5 -1.1 -1 0.5 4.3 0.5 4.4 -1.2 -2.1 0.5 3.1 -0.2 5 1.3 -0.3 -0.3 1 -0.4 4.1 -0.8 3.7 1.5 -0.8 -0.7 2.5 0.8 3.1 -0.8 1.2 0.4 1.3 -0.9 7.2 0.4 0.3 0.5 1.2 -0.3 0.5 -0.6 4.7 0.3 0.1 0.2 3.5 1 3.4 -0.7 3.2 0.5 1.2 -0.2 2 -0.5 -0.3 -0.3 6.7 0.1 -2.5 0.5 5 0.7 -0.3 -0.7 5.5 1 2.5 -0.1 0.2 -0.5 2 -0.1 5.6 0 -3.2 0.3 4.5 0.2 4.2 -0.4 -1.9 0.6 3.5 0.4 0.8 -1.1 6.5 0.3 0.5 -0.1 -2.8 0.9 -2.6 -1.6 -1.5 1.7 0.8 -0.5 -5.2 -0.4 0.7 0.1 -6.6 -0.2 -3 -0.2 -1.3 0.8 -2 0.3 1.2 -1 -3.7 1.2 -4.2 -1.3 -2.9 0.6 2.4 0.9 -5.7 -0.6 1.5 0.3 -1.7 -1 -5.8 1.3 -3.6 -0.7 -1.4 0.3 -0.1 -0.8 -4.7 1.1 -3.1 -1.1 0.9 0.9 -1.1 0.2 -0.9 -1.4 -6.2 1.1 -3.5 -1 3.1 0.7 -7.3 0.3 1 0.2 -3.4 -0.5 -2.1 0.9 -4.9 -0.4 3.7 -1 -5.7 0.2 -3.7 0.5 2.6 0.9 -4 0 -4.5 -0.1 -0.7 0.3 -0.4 -0.3 -5.2 -0.8 -3.6 0.5 -0.6 0.4 1.2 0.4 -2.5 -1.3 -2.2 1 -6.4 -0.8 0.8 -0.5 -4.5 0.6 -3 0.9 -1.3 -0.6 -1.5 0.7 0 -0.2 -6.8 0.2 -0.2 0.2 -1.2 -1.5 0.1 0.3 -2.2 1.1 -3.8 0.2 -4.1 -0.2 -2.6 -0.3 -2.7 0 0.4 -0.3 -2.7 0.6 0.6 -0.5 4.1 -0.2 2.5 0 1.9 -0.6 3.4 1.4 1.4 -1.2 3.4 0.9 0.4 0 4.4 0.1 -2.3 -0.1 3.5 0.2 3.8 -0.9 4.4 1.4 -1.4 -0.4 1.9 -0.5 2.9 -0.5 4 0.8 3.7 0.1 -2.1 -0.6 2.8 1.1 5 -1.1 0.3 1.3 1.6 -1.2 4.2 0.7 2.2 0.2 2 -1 1.9 1.3 3 -1.2 2.9 -0.2 1.2 1 -1.7 -0.7 2.4 0.6 2.6 0.5 6.9 -0.8 -3.2 -0.3 4.8 0.6 1.1 -0.7 6.4 1.2 -3.4 0.1 5.1 -0.1 2 -0.3 0.9 -0.3 2 -0.5 5 0.3 -1.9 -0.2 3.3 1.2 2.6 -0.8 3.5 0.3 4.7 0.7 -0.2 -1.1 1.7 0.5 5.6 -0.8 -3.1 0.2 2.5 0.4 2.1 1.1 5.7 -1 -0.2 -0.1 0.8 0.6 5.3 -1.1 1.7 1 3.5 -0.7 0.3 0.8 1.4 -0.2 6.4 0.5 -1.7 -1.1 1.7 0.1 1.7 0.5 1.8 0 1.7 0.3 6.5 0.3 3.1 -0.4 0 -0.6 -1 1.1 -4.8 -0.1 0.1 -0.3 -5.4 -0.1 -0.2 -0.4 0.7 0.8 -3.2 -0.2 -6.1 0.4 0.5 -1.1 -0.3 1.4 -6.4 -1.2 2.5 -0.1 -3.3 1.7 -6.9 -1 2.5 0.4 -1.9 -0.6 -4.5 1.3 -1.6 -1.4 -0.5 1.2 -3.5 -0.8 -5.2 0.4 -2.5 0 1.8 0.2 -6.6 -0.8 2.3 -0.2 -5.7 0.4 0.3 0.6 -3.4 -0.2 -3.6 0 -1.3 0.4 -0.2 -0.5 -1.7 1.1 -6.5 0 0.4 0 -2.6 -1.5 -3.5 0.3 1.2 0.4 -6.2 0 0.8 -0.2 -0.7 1 -3.3 -0.1 -5.3 -0.9 -2.6 0.2 0.6 0.6 -0.5 -0.7 -5.9 0.6 2.1 -0.4 -7.4 0.6 -1.2 0.2 1.9 -0.2 -6.8 -0.1 -0.4 -0.5 0.5 0.4 -5.9 0.6 -2.7 -0.9 -2.4 -0.5 2.7 0.4 -2.1 -0.3 -2.7 1.5 -3.8 -1.4 -1.6 0.7 -1.8 1 -6.4 -1.3 2.8 -0.4 -7.4 1 1.4 -0.8 -1.8 1 -5.2 0.5 -2.6 -0.9 0.2 0.6 -4.3 0.3 -1.4 -1.3 1.7 0.7 -5.2 0.5 -5.1 0.2 -1.7 0.4 1.5 -0.9 -2.4 -0.1 -1 0 -5.6 0.5 -1.5 0.6 -2.4 0 -3.6 -0.7 -0.3 0.6 -4.8 0.8 0.6 -0.9 -0.1 0.5 -2.6 0.7 -7.3 0.6 2.4 -1.3 -3.6 0.4 -5.2 0.4 1 0.2 -3.3 -0.4 3.5 0.3 0.4 -0.1 4.5 1.4 -1.4 -1 2.4 1.5 4.2 0.2 0 0.5 4.3 -1.3 4.4 0.6 3.1 0.4 -0.4 -0.2 4.8 -0.2 -1.5 0.4 5.8 1.1 -2 0.4 5.7 -1.1 3 0.3 1.2 0.3 -0.6 -0.3 4 1.3 2.3 -0.7 0.9 0.6 2.7 -0.7 0.6 1 1.5 0.1 6.6 -0.1 -0.2 0.2 3.2 -0.2 1.2 0.3 5 -0.5 -2 0.4 6.3 1.3 -0.9 -0.2 2.5 -0.9 1.7 1 1.9 0.1 3.3 0 2.6 -0.3 1 0.1 2.1 0.3 7 0.4 -1.8 -0.9 0.8 0.8 7 0.3 -2 -0.9 1.3 0.9 5 -0.7 0.8 1 4.1 -0.7 4 0.7 1.6 -0.3 3.2 -0.1 2.1 1 -0.3 0.8 0.5 -0.5 5.9 0.5 1.4 -1.1 0.8 -0.1 1.6 0.7 6.3 0.2 1.4 -0.4 -0.7 0.1 1 0.9 5 0.5 4.5 -0.4 -3.5 0.9 4.2 -0.6 3.1 0.7 4.4 0.2 -3 0.1 2.9 -1 1.6 1.4 5.6 -0.6 1 0.5 5.7 -0.1 -3 0.4 4.4 -0.7 4.9 1.2 -1.9 -1.1 1 1.2 7.1 -0.3 2.9 0.2 -0.6 -0.3 2.9 1 0.9 -0.3 3.1 0.2 4.4 0.6 -2.9 -0.3 7.9 -0.4 -3.2 1 4.6 -0.7 1.5 0.6 6.1 0.7 -1.7 -0.4 6.4 0.5 -2.2 -0.1 2.9 0.3 3.3 -0.1 0 0.2 -5.8 0.7 0.3 0.1 -5.1 -0.5 0.6 -0.7 -0.5 1.5 -4.1 -0.7 -3.4 0.5 0.4 0.3 -6.6 0 2.5 -0.2 -1.6 0.1 -2.9 0.2 -5.8 0.6 -2.3 -0.1 -1.8 0.2 0.7 -0.8 -4.8 -0.2 0.6 0.3 -1.3 1 -6.4 -1.3 2.7 1.7 -7.6 -1 -1.5 0.3 -0.3 0.9 -3.5 -0.3 -1.4 -1 -0.1 0.9 -2 -1.1 -1.6 0.1 -2.5 1 -6.3 -0.8 1.6 -0.1 -7.2 0.1 2.8 1.2 -1.8 -0.5 -2.7 -0.6 -2.3 1.4 -2.2 0.3 -1.4 -0.1 -4.7 -0.9 -3.2 -0.5 -3.2 0.3 2.3 0.2 -2.1 -0.1 -6.7 0.4 -0.2 0.8 -2.1 -0.8 -2.1 0.9 -0.5 -1 -4.8 -0.3 -0.4 0 -4.9 0.9 0.7 0.7 -2 -0.3 -5.5 -1 0.4 1.3 -4 0.2 -0.7 -0.3 -1.2 -0.4 -4.5 -0.2 -1.7 -0.4 -4.1 1.4 -2.5 0.3 0.7 -0.9 -4.6 1 -0.6 -0.4 -1.4 0.5 -1.6 -0.9 -4.8 1 -3 -0.9 2.7 1.1 -3.5 -0.4 -1.6 0.3 -4 0.7 1.7 0.5 4.5 0.4 1.2 0.1 1.4 -0.4 2.8 0.1 0.2 0.6 4.2 0.2 -3.6 -0.1 -3 0.7 -1.1 0.5 0.1 -0.1 -2.1 0.9 -2.8 -0.6 0 1.1 -1.9 -0.6 -5.2 1.6 -2.7 -0.3 1.7 1.3 0.6 -0.7 -0.4 0.2 5.6 0.2 0.2 1.1 3.2 -0.1 4.9 -0.7 -2.5 0.5 5.9 0 -0.1 0.1 3.5 -0.2 3.7 0.6 0.6 -0.4 3.1 0.1 0.4 1.2 4.1 -0.1 3.1 -0.6 2.9 0.1 0.4 -0.2 -1.7 0.6 6.3 0.2 0.8 0.5 -0.4 -0.6 2.2 0.3 3.2 0 2.5 -0.6 1.2 1.5 5.1 -0.3 0.1 -1.1 4.9 0.6 3.2 0.1 1.9 0 2 0 1.2 0.2 -0.1 0.7 4.7 -1.1 4 1.4 -0.2 -1.1 1.3 0.4 3.2 1.2 2.3 0.1 1.7 0.1 2.1 -1 1.3 0.7 4.2 -0.9 1.3 0.7 4.5 0.1 -0.4 -0.6 2.5 0.7 -0.2 -0.4 2.8 1.1 4.9 -0.3 -0.6 -1.2 1.7 1.3 2.5 -0.1 3.8 0.4 1.5 -1 3.6 0.5 -0.2 -0.4 3.7 0 1.1 0.9 6.2 -0.9 -2.4 0 6.1 1.1 -1.3 -0.8 6.4 0.1 -0.8 -0.3 2 -0.4 5.5 1.4 -3.4 -0.4 5.9 -0.8 2.6 0.4 -1.9 0.9 2.2 -0.6 6 -0.6 0.7 0.1 5 1 1.6 -0.1 0.1 -1 1.8 1.1 2.8 0.5 1 0 5.7 0 2.9 -0.3 -2.2 -0.1 5 -0.6 0.7 0.9 0.2 -0.7 5.3 0.4 4.1 -0.4 1.1 0.2 0.3 1 5.1 -0.8 -1.4 -0.2 2 0.1 4.6 0.5 2.5 -0.7 -0.3 0.6 3.3 0.6 0.7 -0.1 3.5 -1.4 3.3 1.7 1.4 -0.9 2 -0.8 -0.6 1.2 -1 0.4 -4.1 -0.3 -2.4 0.4 -2.2 -1.3 -0.7 0.5 -3.9 0.1 -2 0 -2.5 0.1 -3.8 0.4 0.5 0.8 -4.2 -0.9 -0.7 1.3 -1.4 -0.4 -6.4 -0.7 3.3 -0.3 -3.7 1.7 -1.7 -1.2 -1.6 0.8 -4.3 0.1 -4.6 0 -2.6 -0.2 0.6 -0.2 -4.9 0.5 0.4 -0.4 -3.2 0.1 -1.2 0.6 -4.7 0.1 0 -0.4 -3.1 1 -3.5 0.7 -0.7 -1.4 1.6 0.9 -3.1 -0.4 -1.9 0.5 -3.1 -0.1 -3.8 -0.3 -1.3 1.1 -4.6 0.7 2.2 -0.5 -5.1 1.4 -1 0 -5 0.7 -0.4 0.7 -1.4 0.5 -3.2 0.9 4.9 -1.6 -1.3 0.3 1.9 0.5 6.2 1.1 0 -0.7 0.7 -0.6 4.9 0.1 -1.5 1.2 1.6 0.2 1.6 -1 5.6 -0.2 3.8 0.7 -0.5 -0.7 -0.3 0.5 5.6 -0.1 0.1 1.5 3.9 -1 3.7 0 3.2 0.4 -1.4 -0.2 6 0.9 -1.6 -0.3 1.4 -0.6 1.3 1.3 3.8 -1.4 5.1 0.9 0.3 0.7 2 -1.3 4.3 1.3 2.2 -0.5 0 0.9 -3.6 -0.8 1.2 1.1 -3.8 -0.3 -0.2 0.5 -2.3 -0.7 -1.7 -0.1 -5.2 0.9 -0.4 -0.8 -3.3 0.3 -4.8 0.3 1.1 -0.1 -1.4 0.7 -0.7 0.2 -3.9 0.7 -6.2 -1.4 1.8 1 -3.1 0.3 -5.1 0.6 2.2 -1.1 -4.3 1.5 -3.7 -1 2.2 -0.2 -6.5 0.3 -1.3 0.1 -4 -0.2 0.5 0.1 -2.1 0.9 -4.9 0 2.9 -0.1 -3.6 -0.3 -1 0.8 -4.2 0.6 -5.6 -1.1 2 0.8 -3.5 0.6 0 -0.5 -3.7 0.7 -4.8 -0.4 -2 1 -0.3 -0.2 -3 0.8 -0.9 0.2 -1.3 -0.6 -3.3 0.4 -3 0.4 2.4 -0.3 0.3 -0.2 5 -0.5 -1.2 1.3 3 0.5 3.5 -1 3.9 0.4 1.6 0.8 -0.2 -0.3 2.9 -0.9 5.6 1.5 1.9 -1.4 -2.1 1.4 6.2 -1.2 3.3 0.2 -2.2 1.2 3.4 -0.4 0.1 -0.6 5.1 1.2 2.6 -1.1 -0.3 0.2 5.7 -0.1 0.2 0.9 -0.3 0.1 8.1 -0.7 2.3 0.2 0 0.4 1.5 0 -0.7 0.7 4.6 -0.8 0 0.2 2 -0.1 6.8 0 -1.3 0.9 5.5 0.3 -2.2 -0.5 5.9 0.5 2.8 -0.6 -0.6 -0.1 4.3 0 -0.9 0.6 3.9 0.1 5 0.6 2.3 -0.8 -2.9 -0.2 7.2 1 -1.6 -0.4 3.9 0.8 4.8 -0.4 -1.9 -0.6 4.5 -0.2 0.7 0 -0.1 0.9 4 0.8 0.1 0 5.8 -1.5 2.9 0.7 0.7 -0.6 1.4 1.4 3.7 -1 2 0.7 0.9 0.8 4.4 -0.9 -0.3 0.3 4.1 0.1 1.3 0.9 -0.8 -1 -3.8 0.3 -4 0 2.8 0.7 -6.8 -0.8 -1.5 0.3 -2.7 0.3 -2 0 0.7 -0.3 -2.2 0.8 -5.7 -0.3 1.5 0.2 -0.5 0.8 -6.5 -0.6 -2.9 0.9 1.3 -0.2 -6 0.5 -2.6 0.6 2.1 -0.8 -3.4 -0.5 0.5 0.4 -4.7 0.9 0.4 -0.7 -6.9 1.1 1.6 -1.4 -4.8 1.3 -0.4 -0.8 -1.9 0.7 -6 -0.4 -1.5 0.7 1.2 -0.5 -6.8 -0.1 3.4 0.3 -6 0.8 -3.4 0.5 -3.1 -0.8 -1.4 0.1 2.2 0.3 -6.9 0.4 -2.7 0.5 1.1 -1 -0.3 0.7 -4.6 -0.1 3.7 -0.3 0.6 1.6 4.6 -0.8 -0.9 -0.4 2.6 1.6 0.1 -0.1 5.2 0.1 -0.1 -0.1 3.5 -0.1 3.7 0.9 0.7 -0.3 2.3 1.2 2.8 -0.4 3.8 -0.1 -1.3 0.7 1.6 0.4 6.1 0.3 0 -0.1 -0.4 -0.4 -2.1 0.6 -3.9 0.1 -4 -0.4 -2.5 0.3 -1 -0.4 -3.9 0.2 0.9 0.9 -4.7 -0.9 -0.6 1.1 -0.8 -1.1 -5.7 0.7 2.4 0.4 -6.4 -0.4 1.6 0.2 -6.7 -0.5 -1 0 2 0 -4 0.9 -1.3 0.2 -4.3 -1.6 -1.7 0.6 -3 -0.2 -2.6 0.4 -0.1 -0.6 -0.2 0.3 -3.4 -0.4 -6.2 0.6 -1.6 0.1 -2.4 0.3 -0.4 0.1 -4.1 -0.6 -0.4 0.5 -2.5 0.5 -4.8 -0.7 -0.5 -0.3 -2 1.4 1.6 -1.3 -5.9 0 0.8 1.5 -4.4 0 -3.3 -0.1 1.4 0.3 -2.1 0 -6.6 0.2 0.7 -1.1 -0.5 -0.3 -6.7 1.1 -2.9 -0.6 -0.8 -0.4 0 1.4 -5.2 0.1 -0.6 -0.5 -2.5 0.2 -2.7 -0.2 -1.8 0.1 -1.7 1.8 -4.8 0.4 0.3 0.3 0.2 2.1 -2.7 0.7 -5.5 -0.7 0.4 1.6 -3.4 -0.6 -2 1.8 -2.3 -0.5 0.4 -0.9 -5.4 1.3 -0.9 0.4 -5 0.1 -2.7 -1 -2.8 0.5 1 1.2 -0.2 0.2 -2.8 -0.3 -1.2 0.5 -6.5 -0.7 0.1 0.6 -6.2 0.9 1.9 -0.7 -4.9 -0.7 1.5 1.8 -4.9 -0.1 -2.8 -0.3 -1.3 1 -1.2 -0.3 -2.2 -0.1 0.6 -0.7 -4.2 0.8 -7.6 1 -1.6 -0.1 -0.7 0.5 0.2 -1.1 0.5 0.3 -4.3 0.4 0.2 1.1 -6.8 -0.9 -3.3 0.2 0 0.4 -1.6 0.3 0.2 -0.1 -2.4 -0.5 -7.2 0.8 -2.9 0.3 5.1 0.1 -6.1 0.2 -0.2 -0.2 -5.2 -0.4 1.8 0.8 -6 -1.4 -0.1 0.2 -2.7 0.2 -3.1 1.1 -2.7 -0.5 -1.2 -0.5 0 0.9 -3 -0.6 -4.1 -0.7 0.2 1.4 -7.8 -0.4 1.8 0.2 -6.2 0.1 -3.4 -1.2 0.5 1.4 -2.7 -0.5 -0.6 -0.3 -4.6 -0.2 -3.7 0.7 5.6 0.6 -8.5 0.3 -3.6 -0.9 -1.7 -0.2 5.1 0 -7.6 1.6 -1 -1 1.8 0.9 -9.3 -0.5 -0.5 0.1 -4.2 0.7 3.2 -1.2 -7.3 1.3 0.4 -0.1 -4.6 0.4 3.5 -1.4 -4.3 0.3 -5.1 1 4.7 0.4 -3.5 -0.5 -4.8 0.5 -4.9 0.6 0.2 -0.1 -3.3 -0.2 0.4 -0.3 -3.7 0.1 -1.3 0.6 -6 -0.2 -0.7 1.1 1.8 0.4 -1.4 -0.2 -2.1 -0.6 -7 0.2 -0.5 1.1 -5.9 -0.4 4.3 -0.3 -5.8 0.7 -1.1 -0.3 4.5 0.8 0.9 -0.2 -0.2 -0.5 5.1 1.1 -2.2 -0.7 2 -0.1 1.6 0 3.4 0 4 0.8 6.1 -0.1 -0.3 0.2 0.8 0.7 0.9 -1.2 7.4 0.1 -0.4 1.4 1 -0.5 2.4 0.7 3.8 -0.7 -2.1 0.8 7.7 -1 -3.1 0.9 5 0.2 -0.5 -0.1 8 -0.3 1.9 -0.3 0.4 0.5 -1.3 0 1.3 0.6 8.8 -0.8 -5.4 -0.4 9 0.6 -2.3 0.5 7.3 0.1 -4.3 0.8 2.6 -0.2 5.9 0.1 3.5 -0.1 -4.2 0.2 9 -0.6 -1 1 0.6 -0.8 1.4 0.2 2.5 -0.1 6 0.6 -1.8 -0.5 8 -0.2 1.1 -0.1 -0.2 0.1 1 1.7 6.1 -1.1 3.6 0.3 -0.7 0.4 1.4 0.3 0 -0.5 -7.2 0.6 0.3 0 -2.1 0.1 0.4 0.7 -1 1 -7.5 0.1 -1.6 -0.4 -4.3 -0.1 1.7 1 -6.3 -0.9 -1.6 0.6 0.2 -0.1 -0.4 0.4 -4.9 0.5 0.7 0.7 -6.9 -0.3 -2.6 1.1 1.2 0.2 -3.1 -0.8 4.7 0.6 -4.1 1 6.4 -0.2 -2.1 0.2 4.6 -0.7 7.4 0.1 -5.1 0.7 2.5 0.3 8.8 -0.8 0.1 0.6 0.7 0.5 2.1 1.9 0.2 0.1 0.5 0.7 -4.2 0.6 2.4 -0.8 -1.3 0.1 -8.1 1 0.9 0.7 1.1 -0.6 -5.8 0.5 2 0.4 -6.3 0.4 -1.4 -0.2 1 1.1 -7.3 0.8 0.3 -0.2 -5.5 -0.7 0.8 0.9 -5.2 0.6 -0.6 0.2 2.1 -0.1 -2.6 1 -3.2 -0.4 -3.8 -0.1 -5.3 0.1 0.6 2.1 -1.8 -1.2 -0.3 2 -2.5 0.1 -6.1 0 -0.6 0 -0.5 0.2 -0.5 0.3 -8.5 -0.9 -0.2 0.9 -0.7 -0.5 -0.3 0.7 -8.5 0.5 0.7 -1.2 2.4 0.3 -8.3 0.8 -1.6 -0.7 0.5 0.5 -6.5 -0.4 3.7 -0.2 -7.8 0.5 -2.1 0.9 -1.5 -0.7 0.3 -0.7 -3 1.4 0.1 -1.1 -6.9 1.5 4.1 -0.8 -3.6 0.2 -5.7 -0.5 -2.3 0 -1 0.1 -4 0.9 -0.8 -1.1 0.3 0.9 -3.8 0.3 -5.6 0.6 0.8 -1.2 -0.6 0.6 -5.7 -0.3 0.1 -0.2 1 1.8 -3.7 -0.6 -3.9 -0.2 -3.9 1 3.9 -0.8 -1.9 0.7 -7.6 0 -1.3 -0.9 -2.2 0.8 -1.4 1.1 1 -0.4 -3.2 -0.5 -0.7 -0.1 -6.3 1.8 -2.6 -0.6 -1.5 0.8 0.4 -0.6 -3.5 0.3 -2.7 0.4 0.7 1.1 -9.2 -1.1 4.3 1 -4.7 0.1 5 0.8 -3 1.5 4 -0.4 0.1 1.2 2.6 -1 5.3 0.4 -0.1 1.2 1.2 0.2 3.6 0.2 0.8 -1.3 6.5 1 -3.2 0.4 7.4 0.1 0.1 -0.6 3.8 1.1 2.2 -0.1 -2.3 0.5 3.6 -0.7 6.4 0.2 0 0.7 -1.6 -1.4 0.1 1 -1.5 -0.4 -7.9 0.3 -4.2 -0.7 0.1 -0.1 -2.7 0.9 1.7 -0.3 -2.2 0.9 -1.5 -0.2 -5.3 -0.9 -4.1 0.2 -0.3 0.2 -0.5 0.4 -5.6 -0.7 -3.3 0.7 0.8 -0.7 -4.5 0.3 -1.2 0 -1.9 -0.2 -0.5 0.6 -6.4 -0.2 -0.9 -0.6 0.5 0.5 -3.1 -0.9 -1.9 0.4 -2.5 0.4 -4.9 -0.5 3.3 1.3 -5.6 -1.2 -1 0.8 1 -1.1 -7.5 0.5 -2.2 0 0.3 -0.1 -3.3 0.2 2.2 0.6 -9.6 0.8 4.8 -0.1 -1.4 -0.3 -5.3 -0.7 -6.1 1.3 1.9 0.6 0.4 -0.4 -7.7 0.2 -0.5 -0.8 -4.3 1.4 -3 -0.4 0.4 0.3 1 0.4 -5.4 0.7 -1.3 0 -5.3 -0.4 3.7 0.4 -9.2 1 2.4 0 -6.2 -0.9 1.8 1 -4.2 -0.3 -3.5 1.2 -0.4 -0.7 2.6 0.7 -7.8 0.6 0 0.2 -5.3 0.9 -1.9 -0.4 0.9 0.8 -6.3 -0.1 3.8 -0.1 -1.8 0.6 -9 -0.3 4.5 1.3 -5.2 -1.1 0.6 0.1 -7.2 0.2 -2.7 0.8 0.3 0.4 -2.4 0.3 0 0.9 -2.1 -1.4 -1.5 1.2 -8.6 0.3 2.9 0.2 -7.7 0 1 1 0.8 0.1 -7.9 -1.4 -0.1 -0.1 1.1 0.1 -7.9 1.6 -2.1 0 2.5 0.3 -4 -0.1 -3.4 0.1 0.1 0.4 -3.2 -0.3 -0.7 0.3 -3.1 0.2 -2.9 -0.8 -4.7 1.1 -2.3 -0.8 2.9 1 -6.2 -0.6 -0.9 0.2 -2.5 0.1 0.5 1 -5.5 0.5 0 0.3 -2.2 -0.1 -5.7 -0.9 1.9 1.2 -2.9 0.1 -2.6 -0.6 4 1.4 -2.3 -1.2 2.7 0.9 6.6 0.6 -1.2 0.3 3.4 -0.8 4.5 -0.1 -2.2 0.5 2.5 -0.5 5.9 1.2 3.1 0.3 -3 -0.2 3.5 -0.3 3.5 -0.5 0.1 0.9 3.5 -0.8 0.9 0.9 6 -0.9 3 0.1 -0.3 0.5 2.7 -0.1 4.4 0.2 0.4 1.2 1.7 -0.3 4.2 -0.5 -0.1 -0.6 -0.4 1.6 2.9 -1.3 4.5 0 -1.3 0.7 4.8 -0.5 -4.9 -0.1 0 0.9 1.1 0 -6.8 0.6 0.8 -0.8 -4.8 0.3 -2.2 -0.6 -0.5 1.2 -0.7 0.2 -5.7 -0.3 -1.1 -0.5 -4.2 0.3 0.5 -1 -2.4 1.5 0.6 -0.3 -6 -0.1 -0.5 -0.8 -5.5 1.6 0.3 -1 -1.7 -0.6 -0.7 -0.1 -4.9 1.4 -3.2 -1.2 2.3 0.1 -3.2 0.7 -3.6 -0.8 -3.3 0.3 -0.7 1 -0.4 -0.1 -4 -0.3 -1.2 0.1 -2.1 0.3 -3 0.3 -0.3 -1.6 -3.2 0 -5.8 0.9 -2 -0.7 -3.2 0.4 -2.3 0.7 -1.4 -0.8 -2.5 0 -2 0.8 1 -0.8 -2.2 0.7 -2.6 0.5 -3.2 -1.4 -4.9 0.3 -1.3 1.1 -1 -1.4 -0.5 0 -5.1 0.5 -1 0.6 -0.1 1.9 0.9 0.4 -0.6 1.8 3 -0.2 -2.2 1.3 2.2 0.7 1.2 1 3.8 -0.1 2.5 0.5 1 0.5 4.1 -0.6 0.8 -0.4 1.1 1.5 2 -0.8 5.7 -0.2 -2 1 5.8 -1.3 0.7 0 1.5 0.6 2.8 -0.3 1.5 1 2.6 -0.6 5.2 0.7 -3.2 -0.9 7 0.5 2.7 1.2 -3 -0.2 3.6 0.5 0.6 -0.1 1.9 -0.5 5.1 0.1 3.5 0.6 -0.3 -0.7 2.6 1.1 5.7 0 1.5 -1 0.7 0.2 3.2 0.9 2.1 -0.1 0.4 0.2 0.2 0.1 4.8 -0.6 2.7 -0.2 -0.8 -0.2 1.9 0.8 1.7 0.6 3.2 -0.7 2.5 0.4 2.5 -0.7 0.4 0.8 6.4 -0.9 1.9 0.8 -0.6 -0.1 3.2 -0.2 2.6 0.4 2 -0.8 0 1.7 -2.1 -0.2 -5.7 -0.1 0.7 -0.2 -6.5 0.7 2.4 -0.9 -4.1 1 -1.5 -1.4 -3.4 0.1 -1.7 0.8 -0.7 -0.4 -1.2 -0.3 -3.7 1.4 0 -1.4 -3 1.2 -4.4 0 -3.5 0.4 -2.6 -0.7 0.3 -0.5 -4.3 0.6 -1 0.3 0.9 -0.4 -4 -0.3 -3.9 0.8 -1 -0.6 -5.2 1.6 -0.4 -0.1 -0.1 0.4 -4.6 -1.6 -2.3 1.7 -1.7 0 -1 -0.7 -3.1 0.5 -1.1 -0.7 -3.9 0.1 0.5 0.2 -6.5 1.4 -0.6 -0.3 -0.9 -0.5 -4.7 1 2.2 -0.7 -4.6 -0.1 -4.7 0.4 -1 0.7 -2.4 -1 2.4 1.5 -3 -0.7 -4.9 -0.5 -1.8 0.5 -0.7 0.1 -1.8 1.1 -3 -1.1 -2.1 0.9 -1.9 -0.4 -0.4 0 -5.5 0.7 -1.2 0.1 1.3 1.8 -2.4 0.5 4 1.1 -3 0.2 4.7 0.7 2 1.5 1.7 0.3 -0.3 -0.1 0.1 -0.5 4.6 0.7 2.9 -0.8 -0.3 0.7 2.4 0.4 6.2 -0.3 0.7 0.6 1.9 -0.2 -1.6 -0.7 2.7 0.2 3 -0.6 3.5 0 -0.6 0.3 6.2 1 -0.6 0.1 6.3 -1.5 -2.7 0.8 5.2 -0.9 1.2 0.7 4.4 0.6 2.1 -0.5 0 0.2 -1.8 0 -1.7 -0.6 -0.1 1.4 -4.8 -0.9 -1.5 0.6 -2.2 1.1 -3.6 0.2 0.6 0 -3.6 0.3 -2.7 -1 -1.6 0.7 -2.6 -0.3 -1 0.8 -0.6 1 -6.3 0.2 -2.8 -0.3 -1 0.9 -1.3 1.2 4.4 1.3 -0.3 0.8 -1.2 0.9 4.7 0.9 2.2 -0.5 3.9 0.4 -0.8 -0.5 4.8 1.5 -0.6 0.1 6.9 0.1 -0.1 -0.2 2.1 0 4.6 -0.4 -0.7 -0.7 -0.1 1.4 7.9 -0.6 -1.7 -0.9 4.4 0 4 1.3 -0.7 -0.6 -0.1 0.8 4.1 -0.4 4.2 -0.1 3.6 -0.8 1.7 0.6 0.7 0.4 2.7 -0.6 3.6 -0.4 -0.2"/>
<path d="M1248.5 80l-0.4 0.9 0.5 5.6 0.1 2.8 0.9 1 -1.1 1.3 1 2.4 1 -0.4 1.4 5.4 0.9 0.6 -0.2 0 0.6 -6 0.6 -1.7 -0.8 -1.6 0.2 -2.4 -0.2 -0.8 1.2 -4.4 -1.4 1.6 0.2 -7 0.3 -1 0.7 -1.3 -0.5 -4.2 1.2 -3.1 0.2 1.8 0.1 -0.8 -0.9 -2.4 0.8 -4.2 -1.1 -4.3 1.4 -2.8 -1.4 -0.9 0.3 -1.8 0.9 -4.3 0.1 0.6 -0.6 -3.4 -0.4 -0.3 0.1 -3.4 0.8 -1.5 0.1 0.6 0.4 -7.5 -0.6 3.4 1 -2.4 -0.4 -3.1 0.3 -2.5 0.2 -0.6 -0.6 -3.3 1.1 -4.4 -1.6 -0.5 0.7 -4 -0.5 -3 0.5 -0.2 0.4 -2.5 0.7 0.8 0.8 -1.1 1.9 3.2 0.6 -2.5 1.2 0.9 1.4 -3.9 0.4 2.6 0 4.1 -0.3 1 0.2 1.9 0 0.8 0.5 0.4 1.1 4 -1.5 3.3 1.5 1.2 -0.5 4.4 -0.9 0.8 1.3 2.9 -0.2 1.2 -0.6 2.2 0.8 2.9 0.1 3.8 -0.8 0.2 1 1.7 -0.6 -1 1.2 12.3 -0.5 2.6 -0.2 -13.4 0 1.5 0.9 18.2 0.4 3.1 0 2.7 0.2 -2.5 -0.4 0.4 -0.6 3.5 0.3 -7.5 0.2 8.3 0.2 5.8 -0.1 4.6 -0.4 -5.5 -0.2 8.6 0.2 0.6 0.2 -8.9 0.5 10.9 0 0 0 3.4 -0.2 0.5 0.6 1 -0.3 9.7 1.2 -11.2 -0.3 14.7 -1.2 5.3 1.6 3.3 -0.4 -14.2 -0.3 7.7 0.5 12.5 -0.9 0.7 1.7 2.5 -0.5 -12 0 11 0.6 -1 -0.9 7 0.4 -1.5 0.8 4.6 -0.1 1.1 -0.9 8.6 0.9 -5.6 -1.3 -0.5 1.5 3.5 -1.3 13.3 0.4 -9.6 -0.1 7.1 0 -6.9 0.5 11.8 -0.2 0.6 -0.8 1.7 1.1 -3.1 0.4 11.4 -0.1 6.3 -0.3 -12.8 -0.1 15.2 0.4 -7.8 -0.6 -1.7 0.9 4.9 -0.7 8.4 -0.4 0 0 0 1.1 -11.5 0.8 -5.6 -0.5 6.8 0.1 2.7 -0.4 -10.4 0.4 3.2 0.6 -7.1 -0.1 -7.2 -0.3 8.2 0.9 -1.7 0.4 -0.2 -0.6 -8.2 0 -8.3 1.7 7 0.9 1.7 0.7 0 0.6 0 -0.5 11.6 -0.3 -9.8 0.9 9.8 0.8 -2.6 -0.1 -5.4 1.8 8 0.5 -8 -0.1 5.7 0.6 -5.7 1.5 6 -0.8 10.5 0 -4.1 0.9 1.1 -0.6 -5.3 -0.2 16.1 0.1 -7.7 -0.2 -1.3 0.3 10.2 1.2 5.2 -1.4 -2 0.4 -6.4 0.5 12 -0.2 1.4 0.8 3.3 0.6 7.1 -1.1 -1.5 0.5 -1.4 1.5 10.6 0.2 -2.6 -0.2 -5.5 0.3 -1.2 0.4 11.1 1.5 1.5 0.5 -2.1 -0.2 0 0.4 8.5 -0.6 -1.5 1.5 -5.8 -1 6.6 1.1 0.4 0.7 6.2 0 3.9 -0.5 2.2 0.7 8.5 1.3 0 0.8 -1.8 0.3 1.8 0.5 -9.4 1 0.2 0.2 0.8 -0.7 -5.6 1.6 10.5 -0.1 -9.5 0.5 -5 0.2 1.9 1.6 -1.9 0.3 0 -0.9 5 1.6 7.3 -0.3 5.4 -0.8 -6.4 0.2 8.7 1.5 2.6 0.2 -10.3 -0.9 11.9 -0.1 1.1 0.3 3.1 -0.3 -9.1 0.2 14.7 -0.1 0 0.8 -1 -0.5 -1 0.6 3 0.5 11.1 -0.9 -0.5 0.7 4.5 -1 -12.6 0.6 13.5 1.2 8.4 0.1 -7.3 -0.4 4 -1.1 -3.3 1 0.9 -0.1 4.6 -0.4 -2.8 1 7.7 -0.7 -1.3 0.4 6.5 -1 -2.4 0.9 16.4 -0.7 1 1.2 -4.4 0.2 8.9 0.2 -9 -1.4 -0.5 1.3 15.2 -0.6 -6.1 -0.4 -3.2 0.2 6.6 -0.2 -2.3 1.5 1.2 -0.7 11.2 0.3 -10.9 -0.1 6 0.3 4.8 0.4 -12 -0.1 0.4 0.3 5.4 0.1 -15.8 -0.7 4.5 -0.1 2 0.1 -12 0.6 10.7 0.2 -15.1 0.1 2.4 0.1 -1.4 0.4 -0.8 1.6 0.8 0.8 2.6 0.1 5.7 0.9 -1.2 -0.2 3.7 -0.6 -4.5 0.5 13.2 0 -8.9 1 11.4 -0.2 -6.4 0.7 5.4 0.3 6.3 0.4 1.3 -0.5 -6.3 -0.1 2.9 -0.3 12 0.1 4 0.7 -0.2 -0.4 6.7 0.7 -3.8 0.7 -4.9 -0.8 11.7 -0.1 -1.4 0.5 0.1 0.4 -2.7 -0.8 1 -0.2 12 1.3 -8.9 0.3 3.7 -0.8 9.1 0.2 -0.6 -0.4 11.6 0.7 3 1 -12.4 -1.2 8.1 0.3 5.7 0.9 -8.2 0.1 11.2 0.4 0 -0.2 -7.9 -0.7 7.9 0.9 -3.3 0.5 -3 -1 -10.1 0.1 1.6 1 1.6 0.3 -11.9 -1.5 -0.1 1 4.7 -0.9 -12.7 0.9 2.9 0.1 -9.2 -0.3 12 0.5 0.4 0.3 -18.2 0.1 13.7 -1.4 -5.1 0.6 -2.3 0.4 1.3 0.1 -15.4 -0.7 -2.4 0.5 -1.3 -0.5 -0.1 0.7 -0.6 0.2 1.1 0.2 -13.4 -0.1 12.6 -0.7 -9 0.5 0.8 0.6 -8.1 -0.3 1 -0.2 1 0.6 -7.3 -0.8 -7.8 1 13.8 -0.8 -18.2 0.5 6.3 0.6 -4.3 0.2 3.5 0.1 -6.8 -0.6 0.1 0.3 -3.3 0 2 0.2 -4.1 0.4 -4.4 -0.4 -7.6 0.2 4 -1.1 3.6 0.9 -13.5 -0.2 3.1 0.4 -7.1 -0.2 3.6 -0.3 -10.2 0.9 -1.9 -0.6 0 0.3 1 0.6 -3.3 -0.8 0.4 0.4 -12 0.3 2.1 -0.6 6.9 0.1 -10 0.5 -2.8 1.2 5.4 -1.3 -11.8 0.8 9.6 0 -6.8 -0.1 -5.6 0.1 -7.7 0.6 4.4 -1 7 0.7 -7.4 0.9 0.2 -0.6 -8 0.6 -4.2 1 3.2 0.1 2 1.2 10.1 -0.1 0.2 -0.1 -3.6 0.9 7.4 -1 1.7 0 -10 0.1 1.6 0.2 1.3 0.5 11 0.4 4 0.7 -7.1 -0.5 6.8 0.8 5 0 0 -0.1 -9.7 0.3 6.4 0.3 0.1 0.5 0.3 -0.4 -13.1 1.2 9.2 -1.3 -17.2 0.8 0 0.7 0 -0.6 0 0.7 0 0.2 8.7 1 2.1 1.2 0.7 -0.1 -1 1.2 -1 0.1 8.7 0.6 3.1 -0.2 0.7 0.8 -1 1.1 6.4 -0.2 0 1.6 -1 0.5 10 0 -10.2 0.7 4.7 -0.7 6.1 -0.1 3.4 0.2 7 1.1 -10.5 -1.1 14.1 0.4 -9.5 0.9 9.5 -0.2 -1 0.2 3.2 0.5 1.4 0 -5.3 0.3 1.4 -1.3 8 1.3 7.4 0.4 -1.1 -1.4 -2.4 0.1 13.8 0.1 -1.2 -0.2 6.4 1.2 -8.3 0.1 6.1 0.6 -4.6 -1.3 1.6 0.1 11 1.2 2.1 -0.6 -1 0.3 -1 0.3 1.4 -1 8.3 1.1 7.8 -0.7 -10.6 -0.4 15.8 0 -6.4 0.9 -2.4 -0.5 -0.4 0.7 12.2 -1 -6.1 1.2 13 -1.1 -8.8 0.2 6.9 -0.2 5.4 0.4 -7.4 0.1 10.5 -0.4 1.5 0.7 10.7 0.5 -12 0.2 3.7 0.1 11.6 0 -4.1 -0.2 7.2 -0.7 -10.3 0.9 13.3 -0.8 2.1 0 5.3 0.9 -0.2 0 -4.3 -0.5 11.8 0 4.6 1.3 -14.2 0.1 1.2 0.1 16.8 -1 -2.6 1.2 0.8 -1.1 5.4 0.4 -1 0.4 -1 -0.7 8.9 0.2 -1.4 0.9 6.3 -0.6 -5.1 0.7 -3.2 -1.2 12.5 0.2 0.4 0.7 0.8 0 11.9 -0.7 -4.6 1.1 7.1 -0.8 -11.6 0 3.1 0.3 15.7 1.1 -11.2 0 6.8 -1.4 6.4 1.7 -8.9 -0.7 19.6 -0.2 0.5 1.1 1.9 -1.1 -2 -0.1 -7.8 0.5 9.4 0.8 -1 0 6 -0.7 -2.4 0.2 10.7 1.2 -0.8 -0.6 4.8 1 -6.4 -0.7 6.4 1.5 -3.7 0.5 2.1 -0.6 1.7 0.2 5.9 0.3 2 0.3 4.7 -0.4 4.7 -0.1 -3.2 0.3 9 1.7 3.1 -1.2 -3.5 1.3 0.2 -0.6 5.9 0 -1.3 -0.1 1 0.1 7.9 1.3 -4.3 -0.8 11.1 1.3 -0.4 -0.6 -4 0.8 8.5 -0.6 3.4 0.2 4 0.4 -3.1 -0.5 6.4 1.1 -0.8 -0.6 3.3 0.5 4.9 0.6 -6.5 -1.1 8.8 0.5 -2 0.1 7.2 0.3 -3.3 0.5 4.7 0.3 1.8 0 -0.4 0.6 2 0.7 9.1 -0.4 2 -0.6 -3 0.4 3.8 0.6 2.8 -0.9 -0.1 0.9 2.1 -0.3 2 1.1 0.9 -0.3 5.8 0.3 6.5 1 -0.9 0.5 2.3 0.2 0 1 -0.5 -0.8 4.9 1.2 0.4 0.1 1.4 -0.2 6.2 1.8 -1.6 -0.4 5.3 1.8 0.5 0.7 4.1 1.1 1.7 1.3 2.2 0 -2.2 0.4 9.9 1.6 -4.2 1.1 4 1 7.1 -0.4 -1.3 0.3 -0.4 0.7 0.4 1.3 5.7 0.3 3 0.8 0.2 -0.2 -0.6 1.2 8.3 1.1 2.2 0.3 -1 0.6 -1 0.3 10.1 0.7 -6.4 -0.6 5.4 1.5 6.7 -1 -1.9 2.1 -1.9 -0.5 5.4 0.4 -1 2.5 7.6 0.3 0 1.1 -3.3 0.1 -4.3 1.1 1 1.7 -0.4 0.8 -3.7 1.2 -1.3 0.5 1.2 1.5 -4.7 0.9 0.9 0.4 -2.4 1.8 3.5 0.3 -1.6 0.2 -0.6 1.5 -1.8 0.8 -4 -0.3 -0.3 0.2 -1.5 1.2 -2.6 0.9 -5.1 0.3 -1 1.1 -4.5 2 -0.1 0.7 2.8 1 -3.6 1.3 -1.5 2 4.1 -0.6 -5 2.7 1.9 0.6 -0.5 -0.2 2.7 1.9 -3.2 0.1 -1 0.5 4.4 0.8 4.6 0.4 -2 1.3 7.3 0 -1 1 -1 1 2 0.8 3.9 -0.2 7 0.6 -0.4 0.9 0.9 -0.7 7.4 0.2 0.6 1 1.9 -0.4 -3.2 0.3 1.2 0.5 1.5 0.5 6.5 0.5 4.1 0.3 0.9 0.2 2.1 0.3 -1 1.8 3.7 0.6 2.7 1.9 3.2 0.1 0 0.7 -2.1 1.6 -6.6 0.7 0.1 0.3 -0.4 0.8 -4.3 1.6 -2.1 -0.6 -3.8 1.2 1 1.1 -3 1.3 -3.4 -0.4 -1.2 2.3 0.6 0.5 -0.8 1.3 2.7 0.4 -1.2 0.4 -6.1 1.5 2.3 0.5 1.7 1.7 -7 0.6 1.7 1.5 -2.1 0.3 -0.4 1.3 0.7 1.7 -4.6 1 -3.7 1.4 -5.6 -0.1 0.8 1.7 -1.2 1 1 1 -1 0.3 -4.5 0.2 -3.2 -0.2 -2.8 0.6 -0.8 1.1 1 -0.7 -0.5 0.7 -5.2 -0.4 1 1.4 -1.6 0.4 -3.8 -0.3 -6.8 0.5 2.7 0.1 -4.8 1.3 -0.7 0.3 1 1.2 -7 0 -2.3 0.6 2.3 -0.8 -3.2 1 -7 0.2 0.2 0.5 1 0.1 -4.3 0.4 0 0.4 -1 0.5 -2.3 1.2 -2 -0.3 -10.4 0.2 1 0.1 -0.8 1.8 -7.4 0.2 6.1 -0.1 -10.7 1.3 2.7 -0.3 -1.9 -0.6 -2.6 1.2 0.8 0.4 -6.7 0.3 -2.8 -1 -1.6 0.3 3.4 0.6 -5 0 -5 1 0.1 0.8 -1.7 -0.5 -1.9 -0.3 -1.6 0.2 -0.7 0.7 -1.3 0.5 -7.7 0 1.3 1.1 2.2 0.6 -8.3 -0.3 -0.9 -0.2 -5 -0.1 0.8 1.4 -5.1 -1.3 -1.9 1.6 -1.5 0.3 -0.3 -0.7 -2 -0.3 -6.3 0.5 1.3 0.4 -0.7 0.3 -2.2 -0.3 -0.6 0.9 -3.8 0.7 -2.7 0.2 -1.4 1.4 2 0.7 -6.6 0.9 1 0.4 -8 1.7 1 0.7 0.2 -0.5 -2.1 1.3 -8.2 1.3 4.7 -0.3 -4.6 0.3 -5.7 1.3 -2.1 -0.6 3.6 0.1 0.4 1.4 -6.5 0.2 -1.9 0.9 -3.7 -0.9 1.5 1.2 -3.3 -0.7 -3.7 1.3 -0.4 -0.3 -6.7 -0.8 -2.4 0.7 4.8 0.3 -7.7 0.7 3.4 -0.3 -6.5 -0.3 -1.4 1 -1.7 -0.1 0.8 0.5 -4.4 0.6 -7 -0.7 2.3 1.4 0.6 -0.6 -4.5 0.9 0.9 0.5 -4.4 -0.9 -1.4 1.5 -6.9 -0.1 1 1.2 1 0.6 -2.6 -0.1 -5.4 0.1 -2.6 0.7 -4.3 0.5 0.9 0.8 -6.7 1.3 -0.3 0.6 2.3 0.9 -2.3 1.2 2.8 0.5 -2.6 -0.2 4.6 1.2 5 -0.3 0.2 0.4 3.1 0.7 -1.2 0 6.8 1.4 0.3 0 0 0.9 -6.6 -1.4 0.1 1.6 -0.4 -1.1 -3.3 1.1 -4 -0.7 -1 0.3 -1.6 -0.3 -3.7 0.9 -3.2 0.5 -3.1 -1.6 -3.5 0.3 4.7 0.3 -6.7 0.6 2.9 0.2 -1.8 0.7 -7 -0.8 -0.8 0.3 -0.2 -0.3 -8.2 0.6 -1 -0.5 0.1 0.6 -1.7 0.1 -6.6 0.4 3.8 0.6 1.4 -0.5 -8.8 0.3 0 0.4 -2.3 2 -0.3 1.1 0 -0.7 -4.8 0.6 -5.3 -0.5 -2.6 1.2 5.4 0.1 -9.9 0.2 1 0.2 1 1 -3.5 0.8 -4.8 0.3 -5.5 0.1 1.6 1.3 1.1 0.7 -4.9 0.1 -2 0.3 0.8 2 -3.9 -0.1 -3.1 -0.7 -5.7 0.5 3.8 0.9 -8.8 -0.6 3 1 -5 0.4 -1.3 -0.4 -5.4 -0.2 1.4 0.9 -4.7 -0.5 0.9 -0.7 -0.1 0.2 -3.7 0.7 -6.4 0.6 1.2 -0.5 -4.5 0.9 -3.9 -0.6 5.5 0.8 -1.4 -1 -6.7 0.4 -4 0.2 -1.1 0.6 1.1 -0.9 -8.7 -0.3 3.6 1 -7.6 0 -2 -0.5 -1.9 1.2 -1.2 -0.7 0.9 0.1 -3.1 0.2 0.3 0.6 -4.1 0.1 -9 0.4 -0.9 -1.6 -1.5 1.6 8.1 -0.1 -9 0.5 -7.8 -1.4 8.9 1.4 -5 -0.9 -7.1 0 4.8 0.4 -10.9 1.2 3.5 0.2 -7.5 0 2.5 -1.2 -6 0.9 -3.2 -0.1 -1.2 -0.3 -2.1 1 0.9 -0.4 -1.7 0.4 -2.6 0.4 -2 1.7 -1.4 1.7 0 0.3 4 -0.1 5.1 1 -4.9 -0.6 8.5 0.2 4.2 -0.3 -2.4 0.6 2.7 -0.3 -0.1 0 5.3 0.6 7.3 1 1.7 -1.1 1.6 1.5 -1.8 -0.5 1.8 -0.2 5.6 1.1 4.4 -1.1 2.9 0.8 -8.4 0 12.8 0.5 -9 0.1 2.2 -0.1 2.5 -0.6 9 0.9 0.3 0.5 6.7 -0.1 -2.1 -0.3 2.1 0.2 0 0.4 -7.1 1 7.1 -0.2 -10.7 0.6 -1.5 1.2 -2.8 -0.2 0 0.5 8.2 0.8 -7.1 -1.2 5 0.8 8.6 1.3 -4.9 -0.5 3.9 1.4 -0.9 -1.2 6.2 1.1 0 0.8 -7.6 -0.2 7.6 -0.4 -7.3 1.3 2.5 1 -1.1 -0.5 -6.3 0.6 1.3 1 -5.4 -0.1 -2.1 -0.3 -2.4 0.6 -4.2 0.3 5.2 0.9 4.6 -0.7 -5.9 0 3.9 0.3 -0.3 0.9 2.1 -0.8 1.2 0.4 2.3 -0.9 11.3 0.2 -6.7 0.9 3 1 2 -1.4 7.6 1.6 2.7 -0.5 -1 1.2 -1 -0.4 0.9 0.6 10.1 -0.1 0 1 0 1 -0.6 -0.7 0.6 -0.3 -8.7 0.9 2.4 -0.4 -10.9 0.9 -1.6 0 4.2 1 0.7 -0.7 -6.1 0.7 -1.6 -0.7 0.7 0.3 -0.5 0.8 -13.7 -1.2 8.5 0.7 -4.2 1.1 -6.3 -1.2 3 1.4 -4 -0.4 -3.9 -0.8 -6 1.6 7 -1.1 -3.9 0.1 -3.4 -0.2 -9.4 0.6 0.7 0.3 -4.2 0.7 -4 -0.7 6.1 0.3 -11.2 0.5 4.4 -0.2 -7.7 -0.5 -0.4 0.6 1 0.3 2.2 1.3 -5.9 1.7 -0.1 0.6 -0.7 0.8 0 0.9 2.4 0.1 6.1 0.6 -1 0.4 5.6 1.6 2.4 0.6 -1 0.7 -6.2 1.9 12.4 1.3 -6.8 0.5 1.6 -0.7 -1 1.1 8.3 -0.8 -3.9 1.1 4.7 0.1 6.3 -0.3 2.3 -0.5 -6.2 1.8 6.4 -0.8 7.5 0 -1.5 1.1 5.6 -0.8 -4.6 1.1 6.5 -1.3 3.6 0.9 -1 0.1 -1 1 0.2 -1.2 6.1 1.3 8.4 0.3 -8.3 -0.3 13.1 -0.6 -3.2 0.2 7.4 1 -8.8 -0.3 12.3 0.8 -0.3 0.3 -0.7 -0.8 4.9 0.7 -2.6 0 4.5 -0.1 0.4 0.2 9.5 1.2 0.2 -0.6 -6.1 0.9 3.3 0.4 6.7 -0.3 2.4 1.5 6.2 1 0.8 0.1 0 0 -0.4 0 -8.3 1.6 1.9 -0.9 3 1.4 -8.6 -0.4 -2.9 0.4 4 0.1 -5.1 -0.2 -4 -0.2 0.2 1.6 -8 -0.4 4.4 0.8 -6.3 -0.8 4.9 0.3 -9 0.4 -2.9 0 0.7 0.4 -6.1 1 0.1 0.8 -1 -0.1 0.6 0.9 7.5 0.6 -5.4 -0.9 6.6 0 2.4 0.2 6.3 1.3 -0.2 -0.2 -0.8 -0.5 2.7 0.1 4.5 1.4 0.9 -1.2 4.5 1 1.1 0.7 3.8 -0.7 1.2 0.1 2.1 1.2 -3.5 -1.4 8.7 0.8 -1 0 -1 0.9 0 -0.4 9.8 -0.4 -1.1 0.5 0.9 0.4 7.3 1.1 3 -0.1 1.8 0 -1 0.6 5.6 1 -6.6 1 3.1 -0.2 8.8 0.6 -0.6 0.9 -1 0 6.4 1.1 -3.3 0.6 7.1 0.4 0.4 0.4 0 0.8 -7.5 0.6 -2.8 0.2 0.7 -0.5 -5.5 0.6 2.8 1.2 -4.6 -0.3 2.4 0.4 -5.4 0 -1.4 1.7 -9.7 -0.3 6.4 1.1 0.5 -0.4 -7.5 0.9 0.8 1.6 -1.5 0.5 0 0.3 1.7 1.9 0.5 -0.2 5.5 1.6 -1 -0.5 4.9 1.4 1.1 0.3 -1 0.2 4.2 -0.3 5.6 -0.5 -1.7 1.1 1.3 0.8 -1.1 -0.3 7.7 -0.5 8.4 0.7 -0.9 0.3 2.7 -0.2 4.3 1 -9.3 -1.3 9.4 0.7 0.4 0.6 -1 0.6 10 0.5 -0.6 -1.4 -5.4 1.2 9.9 -0.5 6.4 1.4 1.2 -0.1 -8 0.4 8 -0.3 -2.2 0.8 2.2 1.4 -2 0.4 -8.6 -0.4 1.3 0.4 -3.2 0.7 -4 1.7 -1.9 -0.1 -1.3 0.8 4.2 0.4 -4.2 0 9.2 0.4 -6 -0.5 12 1.8 -2.8 -0.2 1.8 1 -0.6 -0.4 5.5 -0.1 1.7 0.8 6.9 0.6 -4.6 -0.2 6.5 2.1 -2.2 -0.4 4.5 1.7 -5.7 -0.1 0.1 1 0.9 0.6 5.3 1.4 -5.7 -0.5 0 0.8 4.5 1.2 -2.3 -0.1 7 -0.4 5.5 0.2 3.7 1.2 -2.4 0.2 -2.4 -0.1 6.8 0.4 -0.9 0.9 -0.1 0 8 -1 0.5 0.8 2.4 -0.3 7.9 1.3 -7.7 -0.8 3 0.9 6.4 0.6 -1 -0.4 5.7 1.4 6.1 0.7 -5.1 -0.7 -0.3 0.9 4.9 0.8 4.2 1.3 7.1 -0.8 1.2 1 5 0.7 -2.6 -0.1 3 -0.4 -3.8 1.1 6.1 -0.5 -1 0.6 1.7 1.5 1.4 0.1 11 0.4 -2.9 -0.6 6.5 0.1 -2.5 -0.3 6.8 0.9 -1 -0.4 -1 1.8 0 -0.2 9.3 0 -6 0.8 5.5 0.4 5.2 0.2 0 0.4 -0.9 1.5 -7.1 -0.1 -1.5 0.6 -1.5 0.6 1 0.7 -3.4 -0.8 -5.9 1.6 4.2 -1.1 -13.5 1.4 1.5 0.6 -2.9 -0.5 1 1.7 -1.9 0.4 1 0.4 -5.1 1.2 1.9 0.3 2.8 -0.5 -2.6 1.5 5.4 0.2 1.1 0.1 7.4 0.2 0 -0.2 4.4 0.2 1.6 1.3 -0.9 -0.1 0.4 1.1 4.5 -0.2 0.7 0.2 7.3 0.7 -1 1.3 -3 0.2 10 1 -5.2 1 9.4 1.5 -4.2 0.4 3.8 1 -1.8 1.5 1 1.6 5 -0.3 0.4 1.3 3.1 -0.3 0.7 0.7 1.9 0.8 2.8 0.3 5.1 -0.4 0.2 1.6 10 0.4 -7.3 0.6 8.8 -0.2 -0.7 0.8 1.7 0.8 6.4 0.8 -0.8 -0.7 2 1.3 1.7 1.4 8.1 0 -4.9 0 2.7 0.3 5.1 1.3 -1 1.3 -1 0.7 5"/>
</g></g>
</g>
<rect x="168.15" y="23.15" width="1488.7" height="787.2" fill="none" stroke="#333333" stroke-width="2.3"/>
<g stroke="#333333" stroke-width="3.9">
<line x1="156" x2="167" y1="63" y2="63"/>
<line x1="156" x2="167" y1="204.5" y2="204.5"/>
<line x1="156" x2="167" y1="346" y2="346"/>
<line x1="156" x2="167" y1="487.5" y2="487.5"/>
<line x1="156" x2="167" y1="629" y2="629"/>
<line x1="156" x2="167" y1="770.7" y2="770.7"/>
<line x1="1658" x2="1669" y1="74.8" y2="74.8"/>
<line x1="1658" x2="1669" y1="274.6" y2="274.6"/>
<line x1="1658" x2="1669" y1="474.3" y2="474.3"/>
<line x1="1658" x2="1669" y1="674.1" y2="674.1"/>
<line y1="811.5" y2="821.7" x1="455" x2="455"/>
<line y1="811.5" y2="821.7" x1="755.7" x2="755.7"/>
<line y1="811.5" y2="821.7" x1="1056.3" x2="1056.3"/>
<line y1="811.5" y2="821.7" x1="1357" x2="1357"/>
</g>
<g font-size="36.67" fill="#4D4D4D">
<text x="146.7" y="78" text-anchor="end">0.7</text>
<text x="146.7" y="219.5" text-anchor="end">0.6</text>
<text x="146.7" y="361" text-anchor="end">0.5</text>
<text x="146.7" y="502.5" text-anchor="end">0.4</text>
<text x="146.7" y="644" text-anchor="end">0.3</text>
<text x="146.7" y="785.7" text-anchor="end">0.2</text>
<text x="1678.5" y="89.8">100</text>
<text x="1678.5" y="289.6">75</text>
<text x="1678.5" y="489.3">50</text>
<text x="1678.5" y="689.1">25</text>
<text x="455" y="859.4" text-anchor="middle">05/02</text>
<text x="755.7" y="859.4" text-anchor="middle">05/03</text>
<text x="1056.3" y="859.4" text-anchor="middle">05/04</text>
<text x="1357" y="859.4" text-anchor="middle">05/05</text>
</g>
<text x="911.8" y="913.2" font-size="45.83" text-anchor="middle" fill="#000">Datetime</text>
<g transform="translate(63.3,0) rotate(-90)" font-size="45.83" fill="#000"><text x="-547.8" y="0">NO<tspan font-size="32.08" dy="9" dx="0">2</tspan></text><text transform="translate(-425.59999999999997,0) scale(1.18,1)" x="0" y="0" font-size="54.2">(</text><text x="-404.99999999999994" y="0">ppbv</text><text transform="translate(-304.19999999999993,0) scale(1.18,1)" x="0" y="0" font-size="54.2">)</text></g>
<g transform="translate(1763.5,0) rotate(90)" font-size="45.83" fill="#000"><text x="302.4" y="0">O<tspan font-size="32.08" dy="9" dx="2">3</tspan></text><text transform="translate(391.09999999999997,0) scale(1.18,1)" x="0" y="0" font-size="54.2">(</text><text x="410.4" y="0">ppbv</text><text transform="translate(510.4,0) scale(1.18,1)" x="0" y="0" font-size="54.2">)</text></g>
<line x1="1896" x2="1953.5" y1="391.8" y2="391.8" stroke="#0E6CD9" stroke-width="8"/>
<line x1="1896" x2="1953.5" y1="464" y2="464" stroke="#FB4B4F" stroke-width="8"/>
<text x="1984" y="401.5" font-size="36.67" fill="#000">NO<tspan font-size="25.67" dy="9">2</tspan></text>
<text x="1984" y="473.5" font-size="36.67" fill="#000">O<tspan font-size="25.67" dy="9">3</tspan></text>
</svg></body></html>
